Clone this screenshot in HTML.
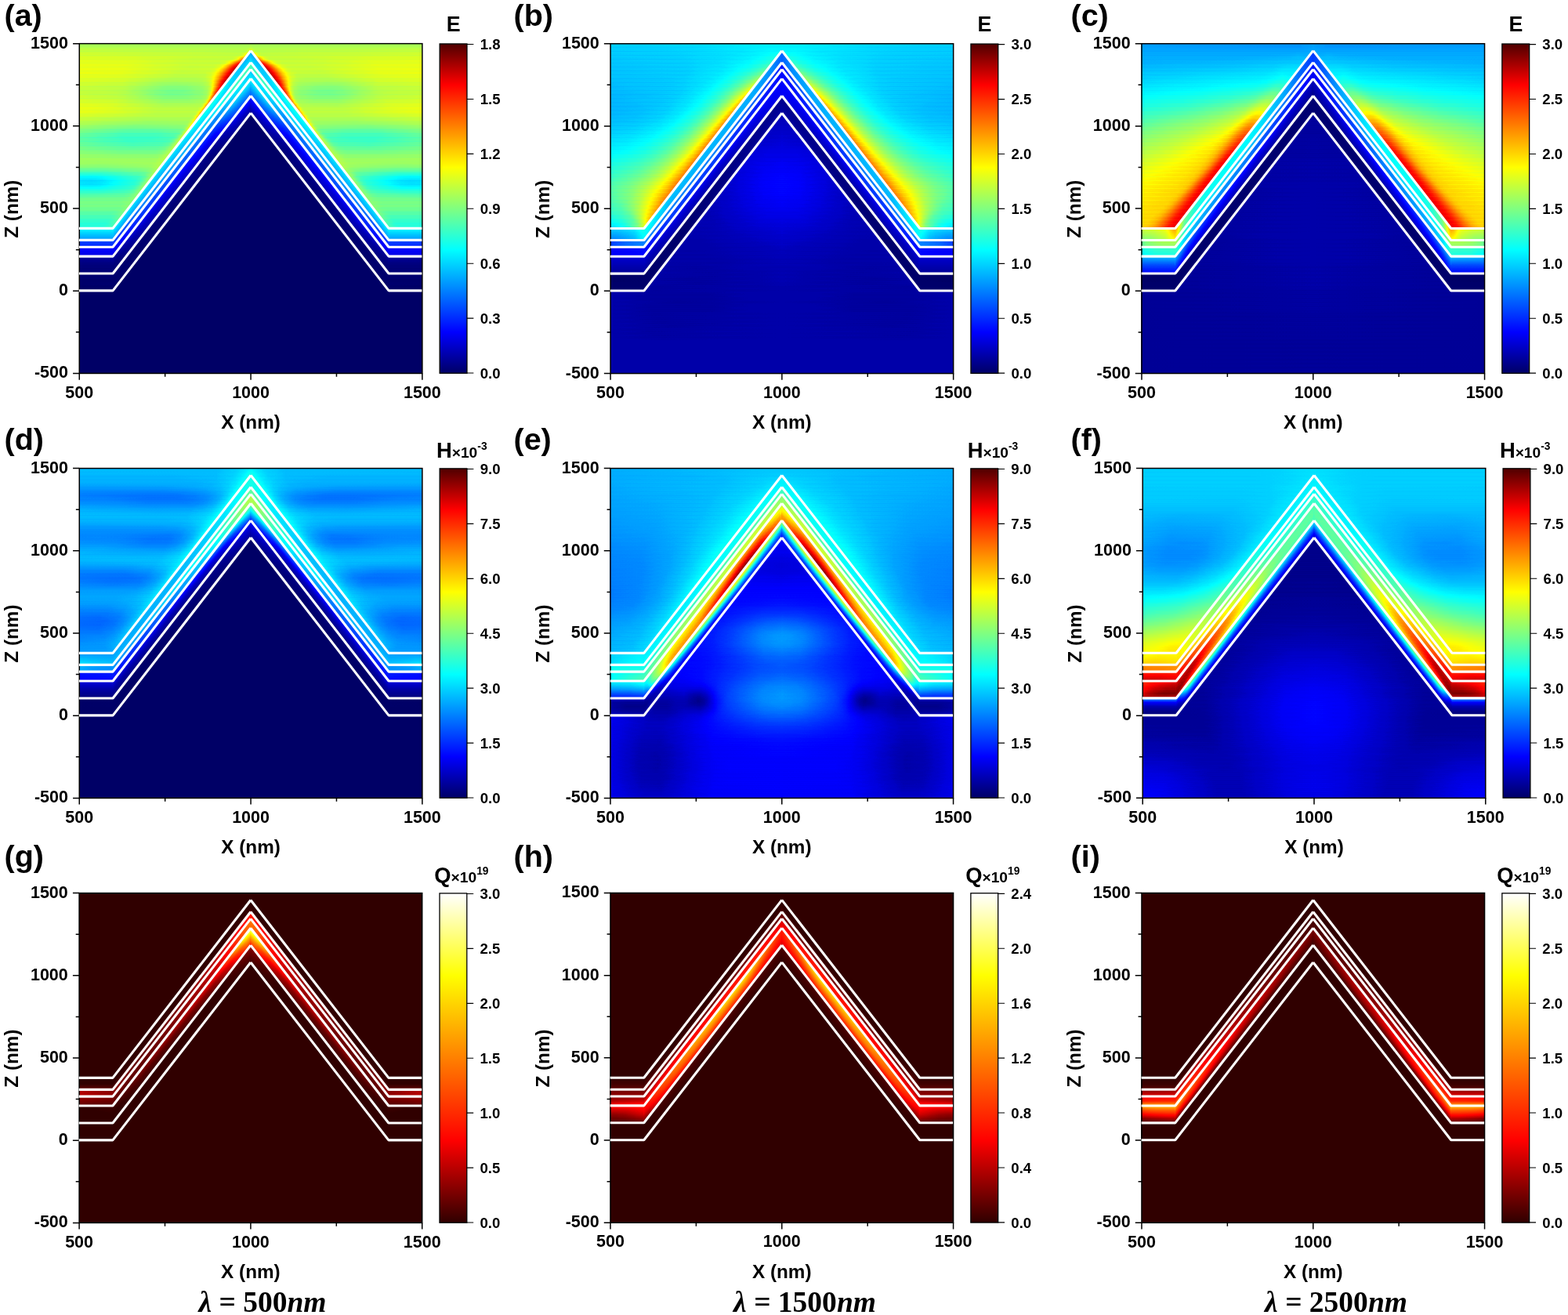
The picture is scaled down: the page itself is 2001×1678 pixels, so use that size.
<!DOCTYPE html>
<html lang="en"><head><meta charset="utf-8"><title>Field distributions</title><style>html,body{margin:0;padding:0;background:#fff}svg{display:block}</style></head><body><svg xmlns="http://www.w3.org/2000/svg" width="2001" height="1678" viewBox="0 0 2001 1678" font-family='"Liberation Sans", Arial, Helvetica, sans-serif' font-weight="bold" fill="#000"><defs><linearGradient id="vr" x1="0" y1="0" x2="0" y2="1"><stop offset="0" stop-color="#fff" stop-opacity="0"/><stop offset=".5" stop-color="#fff"/><stop offset="1" stop-color="#fff"/></linearGradient><mask id="vm" maskContentUnits="objectBoundingBox"><rect width="1" height="1" fill="url(#vr)"/></mask><linearGradient id="vr2" x1="0" y1="0" x2="0" y2="1"><stop offset="0" stop-color="#fff" stop-opacity="0"/><stop offset="1" stop-color="#fff"/></linearGradient><mask id="vm2" maskContentUnits="objectBoundingBox"><rect width="1" height="1" fill="url(#vr2)"/></mask><clipPath id="cla"><rect x="-4" y="-4" width="222.87" height="428.8"/></clipPath><clipPath id="clb"><rect x="-4" y="-4" width="223.67" height="428.8"/></clipPath><clipPath id="clc"><rect x="-4" y="-4" width="223.57" height="428.8"/></clipPath><clipPath id="cld"><rect x="-4" y="-4" width="222.87" height="428.8"/></clipPath><clipPath id="cle"><rect x="-4" y="-4" width="223.58" height="428.8"/></clipPath><clipPath id="clf"><rect x="-4" y="-4" width="222.81" height="428.8"/></clipPath><clipPath id="clg"><rect x="-4" y="-4" width="223.71" height="428.8"/></clipPath><clipPath id="clh"><rect x="-4" y="-4" width="223.58" height="428.8"/></clipPath><clipPath id="cli"><rect x="-4" y="-4" width="223.57" height="428.8"/></clipPath><clipPath id="cs"><rect x="42.8" y="-4" width="180" height="428.8"/></clipPath><filter id="jet" filterUnits="userSpaceOnUse" x="0" y="0" width="437.6" height="420.8" color-interpolation-filters="sRGB"><feComponentTransfer><feFuncR type="table" tableValues="0 0 0 0 .5 1 1 1 .31"/><feFuncG type="table" tableValues="0 0 .5 1 1 1 .5 0 0"/><feFuncB type="table" tableValues=".4 1 1 1 .5 0 0 0 0"/></feComponentTransfer></filter><linearGradient id="cbjet" x1="0" y1="1" x2="0" y2="0"><stop offset="0" stop-color="#000066"/><stop offset=".125" stop-color="#0000ff"/><stop offset=".25" stop-color="#0080ff"/><stop offset=".375" stop-color="#00ffff"/><stop offset=".5" stop-color="#80ff80"/><stop offset=".625" stop-color="#ffff00"/><stop offset=".75" stop-color="#ff8000"/><stop offset=".875" stop-color="#ff0000"/><stop offset="1" stop-color="#4f0000"/></linearGradient><filter id="hot" filterUnits="userSpaceOnUse" x="0" y="0" width="437.6" height="420.8" color-interpolation-filters="sRGB"><feComponentTransfer><feFuncR type="table" tableValues=".19 1 1 1 1"/><feFuncG type="table" tableValues="0 0 .5 1 1"/><feFuncB type="table" tableValues="0 0 0 0 1"/></feComponentTransfer></filter><linearGradient id="cbhot" x1="0" y1="1" x2="0" y2="0"><stop offset="0" stop-color="#300000"/><stop offset=".25" stop-color="#ff0000"/><stop offset=".5" stop-color="#ff8000"/><stop offset=".75" stop-color="#ffff00"/><stop offset="1" stop-color="#ffffff"/></linearGradient><path id="wl" d="M-.4 235.75H42.8L218.8 8.95M218.8 8.95L394.8 235.75H437.1M-.4 250.75H42.8L218.8 23.95M218.8 23.95L394.8 250.75H437.1M-.4 259.55H42.8L218.8 32.75M218.8 32.75L394.8 259.55H437.1M-.4 271.45H42.8L218.8 44.65M218.8 44.65L394.8 271.45H437.1M-.4 293.35H42.8L218.8 66.55M218.8 66.55L394.8 293.35H437.1M-.4 315.25H42.8L218.8 88.45M218.8 88.45L394.8 315.25H437.1" fill="none" stroke="#fff" stroke-width="3.1" stroke-linejoin="bevel"/><g id="ax"><rect x="0" y="0" width="437.6" height="420.8" fill="none" stroke="#000" stroke-width="1.5"/><path d="M0 420.8h-8.2M0 315.6h-8.2M0 210.4h-8.2M0 105.2h-8.2M0 0h-8.2M0 368.2h-4.4M0 263h-4.4M0 157.8h-4.4M0 52.6h-4.4M0 420.8v8.2M218.8 420.8v8.2M437.6 420.8v8.2M109.4 420.8v4.4M328.2 420.8v4.4" stroke="#000" stroke-width="1.5" fill="none"/></g><path id="ct" d="M494.7 420.4h8.4M494.7 350.48h8.4M494.7 280.57h8.4M494.7 210.65h8.4M494.7 140.73h8.4M494.7 70.82h8.4M494.7 .9h8.4" stroke="#000" stroke-width="1.1" fill="none"/><g id="tl" font-size="21.5"><text x="-14.3" y="426.8" text-anchor="end">-500</text><text x="-14.3" y="321.6" text-anchor="end">0</text><text x="-14.3" y="216.4" text-anchor="end">500</text><text x="-14.3" y="111.2" text-anchor="end">1000</text><text x="-14.3" y="6" text-anchor="end">1500</text><text x="0" y="452" text-anchor="middle">500</text><text x="218.8" y="452" text-anchor="middle">1000</text><text x="437.6" y="452" text-anchor="middle">1500</text><text x="218.8" y="491.3" text-anchor="middle" font-size="24.3">X (nm)</text><text transform="translate(-77.9 211) rotate(-90)" text-anchor="middle" font-size="24.3">Z (nm)</text></g><linearGradient id="g1" gradientUnits="userSpaceOnUse" x1="0" x2="219.4" y1="0" y2="0"><stop offset="0" stop-color="#8d8d8d"/><stop offset=".9863" stop-color="#8c8c8c"/><stop offset="1" stop-color="#909090"/></linearGradient><linearGradient id="g2" gradientUnits="userSpaceOnUse" x1="0" x2="219.4" y1="0" y2="0"><stop offset="0" stop-color="#929292"/><stop offset=".9635" stop-color="#8f8f8f"/><stop offset=".9726" stop-color="#919191"/><stop offset=".9909" stop-color="#9a9a9a"/><stop offset="1" stop-color="#9b9b9b"/></linearGradient><linearGradient id="g3" gradientUnits="userSpaceOnUse" x1="0" x2="219.4" y1="0" y2="0"><stop offset="0" stop-color="#959595"/><stop offset=".9361" stop-color="#919191"/><stop offset=".9498" stop-color="#959595"/><stop offset=".9726" stop-color="#a8a8a8"/><stop offset="1" stop-color="#a8a8a8"/></linearGradient><linearGradient id="g4" gradientUnits="userSpaceOnUse" x1="0" x2="219.4" y1="0" y2="0"><stop offset="0" stop-color="#989898"/><stop offset=".3196" stop-color="#979797"/><stop offset=".6575" stop-color="#929292"/><stop offset=".8904" stop-color="#929292"/><stop offset=".9132" stop-color="#999999"/><stop offset=".9224" stop-color="#a1a1a1"/><stop offset=".9452" stop-color="#bfbfbf"/><stop offset=".9543" stop-color="#c6c6c6"/><stop offset="1" stop-color="#c7c7c7"/></linearGradient><linearGradient id="g5" gradientUnits="userSpaceOnUse" x1="0" x2="219.4" y1="0" y2="0"><stop offset="0" stop-color="#9a9a9a"/><stop offset=".2785" stop-color="#999999"/><stop offset=".5799" stop-color="#939393"/><stop offset=".8174" stop-color="#929292"/><stop offset=".8493" stop-color="#979797"/><stop offset=".8676" stop-color="#a0a0a0"/><stop offset=".8858" stop-color="#afafaf"/><stop offset=".9178" stop-color="#d4d4d4"/><stop offset=".9269" stop-color="#dcdcdc"/><stop offset=".9361" stop-color="#e0e0e0"/><stop offset="1" stop-color="#e0e0e0"/></linearGradient><linearGradient id="g6" gradientUnits="userSpaceOnUse" x1="0" x2="219.4" y1="0" y2="0"><stop offset="0" stop-color="#9b9b9b"/><stop offset=".2603" stop-color="#9a9a9a"/><stop offset=".6484" stop-color="#929292"/><stop offset=".7854" stop-color="#939393"/><stop offset=".8174" stop-color="#9a9a9a"/><stop offset=".8402" stop-color="#a7a7a7"/><stop offset=".8539" stop-color="#b3b3b3"/><stop offset=".8904" stop-color="#dbdbdb"/><stop offset=".9041" stop-color="#e7e7e7"/><stop offset=".9178" stop-color="#ededed"/><stop offset="1" stop-color="#ededed"/></linearGradient><linearGradient id="g7" gradientUnits="userSpaceOnUse" x1="0" x2="219.4" y1="0" y2="0"><stop offset="0" stop-color="#9b9b9b"/><stop offset=".2511" stop-color="#9a9a9a"/><stop offset=".5936" stop-color="#929292"/><stop offset=".758" stop-color="#939393"/><stop offset=".7854" stop-color="#989898"/><stop offset=".8082" stop-color="#a2a2a2"/><stop offset=".8311" stop-color="#b3b3b3"/><stop offset=".8721" stop-color="#dddddd"/><stop offset=".8904" stop-color="#eaeaea"/><stop offset=".8995" stop-color="#ededed"/><stop offset="1" stop-color="#ededed"/></linearGradient><linearGradient id="g8" gradientUnits="userSpaceOnUse" x1="0" x2="219.4" y1="0" y2="0"><stop offset="0" stop-color="#9a9a9a"/><stop offset=".2237" stop-color="#999999"/><stop offset=".5936" stop-color="#909090"/><stop offset=".7306" stop-color="#919191"/><stop offset=".7671" stop-color="#979797"/><stop offset=".79" stop-color="#a1a1a1"/><stop offset=".8128" stop-color="#b2b2b2"/><stop offset=".8493" stop-color="#d8d8d8"/><stop offset=".863" stop-color="#e4e4e4"/><stop offset=".8813" stop-color="#ededed"/><stop offset="1" stop-color="#ededed"/></linearGradient><linearGradient id="g9" gradientUnits="userSpaceOnUse" x1="0" x2="219.4" y1="0" y2="0"><stop offset="0" stop-color="#989898"/><stop offset=".2557" stop-color="#969696"/><stop offset=".5251" stop-color="#8d8d8d"/><stop offset=".6758" stop-color="#8d8d8d"/><stop offset=".726" stop-color="#8f8f8f"/><stop offset=".758" stop-color="#959595"/><stop offset=".7717" stop-color="#9b9b9b"/><stop offset=".7854" stop-color="#a4a4a4"/><stop offset=".8082" stop-color="#b9b9b9"/><stop offset=".8265" stop-color="#cfcfcf"/><stop offset=".8447" stop-color="#e2e2e2"/><stop offset=".8584" stop-color="#ebebeb"/><stop offset=".8676" stop-color="#ededed"/><stop offset="1" stop-color="#ededed"/></linearGradient><linearGradient id="g10" gradientUnits="userSpaceOnUse" x1="0" x2="219.4" y1="0" y2="0"><stop offset="0" stop-color="#959595"/><stop offset=".2511" stop-color="#939393"/><stop offset=".4703" stop-color="#898989"/><stop offset=".5571" stop-color="#878787"/><stop offset=".7169" stop-color="#8b8b8b"/><stop offset=".7397" stop-color="#8e8e8e"/><stop offset=".7534" stop-color="#929292"/><stop offset=".7671" stop-color="#999999"/><stop offset=".7808" stop-color="#a4a4a4"/><stop offset=".7945" stop-color="#b3b3b3"/><stop offset=".8219" stop-color="#d8d8d8"/><stop offset=".8311" stop-color="#e2e2e2"/><stop offset=".8447" stop-color="#ececec"/><stop offset=".9909" stop-color="#ededed"/><stop offset=".9954" stop-color="#000000"/><stop offset="1" stop-color="#000000"/></linearGradient><linearGradient id="g11" gradientUnits="userSpaceOnUse" x1="0" x2="219.4" y1="0" y2="0"><stop offset="0" stop-color="#939393"/><stop offset=".2511" stop-color="#909090"/><stop offset=".5023" stop-color="#828282"/><stop offset=".6119" stop-color="#828282"/><stop offset=".7169" stop-color="#878787"/><stop offset=".7489" stop-color="#8d8d8d"/><stop offset=".7626" stop-color="#949494"/><stop offset=".7808" stop-color="#a6a6a6"/><stop offset=".8128" stop-color="#d6d6d6"/><stop offset=".8219" stop-color="#e0e0e0"/><stop offset=".8311" stop-color="#e5e5e5"/><stop offset=".9726" stop-color="#e6e6e6"/><stop offset=".9772" stop-color="#000000"/><stop offset="1" stop-color="#000000"/></linearGradient><linearGradient id="g12" gradientUnits="userSpaceOnUse" x1="0" x2="219.4" y1="0" y2="0"><stop offset="0" stop-color="#919191"/><stop offset=".1324" stop-color="#919191"/><stop offset=".2511" stop-color="#8e8e8e"/><stop offset=".4429" stop-color="#818181"/><stop offset=".5434" stop-color="#7d7d7d"/><stop offset=".6073" stop-color="#7e7e7e"/><stop offset=".7123" stop-color="#848484"/><stop offset=".7443" stop-color="#898989"/><stop offset=".7626" stop-color="#959595"/><stop offset=".7717" stop-color="#a0a0a0"/><stop offset=".7945" stop-color="#cacaca"/><stop offset=".8037" stop-color="#d9d9d9"/><stop offset=".8128" stop-color="#e1e1e1"/><stop offset=".9543" stop-color="#e2e2e2"/><stop offset=".9589" stop-color="#000000"/><stop offset="1" stop-color="#000000"/></linearGradient><linearGradient id="g13" gradientUnits="userSpaceOnUse" x1="0" x2="219.4" y1="0" y2="0"><stop offset="0" stop-color="#929292"/><stop offset=".2237" stop-color="#8f8f8f"/><stop offset=".3379" stop-color="#898989"/><stop offset=".4566" stop-color="#808080"/><stop offset=".5388" stop-color="#7d7d7d"/><stop offset=".6347" stop-color="#7f7f7f"/><stop offset=".7169" stop-color="#848484"/><stop offset=".7397" stop-color="#888888"/><stop offset=".7534" stop-color="#909090"/><stop offset=".7626" stop-color="#9c9c9c"/><stop offset=".7717" stop-color="#aeaeae"/><stop offset=".7808" stop-color="#c4c4c4"/><stop offset=".79" stop-color="#d5d5d5"/><stop offset=".7945" stop-color="#dadada"/><stop offset=".7991" stop-color="#dcdcdc"/><stop offset=".9361" stop-color="#dcdcdc"/><stop offset=".9406" stop-color="#000000"/><stop offset="1" stop-color="#000000"/></linearGradient><linearGradient id="g14" gradientUnits="userSpaceOnUse" x1="0" x2="219.4" y1="0" y2="0"><stop offset="0" stop-color="#949494"/><stop offset=".2283" stop-color="#919191"/><stop offset=".5023" stop-color="#828282"/><stop offset=".6119" stop-color="#828282"/><stop offset=".7032" stop-color="#868686"/><stop offset=".7352" stop-color="#8a8a8a"/><stop offset=".7443" stop-color="#919191"/><stop offset=".7489" stop-color="#969696"/><stop offset=".7534" stop-color="#9e9e9e"/><stop offset=".7717" stop-color="#c9c9c9"/><stop offset=".7763" stop-color="#d1d1d1"/><stop offset=".7808" stop-color="#d4d4d4"/><stop offset=".9224" stop-color="#d4d4d4"/><stop offset=".9269" stop-color="#000000"/><stop offset="1" stop-color="#000000"/></linearGradient><linearGradient id="g15" gradientUnits="userSpaceOnUse" x1="0" x2="219.4" y1="0" y2="0"><stop offset="0" stop-color="#979797"/><stop offset=".1963" stop-color="#959595"/><stop offset=".4932" stop-color="#888888"/><stop offset=".6301" stop-color="#888888"/><stop offset=".7169" stop-color="#8b8b8b"/><stop offset=".726" stop-color="#8e8e8e"/><stop offset=".7352" stop-color="#969696"/><stop offset=".7397" stop-color="#9d9d9d"/><stop offset=".7443" stop-color="#a7a7a7"/><stop offset=".7534" stop-color="#bfbfbf"/><stop offset=".758" stop-color="#c9c9c9"/><stop offset=".7626" stop-color="#cdcdcd"/><stop offset=".9041" stop-color="#cdcdcd"/><stop offset=".9087" stop-color="#000000"/><stop offset="1" stop-color="#000000"/></linearGradient><linearGradient id="g16" gradientUnits="userSpaceOnUse" x1="0" x2="219.4" y1="0" y2="0"><stop offset="0" stop-color="#9a9a9a"/><stop offset=".1781" stop-color="#989898"/><stop offset=".4932" stop-color="#8d8d8d"/><stop offset=".6986" stop-color="#8e8e8e"/><stop offset=".7123" stop-color="#929292"/><stop offset=".7169" stop-color="#969696"/><stop offset=".7215" stop-color="#9c9c9c"/><stop offset=".7352" stop-color="#bababa"/><stop offset=".7397" stop-color="#c2c2c2"/><stop offset=".7443" stop-color="#c7c7c7"/><stop offset=".8858" stop-color="#c7c7c7"/><stop offset=".8904" stop-color="#000000"/><stop offset="1" stop-color="#000000"/></linearGradient><linearGradient id="g17" gradientUnits="userSpaceOnUse" x1="0" x2="219.4" y1="0" y2="0"><stop offset="0" stop-color="#9b9b9b"/><stop offset=".1598" stop-color="#999999"/><stop offset=".4658" stop-color="#909090"/><stop offset=".6804" stop-color="#909090"/><stop offset=".6895" stop-color="#919191"/><stop offset=".6986" stop-color="#969696"/><stop offset=".7032" stop-color="#9b9b9b"/><stop offset=".7215" stop-color="#bdbdbd"/><stop offset=".726" stop-color="#c1c1c1"/><stop offset=".8676" stop-color="#c2c2c2"/><stop offset=".8721" stop-color="#000000"/><stop offset="1" stop-color="#000000"/></linearGradient><linearGradient id="g18" gradientUnits="userSpaceOnUse" x1="0" x2="219.4" y1="0" y2="0"><stop offset="0" stop-color="#989898"/><stop offset=".1735" stop-color="#969696"/><stop offset=".4521" stop-color="#8f8f8f"/><stop offset=".6621" stop-color="#8f8f8f"/><stop offset=".6712" stop-color="#909090"/><stop offset=".6804" stop-color="#949494"/><stop offset=".6895" stop-color="#9f9f9f"/><stop offset=".7032" stop-color="#b8b8b8"/><stop offset=".7078" stop-color="#bcbcbc"/><stop offset=".8493" stop-color="#bdbdbd"/><stop offset=".8539" stop-color="#000000"/><stop offset="1" stop-color="#000000"/></linearGradient><linearGradient id="g19" gradientUnits="userSpaceOnUse" x1="0" x2="219.4" y1="0" y2="0"><stop offset="0" stop-color="#939393"/><stop offset=".379" stop-color="#8c8c8c"/><stop offset=".6438" stop-color="#8c8c8c"/><stop offset=".653" stop-color="#8d8d8d"/><stop offset=".6621" stop-color="#919191"/><stop offset=".6667" stop-color="#959595"/><stop offset=".6712" stop-color="#9b9b9b"/><stop offset=".6849" stop-color="#b3b3b3"/><stop offset=".6941" stop-color="#b9b9b9"/><stop offset=".8311" stop-color="#b9b9b9"/><stop offset=".8356" stop-color="#000000"/><stop offset="1" stop-color="#000000"/></linearGradient><linearGradient id="g20" gradientUnits="userSpaceOnUse" x1="0" x2="219.4" y1="0" y2="0"><stop offset="0" stop-color="#8e8e8e"/><stop offset=".4018" stop-color="#878787"/><stop offset=".6301" stop-color="#898989"/><stop offset=".6393" stop-color="#8b8b8b"/><stop offset=".6484" stop-color="#919191"/><stop offset=".653" stop-color="#969696"/><stop offset=".6667" stop-color="#acacac"/><stop offset=".6712" stop-color="#b1b1b1"/><stop offset=".8128" stop-color="#b2b2b2"/><stop offset=".8174" stop-color="#000000"/><stop offset="1" stop-color="#000000"/></linearGradient><linearGradient id="g21" gradientUnits="userSpaceOnUse" x1="0" x2="219.4" y1="0" y2="0"><stop offset="0" stop-color="#888888"/><stop offset=".3151" stop-color="#818181"/><stop offset=".6073" stop-color="#848484"/><stop offset=".621" stop-color="#868686"/><stop offset=".6301" stop-color="#8b8b8b"/><stop offset=".6393" stop-color="#969696"/><stop offset=".6484" stop-color="#a4a4a4"/><stop offset=".653" stop-color="#a9a9a9"/><stop offset=".6575" stop-color="#ababab"/><stop offset=".7945" stop-color="#ababab"/><stop offset=".7991" stop-color="#000000"/><stop offset="1" stop-color="#000000"/></linearGradient><linearGradient id="g22" gradientUnits="userSpaceOnUse" x1="0" x2="219.4" y1="0" y2="0"><stop offset="0" stop-color="#818181"/><stop offset=".2831" stop-color="#797979"/><stop offset=".4292" stop-color="#797979"/><stop offset=".589" stop-color="#7d7d7d"/><stop offset=".6027" stop-color="#7f7f7f"/><stop offset=".6119" stop-color="#848484"/><stop offset=".621" stop-color="#8f8f8f"/><stop offset=".6301" stop-color="#9d9d9d"/><stop offset=".6347" stop-color="#a2a2a2"/><stop offset=".6393" stop-color="#a4a4a4"/><stop offset=".7808" stop-color="#a4a4a4"/><stop offset=".7854" stop-color="#000000"/><stop offset="1" stop-color="#000000"/></linearGradient><linearGradient id="g23" gradientUnits="userSpaceOnUse" x1="0" x2="219.4" y1="0" y2="0"><stop offset="0" stop-color="#7b7b7b"/><stop offset=".2648" stop-color="#727272"/><stop offset=".4338" stop-color="#727272"/><stop offset=".5616" stop-color="#767676"/><stop offset=".5799" stop-color="#787878"/><stop offset=".5936" stop-color="#808080"/><stop offset=".6119" stop-color="#989898"/><stop offset=".621" stop-color="#9e9e9e"/><stop offset=".7626" stop-color="#9e9e9e"/><stop offset=".7671" stop-color="#000000"/><stop offset="1" stop-color="#000000"/></linearGradient><linearGradient id="g24" gradientUnits="userSpaceOnUse" x1="0" x2="219.4" y1="0" y2="0"><stop offset="0" stop-color="#777777"/><stop offset=".274" stop-color="#6e6e6e"/><stop offset=".4201" stop-color="#6e6e6e"/><stop offset=".5388" stop-color="#727272"/><stop offset=".5525" stop-color="#747474"/><stop offset=".5662" stop-color="#7a7a7a"/><stop offset=".5936" stop-color="#949494"/><stop offset=".6027" stop-color="#999999"/><stop offset=".7443" stop-color="#999999"/><stop offset=".7489" stop-color="#000000"/><stop offset="1" stop-color="#000000"/></linearGradient><linearGradient id="g25" gradientUnits="userSpaceOnUse" x1="0" x2="219.4" y1="0" y2="0"><stop offset="0" stop-color="#787878"/><stop offset=".2831" stop-color="#6f6f6f"/><stop offset=".484" stop-color="#717171"/><stop offset=".5251" stop-color="#747474"/><stop offset=".5342" stop-color="#777777"/><stop offset=".5479" stop-color="#7e7e7e"/><stop offset=".5708" stop-color="#8f8f8f"/><stop offset=".5845" stop-color="#949494"/><stop offset=".726" stop-color="#949494"/><stop offset=".7306" stop-color="#000000"/><stop offset="1" stop-color="#000000"/></linearGradient><linearGradient id="g26" gradientUnits="userSpaceOnUse" x1="0" x2="219.4" y1="0" y2="0"><stop offset="0" stop-color="#7b7b7b"/><stop offset=".3105" stop-color="#737373"/><stop offset=".4795" stop-color="#757575"/><stop offset=".516" stop-color="#7a7a7a"/><stop offset=".5297" stop-color="#808080"/><stop offset=".5479" stop-color="#8b8b8b"/><stop offset=".5662" stop-color="#919191"/><stop offset=".7078" stop-color="#919191"/><stop offset=".7123" stop-color="#000000"/><stop offset="1" stop-color="#000000"/></linearGradient><linearGradient id="g27" gradientUnits="userSpaceOnUse" x1="0" x2="219.4" y1="0" y2="0"><stop offset="0" stop-color="#7f7f7f"/><stop offset=".242" stop-color="#7a7a7a"/><stop offset=".4475" stop-color="#7a7a7a"/><stop offset=".4977" stop-color="#7e7e7e"/><stop offset=".5434" stop-color="#909090"/><stop offset=".6895" stop-color="#909090"/><stop offset=".6941" stop-color="#000000"/><stop offset="1" stop-color="#000000"/></linearGradient><linearGradient id="g28" gradientUnits="userSpaceOnUse" x1="0" x2="219.4" y1="0" y2="0"><stop offset="0" stop-color="#848484"/><stop offset=".2557" stop-color="#808080"/><stop offset=".4338" stop-color="#808080"/><stop offset=".4749" stop-color="#828282"/><stop offset=".5297" stop-color="#909090"/><stop offset=".6712" stop-color="#909090"/><stop offset=".6758" stop-color="#000000"/><stop offset="1" stop-color="#000000"/></linearGradient><linearGradient id="g29" gradientUnits="userSpaceOnUse" x1="0" x2="219.4" y1="0" y2="0"><stop offset="0" stop-color="#878787"/><stop offset=".4018" stop-color="#858585"/><stop offset=".4521" stop-color="#868686"/><stop offset=".5068" stop-color="#8f8f8f"/><stop offset=".6575" stop-color="#8f8f8f"/><stop offset=".6621" stop-color="#000000"/><stop offset="1" stop-color="#000000"/></linearGradient><linearGradient id="g30" gradientUnits="userSpaceOnUse" x1="0" x2="219.4" y1="0" y2="0"><stop offset="0" stop-color="#898989"/><stop offset=".3333" stop-color="#888888"/><stop offset=".4384" stop-color="#898989"/><stop offset=".4932" stop-color="#8f8f8f"/><stop offset=".6393" stop-color="#8f8f8f"/><stop offset=".6438" stop-color="#000000"/><stop offset="1" stop-color="#000000"/></linearGradient><linearGradient id="g31" gradientUnits="userSpaceOnUse" x1="0" x2="219.4" y1="0" y2="0"><stop offset="0" stop-color="#868686"/><stop offset=".1187" stop-color="#858585"/><stop offset=".4155" stop-color="#888888"/><stop offset=".4749" stop-color="#8e8e8e"/><stop offset=".621" stop-color="#8e8e8e"/><stop offset=".6256" stop-color="#000000"/><stop offset="1" stop-color="#000000"/></linearGradient><linearGradient id="g32" gradientUnits="userSpaceOnUse" x1="0" x2="219.4" y1="0" y2="0"><stop offset="0" stop-color="#7c7c7c"/><stop offset=".1553" stop-color="#7c7c7c"/><stop offset=".3562" stop-color="#818181"/><stop offset=".4201" stop-color="#858585"/><stop offset=".4612" stop-color="#8d8d8d"/><stop offset=".6027" stop-color="#8d8d8d"/><stop offset=".6073" stop-color="#000000"/><stop offset="1" stop-color="#000000"/></linearGradient><linearGradient id="g33" gradientUnits="userSpaceOnUse" x1="0" x2="219.4" y1="0" y2="0"><stop offset="0" stop-color="#6e6e6e"/><stop offset=".1279" stop-color="#6e6e6e"/><stop offset=".3653" stop-color="#797979"/><stop offset=".379" stop-color="#7a7a7a"/><stop offset=".4064" stop-color="#808080"/><stop offset=".4384" stop-color="#8b8b8b"/><stop offset=".5845" stop-color="#8b8b8b"/><stop offset=".589" stop-color="#000000"/><stop offset="1" stop-color="#000000"/></linearGradient><linearGradient id="g34" gradientUnits="userSpaceOnUse" x1="0" x2="219.4" y1="0" y2="0"><stop offset="0" stop-color="#606060"/><stop offset=".0731" stop-color="#5f5f5f"/><stop offset=".137" stop-color="#616161"/><stop offset=".347" stop-color="#707070"/><stop offset=".3836" stop-color="#787878"/><stop offset=".4064" stop-color="#848484"/><stop offset=".4247" stop-color="#8a8a8a"/><stop offset=".5662" stop-color="#8a8a8a"/><stop offset=".5708" stop-color="#000000"/><stop offset="1" stop-color="#000000"/></linearGradient><linearGradient id="g35" gradientUnits="userSpaceOnUse" x1="0" x2="219.4" y1="0" y2="0"><stop offset="0" stop-color="#585858"/><stop offset=".0685" stop-color="#575757"/><stop offset=".1279" stop-color="#595959"/><stop offset=".3288" stop-color="#6a6a6a"/><stop offset=".3562" stop-color="#707070"/><stop offset=".3699" stop-color="#767676"/><stop offset=".3927" stop-color="#848484"/><stop offset=".4064" stop-color="#888888"/><stop offset=".5479" stop-color="#888888"/><stop offset=".5525" stop-color="#000000"/><stop offset="1" stop-color="#000000"/></linearGradient><linearGradient id="g36" gradientUnits="userSpaceOnUse" x1="0" x2="219.4" y1="0" y2="0"><stop offset="0" stop-color="#5a5a5a"/><stop offset=".0639" stop-color="#595959"/><stop offset=".1279" stop-color="#5b5b5b"/><stop offset=".3196" stop-color="#6b6b6b"/><stop offset=".3425" stop-color="#717171"/><stop offset=".3699" stop-color="#808080"/><stop offset=".3881" stop-color="#878787"/><stop offset=".5297" stop-color="#878787"/><stop offset=".5342" stop-color="#000000"/><stop offset="1" stop-color="#000000"/></linearGradient><linearGradient id="g37" gradientUnits="userSpaceOnUse" x1="0" x2="219.4" y1="0" y2="0"><stop offset="0" stop-color="#636363"/><stop offset=".1142" stop-color="#636363"/><stop offset=".2877" stop-color="#6d6d6d"/><stop offset=".3196" stop-color="#727272"/><stop offset=".3607" stop-color="#848484"/><stop offset=".3699" stop-color="#868686"/><stop offset=".516" stop-color="#868686"/><stop offset=".5205" stop-color="#000000"/><stop offset="1" stop-color="#000000"/></linearGradient><linearGradient id="g38" gradientUnits="userSpaceOnUse" x1="0" x2="219.4" y1="0" y2="0"><stop offset="0" stop-color="#6e6e6e"/><stop offset=".1142" stop-color="#6e6e6e"/><stop offset=".2603" stop-color="#737373"/><stop offset=".2968" stop-color="#767676"/><stop offset=".3151" stop-color="#7a7a7a"/><stop offset=".3425" stop-color="#848484"/><stop offset=".3562" stop-color="#868686"/><stop offset=".4977" stop-color="#868686"/><stop offset=".5023" stop-color="#000000"/><stop offset="1" stop-color="#000000"/></linearGradient><linearGradient id="g39" gradientUnits="userSpaceOnUse" x1="0" x2="219.4" y1="0" y2="0"><stop offset="0" stop-color="#787878"/><stop offset=".2603" stop-color="#7a7a7a"/><stop offset=".2877" stop-color="#7c7c7c"/><stop offset=".3333" stop-color="#858585"/><stop offset=".4795" stop-color="#858585"/><stop offset=".484" stop-color="#000000"/><stop offset="1" stop-color="#000000"/></linearGradient><linearGradient id="g40" gradientUnits="userSpaceOnUse" x1="0" x2="219.4" y1="0" y2="0"><stop offset="0" stop-color="#7e7e7e"/><stop offset=".2374" stop-color="#7e7e7e"/><stop offset=".2785" stop-color="#808080"/><stop offset=".3105" stop-color="#848484"/><stop offset=".4612" stop-color="#848484"/><stop offset=".4658" stop-color="#000000"/><stop offset="1" stop-color="#000000"/></linearGradient><linearGradient id="g41" gradientUnits="userSpaceOnUse" x1="0" x2="219.4" y1="0" y2="0"><stop offset="0" stop-color="#7f7f7f"/><stop offset=".2374" stop-color="#7f7f7f"/><stop offset=".2877" stop-color="#838383"/><stop offset=".4429" stop-color="#838383"/><stop offset=".4475" stop-color="#000000"/><stop offset="1" stop-color="#000000"/></linearGradient><linearGradient id="g42" gradientUnits="userSpaceOnUse" x1="0" x2="219.4" y1="0" y2="0"><stop offset="0" stop-color="#7d7d7d"/><stop offset=".2329" stop-color="#7d7d7d"/><stop offset=".274" stop-color="#828282"/><stop offset=".4247" stop-color="#828282"/><stop offset=".4292" stop-color="#000000"/><stop offset="1" stop-color="#000000"/></linearGradient><linearGradient id="g43" gradientUnits="userSpaceOnUse" x1="0" x2="219.4" y1="0" y2="0"><stop offset="0" stop-color="#787878"/><stop offset=".1963" stop-color="#787878"/><stop offset=".2237" stop-color="#7a7a7a"/><stop offset=".2603" stop-color="#808080"/><stop offset=".4064" stop-color="#808080"/><stop offset=".411" stop-color="#000000"/><stop offset="1" stop-color="#000000"/></linearGradient><linearGradient id="g44" gradientUnits="userSpaceOnUse" x1="0" x2="219.4" y1="0" y2="0"><stop offset="0" stop-color="#737373"/><stop offset=".1826" stop-color="#737373"/><stop offset=".2055" stop-color="#757575"/><stop offset=".242" stop-color="#7d7d7d"/><stop offset=".3881" stop-color="#7d7d7d"/><stop offset=".3927" stop-color="#000000"/><stop offset="1" stop-color="#000000"/></linearGradient><linearGradient id="g45" gradientUnits="userSpaceOnUse" x1="0" x2="219.4" y1="0" y2="0"><stop offset="0" stop-color="#6e6e6e"/><stop offset=".1689" stop-color="#6e6e6e"/><stop offset=".1918" stop-color="#717171"/><stop offset=".2329" stop-color="#7a7a7a"/><stop offset=".3744" stop-color="#7a7a7a"/><stop offset=".379" stop-color="#000000"/><stop offset="1" stop-color="#000000"/></linearGradient><linearGradient id="g46" gradientUnits="userSpaceOnUse" x1="0" x2="219.4" y1="0" y2="0"><stop offset="0" stop-color="#6a6a6a"/><stop offset=".1507" stop-color="#6a6a6a"/><stop offset=".1689" stop-color="#6c6c6c"/><stop offset=".2055" stop-color="#757575"/><stop offset=".3562" stop-color="#757575"/><stop offset=".3607" stop-color="#000000"/><stop offset="1" stop-color="#000000"/></linearGradient><linearGradient id="g47" gradientUnits="userSpaceOnUse" x1="0" x2="219.4" y1="0" y2="0"><stop offset="0" stop-color="#676767"/><stop offset=".137" stop-color="#686868"/><stop offset=".1918" stop-color="#717171"/><stop offset=".3379" stop-color="#717171"/><stop offset=".3425" stop-color="#000000"/><stop offset="1" stop-color="#000000"/></linearGradient><linearGradient id="g48" gradientUnits="userSpaceOnUse" x1="0" x2="219.4" y1="0" y2="0"><stop offset="0" stop-color="#666666"/><stop offset=".1096" stop-color="#666666"/><stop offset=".1324" stop-color="#686868"/><stop offset=".1735" stop-color="#707070"/><stop offset=".3196" stop-color="#707070"/><stop offset=".3242" stop-color="#000000"/><stop offset="1" stop-color="#000000"/></linearGradient><linearGradient id="g49" gradientUnits="userSpaceOnUse" x1="0" x2="219.4" y1="0" y2="0"><stop offset="0" stop-color="#666666"/><stop offset=".0913" stop-color="#666666"/><stop offset=".1142" stop-color="#686868"/><stop offset=".1553" stop-color="#707070"/><stop offset=".3014" stop-color="#707070"/><stop offset=".3059" stop-color="#000000"/><stop offset="1" stop-color="#000000"/></linearGradient><linearGradient id="g50" gradientUnits="userSpaceOnUse" x1="0" x2="219.4" y1="0" y2="0"><stop offset="0" stop-color="#666666"/><stop offset=".0731" stop-color="#666666"/><stop offset=".1096" stop-color="#6a6a6a"/><stop offset=".137" stop-color="#707070"/><stop offset=".2831" stop-color="#707070"/><stop offset=".2877" stop-color="#000000"/><stop offset="1" stop-color="#000000"/></linearGradient><linearGradient id="g51" gradientUnits="userSpaceOnUse" x1="0" x2="219.4" y1="0" y2="0"><stop offset="0" stop-color="#666666"/><stop offset=".0731" stop-color="#676767"/><stop offset=".1187" stop-color="#707070"/><stop offset=".2648" stop-color="#707070"/><stop offset=".2694" stop-color="#000000"/><stop offset="1" stop-color="#000000"/></linearGradient><linearGradient id="g52" gradientUnits="userSpaceOnUse" x1="0" x2="219.4" y1="0" y2="0"><stop offset="0" stop-color="#666666"/><stop offset=".0548" stop-color="#676767"/><stop offset=".1005" stop-color="#707070"/><stop offset=".2466" stop-color="#707070"/><stop offset=".2511" stop-color="#000000"/><stop offset="1" stop-color="#000000"/></linearGradient><linearGradient id="g53" gradientUnits="userSpaceOnUse" x1="0" x2="219.4" y1="0" y2="0"><stop offset="0" stop-color="#666666"/><stop offset=".0457" stop-color="#686868"/><stop offset=".0822" stop-color="#707070"/><stop offset=".2329" stop-color="#707070"/><stop offset=".2374" stop-color="#000000"/><stop offset="1" stop-color="#000000"/></linearGradient><linearGradient id="g54" gradientUnits="userSpaceOnUse" x1="0" x2="219.4" y1="0" y2="0"><stop offset="0" stop-color="#666666"/><stop offset=".0274" stop-color="#686868"/><stop offset=".0639" stop-color="#707070"/><stop offset=".2146" stop-color="#707070"/><stop offset=".2192" stop-color="#000000"/><stop offset="1" stop-color="#000000"/></linearGradient><linearGradient id="g55" gradientUnits="userSpaceOnUse" x1="0" x2="219.4" y1="0" y2="0"><stop offset="0" stop-color="#676767"/><stop offset=".0502" stop-color="#707070"/><stop offset=".1963" stop-color="#707070"/><stop offset=".2009" stop-color="#000000"/><stop offset="1" stop-color="#000000"/></linearGradient><linearGradient id="g56" gradientUnits="userSpaceOnUse" x1="0" x2="219.4" y1="0" y2="0"><stop offset="0" stop-color="#606060"/><stop offset=".21" stop-color="#606060"/><stop offset=".3196" stop-color="#5c5c5c"/><stop offset=".4749" stop-color="#5c5c5c"/><stop offset=".5982" stop-color="#5e5e5e"/><stop offset=".7352" stop-color="#6a6a6a"/><stop offset=".79" stop-color="#6b6b6b"/><stop offset=".8219" stop-color="#676767"/><stop offset=".9041" stop-color="#555555"/><stop offset="1" stop-color="#454545"/></linearGradient><linearGradient id="g57" gradientUnits="userSpaceOnUse" x1="0" x2="219.4" y1="0" y2="0"><stop offset="0" stop-color="#454545"/><stop offset=".2648" stop-color="#454545"/><stop offset=".516" stop-color="#4a4a4a"/><stop offset=".6164" stop-color="#4d4d4d"/><stop offset=".7397" stop-color="#545454"/><stop offset=".9224" stop-color="#545454"/><stop offset="1" stop-color="#5c5c5c"/></linearGradient><linearGradient id="g58" gradientUnits="userSpaceOnUse" x1="0" x2="219.4" y1="0" y2="0"><stop offset="0" stop-color="#333333"/><stop offset=".2329" stop-color="#343434"/><stop offset=".3836" stop-color="#444444"/><stop offset=".5662" stop-color="#4d4d4d"/><stop offset=".7489" stop-color="#595959"/><stop offset=".7945" stop-color="#5e5e5e"/><stop offset=".8813" stop-color="#707070"/><stop offset=".9543" stop-color="#757575"/><stop offset="1" stop-color="#757575"/></linearGradient><linearGradient id="g59" gradientUnits="userSpaceOnUse" x1="0" x2="219.4" y1="0" y2="0"><stop offset="0" stop-color="#292929"/><stop offset=".2146" stop-color="#292929"/><stop offset=".2466" stop-color="#2c2c2c"/><stop offset=".3196" stop-color="#383838"/><stop offset=".3699" stop-color="#3e3e3e"/><stop offset=".5845" stop-color="#494949"/><stop offset=".7717" stop-color="#565656"/><stop offset=".8858" stop-color="#6a6a6a"/><stop offset="1" stop-color="#6b6b6b"/></linearGradient><linearGradient id="g60" gradientUnits="userSpaceOnUse" x1="0" x2="219.4" y1="0" y2="0"><stop offset="0" stop-color="#222222"/><stop offset=".2009" stop-color="#222222"/><stop offset=".242" stop-color="#242424"/><stop offset=".3288" stop-color="#2e2e2e"/><stop offset=".3836" stop-color="#323232"/><stop offset=".7443" stop-color="#424242"/><stop offset=".7991" stop-color="#484848"/><stop offset=".8539" stop-color="#565656"/><stop offset=".8995" stop-color="#5e5e5e"/><stop offset=".9361" stop-color="#5d5d5d"/><stop offset=".9726" stop-color="#555555"/><stop offset="1" stop-color="#4c4c4c"/></linearGradient><linearGradient id="g61" gradientUnits="userSpaceOnUse" x1="0" x2="219.4" y1="0" y2="0"><stop offset="0" stop-color="#1a1a1a"/><stop offset=".2192" stop-color="#1a1a1a"/><stop offset=".2603" stop-color="#1e1e1e"/><stop offset=".3196" stop-color="#272727"/><stop offset=".3836" stop-color="#2d2d2d"/><stop offset=".7626" stop-color="#3c3c3c"/><stop offset=".8037" stop-color="#404040"/><stop offset=".9224" stop-color="#565656"/><stop offset="1" stop-color="#5e5e5e"/></linearGradient><linearGradient id="g62" gradientUnits="userSpaceOnUse" x1="0" x2="219.4" y1="0" y2="0"><stop offset="0" stop-color="#0b0b0b"/><stop offset=".2192" stop-color="#0c0c0c"/><stop offset=".3242" stop-color="#1b1b1b"/><stop offset=".3653" stop-color="#1f1f1f"/><stop offset=".5708" stop-color="#252525"/><stop offset=".7169" stop-color="#2d2d2d"/><stop offset=".7763" stop-color="#333333"/><stop offset=".8037" stop-color="#393939"/><stop offset=".8721" stop-color="#535353"/><stop offset=".9041" stop-color="#5b5b5b"/><stop offset=".9589" stop-color="#606060"/><stop offset="1" stop-color="#616161"/></linearGradient><linearGradient id="g63" gradientUnits="userSpaceOnUse" x1="0" x2="219.4" y1="0" y2="0"><stop offset="0" stop-color="#050505"/><stop offset=".2146" stop-color="#050505"/><stop offset=".379" stop-color="#131313"/><stop offset=".7489" stop-color="#1f1f1f"/><stop offset=".7854" stop-color="#222222"/><stop offset=".8128" stop-color="#282828"/><stop offset=".8813" stop-color="#3c3c3c"/><stop offset=".9132" stop-color="#434343"/><stop offset=".9863" stop-color="#4c4c4c"/><stop offset="1" stop-color="#4c4c4c"/></linearGradient><linearGradient id="g64" gradientUnits="userSpaceOnUse" x1="0" x2="219.4" y1="0" y2="0"><stop offset="0" stop-color="#030303"/><stop offset=".2374" stop-color="#030303"/><stop offset=".3516" stop-color="#0a0a0a"/><stop offset=".5068" stop-color="#101010"/><stop offset=".7763" stop-color="#141414"/><stop offset=".8219" stop-color="#1a1a1a"/><stop offset=".9041" stop-color="#2d2d2d"/><stop offset="1" stop-color="#383838"/></linearGradient><linearGradient id="g65" gradientUnits="userSpaceOnUse" x1="0" x2="219.4" y1="0" y2="0"><stop offset="0" stop-color="#030303"/><stop offset=".3288" stop-color="#030303"/><stop offset=".7808" stop-color="#0a0a0a"/><stop offset=".8311" stop-color="#101010"/><stop offset=".9041" stop-color="#1e1e1e"/><stop offset="1" stop-color="#292929"/></linearGradient><linearGradient id="g66" gradientUnits="userSpaceOnUse" x1="0" x2="219.4" y1="0" y2="0"><stop offset="0" stop-color="#000000"/><stop offset=".8174" stop-color="#030303"/><stop offset=".9087" stop-color="#080808"/><stop offset="1" stop-color="#0a0a0a"/></linearGradient><linearGradient id="g67" gradientUnits="userSpaceOnUse" x1="0" x2="219.4" y1="0" y2="0"><stop offset="0" stop-color="#545454"/><stop offset=".5068" stop-color="#575757"/><stop offset="1" stop-color="#5d5d5d"/></linearGradient><linearGradient id="g68" gradientUnits="userSpaceOnUse" x1="0" x2="219.4" y1="0" y2="0"><stop offset="0" stop-color="#545454"/><stop offset=".4475" stop-color="#565656"/><stop offset=".895" stop-color="#5d5d5d"/><stop offset="1" stop-color="#5d5d5d"/></linearGradient><linearGradient id="g69" gradientUnits="userSpaceOnUse" x1="0" x2="219.4" y1="0" y2="0"><stop offset="0" stop-color="#535353"/><stop offset=".4932" stop-color="#565656"/><stop offset=".7671" stop-color="#5a5a5a"/><stop offset=".9269" stop-color="#5f5f5f"/><stop offset="1" stop-color="#5e5e5e"/></linearGradient><linearGradient id="g70" gradientUnits="userSpaceOnUse" x1="0" x2="219.4" y1="0" y2="0"><stop offset="0" stop-color="#535353"/><stop offset=".3059" stop-color="#545454"/><stop offset=".653" stop-color="#585858"/><stop offset=".8402" stop-color="#5d5d5d"/><stop offset=".968" stop-color="#646464"/><stop offset=".9772" stop-color="#646464"/><stop offset="1" stop-color="#5f5f5f"/></linearGradient><linearGradient id="g71" gradientUnits="userSpaceOnUse" x1="0" x2="219.4" y1="0" y2="0"><stop offset="0" stop-color="#525252"/><stop offset=".3562" stop-color="#545454"/><stop offset=".6438" stop-color="#585858"/><stop offset=".7991" stop-color="#5d5d5d"/><stop offset=".9087" stop-color="#646464"/><stop offset=".9543" stop-color="#696969"/><stop offset="1" stop-color="#5f5f5f"/></linearGradient><linearGradient id="g72" gradientUnits="userSpaceOnUse" x1="0" x2="219.4" y1="0" y2="0"><stop offset="0" stop-color="#525252"/><stop offset=".3881" stop-color="#545454"/><stop offset=".6256" stop-color="#585858"/><stop offset=".8082" stop-color="#606060"/><stop offset=".895" stop-color="#686868"/><stop offset=".9406" stop-color="#6f6f6f"/><stop offset=".9726" stop-color="#646464"/><stop offset="1" stop-color="#5f5f5f"/></linearGradient><linearGradient id="g73" gradientUnits="userSpaceOnUse" x1="0" x2="219.4" y1="0" y2="0"><stop offset="0" stop-color="#515151"/><stop offset=".411" stop-color="#545454"/><stop offset=".6621" stop-color="#5a5a5a"/><stop offset=".8037" stop-color="#636363"/><stop offset=".8767" stop-color="#6c6c6c"/><stop offset=".9224" stop-color="#757575"/><stop offset=".9589" stop-color="#676767"/><stop offset="1" stop-color="#5f5f5f"/></linearGradient><linearGradient id="g74" gradientUnits="userSpaceOnUse" x1="0" x2="219.4" y1="0" y2="0"><stop offset="0" stop-color="#515151"/><stop offset=".4201" stop-color="#545454"/><stop offset=".6347" stop-color="#5a5a5a"/><stop offset=".7169" stop-color="#5f5f5f"/><stop offset=".7991" stop-color="#676767"/><stop offset=".8493" stop-color="#6f6f6f"/><stop offset=".9041" stop-color="#7c7c7c"/><stop offset=".9498" stop-color="#686868"/><stop offset="1" stop-color="#5e5e5e"/></linearGradient><linearGradient id="g75" gradientUnits="userSpaceOnUse" x1="0" x2="219.4" y1="0" y2="0"><stop offset="0" stop-color="#515151"/><stop offset=".4201" stop-color="#545454"/><stop offset=".6256" stop-color="#5b5b5b"/><stop offset=".6941" stop-color="#606060"/><stop offset=".7854" stop-color="#6b6b6b"/><stop offset=".8493" stop-color="#787878"/><stop offset=".8858" stop-color="#848484"/><stop offset=".9087" stop-color="#777777"/><stop offset=".9361" stop-color="#6b6b6b"/><stop offset=".9589" stop-color="#646464"/><stop offset="1" stop-color="#5d5d5d"/></linearGradient><linearGradient id="g76" gradientUnits="userSpaceOnUse" x1="0" x2="219.4" y1="0" y2="0"><stop offset="0" stop-color="#505050"/><stop offset=".3607" stop-color="#535353"/><stop offset=".5845" stop-color="#5a5a5a"/><stop offset=".653" stop-color="#5f5f5f"/><stop offset=".7489" stop-color="#6b6b6b"/><stop offset=".8174" stop-color="#7a7a7a"/><stop offset=".8676" stop-color="#8b8b8b"/><stop offset=".8721" stop-color="#8a8a8a"/><stop offset=".9087" stop-color="#747474"/><stop offset=".9361" stop-color="#696969"/><stop offset=".9772" stop-color="#5f5f5f"/><stop offset="1" stop-color="#5c5c5c"/></linearGradient><linearGradient id="g77" gradientUnits="userSpaceOnUse" x1="0" x2="219.4" y1="0" y2="0"><stop offset="0" stop-color="#505050"/><stop offset=".3653" stop-color="#535353"/><stop offset=".5023" stop-color="#575757"/><stop offset=".6027" stop-color="#5d5d5d"/><stop offset=".6986" stop-color="#686868"/><stop offset=".7671" stop-color="#767676"/><stop offset=".8128" stop-color="#848484"/><stop offset=".8493" stop-color="#949494"/><stop offset=".8584" stop-color="#909090"/><stop offset=".8813" stop-color="#7f7f7f"/><stop offset=".9132" stop-color="#6f6f6f"/><stop offset=".9361" stop-color="#676767"/><stop offset=".9909" stop-color="#5c5c5c"/><stop offset=".9954" stop-color="#101010"/><stop offset="1" stop-color="#101010"/></linearGradient><linearGradient id="g78" gradientUnits="userSpaceOnUse" x1="0" x2="219.4" y1="0" y2="0"><stop offset="0" stop-color="#4f4f4f"/><stop offset=".3653" stop-color="#535353"/><stop offset=".5068" stop-color="#585858"/><stop offset=".5799" stop-color="#5d5d5d"/><stop offset=".6758" stop-color="#696969"/><stop offset=".7443" stop-color="#787878"/><stop offset=".7854" stop-color="#868686"/><stop offset=".8356" stop-color="#9d9d9d"/><stop offset=".8539" stop-color="#8d8d8d"/><stop offset=".8813" stop-color="#7b7b7b"/><stop offset=".895" stop-color="#747474"/><stop offset=".9361" stop-color="#656565"/><stop offset=".9726" stop-color="#5e5e5e"/><stop offset=".9772" stop-color="#101010"/><stop offset="1" stop-color="#101010"/></linearGradient><linearGradient id="g79" gradientUnits="userSpaceOnUse" x1="0" x2="219.4" y1="0" y2="0"><stop offset="0" stop-color="#4f4f4f"/><stop offset=".3607" stop-color="#535353"/><stop offset=".4475" stop-color="#565656"/><stop offset=".5571" stop-color="#5d5d5d"/><stop offset=".6393" stop-color="#676767"/><stop offset=".7078" stop-color="#767676"/><stop offset=".7534" stop-color="#858585"/><stop offset=".7808" stop-color="#919191"/><stop offset=".8174" stop-color="#a5a5a5"/><stop offset=".8402" stop-color="#919191"/><stop offset=".8721" stop-color="#7c7c7c"/><stop offset=".9132" stop-color="#6a6a6a"/><stop offset=".9543" stop-color="#5f5f5f"/><stop offset=".9589" stop-color="#101010"/><stop offset="1" stop-color="#101010"/></linearGradient><linearGradient id="g80" gradientUnits="userSpaceOnUse" x1="0" x2="219.4" y1="0" y2="0"><stop offset="0" stop-color="#4e4e4e"/><stop offset=".2146" stop-color="#505050"/><stop offset=".3836" stop-color="#545454"/><stop offset=".484" stop-color="#595959"/><stop offset=".5799" stop-color="#626262"/><stop offset=".653" stop-color="#6f6f6f"/><stop offset=".7078" stop-color="#7e7e7e"/><stop offset=".7534" stop-color="#919191"/><stop offset=".7854" stop-color="#a3a3a3"/><stop offset=".7991" stop-color="#adadad"/><stop offset=".8265" stop-color="#949494"/><stop offset=".8584" stop-color="#7f7f7f"/><stop offset=".8995" stop-color="#6c6c6c"/><stop offset=".9361" stop-color="#626262"/><stop offset=".9406" stop-color="#101010"/><stop offset="1" stop-color="#101010"/></linearGradient><linearGradient id="g81" gradientUnits="userSpaceOnUse" x1="0" x2="219.4" y1="0" y2="0"><stop offset="0" stop-color="#4e4e4e"/><stop offset=".3425" stop-color="#535353"/><stop offset=".4475" stop-color="#585858"/><stop offset=".5479" stop-color="#616161"/><stop offset=".6119" stop-color="#6b6b6b"/><stop offset=".6621" stop-color="#777777"/><stop offset=".6895" stop-color="#808080"/><stop offset=".7397" stop-color="#979797"/><stop offset=".7626" stop-color="#a5a5a5"/><stop offset=".7808" stop-color="#b3b3b3"/><stop offset=".8174" stop-color="#939393"/><stop offset=".8402" stop-color="#848484"/><stop offset=".8858" stop-color="#6e6e6e"/><stop offset=".9224" stop-color="#636363"/><stop offset=".9269" stop-color="#101010"/><stop offset="1" stop-color="#101010"/></linearGradient><linearGradient id="g82" gradientUnits="userSpaceOnUse" x1="0" x2="219.4" y1="0" y2="0"><stop offset="0" stop-color="#4e4e4e"/><stop offset=".2968" stop-color="#525252"/><stop offset=".4429" stop-color="#595959"/><stop offset=".5251" stop-color="#616161"/><stop offset=".6027" stop-color="#6e6e6e"/><stop offset=".6347" stop-color="#767676"/><stop offset=".6712" stop-color="#828282"/><stop offset=".7169" stop-color="#979797"/><stop offset=".7397" stop-color="#a5a5a5"/><stop offset=".7626" stop-color="#b7b7b7"/><stop offset=".7945" stop-color="#9c9c9c"/><stop offset=".8265" stop-color="#868686"/><stop offset=".8767" stop-color="#6e6e6e"/><stop offset=".9041" stop-color="#666666"/><stop offset=".9087" stop-color="#101010"/><stop offset="1" stop-color="#101010"/></linearGradient><linearGradient id="g83" gradientUnits="userSpaceOnUse" x1="0" x2="219.4" y1="0" y2="0"><stop offset="0" stop-color="#4e4e4e"/><stop offset=".1507" stop-color="#4f4f4f"/><stop offset=".3333" stop-color="#545454"/><stop offset=".4338" stop-color="#5a5a5a"/><stop offset=".5023" stop-color="#616161"/><stop offset=".5434" stop-color="#676767"/><stop offset=".589" stop-color="#717171"/><stop offset=".6393" stop-color="#7f7f7f"/><stop offset=".6849" stop-color="#929292"/><stop offset=".7032" stop-color="#9c9c9c"/><stop offset=".7443" stop-color="#b9b9b9"/><stop offset=".7489" stop-color="#b8b8b8"/><stop offset=".7763" stop-color="#a0a0a0"/><stop offset=".8082" stop-color="#8a8a8a"/><stop offset=".8402" stop-color="#797979"/><stop offset=".8858" stop-color="#686868"/><stop offset=".8904" stop-color="#111111"/><stop offset="1" stop-color="#111111"/></linearGradient><linearGradient id="g84" gradientUnits="userSpaceOnUse" x1="0" x2="219.4" y1="0" y2="0"><stop offset="0" stop-color="#4e4e4e"/><stop offset=".1826" stop-color="#505050"/><stop offset=".3333" stop-color="#555555"/><stop offset=".4338" stop-color="#5c5c5c"/><stop offset=".5205" stop-color="#676767"/><stop offset=".5845" stop-color="#757575"/><stop offset=".6256" stop-color="#828282"/><stop offset=".6758" stop-color="#999999"/><stop offset=".7032" stop-color="#aaaaaa"/><stop offset=".726" stop-color="#bcbcbc"/><stop offset=".7306" stop-color="#bcbcbc"/><stop offset=".7626" stop-color="#a0a0a0"/><stop offset=".7991" stop-color="#888888"/><stop offset=".8493" stop-color="#717171"/><stop offset=".8676" stop-color="#6b6b6b"/><stop offset=".8721" stop-color="#111111"/><stop offset="1" stop-color="#111111"/></linearGradient><linearGradient id="g85" gradientUnits="userSpaceOnUse" x1="0" x2="219.4" y1="0" y2="0"><stop offset="0" stop-color="#4e4e4e"/><stop offset=".1507" stop-color="#505050"/><stop offset=".3059" stop-color="#555555"/><stop offset=".3973" stop-color="#5b5b5b"/><stop offset=".5023" stop-color="#686868"/><stop offset=".5662" stop-color="#767676"/><stop offset=".6164" stop-color="#878787"/><stop offset=".6393" stop-color="#919191"/><stop offset=".6667" stop-color="#a0a0a0"/><stop offset=".6895" stop-color="#afafaf"/><stop offset=".7078" stop-color="#bebebe"/><stop offset=".7123" stop-color="#bfbfbf"/><stop offset=".7443" stop-color="#a3a3a3"/><stop offset=".7808" stop-color="#8b8b8b"/><stop offset=".8174" stop-color="#797979"/><stop offset=".8493" stop-color="#6e6e6e"/><stop offset=".8539" stop-color="#111111"/><stop offset="1" stop-color="#121212"/></linearGradient><linearGradient id="g86" gradientUnits="userSpaceOnUse" x1="0" x2="219.4" y1="0" y2="0"><stop offset="0" stop-color="#4f4f4f"/><stop offset=".1461" stop-color="#515151"/><stop offset=".2922" stop-color="#565656"/><stop offset=".379" stop-color="#5c5c5c"/><stop offset=".4703" stop-color="#676767"/><stop offset=".5388" stop-color="#757575"/><stop offset=".5845" stop-color="#838383"/><stop offset=".6073" stop-color="#8c8c8c"/><stop offset=".653" stop-color="#a4a4a4"/><stop offset=".6941" stop-color="#c1c1c1"/><stop offset=".726" stop-color="#a6a6a6"/><stop offset=".758" stop-color="#919191"/><stop offset=".79" stop-color="#808080"/><stop offset=".8311" stop-color="#707070"/><stop offset=".8356" stop-color="#121212"/><stop offset="1" stop-color="#121212"/></linearGradient><linearGradient id="g87" gradientUnits="userSpaceOnUse" x1="0" x2="219.4" y1="0" y2="0"><stop offset="0" stop-color="#505050"/><stop offset=".1324" stop-color="#525252"/><stop offset=".2694" stop-color="#575757"/><stop offset=".3699" stop-color="#5e5e5e"/><stop offset=".4566" stop-color="#696969"/><stop offset=".5068" stop-color="#737373"/><stop offset=".5753" stop-color="#888888"/><stop offset=".6073" stop-color="#969696"/><stop offset=".6347" stop-color="#a5a5a5"/><stop offset=".6758" stop-color="#c3c3c3"/><stop offset=".6941" stop-color="#b3b3b3"/><stop offset=".7306" stop-color="#999999"/><stop offset=".7671" stop-color="#858585"/><stop offset=".8128" stop-color="#737373"/><stop offset=".8174" stop-color="#121212"/><stop offset="1" stop-color="#131313"/></linearGradient><linearGradient id="g88" gradientUnits="userSpaceOnUse" x1="0" x2="219.4" y1="0" y2="0"><stop offset="0" stop-color="#525252"/><stop offset=".1416" stop-color="#545454"/><stop offset=".2831" stop-color="#5a5a5a"/><stop offset=".3562" stop-color="#606060"/><stop offset=".4475" stop-color="#6c6c6c"/><stop offset=".5023" stop-color="#787878"/><stop offset=".5616" stop-color="#8b8b8b"/><stop offset=".6164" stop-color="#a6a6a6"/><stop offset=".6347" stop-color="#b2b2b2"/><stop offset=".6575" stop-color="#c4c4c4"/><stop offset=".6804" stop-color="#b1b1b1"/><stop offset=".7215" stop-color="#969696"/><stop offset=".7717" stop-color="#7e7e7e"/><stop offset=".7945" stop-color="#767676"/><stop offset=".7991" stop-color="#121212"/><stop offset="1" stop-color="#141414"/></linearGradient><linearGradient id="g89" gradientUnits="userSpaceOnUse" x1="0" x2="219.4" y1="0" y2="0"><stop offset="0" stop-color="#535353"/><stop offset=".1461" stop-color="#565656"/><stop offset=".274" stop-color="#5c5c5c"/><stop offset=".3333" stop-color="#616161"/><stop offset=".4201" stop-color="#6c6c6c"/><stop offset=".4703" stop-color="#767676"/><stop offset=".5342" stop-color="#898989"/><stop offset=".5799" stop-color="#9d9d9d"/><stop offset=".5982" stop-color="#a7a7a7"/><stop offset=".6256" stop-color="#b9b9b9"/><stop offset=".6393" stop-color="#c4c4c4"/><stop offset=".6712" stop-color="#acacac"/><stop offset=".7169" stop-color="#919191"/><stop offset=".7397" stop-color="#868686"/><stop offset=".7808" stop-color="#777777"/><stop offset=".7854" stop-color="#131313"/><stop offset="1" stop-color="#151515"/></linearGradient><linearGradient id="g90" gradientUnits="userSpaceOnUse" x1="0" x2="219.4" y1="0" y2="0"><stop offset="0" stop-color="#555555"/><stop offset=".1416" stop-color="#585858"/><stop offset=".2466" stop-color="#5d5d5d"/><stop offset=".3653" stop-color="#686868"/><stop offset=".4155" stop-color="#707070"/><stop offset=".4658" stop-color="#7b7b7b"/><stop offset=".5205" stop-color="#8c8c8c"/><stop offset=".5616" stop-color="#9e9e9e"/><stop offset=".5799" stop-color="#a8a8a8"/><stop offset=".621" stop-color="#c4c4c4"/><stop offset=".6712" stop-color="#a2a2a2"/><stop offset=".6986" stop-color="#939393"/><stop offset=".7397" stop-color="#818181"/><stop offset=".7626" stop-color="#797979"/><stop offset=".7671" stop-color="#131313"/><stop offset="1" stop-color="#161616"/></linearGradient><linearGradient id="g91" gradientUnits="userSpaceOnUse" x1="0" x2="219.4" y1="0" y2="0"><stop offset="0" stop-color="#575757"/><stop offset=".105" stop-color="#595959"/><stop offset=".2329" stop-color="#5f5f5f"/><stop offset=".2968" stop-color="#646464"/><stop offset=".3881" stop-color="#707070"/><stop offset=".4612" stop-color="#808080"/><stop offset=".5068" stop-color="#8f8f8f"/><stop offset=".5571" stop-color="#a6a6a6"/><stop offset=".6027" stop-color="#c4c4c4"/><stop offset=".6073" stop-color="#c3c3c3"/><stop offset=".653" stop-color="#a4a4a4"/><stop offset=".6804" stop-color="#959595"/><stop offset=".7169" stop-color="#858585"/><stop offset=".7443" stop-color="#7c7c7c"/><stop offset=".7489" stop-color="#131313"/><stop offset="1" stop-color="#171717"/></linearGradient><linearGradient id="g92" gradientUnits="userSpaceOnUse" x1="0" x2="219.4" y1="0" y2="0"><stop offset="0" stop-color="#595959"/><stop offset=".0959" stop-color="#5b5b5b"/><stop offset=".2192" stop-color="#616161"/><stop offset=".3333" stop-color="#6c6c6c"/><stop offset=".3836" stop-color="#747474"/><stop offset=".4475" stop-color="#838383"/><stop offset=".4932" stop-color="#929292"/><stop offset=".5388" stop-color="#a7a7a7"/><stop offset=".5662" stop-color="#b7b7b7"/><stop offset=".5845" stop-color="#c4c4c4"/><stop offset=".589" stop-color="#c4c4c4"/><stop offset=".6256" stop-color="#ababab"/><stop offset=".6484" stop-color="#9e9e9e"/><stop offset=".6941" stop-color="#898989"/><stop offset=".726" stop-color="#7e7e7e"/><stop offset=".7306" stop-color="#141414"/><stop offset="1" stop-color="#181818"/></linearGradient><linearGradient id="g93" gradientUnits="userSpaceOnUse" x1="0" x2="219.4" y1="0" y2="0"><stop offset="0" stop-color="#5b5b5b"/><stop offset=".0913" stop-color="#5d5d5d"/><stop offset=".1918" stop-color="#626262"/><stop offset=".2648" stop-color="#686868"/><stop offset=".3562" stop-color="#747474"/><stop offset=".4247" stop-color="#838383"/><stop offset=".4795" stop-color="#959595"/><stop offset=".5251" stop-color="#aaaaaa"/><stop offset=".5662" stop-color="#c4c4c4"/><stop offset=".5708" stop-color="#c5c5c5"/><stop offset=".6027" stop-color="#afafaf"/><stop offset=".6393" stop-color="#9b9b9b"/><stop offset=".6712" stop-color="#8d8d8d"/><stop offset=".7078" stop-color="#808080"/><stop offset=".7123" stop-color="#141414"/><stop offset="1" stop-color="#191919"/></linearGradient><linearGradient id="g94" gradientUnits="userSpaceOnUse" x1="0" x2="219.4" y1="0" y2="0"><stop offset="0" stop-color="#5d5d5d"/><stop offset=".0822" stop-color="#5f5f5f"/><stop offset=".2055" stop-color="#666666"/><stop offset=".3014" stop-color="#707070"/><stop offset=".3562" stop-color="#797979"/><stop offset=".4155" stop-color="#878787"/><stop offset=".4612" stop-color="#969696"/><stop offset=".5114" stop-color="#adadad"/><stop offset=".5525" stop-color="#c6c6c6"/><stop offset=".5799" stop-color="#b3b3b3"/><stop offset=".6164" stop-color="#9f9f9f"/><stop offset=".653" stop-color="#8f8f8f"/><stop offset=".6895" stop-color="#838383"/><stop offset=".6941" stop-color="#141414"/><stop offset=".9224" stop-color="#1a1a1a"/><stop offset="1" stop-color="#1a1a1a"/></linearGradient><linearGradient id="g95" gradientUnits="userSpaceOnUse" x1="0" x2="219.4" y1="0" y2="0"><stop offset="0" stop-color="#5f5f5f"/><stop offset=".1096" stop-color="#636363"/><stop offset=".2009" stop-color="#696969"/><stop offset=".2603" stop-color="#6f6f6f"/><stop offset=".3288" stop-color="#797979"/><stop offset=".3881" stop-color="#868686"/><stop offset=".4475" stop-color="#999999"/><stop offset=".484" stop-color="#a9a9a9"/><stop offset=".5342" stop-color="#c6c6c6"/><stop offset=".589" stop-color="#a5a5a5"/><stop offset=".6347" stop-color="#919191"/><stop offset=".6712" stop-color="#858585"/><stop offset=".6758" stop-color="#141414"/><stop offset=".9132" stop-color="#1b1b1b"/><stop offset="1" stop-color="#1b1b1b"/></linearGradient><linearGradient id="g96" gradientUnits="userSpaceOnUse" x1="0" x2="219.4" y1="0" y2="0"><stop offset="0" stop-color="#626262"/><stop offset=".1689" stop-color="#6a6a6a"/><stop offset=".242" stop-color="#717171"/><stop offset=".3105" stop-color="#7b7b7b"/><stop offset=".379" stop-color="#8a8a8a"/><stop offset=".4338" stop-color="#9c9c9c"/><stop offset=".484" stop-color="#b3b3b3"/><stop offset=".516" stop-color="#c7c7c7"/><stop offset=".5388" stop-color="#b8b8b8"/><stop offset=".589" stop-color="#9e9e9e"/><stop offset=".6301" stop-color="#8e8e8e"/><stop offset=".6575" stop-color="#868686"/><stop offset=".6621" stop-color="#141414"/><stop offset=".9087" stop-color="#1c1c1c"/><stop offset="1" stop-color="#1c1c1c"/></linearGradient><linearGradient id="g97" gradientUnits="userSpaceOnUse" x1="0" x2="219.4" y1="0" y2="0"><stop offset="0" stop-color="#656565"/><stop offset=".0685" stop-color="#676767"/><stop offset=".1735" stop-color="#6e6e6e"/><stop offset=".2466" stop-color="#767676"/><stop offset=".3196" stop-color="#828282"/><stop offset=".3653" stop-color="#8d8d8d"/><stop offset=".4155" stop-color="#9d9d9d"/><stop offset=".4612" stop-color="#b1b1b1"/><stop offset=".4977" stop-color="#c6c6c6"/><stop offset=".5388" stop-color="#afafaf"/><stop offset=".5662" stop-color="#a2a2a2"/><stop offset=".5982" stop-color="#959595"/><stop offset=".6393" stop-color="#888888"/><stop offset=".6438" stop-color="#141414"/><stop offset=".8721" stop-color="#1c1c1c"/><stop offset="1" stop-color="#1e1e1e"/></linearGradient><linearGradient id="g98" gradientUnits="userSpaceOnUse" x1="0" x2="219.4" y1="0" y2="0"><stop offset="0" stop-color="#676767"/><stop offset=".1644" stop-color="#717171"/><stop offset=".2283" stop-color="#787878"/><stop offset=".2922" stop-color="#828282"/><stop offset=".3379" stop-color="#8c8c8c"/><stop offset=".3881" stop-color="#9b9b9b"/><stop offset=".4292" stop-color="#ababab"/><stop offset=".4795" stop-color="#c6c6c6"/><stop offset=".484" stop-color="#c5c5c5"/><stop offset=".5205" stop-color="#b0b0b0"/><stop offset=".5662" stop-color="#9c9c9c"/><stop offset=".621" stop-color="#8a8a8a"/><stop offset=".6256" stop-color="#131313"/><stop offset=".8767" stop-color="#1d1d1d"/><stop offset="1" stop-color="#1f1f1f"/></linearGradient><linearGradient id="g99" gradientUnits="userSpaceOnUse" x1="0" x2="219.4" y1="0" y2="0"><stop offset="0" stop-color="#6a6a6a"/><stop offset=".0822" stop-color="#6e6e6e"/><stop offset=".1689" stop-color="#757575"/><stop offset=".2694" stop-color="#838383"/><stop offset=".3333" stop-color="#919191"/><stop offset=".379" stop-color="#9f9f9f"/><stop offset=".4292" stop-color="#b4b4b4"/><stop offset=".4612" stop-color="#c6c6c6"/><stop offset=".4658" stop-color="#c5c5c5"/><stop offset=".5023" stop-color="#b1b1b1"/><stop offset=".5388" stop-color="#a1a1a1"/><stop offset=".6027" stop-color="#8c8c8c"/><stop offset=".6073" stop-color="#131313"/><stop offset=".8858" stop-color="#1e1e1e"/><stop offset="1" stop-color="#1f1f1f"/></linearGradient><linearGradient id="g100" gradientUnits="userSpaceOnUse" x1="0" x2="219.4" y1="0" y2="0"><stop offset="0" stop-color="#6c6c6c"/><stop offset=".1324" stop-color="#757575"/><stop offset=".1963" stop-color="#7c7c7c"/><stop offset=".2648" stop-color="#878787"/><stop offset=".3105" stop-color="#919191"/><stop offset=".3607" stop-color="#a0a0a0"/><stop offset=".4064" stop-color="#b2b2b2"/><stop offset=".4429" stop-color="#c5c5c5"/><stop offset=".4475" stop-color="#c5c5c5"/><stop offset=".484" stop-color="#b2b2b2"/><stop offset=".5114" stop-color="#a6a6a6"/><stop offset=".5845" stop-color="#8e8e8e"/><stop offset=".589" stop-color="#131313"/><stop offset=".6484" stop-color="#141414"/><stop offset=".895" stop-color="#1f1f1f"/><stop offset="1" stop-color="#202020"/></linearGradient><linearGradient id="g101" gradientUnits="userSpaceOnUse" x1="0" x2="219.4" y1="0" y2="0"><stop offset="0" stop-color="#6e6e6e"/><stop offset=".1553" stop-color="#7b7b7b"/><stop offset=".2146" stop-color="#838383"/><stop offset=".2694" stop-color="#8d8d8d"/><stop offset=".3105" stop-color="#979797"/><stop offset=".3516" stop-color="#a4a4a4"/><stop offset=".4292" stop-color="#c6c6c6"/><stop offset=".484" stop-color="#ababab"/><stop offset=".516" stop-color="#9f9f9f"/><stop offset=".5662" stop-color="#909090"/><stop offset=".5708" stop-color="#121212"/><stop offset=".8813" stop-color="#1f1f1f"/><stop offset="1" stop-color="#212121"/></linearGradient><linearGradient id="g102" gradientUnits="userSpaceOnUse" x1="0" x2="219.4" y1="0" y2="0"><stop offset="0" stop-color="#717171"/><stop offset=".0822" stop-color="#777777"/><stop offset=".1553" stop-color="#7f7f7f"/><stop offset=".2329" stop-color="#8b8b8b"/><stop offset=".2877" stop-color="#979797"/><stop offset=".3425" stop-color="#a8a8a8"/><stop offset=".411" stop-color="#c6c6c6"/><stop offset=".4292" stop-color="#bcbcbc"/><stop offset=".4795" stop-color="#a7a7a7"/><stop offset=".516" stop-color="#9b9b9b"/><stop offset=".5479" stop-color="#939393"/><stop offset=".5525" stop-color="#121212"/><stop offset=".6667" stop-color="#151515"/><stop offset=".8721" stop-color="#1f1f1f"/><stop offset="1" stop-color="#212121"/></linearGradient><linearGradient id="g103" gradientUnits="userSpaceOnUse" x1="0" x2="219.4" y1="0" y2="0"><stop offset="0" stop-color="#737373"/><stop offset=".1279" stop-color="#7f7f7f"/><stop offset=".2237" stop-color="#8e8e8e"/><stop offset=".2877" stop-color="#9d9d9d"/><stop offset=".3288" stop-color="#aaaaaa"/><stop offset=".3927" stop-color="#c6c6c6"/><stop offset=".4429" stop-color="#afafaf"/><stop offset=".4795" stop-color="#a2a2a2"/><stop offset=".5297" stop-color="#949494"/><stop offset=".5342" stop-color="#121212"/><stop offset=".6667" stop-color="#151515"/><stop offset=".8995" stop-color="#202020"/><stop offset="1" stop-color="#212121"/></linearGradient><linearGradient id="g104" gradientUnits="userSpaceOnUse" x1="0" x2="219.4" y1="0" y2="0"><stop offset="0" stop-color="#757575"/><stop offset=".1096" stop-color="#7f7f7f"/><stop offset=".1918" stop-color="#8c8c8c"/><stop offset=".2603" stop-color="#9b9b9b"/><stop offset=".3014" stop-color="#a7a7a7"/><stop offset=".3288" stop-color="#b1b1b1"/><stop offset=".3744" stop-color="#c6c6c6"/><stop offset=".4155" stop-color="#b3b3b3"/><stop offset=".4429" stop-color="#a9a9a9"/><stop offset=".516" stop-color="#959595"/><stop offset=".5205" stop-color="#111111"/><stop offset=".6667" stop-color="#151515"/><stop offset=".8721" stop-color="#1f1f1f"/><stop offset="1" stop-color="#212121"/></linearGradient><linearGradient id="g105" gradientUnits="userSpaceOnUse" x1="0" x2="219.4" y1="0" y2="0"><stop offset="0" stop-color="#757575"/><stop offset=".1005" stop-color="#7f7f7f"/><stop offset=".1461" stop-color="#868686"/><stop offset=".2146" stop-color="#949494"/><stop offset=".2922" stop-color="#aaaaaa"/><stop offset=".3242" stop-color="#b6b6b6"/><stop offset=".3562" stop-color="#c5c5c5"/><stop offset=".4201" stop-color="#ababab"/><stop offset=".4658" stop-color="#9d9d9d"/><stop offset=".4977" stop-color="#969696"/><stop offset=".5023" stop-color="#111111"/><stop offset=".6438" stop-color="#141414"/><stop offset=".8813" stop-color="#1f1f1f"/><stop offset="1" stop-color="#212121"/></linearGradient><linearGradient id="g106" gradientUnits="userSpaceOnUse" x1="0" x2="219.4" y1="0" y2="0"><stop offset="0" stop-color="#747474"/><stop offset=".1187" stop-color="#828282"/><stop offset=".1918" stop-color="#919191"/><stop offset=".2648" stop-color="#a6a6a6"/><stop offset=".3379" stop-color="#c4c4c4"/><stop offset=".4201" stop-color="#a5a5a5"/><stop offset=".4795" stop-color="#969696"/><stop offset=".484" stop-color="#111111"/><stop offset=".6484" stop-color="#141414"/><stop offset=".895" stop-color="#1f1f1f"/><stop offset="1" stop-color="#202020"/></linearGradient><linearGradient id="g107" gradientUnits="userSpaceOnUse" x1="0" x2="219.4" y1="0" y2="0"><stop offset="0" stop-color="#737373"/><stop offset=".0959" stop-color="#7e7e7e"/><stop offset=".1781" stop-color="#8f8f8f"/><stop offset=".2466" stop-color="#a4a4a4"/><stop offset=".3196" stop-color="#c3c3c3"/><stop offset=".3242" stop-color="#c3c3c3"/><stop offset=".3881" stop-color="#a9a9a9"/><stop offset=".4612" stop-color="#959595"/><stop offset=".4658" stop-color="#101010"/><stop offset=".653" stop-color="#141414"/><stop offset=".8858" stop-color="#1e1e1e"/><stop offset="1" stop-color="#1f1f1f"/></linearGradient><linearGradient id="g108" gradientUnits="userSpaceOnUse" x1="0" x2="219.4" y1="0" y2="0"><stop offset="0" stop-color="#717171"/><stop offset=".0548" stop-color="#767676"/><stop offset=".0913" stop-color="#7c7c7c"/><stop offset=".1598" stop-color="#8b8b8b"/><stop offset=".2283" stop-color="#a1a1a1"/><stop offset=".274" stop-color="#b4b4b4"/><stop offset=".3014" stop-color="#c2c2c2"/><stop offset=".3059" stop-color="#c2c2c2"/><stop offset=".3744" stop-color="#a7a7a7"/><stop offset=".4429" stop-color="#959595"/><stop offset=".4475" stop-color="#101010"/><stop offset=".5936" stop-color="#121212"/><stop offset=".8767" stop-color="#1d1d1d"/><stop offset="1" stop-color="#1f1f1f"/></linearGradient><linearGradient id="g109" gradientUnits="userSpaceOnUse" x1="0" x2="219.4" y1="0" y2="0"><stop offset="0" stop-color="#707070"/><stop offset=".0594" stop-color="#747474"/><stop offset=".137" stop-color="#858585"/><stop offset=".2055" stop-color="#9b9b9b"/><stop offset=".2603" stop-color="#b3b3b3"/><stop offset=".2877" stop-color="#c1c1c1"/><stop offset=".3425" stop-color="#ababab"/><stop offset=".3836" stop-color="#9e9e9e"/><stop offset=".4247" stop-color="#949494"/><stop offset=".4292" stop-color="#101010"/><stop offset=".6027" stop-color="#121212"/><stop offset=".8721" stop-color="#1c1c1c"/><stop offset="1" stop-color="#1e1e1e"/></linearGradient><linearGradient id="g110" gradientUnits="userSpaceOnUse" x1="0" x2="219.4" y1="0" y2="0"><stop offset="0" stop-color="#6e6e6e"/><stop offset=".0685" stop-color="#727272"/><stop offset=".1142" stop-color="#7c7c7c"/><stop offset=".1781" stop-color="#929292"/><stop offset=".2329" stop-color="#aaaaaa"/><stop offset=".2694" stop-color="#bebebe"/><stop offset=".2968" stop-color="#b2b2b2"/><stop offset=".3379" stop-color="#a4a4a4"/><stop offset=".4064" stop-color="#929292"/><stop offset=".411" stop-color="#101010"/><stop offset=".5662" stop-color="#111111"/><stop offset=".9087" stop-color="#1c1c1c"/><stop offset="1" stop-color="#1c1c1c"/></linearGradient><linearGradient id="g111" gradientUnits="userSpaceOnUse" x1="0" x2="219.4" y1="0" y2="0"><stop offset="0" stop-color="#696969"/><stop offset=".0502" stop-color="#6d6d6d"/><stop offset=".1096" stop-color="#757575"/><stop offset=".1324" stop-color="#7d7d7d"/><stop offset=".1735" stop-color="#8f8f8f"/><stop offset=".2283" stop-color="#acacac"/><stop offset=".2511" stop-color="#bababa"/><stop offset=".2785" stop-color="#aeaeae"/><stop offset=".3196" stop-color="#a0a0a0"/><stop offset=".3881" stop-color="#8f8f8f"/><stop offset=".3927" stop-color="#101010"/><stop offset=".5799" stop-color="#111111"/><stop offset=".9132" stop-color="#1b1b1b"/><stop offset="1" stop-color="#1b1b1b"/></linearGradient><linearGradient id="g112" gradientUnits="userSpaceOnUse" x1="0" x2="219.4" y1="0" y2="0"><stop offset="0" stop-color="#646464"/><stop offset=".0639" stop-color="#6a6a6a"/><stop offset=".1324" stop-color="#777777"/><stop offset=".1735" stop-color="#8c8c8c"/><stop offset=".2329" stop-color="#b5b5b5"/><stop offset=".2603" stop-color="#a9a9a9"/><stop offset=".3014" stop-color="#9b9b9b"/><stop offset=".3744" stop-color="#898989"/><stop offset=".379" stop-color="#0f0f0f"/><stop offset=".5936" stop-color="#111111"/><stop offset=".8721" stop-color="#191919"/><stop offset="1" stop-color="#1a1a1a"/></linearGradient><linearGradient id="g113" gradientUnits="userSpaceOnUse" x1="0" x2="219.4" y1="0" y2="0"><stop offset="0" stop-color="#5e5e5e"/><stop offset=".0365" stop-color="#616161"/><stop offset=".0822" stop-color="#686868"/><stop offset=".1461" stop-color="#7b7b7b"/><stop offset=".1598" stop-color="#808080"/><stop offset=".1918" stop-color="#969696"/><stop offset=".2146" stop-color="#aaaaaa"/><stop offset=".2192" stop-color="#aaaaaa"/><stop offset=".2877" stop-color="#949494"/><stop offset=".3562" stop-color="#848484"/><stop offset=".3607" stop-color="#0f0f0f"/><stop offset=".6119" stop-color="#111111"/><stop offset=".8721" stop-color="#181818"/><stop offset="1" stop-color="#191919"/></linearGradient><linearGradient id="g114" gradientUnits="userSpaceOnUse" x1="0" x2="219.4" y1="0" y2="0"><stop offset="0" stop-color="#555555"/><stop offset=".0639" stop-color="#5d5d5d"/><stop offset=".105" stop-color="#686868"/><stop offset=".1598" stop-color="#808080"/><stop offset=".1963" stop-color="#989898"/><stop offset=".2055" stop-color="#999999"/><stop offset=".2648" stop-color="#8f8f8f"/><stop offset=".3379" stop-color="#7f7f7f"/><stop offset=".3425" stop-color="#0f0f0f"/><stop offset=".5616" stop-color="#101010"/><stop offset=".8721" stop-color="#171717"/><stop offset="1" stop-color="#181818"/></linearGradient><linearGradient id="g115" gradientUnits="userSpaceOnUse" x1="0" x2="219.4" y1="0" y2="0"><stop offset="0" stop-color="#515151"/><stop offset=".0365" stop-color="#555555"/><stop offset=".0822" stop-color="#5d5d5d"/><stop offset=".1187" stop-color="#6a6a6a"/><stop offset=".1826" stop-color="#888888"/><stop offset=".2009" stop-color="#8b8b8b"/><stop offset=".2283" stop-color="#858585"/><stop offset=".2694" stop-color="#818181"/><stop offset=".3196" stop-color="#797979"/><stop offset=".3242" stop-color="#0f0f0f"/><stop offset=".5845" stop-color="#101010"/><stop offset="1" stop-color="#171717"/></linearGradient><linearGradient id="g116" gradientUnits="userSpaceOnUse" x1="0" x2="219.4" y1="0" y2="0"><stop offset="0" stop-color="#515151"/><stop offset=".0411" stop-color="#555555"/><stop offset=".0822" stop-color="#5c5c5c"/><stop offset=".1689" stop-color="#7a7a7a"/><stop offset=".2055" stop-color="#808080"/><stop offset=".2192" stop-color="#7f7f7f"/><stop offset=".2557" stop-color="#767676"/><stop offset=".3014" stop-color="#737373"/><stop offset=".3059" stop-color="#0f0f0f"/><stop offset=".6073" stop-color="#101010"/><stop offset="1" stop-color="#161616"/></linearGradient><linearGradient id="g117" gradientUnits="userSpaceOnUse" x1="0" x2="219.4" y1="0" y2="0"><stop offset="0" stop-color="#505050"/><stop offset=".0776" stop-color="#595959"/><stop offset=".1781" stop-color="#747474"/><stop offset=".2192" stop-color="#777777"/><stop offset=".2831" stop-color="#6c6c6c"/><stop offset=".2877" stop-color="#0f0f0f"/><stop offset=".5297" stop-color="#0f0f0f"/><stop offset="1" stop-color="#151515"/></linearGradient><linearGradient id="g118" gradientUnits="userSpaceOnUse" x1="0" x2="219.4" y1="0" y2="0"><stop offset="0" stop-color="#505050"/><stop offset=".0776" stop-color="#575757"/><stop offset=".1598" stop-color="#6a6a6a"/><stop offset=".2055" stop-color="#707070"/><stop offset=".2237" stop-color="#707070"/><stop offset=".2648" stop-color="#6b6b6b"/><stop offset=".2694" stop-color="#0f0f0f"/><stop offset=".5616" stop-color="#0f0f0f"/><stop offset="1" stop-color="#141414"/></linearGradient><linearGradient id="g119" gradientUnits="userSpaceOnUse" x1="0" x2="219.4" y1="0" y2="0"><stop offset="0" stop-color="#4f4f4f"/><stop offset=".0776" stop-color="#555555"/><stop offset=".1324" stop-color="#606060"/><stop offset=".1918" stop-color="#696969"/><stop offset=".2466" stop-color="#696969"/><stop offset=".2511" stop-color="#0f0f0f"/><stop offset=".5982" stop-color="#0f0f0f"/><stop offset="1" stop-color="#131313"/></linearGradient><linearGradient id="g120" gradientUnits="userSpaceOnUse" x1="0" x2="219.4" y1="0" y2="0"><stop offset="0" stop-color="#4e4e4e"/><stop offset=".0868" stop-color="#545454"/><stop offset=".1553" stop-color="#606060"/><stop offset=".2009" stop-color="#656565"/><stop offset=".2329" stop-color="#656565"/><stop offset=".2374" stop-color="#0f0f0f"/><stop offset=".4612" stop-color="#0e0e0e"/><stop offset="1" stop-color="#121212"/></linearGradient><linearGradient id="g121" gradientUnits="userSpaceOnUse" x1="0" x2="219.4" y1="0" y2="0"><stop offset="0" stop-color="#4d4d4d"/><stop offset=".0776" stop-color="#515151"/><stop offset=".1507" stop-color="#5c5c5c"/><stop offset=".2146" stop-color="#626262"/><stop offset=".2192" stop-color="#0e0e0e"/><stop offset=".5251" stop-color="#0e0e0e"/><stop offset="1" stop-color="#121212"/></linearGradient><linearGradient id="g122" gradientUnits="userSpaceOnUse" x1="0" x2="219.4" y1="0" y2="0"><stop offset="0" stop-color="#4c4c4c"/><stop offset=".0868" stop-color="#505050"/><stop offset=".1963" stop-color="#5e5e5e"/><stop offset=".2009" stop-color="#0e0e0e"/><stop offset=".5708" stop-color="#0e0e0e"/><stop offset="1" stop-color="#111111"/></linearGradient><linearGradient id="g123" gradientUnits="userSpaceOnUse" x1="0" x2="219.4" y1="0" y2="0"><stop offset="0" stop-color="#0f0f0f"/><stop offset=".6119" stop-color="#0e0e0e"/><stop offset="1" stop-color="#111111"/></linearGradient><linearGradient id="g124" gradientUnits="userSpaceOnUse" x1="0" x2="219.4" y1="0" y2="0"><stop offset="0" stop-color="#0f0f0f"/><stop offset=".4932" stop-color="#0d0d0d"/><stop offset=".7808" stop-color="#101010"/><stop offset="1" stop-color="#101010"/></linearGradient><linearGradient id="g125" gradientUnits="userSpaceOnUse" x1="0" x2="219.4" y1="0" y2="0"><stop offset="0" stop-color="#0f0f0f"/><stop offset=".5479" stop-color="#0d0d0d"/><stop offset="1" stop-color="#101010"/></linearGradient><linearGradient id="g126" gradientUnits="userSpaceOnUse" x1="0" x2="219.4" y1="0" y2="0"><stop offset="0" stop-color="#0f0f0f"/><stop offset=".5845" stop-color="#0d0d0d"/><stop offset="1" stop-color="#101010"/></linearGradient><linearGradient id="g127" gradientUnits="userSpaceOnUse" x1="0" x2="219.4" y1="0" y2="0"><stop offset="0" stop-color="#0f0f0f"/><stop offset=".4521" stop-color="#0c0c0c"/><stop offset="1" stop-color="#101010"/></linearGradient><linearGradient id="g128" gradientUnits="userSpaceOnUse" x1="0" x2="219.4" y1="0" y2="0"><stop offset="0" stop-color="#0f0f0f"/><stop offset=".5114" stop-color="#0c0c0c"/><stop offset="1" stop-color="#101010"/></linearGradient><linearGradient id="g129" gradientUnits="userSpaceOnUse" x1="0" x2="219.4" y1="0" y2="0"><stop offset="0" stop-color="#0f0f0f"/><stop offset=".274" stop-color="#0c0c0c"/><stop offset="1" stop-color="#0f0f0f"/></linearGradient><linearGradient id="g130" gradientUnits="userSpaceOnUse" x1="0" x2="219.4" y1="0" y2="0"><stop offset="0" stop-color="#0f0f0f"/><stop offset=".2557" stop-color="#0c0c0c"/><stop offset="1" stop-color="#0f0f0f"/></linearGradient><linearGradient id="g131" gradientUnits="userSpaceOnUse" x1="0" x2="219.4" y1="0" y2="0"><stop offset="0" stop-color="#0f0f0f"/><stop offset=".242" stop-color="#0c0c0c"/><stop offset=".5753" stop-color="#0c0c0c"/><stop offset=".7945" stop-color="#0f0f0f"/><stop offset="1" stop-color="#0f0f0f"/></linearGradient><linearGradient id="g132" gradientUnits="userSpaceOnUse" x1="0" x2="219.4" y1="0" y2="0"><stop offset="0" stop-color="#0f0f0f"/><stop offset=".2329" stop-color="#0c0c0c"/><stop offset=".5845" stop-color="#0c0c0c"/><stop offset=".8037" stop-color="#0f0f0f"/><stop offset="1" stop-color="#0f0f0f"/></linearGradient><linearGradient id="g133" gradientUnits="userSpaceOnUse" x1="0" x2="219.4" y1="0" y2="0"><stop offset="0" stop-color="#0f0f0f"/><stop offset=".3881" stop-color="#0b0b0b"/><stop offset="1" stop-color="#0f0f0f"/></linearGradient><linearGradient id="g134" gradientUnits="userSpaceOnUse" x1="0" x2="219.4" y1="0" y2="0"><stop offset="0" stop-color="#0f0f0f"/><stop offset=".2329" stop-color="#0c0c0c"/><stop offset=".5845" stop-color="#0c0c0c"/><stop offset=".8082" stop-color="#0f0f0f"/><stop offset="1" stop-color="#0f0f0f"/></linearGradient><linearGradient id="g135" gradientUnits="userSpaceOnUse" x1="0" x2="219.4" y1="0" y2="0"><stop offset="0" stop-color="#0f0f0f"/><stop offset=".242" stop-color="#0c0c0c"/><stop offset=".5799" stop-color="#0c0c0c"/><stop offset=".8082" stop-color="#0f0f0f"/><stop offset="1" stop-color="#0f0f0f"/></linearGradient><linearGradient id="g136" gradientUnits="userSpaceOnUse" x1="0" x2="219.4" y1="0" y2="0"><stop offset="0" stop-color="#0f0f0f"/><stop offset=".2557" stop-color="#0c0c0c"/><stop offset="1" stop-color="#0f0f0f"/></linearGradient><linearGradient id="g137" gradientUnits="userSpaceOnUse" x1="0" x2="219.4" y1="0" y2="0"><stop offset="0" stop-color="#0f0f0f"/><stop offset=".274" stop-color="#0c0c0c"/><stop offset="1" stop-color="#0f0f0f"/></linearGradient><linearGradient id="g138" gradientUnits="userSpaceOnUse" x1="0" x2="219.4" y1="0" y2="0"><stop offset="0" stop-color="#0f0f0f"/><stop offset=".3014" stop-color="#0c0c0c"/><stop offset="1" stop-color="#0f0f0f"/></linearGradient><linearGradient id="g139" gradientUnits="userSpaceOnUse" x1="0" x2="219.4" y1="0" y2="0"><stop offset="0" stop-color="#0f0f0f"/><stop offset=".3562" stop-color="#0c0c0c"/><stop offset="1" stop-color="#0f0f0f"/></linearGradient><linearGradient id="g140" gradientUnits="userSpaceOnUse" x1="0" x2="219.4" y1="0" y2="0"><stop offset="0" stop-color="#0f0f0f"/><stop offset=".2146" stop-color="#0d0d0d"/><stop offset="1" stop-color="#0f0f0f"/></linearGradient><linearGradient id="g141" gradientUnits="userSpaceOnUse" x1="0" x2="219.4" y1="0" y2="0"><stop offset="0" stop-color="#0f0f0f"/><stop offset=".2511" stop-color="#0d0d0d"/><stop offset="1" stop-color="#0f0f0f"/></linearGradient><linearGradient id="g142" gradientUnits="userSpaceOnUse" x1="0" x2="219.4" y1="0" y2="0"><stop offset="0" stop-color="#0f0f0f"/><stop offset=".3014" stop-color="#0d0d0d"/><stop offset="1" stop-color="#0f0f0f"/></linearGradient><linearGradient id="g143" gradientUnits="userSpaceOnUse" x1="0" x2="219.4" y1="0" y2="0"><stop offset="0" stop-color="#545454"/><stop offset=".0502" stop-color="#555555"/><stop offset=".1096" stop-color="#595959"/><stop offset=".1416" stop-color="#5c5c5c"/><stop offset=".1872" stop-color="#666666"/><stop offset=".21" stop-color="#666666"/><stop offset=".3516" stop-color="#525252"/><stop offset=".8493" stop-color="#4c4c4c"/><stop offset=".9361" stop-color="#454545"/><stop offset="1" stop-color="#383838"/></linearGradient><linearGradient id="g144" gradientUnits="userSpaceOnUse" x1="0" x2="219.4" y1="0" y2="0"><stop offset="0" stop-color="#404040"/><stop offset=".0274" stop-color="#404040"/><stop offset=".1005" stop-color="#474747"/><stop offset=".1416" stop-color="#4d4d4d"/><stop offset=".1735" stop-color="#585858"/><stop offset=".1918" stop-color="#5c5c5c"/><stop offset=".2055" stop-color="#5c5c5c"/><stop offset=".3288" stop-color="#4e4e4e"/><stop offset=".3653" stop-color="#4c4c4c"/><stop offset=".7306" stop-color="#4c4c4c"/><stop offset=".8356" stop-color="#4a4a4a"/><stop offset=".9406" stop-color="#424242"/><stop offset="1" stop-color="#383838"/></linearGradient><linearGradient id="g145" gradientUnits="userSpaceOnUse" x1="0" x2="219.4" y1="0" y2="0"><stop offset="0" stop-color="#303030"/><stop offset=".0822" stop-color="#3a3a3a"/><stop offset=".1781" stop-color="#404040"/><stop offset=".6347" stop-color="#404040"/><stop offset=".8813" stop-color="#383838"/><stop offset=".9452" stop-color="#323232"/><stop offset="1" stop-color="#262626"/></linearGradient><linearGradient id="g146" gradientUnits="userSpaceOnUse" x1="0" x2="219.4" y1="0" y2="0"><stop offset="0" stop-color="#303030"/><stop offset=".0822" stop-color="#3a3a3a"/><stop offset=".1781" stop-color="#404040"/><stop offset=".6256" stop-color="#404040"/><stop offset=".7717" stop-color="#3b3b3b"/><stop offset=".8721" stop-color="#353535"/><stop offset=".9498" stop-color="#2c2c2c"/><stop offset="1" stop-color="#212121"/></linearGradient><linearGradient id="g147" gradientUnits="userSpaceOnUse" x1="0" x2="219.4" y1="0" y2="0"><stop offset="0" stop-color="#1f1f1f"/><stop offset=".0685" stop-color="#1f1f1f"/><stop offset=".21" stop-color="#242424"/><stop offset=".3379" stop-color="#303030"/><stop offset=".6712" stop-color="#303030"/><stop offset=".8447" stop-color="#2b2b2b"/><stop offset="1" stop-color="#242424"/></linearGradient><linearGradient id="g148" gradientUnits="userSpaceOnUse" x1="0" x2="219.4" y1="0" y2="0"><stop offset="0" stop-color="#1f1f1f"/><stop offset=".2055" stop-color="#212121"/><stop offset=".347" stop-color="#2e2e2e"/><stop offset=".6301" stop-color="#2e2e2e"/><stop offset=".8128" stop-color="#262626"/><stop offset="1" stop-color="#212121"/></linearGradient><linearGradient id="g149" gradientUnits="userSpaceOnUse" x1="0" x2="219.4" y1="0" y2="0"><stop offset="0" stop-color="#171717"/><stop offset=".2329" stop-color="#171717"/><stop offset=".3425" stop-color="#1c1c1c"/><stop offset=".7306" stop-color="#212121"/><stop offset="1" stop-color="#212121"/></linearGradient><linearGradient id="g150" gradientUnits="userSpaceOnUse" x1="0" x2="219.4" y1="0" y2="0"><stop offset="0" stop-color="#111111"/><stop offset=".2511" stop-color="#111111"/><stop offset=".379" stop-color="#151515"/><stop offset=".6621" stop-color="#161616"/><stop offset=".8539" stop-color="#1a1a1a"/><stop offset="1" stop-color="#202020"/></linearGradient><linearGradient id="g151" gradientUnits="userSpaceOnUse" x1="0" x2="219.4" y1="0" y2="0"><stop offset="0" stop-color="#0a0a0a"/><stop offset=".2283" stop-color="#0a0a0a"/><stop offset=".3333" stop-color="#0d0d0d"/><stop offset=".6667" stop-color="#0d0d0d"/><stop offset=".8356" stop-color="#121212"/><stop offset=".9406" stop-color="#191919"/><stop offset="1" stop-color="#1f1f1f"/></linearGradient><linearGradient id="g152" gradientUnits="userSpaceOnUse" x1="0" x2="219.4" y1="0" y2="0"><stop offset="0" stop-color="#010101"/><stop offset=".4475" stop-color="#020202"/><stop offset=".7945" stop-color="#080808"/><stop offset="1" stop-color="#080808"/></linearGradient><linearGradient id="g153" gradientUnits="userSpaceOnUse" x1="0" x2="219.4" y1="0" y2="0"><stop offset="0" stop-color="#010101"/><stop offset=".3927" stop-color="#020202"/><stop offset="1" stop-color="#0d0d0d"/></linearGradient><linearGradient id="g154" gradientUnits="userSpaceOnUse" x1="0" x2="219.4" y1="0" y2="0"><stop offset="0" stop-color="#474747"/><stop offset=".9178" stop-color="#454545"/><stop offset="1" stop-color="#484848"/></linearGradient><linearGradient id="g155" gradientUnits="userSpaceOnUse" x1="0" x2="219.4" y1="0" y2="0"><stop offset="0" stop-color="#494949"/><stop offset=".7626" stop-color="#464646"/><stop offset=".9132" stop-color="#464646"/><stop offset="1" stop-color="#494949"/></linearGradient><linearGradient id="g156" gradientUnits="userSpaceOnUse" x1="0" x2="219.4" y1="0" y2="0"><stop offset="0" stop-color="#4b4b4b"/><stop offset=".6712" stop-color="#4b4b4b"/><stop offset=".8584" stop-color="#4c4c4c"/><stop offset=".9087" stop-color="#4e4e4e"/><stop offset=".9635" stop-color="#4c4c4c"/><stop offset="1" stop-color="#4d4d4d"/></linearGradient><linearGradient id="g157" gradientUnits="userSpaceOnUse" x1="0" x2="219.4" y1="0" y2="0"><stop offset="0" stop-color="#4c4c4c"/><stop offset=".5571" stop-color="#4d4d4d"/><stop offset="1" stop-color="#515151"/></linearGradient><linearGradient id="g158" gradientUnits="userSpaceOnUse" x1="0" x2="219.4" y1="0" y2="0"><stop offset="0" stop-color="#4d4d4d"/><stop offset=".6164" stop-color="#505050"/><stop offset="1" stop-color="#555555"/></linearGradient><linearGradient id="g159" gradientUnits="userSpaceOnUse" x1="0" x2="219.4" y1="0" y2="0"><stop offset="0" stop-color="#4f4f4f"/><stop offset=".4155" stop-color="#515151"/><stop offset=".7717" stop-color="#555555"/><stop offset=".8402" stop-color="#585858"/><stop offset="1" stop-color="#585858"/></linearGradient><linearGradient id="g160" gradientUnits="userSpaceOnUse" x1="0" x2="219.4" y1="0" y2="0"><stop offset="0" stop-color="#515151"/><stop offset=".6301" stop-color="#565656"/><stop offset=".7626" stop-color="#585858"/><stop offset=".8174" stop-color="#5b5b5b"/><stop offset="1" stop-color="#5b5b5b"/></linearGradient><linearGradient id="g161" gradientUnits="userSpaceOnUse" x1="0" x2="219.4" y1="0" y2="0"><stop offset="0" stop-color="#535353"/><stop offset=".7123" stop-color="#5a5a5a"/><stop offset=".8174" stop-color="#5f5f5f"/><stop offset=".8767" stop-color="#5d5d5d"/><stop offset="1" stop-color="#5f5f5f"/></linearGradient><linearGradient id="g162" gradientUnits="userSpaceOnUse" x1="0" x2="219.4" y1="0" y2="0"><stop offset="0" stop-color="#555555"/><stop offset=".6484" stop-color="#5c5c5c"/><stop offset=".7352" stop-color="#5e5e5e"/><stop offset=".8219" stop-color="#646464"/><stop offset=".863" stop-color="#616161"/><stop offset=".9041" stop-color="#616161"/><stop offset="1" stop-color="#656565"/></linearGradient><linearGradient id="g163" gradientUnits="userSpaceOnUse" x1="0" x2="219.4" y1="0" y2="0"><stop offset="0" stop-color="#575757"/><stop offset=".6712" stop-color="#606060"/><stop offset=".7215" stop-color="#626262"/><stop offset=".7945" stop-color="#696969"/><stop offset=".8219" stop-color="#696969"/><stop offset=".8539" stop-color="#656565"/><stop offset=".9909" stop-color="#6d6d6d"/><stop offset=".9954" stop-color="#0b0b0b"/><stop offset="1" stop-color="#0b0b0b"/></linearGradient><linearGradient id="g164" gradientUnits="userSpaceOnUse" x1="0" x2="219.4" y1="0" y2="0"><stop offset="0" stop-color="#5a5a5a"/><stop offset=".3607" stop-color="#5e5e5e"/><stop offset=".6575" stop-color="#646464"/><stop offset=".7215" stop-color="#686868"/><stop offset=".7763" stop-color="#6f6f6f"/><stop offset=".8082" stop-color="#6f6f6f"/><stop offset=".8402" stop-color="#6b6b6b"/><stop offset=".9041" stop-color="#6f6f6f"/><stop offset=".9726" stop-color="#767676"/><stop offset=".9772" stop-color="#0b0b0b"/><stop offset="1" stop-color="#0b0b0b"/></linearGradient><linearGradient id="g165" gradientUnits="userSpaceOnUse" x1="0" x2="219.4" y1="0" y2="0"><stop offset="0" stop-color="#5c5c5c"/><stop offset=".3516" stop-color="#616161"/><stop offset=".6301" stop-color="#686868"/><stop offset=".6941" stop-color="#6c6c6c"/><stop offset=".7626" stop-color="#767676"/><stop offset=".79" stop-color="#767676"/><stop offset=".8265" stop-color="#727272"/><stop offset=".9087" stop-color="#7a7a7a"/><stop offset=".9543" stop-color="#828282"/><stop offset=".9589" stop-color="#0b0b0b"/><stop offset="1" stop-color="#0b0b0b"/></linearGradient><linearGradient id="g166" gradientUnits="userSpaceOnUse" x1="0" x2="219.4" y1="0" y2="0"><stop offset="0" stop-color="#5f5f5f"/><stop offset=".3288" stop-color="#646464"/><stop offset=".5753" stop-color="#6b6b6b"/><stop offset=".6621" stop-color="#707070"/><stop offset=".7489" stop-color="#7d7d7d"/><stop offset=".7763" stop-color="#7d7d7d"/><stop offset=".7945" stop-color="#7a7a7a"/><stop offset=".8082" stop-color="#7a7a7a"/><stop offset=".8539" stop-color="#7f7f7f"/><stop offset=".895" stop-color="#878787"/><stop offset=".9178" stop-color="#919191"/><stop offset=".9224" stop-color="#dfdfdf"/><stop offset=".9361" stop-color="#dfdfdf"/><stop offset=".9406" stop-color="#0b0b0b"/><stop offset="1" stop-color="#0b0b0b"/></linearGradient><linearGradient id="g167" gradientUnits="userSpaceOnUse" x1="0" x2="219.4" y1="0" y2="0"><stop offset="0" stop-color="#626262"/><stop offset=".2603" stop-color="#666666"/><stop offset=".5205" stop-color="#6e6e6e"/><stop offset=".6256" stop-color="#747474"/><stop offset=".6621" stop-color="#787878"/><stop offset=".726" stop-color="#848484"/><stop offset=".7626" stop-color="#848484"/><stop offset=".7808" stop-color="#818181"/><stop offset=".7991" stop-color="#838383"/><stop offset=".8447" stop-color="#8c8c8c"/><stop offset=".8584" stop-color="#919191"/><stop offset=".863" stop-color="#dfdfdf"/><stop offset=".9224" stop-color="#dfdfdf"/><stop offset=".9269" stop-color="#0b0b0b"/><stop offset="1" stop-color="#0b0b0b"/></linearGradient><linearGradient id="g168" gradientUnits="userSpaceOnUse" x1="0" x2="219.4" y1="0" y2="0"><stop offset="0" stop-color="#656565"/><stop offset=".2374" stop-color="#696969"/><stop offset=".4475" stop-color="#707070"/><stop offset=".5982" stop-color="#797979"/><stop offset=".6484" stop-color="#7f7f7f"/><stop offset=".6941" stop-color="#898989"/><stop offset=".7169" stop-color="#8c8c8c"/><stop offset=".7397" stop-color="#8c8c8c"/><stop offset=".7626" stop-color="#898989"/><stop offset=".8037" stop-color="#919191"/><stop offset=".8082" stop-color="#dfdfdf"/><stop offset=".9041" stop-color="#dfdfdf"/><stop offset=".9087" stop-color="#0b0b0b"/><stop offset="1" stop-color="#0b0b0b"/></linearGradient><linearGradient id="g169" gradientUnits="userSpaceOnUse" x1="0" x2="219.4" y1="0" y2="0"><stop offset="0" stop-color="#676767"/><stop offset=".274" stop-color="#6e6e6e"/><stop offset=".4886" stop-color="#787878"/><stop offset=".6119" stop-color="#828282"/><stop offset=".6804" stop-color="#919191"/><stop offset=".7032" stop-color="#949494"/><stop offset=".7215" stop-color="#949494"/><stop offset=".7443" stop-color="#919191"/><stop offset=".7763" stop-color="#989898"/><stop offset=".7808" stop-color="#dfdfdf"/><stop offset=".8858" stop-color="#dfdfdf"/><stop offset=".8904" stop-color="#0b0b0b"/><stop offset="1" stop-color="#0b0b0b"/></linearGradient><linearGradient id="g170" gradientUnits="userSpaceOnUse" x1="0" x2="219.4" y1="0" y2="0"><stop offset="0" stop-color="#6a6a6a"/><stop offset=".2648" stop-color="#727272"/><stop offset=".4886" stop-color="#7e7e7e"/><stop offset=".5982" stop-color="#888888"/><stop offset=".6575" stop-color="#979797"/><stop offset=".6849" stop-color="#9c9c9c"/><stop offset=".7306" stop-color="#999999"/><stop offset=".7534" stop-color="#a0a0a0"/><stop offset=".758" stop-color="#dfdfdf"/><stop offset=".8676" stop-color="#dfdfdf"/><stop offset=".8721" stop-color="#0c0c0c"/><stop offset="1" stop-color="#0c0c0c"/></linearGradient><linearGradient id="g171" gradientUnits="userSpaceOnUse" x1="0" x2="219.4" y1="0" y2="0"><stop offset="0" stop-color="#6e6e6e"/><stop offset=".1781" stop-color="#737373"/><stop offset=".347" stop-color="#7b7b7b"/><stop offset=".4658" stop-color="#828282"/><stop offset=".5662" stop-color="#8b8b8b"/><stop offset=".5982" stop-color="#919191"/><stop offset=".6393" stop-color="#9e9e9e"/><stop offset=".6667" stop-color="#a4a4a4"/><stop offset=".6895" stop-color="#a4a4a4"/><stop offset=".7123" stop-color="#a0a0a0"/><stop offset=".7215" stop-color="#a3a3a3"/><stop offset=".726" stop-color="#b0b0b0"/><stop offset=".7352" stop-color="#bebebe"/><stop offset=".7397" stop-color="#dfdfdf"/><stop offset=".8493" stop-color="#dfdfdf"/><stop offset=".8539" stop-color="#0c0c0c"/><stop offset="1" stop-color="#0c0c0c"/></linearGradient><linearGradient id="g172" gradientUnits="userSpaceOnUse" x1="0" x2="219.4" y1="0" y2="0"><stop offset="0" stop-color="#717171"/><stop offset=".2922" stop-color="#7d7d7d"/><stop offset=".4338" stop-color="#858585"/><stop offset=".5388" stop-color="#8e8e8e"/><stop offset=".5799" stop-color="#969696"/><stop offset=".6347" stop-color="#a9a9a9"/><stop offset=".653" stop-color="#adadad"/><stop offset=".6758" stop-color="#adadad"/><stop offset=".6941" stop-color="#aaaaaa"/><stop offset=".6986" stop-color="#acacac"/><stop offset=".7123" stop-color="#bdbdbd"/><stop offset=".7169" stop-color="#dfdfdf"/><stop offset=".8311" stop-color="#dfdfdf"/><stop offset=".8356" stop-color="#0c0c0c"/><stop offset="1" stop-color="#0c0c0c"/></linearGradient><linearGradient id="g173" gradientUnits="userSpaceOnUse" x1="0" x2="219.4" y1="0" y2="0"><stop offset="0" stop-color="#757575"/><stop offset=".3744" stop-color="#868686"/><stop offset=".5205" stop-color="#929292"/><stop offset=".5662" stop-color="#9c9c9c"/><stop offset=".6119" stop-color="#aeaeae"/><stop offset=".6393" stop-color="#b6b6b6"/><stop offset=".6621" stop-color="#b6b6b6"/><stop offset=".6804" stop-color="#b3b3b3"/><stop offset=".6895" stop-color="#bcbcbc"/><stop offset=".6941" stop-color="#c4c4c4"/><stop offset=".6986" stop-color="#dfdfdf"/><stop offset=".8128" stop-color="#dfdfdf"/><stop offset=".8174" stop-color="#0c0c0c"/><stop offset="1" stop-color="#0c0c0c"/></linearGradient><linearGradient id="g174" gradientUnits="userSpaceOnUse" x1="0" x2="219.4" y1="0" y2="0"><stop offset="0" stop-color="#797979"/><stop offset=".3516" stop-color="#898989"/><stop offset=".4886" stop-color="#949494"/><stop offset=".516" stop-color="#989898"/><stop offset=".5479" stop-color="#a0a0a0"/><stop offset=".621" stop-color="#bdbdbd"/><stop offset=".6438" stop-color="#bfbfbf"/><stop offset=".6667" stop-color="#bcbcbc"/><stop offset=".6712" stop-color="#c2c2c2"/><stop offset=".6758" stop-color="#dfdfdf"/><stop offset=".7945" stop-color="#dfdfdf"/><stop offset=".7991" stop-color="#0c0c0c"/><stop offset="1" stop-color="#0c0c0c"/></linearGradient><linearGradient id="g175" gradientUnits="userSpaceOnUse" x1="0" x2="219.4" y1="0" y2="0"><stop offset="0" stop-color="#7d7d7d"/><stop offset=".2831" stop-color="#898989"/><stop offset=".4658" stop-color="#979797"/><stop offset=".5251" stop-color="#a2a2a2"/><stop offset=".5434" stop-color="#a8a8a8"/><stop offset=".5982" stop-color="#c1c1c1"/><stop offset=".621" stop-color="#c6c6c6"/><stop offset=".6484" stop-color="#c3c3c3"/><stop offset=".653" stop-color="#c8c8c8"/><stop offset=".6575" stop-color="#dfdfdf"/><stop offset=".7808" stop-color="#dfdfdf"/><stop offset=".7854" stop-color="#0c0c0c"/><stop offset="1" stop-color="#0c0c0c"/></linearGradient><linearGradient id="g176" gradientUnits="userSpaceOnUse" x1="0" x2="219.4" y1="0" y2="0"><stop offset="0" stop-color="#808080"/><stop offset=".3014" stop-color="#8e8e8e"/><stop offset=".4064" stop-color="#969696"/><stop offset=".4703" stop-color="#9d9d9d"/><stop offset=".4977" stop-color="#a2a2a2"/><stop offset=".5205" stop-color="#a9a9a9"/><stop offset=".5662" stop-color="#bfbfbf"/><stop offset=".5982" stop-color="#cbcbcb"/><stop offset=".6164" stop-color="#cccccc"/><stop offset=".6301" stop-color="#cacaca"/><stop offset=".6347" stop-color="#cfcfcf"/><stop offset=".6393" stop-color="#dfdfdf"/><stop offset=".7626" stop-color="#dfdfdf"/><stop offset=".7671" stop-color="#0c0c0c"/><stop offset="1" stop-color="#0c0c0c"/></linearGradient><linearGradient id="g177" gradientUnits="userSpaceOnUse" x1="0" x2="219.4" y1="0" y2="0"><stop offset="0" stop-color="#838383"/><stop offset=".2557" stop-color="#8f8f8f"/><stop offset=".4475" stop-color="#9f9f9f"/><stop offset=".5023" stop-color="#ababab"/><stop offset=".5571" stop-color="#c6c6c6"/><stop offset=".5799" stop-color="#cfcfcf"/><stop offset=".589" stop-color="#d1d1d1"/><stop offset=".6119" stop-color="#d0d0d0"/><stop offset=".6164" stop-color="#d4d4d4"/><stop offset=".621" stop-color="#dfdfdf"/><stop offset=".7443" stop-color="#dfdfdf"/><stop offset=".7489" stop-color="#0c0c0c"/><stop offset="1" stop-color="#0d0d0d"/></linearGradient><linearGradient id="g178" gradientUnits="userSpaceOnUse" x1="0" x2="219.4" y1="0" y2="0"><stop offset="0" stop-color="#868686"/><stop offset=".2466" stop-color="#929292"/><stop offset=".4384" stop-color="#a2a2a2"/><stop offset=".4658" stop-color="#a7a7a7"/><stop offset=".4932" stop-color="#b0b0b0"/><stop offset=".5616" stop-color="#d3d3d3"/><stop offset=".5708" stop-color="#d5d5d5"/><stop offset=".5936" stop-color="#d4d4d4"/><stop offset=".5982" stop-color="#dedede"/><stop offset=".6027" stop-color="#dfdfdf"/><stop offset=".726" stop-color="#dfdfdf"/><stop offset=".7306" stop-color="#0c0c0c"/><stop offset="1" stop-color="#0d0d0d"/></linearGradient><linearGradient id="g179" gradientUnits="userSpaceOnUse" x1="0" x2="219.4" y1="0" y2="0"><stop offset="0" stop-color="#898989"/><stop offset=".1918" stop-color="#929292"/><stop offset=".4155" stop-color="#a3a3a3"/><stop offset=".4658" stop-color="#aeaeae"/><stop offset=".4932" stop-color="#bababa"/><stop offset=".5434" stop-color="#d6d6d6"/><stop offset=".5616" stop-color="#d9d9d9"/><stop offset=".5753" stop-color="#d8d8d8"/><stop offset=".5799" stop-color="#dedede"/><stop offset=".5845" stop-color="#dfdfdf"/><stop offset=".7078" stop-color="#dfdfdf"/><stop offset=".7123" stop-color="#0c0c0c"/><stop offset="1" stop-color="#0d0d0d"/></linearGradient><linearGradient id="g180" gradientUnits="userSpaceOnUse" x1="0" x2="219.4" y1="0" y2="0"><stop offset="0" stop-color="#8c8c8c"/><stop offset=".1689" stop-color="#949494"/><stop offset=".411" stop-color="#a6a6a6"/><stop offset=".4475" stop-color="#afafaf"/><stop offset=".4749" stop-color="#bbbbbb"/><stop offset=".5205" stop-color="#d7d7d7"/><stop offset=".5342" stop-color="#dbdbdb"/><stop offset=".5571" stop-color="#dbdbdb"/><stop offset=".5662" stop-color="#dfdfdf"/><stop offset=".6895" stop-color="#dfdfdf"/><stop offset=".6941" stop-color="#0c0c0c"/><stop offset="1" stop-color="#0d0d0d"/></linearGradient><linearGradient id="g181" gradientUnits="userSpaceOnUse" x1="0" x2="219.4" y1="0" y2="0"><stop offset="0" stop-color="#8f8f8f"/><stop offset=".1142" stop-color="#949494"/><stop offset=".3927" stop-color="#a7a7a7"/><stop offset=".4338" stop-color="#b1b1b1"/><stop offset=".4658" stop-color="#c1c1c1"/><stop offset=".4977" stop-color="#d7d7d7"/><stop offset=".5205" stop-color="#dedede"/><stop offset=".6712" stop-color="#dfdfdf"/><stop offset=".6758" stop-color="#0c0c0c"/><stop offset="1" stop-color="#0d0d0d"/></linearGradient><linearGradient id="g182" gradientUnits="userSpaceOnUse" x1="0" x2="219.4" y1="0" y2="0"><stop offset="0" stop-color="#919191"/><stop offset=".3151" stop-color="#a3a3a3"/><stop offset=".3744" stop-color="#a8a8a8"/><stop offset=".4155" stop-color="#b1b1b1"/><stop offset=".4384" stop-color="#bcbcbc"/><stop offset=".484" stop-color="#dbdbdb"/><stop offset=".5068" stop-color="#e1e1e1"/><stop offset=".5388" stop-color="#dfdfdf"/><stop offset=".6575" stop-color="#dfdfdf"/><stop offset=".6621" stop-color="#0d0d0d"/><stop offset="1" stop-color="#0d0d0d"/></linearGradient><linearGradient id="g183" gradientUnits="userSpaceOnUse" x1="0" x2="219.4" y1="0" y2="0"><stop offset="0" stop-color="#949494"/><stop offset=".3151" stop-color="#a5a5a5"/><stop offset=".3607" stop-color="#a9a9a9"/><stop offset=".3836" stop-color="#adadad"/><stop offset=".411" stop-color="#b7b7b7"/><stop offset=".4338" stop-color="#c5c5c5"/><stop offset=".4612" stop-color="#d9d9d9"/><stop offset=".484" stop-color="#e1e1e1"/><stop offset=".5068" stop-color="#e2e2e2"/><stop offset=".5616" stop-color="#dfdfdf"/><stop offset=".6393" stop-color="#dfdfdf"/><stop offset=".6438" stop-color="#0d0d0d"/><stop offset="1" stop-color="#0e0e0e"/></linearGradient><linearGradient id="g184" gradientUnits="userSpaceOnUse" x1="0" x2="219.4" y1="0" y2="0"><stop offset="0" stop-color="#979797"/><stop offset=".2831" stop-color="#a5a5a5"/><stop offset=".347" stop-color="#aaaaaa"/><stop offset=".3744" stop-color="#b0b0b0"/><stop offset=".3927" stop-color="#b7b7b7"/><stop offset=".4018" stop-color="#bcbcbc"/><stop offset=".4384" stop-color="#d7d7d7"/><stop offset=".4566" stop-color="#dfdfdf"/><stop offset=".4658" stop-color="#e1e1e1"/><stop offset=".5023" stop-color="#e2e2e2"/><stop offset=".621" stop-color="#dfdfdf"/><stop offset=".6256" stop-color="#0d0d0d"/><stop offset="1" stop-color="#0e0e0e"/></linearGradient><linearGradient id="g185" gradientUnits="userSpaceOnUse" x1="0" x2="219.4" y1="0" y2="0"><stop offset="0" stop-color="#9a9a9a"/><stop offset=".2694" stop-color="#a6a6a6"/><stop offset=".3333" stop-color="#ababab"/><stop offset=".3699" stop-color="#b5b5b5"/><stop offset=".3881" stop-color="#c0c0c0"/><stop offset=".4247" stop-color="#dadada"/><stop offset=".4338" stop-color="#dedede"/><stop offset=".4521" stop-color="#e2e2e2"/><stop offset=".6027" stop-color="#dfdfdf"/><stop offset=".6073" stop-color="#0d0d0d"/><stop offset="1" stop-color="#0e0e0e"/></linearGradient><linearGradient id="g186" gradientUnits="userSpaceOnUse" x1="0" x2="219.4" y1="0" y2="0"><stop offset="0" stop-color="#9c9c9c"/><stop offset=".2831" stop-color="#a8a8a8"/><stop offset=".3151" stop-color="#ababab"/><stop offset=".3333" stop-color="#afafaf"/><stop offset=".3562" stop-color="#b8b8b8"/><stop offset=".4018" stop-color="#d8d8d8"/><stop offset=".4155" stop-color="#dedede"/><stop offset=".4338" stop-color="#e2e2e2"/><stop offset=".5845" stop-color="#dfdfdf"/><stop offset=".589" stop-color="#0d0d0d"/><stop offset="1" stop-color="#0e0e0e"/></linearGradient><linearGradient id="g187" gradientUnits="userSpaceOnUse" x1="0" x2="219.4" y1="0" y2="0"><stop offset="0" stop-color="#9e9e9e"/><stop offset=".2557" stop-color="#a8a8a8"/><stop offset=".3014" stop-color="#acacac"/><stop offset=".3288" stop-color="#b4b4b4"/><stop offset=".3836" stop-color="#d8d8d8"/><stop offset=".3973" stop-color="#dedede"/><stop offset=".4155" stop-color="#e2e2e2"/><stop offset=".5662" stop-color="#dfdfdf"/><stop offset=".5708" stop-color="#0d0d0d"/><stop offset="1" stop-color="#0e0e0e"/></linearGradient><linearGradient id="g188" gradientUnits="userSpaceOnUse" x1="0" x2="219.4" y1="0" y2="0"><stop offset="0" stop-color="#a0a0a0"/><stop offset=".2329" stop-color="#a8a8a8"/><stop offset=".274" stop-color="#ababab"/><stop offset=".3014" stop-color="#b1b1b1"/><stop offset=".3105" stop-color="#b5b5b5"/><stop offset=".3607" stop-color="#d6d6d6"/><stop offset=".3744" stop-color="#dddddd"/><stop offset=".3881" stop-color="#e1e1e1"/><stop offset=".4475" stop-color="#e2e2e2"/><stop offset=".5479" stop-color="#dfdfdf"/><stop offset=".5525" stop-color="#0d0d0d"/><stop offset="1" stop-color="#0e0e0e"/></linearGradient><linearGradient id="g189" gradientUnits="userSpaceOnUse" x1="0" x2="219.4" y1="0" y2="0"><stop offset="0" stop-color="#a1a1a1"/><stop offset=".2055" stop-color="#a8a8a8"/><stop offset=".2603" stop-color="#acacac"/><stop offset=".2785" stop-color="#b0b0b0"/><stop offset=".2922" stop-color="#b6b6b6"/><stop offset=".3379" stop-color="#d4d4d4"/><stop offset=".3562" stop-color="#dddddd"/><stop offset=".3699" stop-color="#e1e1e1"/><stop offset=".4338" stop-color="#e2e2e2"/><stop offset=".5297" stop-color="#dfdfdf"/><stop offset=".5342" stop-color="#0d0d0d"/><stop offset="1" stop-color="#0f0f0f"/></linearGradient><linearGradient id="g190" gradientUnits="userSpaceOnUse" x1="0" x2="219.4" y1="0" y2="0"><stop offset="0" stop-color="#a3a3a3"/><stop offset=".2055" stop-color="#a9a9a9"/><stop offset=".242" stop-color="#acacac"/><stop offset=".2557" stop-color="#afafaf"/><stop offset=".274" stop-color="#b7b7b7"/><stop offset=".3242" stop-color="#d7d7d7"/><stop offset=".3379" stop-color="#dddddd"/><stop offset=".3562" stop-color="#e2e2e2"/><stop offset=".3836" stop-color="#e3e3e3"/><stop offset=".516" stop-color="#dfdfdf"/><stop offset=".5205" stop-color="#0c0c0c"/><stop offset="1" stop-color="#0f0f0f"/></linearGradient><linearGradient id="g191" gradientUnits="userSpaceOnUse" x1="0" x2="219.4" y1="0" y2="0"><stop offset="0" stop-color="#a4a4a4"/><stop offset=".2146" stop-color="#ababab"/><stop offset=".2374" stop-color="#b0b0b0"/><stop offset=".2511" stop-color="#b6b6b6"/><stop offset=".3014" stop-color="#d5d5d5"/><stop offset=".3242" stop-color="#dfdfdf"/><stop offset=".3379" stop-color="#e2e2e2"/><stop offset=".3699" stop-color="#e3e3e3"/><stop offset=".4977" stop-color="#dfdfdf"/><stop offset=".5023" stop-color="#0c0c0c"/><stop offset="1" stop-color="#0f0f0f"/></linearGradient><linearGradient id="g192" gradientUnits="userSpaceOnUse" x1="0" x2="219.4" y1="0" y2="0"><stop offset="0" stop-color="#a5a5a5"/><stop offset=".1598" stop-color="#a9a9a9"/><stop offset=".2009" stop-color="#acacac"/><stop offset=".2283" stop-color="#b5b5b5"/><stop offset=".2785" stop-color="#d3d3d3"/><stop offset=".3059" stop-color="#dfdfdf"/><stop offset=".3196" stop-color="#e2e2e2"/><stop offset=".3562" stop-color="#e3e3e3"/><stop offset=".4795" stop-color="#dfdfdf"/><stop offset=".484" stop-color="#0c0c0c"/><stop offset="1" stop-color="#0f0f0f"/></linearGradient><linearGradient id="g193" gradientUnits="userSpaceOnUse" x1="0" x2="219.4" y1="0" y2="0"><stop offset="0" stop-color="#a6a6a6"/><stop offset=".137" stop-color="#a9a9a9"/><stop offset=".1781" stop-color="#acacac"/><stop offset=".2009" stop-color="#b2b2b2"/><stop offset=".2237" stop-color="#bdbdbd"/><stop offset=".2694" stop-color="#d8d8d8"/><stop offset=".2877" stop-color="#dfdfdf"/><stop offset=".3014" stop-color="#e2e2e2"/><stop offset=".3379" stop-color="#e3e3e3"/><stop offset=".4612" stop-color="#dfdfdf"/><stop offset=".4658" stop-color="#0c0c0c"/><stop offset="1" stop-color="#0f0f0f"/></linearGradient><linearGradient id="g194" gradientUnits="userSpaceOnUse" x1="0" x2="219.4" y1="0" y2="0"><stop offset="0" stop-color="#a7a7a7"/><stop offset=".1507" stop-color="#ababab"/><stop offset=".1735" stop-color="#b0b0b0"/><stop offset=".2009" stop-color="#bcbcbc"/><stop offset=".2466" stop-color="#d6d6d6"/><stop offset=".2603" stop-color="#dcdcdc"/><stop offset=".2831" stop-color="#e2e2e2"/><stop offset=".3242" stop-color="#e3e3e3"/><stop offset=".4429" stop-color="#dfdfdf"/><stop offset=".4475" stop-color="#0c0c0c"/><stop offset="1" stop-color="#0f0f0f"/></linearGradient><linearGradient id="g195" gradientUnits="userSpaceOnUse" x1="0" x2="219.4" y1="0" y2="0"><stop offset="0" stop-color="#a8a8a8"/><stop offset=".1279" stop-color="#ababab"/><stop offset=".1598" stop-color="#b3b3b3"/><stop offset=".1826" stop-color="#bdbdbd"/><stop offset=".2237" stop-color="#d4d4d4"/><stop offset=".242" stop-color="#dcdcdc"/><stop offset=".2648" stop-color="#e2e2e2"/><stop offset=".3059" stop-color="#e3e3e3"/><stop offset=".4247" stop-color="#dfdfdf"/><stop offset=".4292" stop-color="#0c0c0c"/><stop offset="1" stop-color="#0f0f0f"/></linearGradient><linearGradient id="g196" gradientUnits="userSpaceOnUse" x1="0" x2="219.4" y1="0" y2="0"><stop offset="0" stop-color="#a8a8a8"/><stop offset=".0913" stop-color="#aaaaaa"/><stop offset=".105" stop-color="#ababab"/><stop offset=".1324" stop-color="#b1b1b1"/><stop offset=".1598" stop-color="#bcbcbc"/><stop offset=".2009" stop-color="#d2d2d2"/><stop offset=".2283" stop-color="#dedede"/><stop offset=".2466" stop-color="#e2e2e2"/><stop offset=".2922" stop-color="#e3e3e3"/><stop offset=".4064" stop-color="#dfdfdf"/><stop offset=".411" stop-color="#0c0c0c"/><stop offset="1" stop-color="#0f0f0f"/></linearGradient><linearGradient id="g197" gradientUnits="userSpaceOnUse" x1="0" x2="219.4" y1="0" y2="0"><stop offset="0" stop-color="#a9a9a9"/><stop offset=".0685" stop-color="#aaaaaa"/><stop offset=".1096" stop-color="#b1b1b1"/><stop offset=".1416" stop-color="#bdbdbd"/><stop offset=".1963" stop-color="#d9d9d9"/><stop offset=".2283" stop-color="#e2e2e2"/><stop offset=".274" stop-color="#e3e3e3"/><stop offset=".3881" stop-color="#dfdfdf"/><stop offset=".3927" stop-color="#0c0c0c"/><stop offset="1" stop-color="#0f0f0f"/></linearGradient><linearGradient id="g198" gradientUnits="userSpaceOnUse" x1="0" x2="219.4" y1="0" y2="0"><stop offset="0" stop-color="#a9a9a9"/><stop offset=".0457" stop-color="#aaaaaa"/><stop offset=".0913" stop-color="#b2b2b2"/><stop offset=".1142" stop-color="#bababa"/><stop offset=".1826" stop-color="#dbdbdb"/><stop offset=".21" stop-color="#e2e2e2"/><stop offset=".2557" stop-color="#e3e3e3"/><stop offset=".3744" stop-color="#dfdfdf"/><stop offset=".379" stop-color="#0c0c0c"/><stop offset="1" stop-color="#0f0f0f"/></linearGradient><linearGradient id="g199" gradientUnits="userSpaceOnUse" x1="0" x2="219.4" y1="0" y2="0"><stop offset="0" stop-color="#aaaaaa"/><stop offset=".0411" stop-color="#acacac"/><stop offset=".0776" stop-color="#b4b4b4"/><stop offset=".1279" stop-color="#c9c9c9"/><stop offset=".1644" stop-color="#dbdbdb"/><stop offset=".1918" stop-color="#e2e2e2"/><stop offset=".2374" stop-color="#e3e3e3"/><stop offset=".3562" stop-color="#dfdfdf"/><stop offset=".3607" stop-color="#0c0c0c"/><stop offset="1" stop-color="#0f0f0f"/></linearGradient><linearGradient id="g200" gradientUnits="userSpaceOnUse" x1="0" x2="219.4" y1="0" y2="0"><stop offset="0" stop-color="#ababab"/><stop offset=".0183" stop-color="#acacac"/><stop offset=".0639" stop-color="#b6b6b6"/><stop offset=".1005" stop-color="#c3c3c3"/><stop offset=".1598" stop-color="#dedede"/><stop offset=".1826" stop-color="#e3e3e3"/><stop offset=".3379" stop-color="#dfdfdf"/><stop offset=".3425" stop-color="#0c0c0c"/><stop offset="1" stop-color="#0f0f0f"/></linearGradient><linearGradient id="g201" gradientUnits="userSpaceOnUse" x1="0" x2="219.4" y1="0" y2="0"><stop offset="0" stop-color="#adadad"/><stop offset=".0457" stop-color="#b7b7b7"/><stop offset=".0913" stop-color="#c5c5c5"/><stop offset=".1461" stop-color="#dbdbdb"/><stop offset=".1735" stop-color="#e2e2e2"/><stop offset=".2009" stop-color="#e3e3e3"/><stop offset=".3196" stop-color="#dfdfdf"/><stop offset=".3242" stop-color="#0c0c0c"/><stop offset="1" stop-color="#0f0f0f"/></linearGradient><linearGradient id="g202" gradientUnits="userSpaceOnUse" x1="0" x2="219.4" y1="0" y2="0"><stop offset="0" stop-color="#b2b2b2"/><stop offset=".0731" stop-color="#c5c5c5"/><stop offset=".1461" stop-color="#dddddd"/><stop offset=".1644" stop-color="#e1e1e1"/><stop offset=".3014" stop-color="#dfdfdf"/><stop offset=".3059" stop-color="#0b0b0b"/><stop offset=".7717" stop-color="#0f0f0f"/><stop offset="1" stop-color="#0f0f0f"/></linearGradient><linearGradient id="g203" gradientUnits="userSpaceOnUse" x1="0" x2="219.4" y1="0" y2="0"><stop offset="0" stop-color="#b7b7b7"/><stop offset=".1461" stop-color="#e0e0e0"/><stop offset=".2831" stop-color="#dfdfdf"/><stop offset=".2877" stop-color="#0b0b0b"/><stop offset="1" stop-color="#0f0f0f"/></linearGradient><linearGradient id="g204" gradientUnits="userSpaceOnUse" x1="0" x2="219.4" y1="0" y2="0"><stop offset="0" stop-color="#bebebe"/><stop offset=".0776" stop-color="#d1d1d1"/><stop offset=".1233" stop-color="#dfdfdf"/><stop offset=".2648" stop-color="#dfdfdf"/><stop offset=".2694" stop-color="#0b0b0b"/><stop offset="1" stop-color="#0f0f0f"/></linearGradient><linearGradient id="g205" gradientUnits="userSpaceOnUse" x1="0" x2="219.4" y1="0" y2="0"><stop offset="0" stop-color="#c3c3c3"/><stop offset=".0502" stop-color="#cfcfcf"/><stop offset=".105" stop-color="#dfdfdf"/><stop offset=".2466" stop-color="#dfdfdf"/><stop offset=".2511" stop-color="#0b0b0b"/><stop offset="1" stop-color="#0f0f0f"/></linearGradient><linearGradient id="g206" gradientUnits="userSpaceOnUse" x1="0" x2="219.4" y1="0" y2="0"><stop offset="0" stop-color="#c8c8c8"/><stop offset=".0868" stop-color="#dfdfdf"/><stop offset=".2329" stop-color="#dfdfdf"/><stop offset=".2374" stop-color="#0b0b0b"/><stop offset="1" stop-color="#0f0f0f"/></linearGradient><linearGradient id="g207" gradientUnits="userSpaceOnUse" x1="0" x2="219.4" y1="0" y2="0"><stop offset="0" stop-color="#cdcdcd"/><stop offset=".0685" stop-color="#dfdfdf"/><stop offset=".2146" stop-color="#dfdfdf"/><stop offset=".2192" stop-color="#0b0b0b"/><stop offset="1" stop-color="#0f0f0f"/></linearGradient><linearGradient id="g208" gradientUnits="userSpaceOnUse" x1="0" x2="219.4" y1="0" y2="0"><stop offset="0" stop-color="#d2d2d2"/><stop offset=".0502" stop-color="#dfdfdf"/><stop offset=".1963" stop-color="#dfdfdf"/><stop offset=".2009" stop-color="#0b0b0b"/><stop offset="1" stop-color="#0f0f0f"/></linearGradient><linearGradient id="g209" gradientUnits="userSpaceOnUse" x1="0" x2="219.4" y1="0" y2="0"><stop offset="0" stop-color="#0a0a0a"/><stop offset="1" stop-color="#0f0f0f"/></linearGradient><linearGradient id="g210" gradientUnits="userSpaceOnUse" x1="0" x2="219.4" y1="0" y2="0"><stop offset="0" stop-color="#0a0a0a"/><stop offset="1" stop-color="#0e0e0e"/></linearGradient><linearGradient id="g211" gradientUnits="userSpaceOnUse" x1="0" x2="219.4" y1="0" y2="0"><stop offset="0" stop-color="#0a0a0a"/><stop offset="1" stop-color="#0e0e0e"/></linearGradient><linearGradient id="g212" gradientUnits="userSpaceOnUse" x1="0" x2="219.4" y1="0" y2="0"><stop offset="0" stop-color="#0a0a0a"/><stop offset="1" stop-color="#0e0e0e"/></linearGradient><linearGradient id="g213" gradientUnits="userSpaceOnUse" x1="0" x2="219.4" y1="0" y2="0"><stop offset="0" stop-color="#0a0a0a"/><stop offset="1" stop-color="#0e0e0e"/></linearGradient><linearGradient id="g214" gradientUnits="userSpaceOnUse" x1="0" x2="219.4" y1="0" y2="0"><stop offset="0" stop-color="#0a0a0a"/><stop offset="1" stop-color="#0e0e0e"/></linearGradient><linearGradient id="g215" gradientUnits="userSpaceOnUse" x1="0" x2="219.4" y1="0" y2="0"><stop offset="0" stop-color="#0a0a0a"/><stop offset="1" stop-color="#0e0e0e"/></linearGradient><linearGradient id="g216" gradientUnits="userSpaceOnUse" x1="0" x2="219.4" y1="0" y2="0"><stop offset="0" stop-color="#0a0a0a"/><stop offset="1" stop-color="#0d0d0d"/></linearGradient><linearGradient id="g217" gradientUnits="userSpaceOnUse" x1="0" x2="219.4" y1="0" y2="0"><stop offset="0" stop-color="#0a0a0a"/><stop offset="1" stop-color="#0d0d0d"/></linearGradient><linearGradient id="g218" gradientUnits="userSpaceOnUse" x1="0" x2="219.4" y1="0" y2="0"><stop offset="0" stop-color="#0a0a0a"/><stop offset="1" stop-color="#0d0d0d"/></linearGradient><linearGradient id="g219" gradientUnits="userSpaceOnUse" x1="0" x2="219.4" y1="0" y2="0"><stop offset="0" stop-color="#0a0a0a"/><stop offset="1" stop-color="#0d0d0d"/></linearGradient><linearGradient id="g220" gradientUnits="userSpaceOnUse" x1="0" x2="219.4" y1="0" y2="0"><stop offset="0" stop-color="#0a0a0a"/><stop offset="1" stop-color="#0d0d0d"/></linearGradient><linearGradient id="g221" gradientUnits="userSpaceOnUse" x1="0" x2="219.4" y1="0" y2="0"><stop offset="0" stop-color="#0a0a0a"/><stop offset="1" stop-color="#0d0d0d"/></linearGradient><linearGradient id="g222" gradientUnits="userSpaceOnUse" x1="0" x2="219.4" y1="0" y2="0"><stop offset="0" stop-color="#0a0a0a"/><stop offset="1" stop-color="#0c0c0c"/></linearGradient><linearGradient id="g223" gradientUnits="userSpaceOnUse" x1="0" x2="219.4" y1="0" y2="0"><stop offset="0" stop-color="#0a0a0a"/><stop offset="1" stop-color="#0c0c0c"/></linearGradient><linearGradient id="g224" gradientUnits="userSpaceOnUse" x1="0" x2="219.4" y1="0" y2="0"><stop offset="0" stop-color="#0a0a0a"/><stop offset="1" stop-color="#0c0c0c"/></linearGradient><linearGradient id="g225" gradientUnits="userSpaceOnUse" x1="0" x2="219.4" y1="0" y2="0"><stop offset="0" stop-color="#0a0a0a"/><stop offset="1" stop-color="#0c0c0c"/></linearGradient><linearGradient id="g226" gradientUnits="userSpaceOnUse" x1="0" x2="219.4" y1="0" y2="0"><stop offset="0" stop-color="#0a0a0a"/><stop offset="1" stop-color="#0c0c0c"/></linearGradient><linearGradient id="g227" gradientUnits="userSpaceOnUse" x1="0" x2="219.4" y1="0" y2="0"><stop offset="0" stop-color="#0a0a0a"/><stop offset="1" stop-color="#0c0c0c"/></linearGradient><linearGradient id="g228" gradientUnits="userSpaceOnUse" x1="0" x2="219.4" y1="0" y2="0"><stop offset="0" stop-color="#0a0a0a"/><stop offset="1" stop-color="#0c0c0c"/></linearGradient><linearGradient id="g229" gradientUnits="userSpaceOnUse" x1="0" x2="219.4" y1="0" y2="0"><stop offset="0" stop-color="#0a0a0a"/><stop offset="1" stop-color="#0b0b0b"/></linearGradient><linearGradient id="g230" gradientUnits="userSpaceOnUse" x1="0" x2="219.4" y1="0" y2="0"><stop offset="0" stop-color="#0a0a0a"/><stop offset="1" stop-color="#0b0b0b"/></linearGradient><linearGradient id="g231" gradientUnits="userSpaceOnUse" x1="0" x2="219.4" y1="0" y2="0"><stop offset="0" stop-color="#0a0a0a"/><stop offset="1" stop-color="#0b0b0b"/></linearGradient><linearGradient id="g232" gradientUnits="userSpaceOnUse" x1="0" x2="219.4" y1="0" y2="0"><stop offset="0" stop-color="#0a0a0a"/><stop offset="1" stop-color="#0b0b0b"/></linearGradient><linearGradient id="g233" gradientUnits="userSpaceOnUse" x1="0" x2="219.4" y1="0" y2="0"><stop offset="0" stop-color="#0a0a0a"/><stop offset="1" stop-color="#0b0b0b"/></linearGradient><linearGradient id="g234" gradientUnits="userSpaceOnUse" x1="0" x2="219.4" y1="0" y2="0"><stop offset="0" stop-color="#0a0a0a"/><stop offset="1" stop-color="#0b0b0b"/></linearGradient><linearGradient id="g235" gradientUnits="userSpaceOnUse" x1="0" x2="219.4" y1="0" y2="0"><stop offset="0" stop-color="#0a0a0a"/><stop offset="1" stop-color="#0b0b0b"/></linearGradient><linearGradient id="g236" gradientUnits="userSpaceOnUse" x1="0" x2="219.4" y1="0" y2="0"><stop offset="0" stop-color="#0a0a0a"/><stop offset="1" stop-color="#0b0b0b"/></linearGradient><linearGradient id="g237" gradientUnits="userSpaceOnUse" x1="0" x2="219.4" y1="0" y2="0"><stop offset="0" stop-color="#0a0a0a"/><stop offset="1" stop-color="#0b0b0b"/></linearGradient><linearGradient id="g238" gradientUnits="userSpaceOnUse" x1="0" x2="219.4" y1="0" y2="0"><stop offset="0" stop-color="#0a0a0a"/><stop offset="1" stop-color="#0b0b0b"/></linearGradient><linearGradient id="g239" gradientUnits="userSpaceOnUse" x1="0" x2="219.4" y1="0" y2="0"><stop offset="0" stop-color="#949494"/><stop offset=".0776" stop-color="#979797"/><stop offset=".137" stop-color="#9e9e9e"/><stop offset=".1553" stop-color="#a5a5a5"/><stop offset=".1826" stop-color="#b5b5b5"/><stop offset=".1963" stop-color="#b8b8b8"/><stop offset=".21" stop-color="#afafaf"/><stop offset=".2329" stop-color="#909090"/><stop offset=".242" stop-color="#868686"/><stop offset=".2511" stop-color="#7f7f7f"/><stop offset=".2968" stop-color="#707070"/><stop offset=".3242" stop-color="#6a6a6a"/><stop offset=".379" stop-color="#656565"/><stop offset=".6027" stop-color="#616161"/><stop offset=".7032" stop-color="#5a5a5a"/><stop offset=".8402" stop-color="#4a4a4a"/><stop offset=".9269" stop-color="#393939"/><stop offset="1" stop-color="#2e2e2e"/></linearGradient><linearGradient id="g240" gradientUnits="userSpaceOnUse" x1="0" x2="219.4" y1="0" y2="0"><stop offset="0" stop-color="#808080"/><stop offset=".0594" stop-color="#828282"/><stop offset=".137" stop-color="#8c8c8c"/><stop offset=".1781" stop-color="#9b9b9b"/><stop offset=".1963" stop-color="#9e9e9e"/><stop offset=".2055" stop-color="#9b9b9b"/><stop offset=".2374" stop-color="#7b7b7b"/><stop offset=".2466" stop-color="#747474"/><stop offset=".3196" stop-color="#646464"/><stop offset=".3881" stop-color="#606060"/><stop offset=".5845" stop-color="#5f5f5f"/><stop offset=".6667" stop-color="#5b5b5b"/><stop offset=".8311" stop-color="#494949"/><stop offset="1" stop-color="#2e2e2e"/></linearGradient><linearGradient id="g241" gradientUnits="userSpaceOnUse" x1="0" x2="219.4" y1="0" y2="0"><stop offset="0" stop-color="#7a7a7a"/><stop offset=".0365" stop-color="#838383"/><stop offset=".0913" stop-color="#8a8a8a"/><stop offset=".1279" stop-color="#8c8c8c"/><stop offset=".1963" stop-color="#8c8c8c"/><stop offset=".2055" stop-color="#8a8a8a"/><stop offset=".2466" stop-color="#6c6c6c"/><stop offset=".2785" stop-color="#656565"/><stop offset=".3196" stop-color="#5f5f5f"/><stop offset=".4155" stop-color="#595959"/><stop offset=".5845" stop-color="#555555"/><stop offset=".6758" stop-color="#4f4f4f"/><stop offset=".8539" stop-color="#3c3c3c"/><stop offset="1" stop-color="#242424"/></linearGradient><linearGradient id="g242" gradientUnits="userSpaceOnUse" x1="0" x2="219.4" y1="0" y2="0"><stop offset="0" stop-color="#787878"/><stop offset=".0274" stop-color="#7d7d7d"/><stop offset=".0913" stop-color="#838383"/><stop offset=".1963" stop-color="#858585"/><stop offset=".21" stop-color="#808080"/><stop offset=".2283" stop-color="#727272"/><stop offset=".2466" stop-color="#676767"/><stop offset=".2922" stop-color="#5f5f5f"/><stop offset=".3607" stop-color="#595959"/><stop offset=".5708" stop-color="#535353"/><stop offset=".6804" stop-color="#4c4c4c"/><stop offset=".8265" stop-color="#3d3d3d"/><stop offset="1" stop-color="#242424"/></linearGradient><linearGradient id="g243" gradientUnits="userSpaceOnUse" x1="0" x2="219.4" y1="0" y2="0"><stop offset="0" stop-color="#696969"/><stop offset=".0776" stop-color="#6f6f6f"/><stop offset=".2009" stop-color="#707070"/><stop offset=".2146" stop-color="#6b6b6b"/><stop offset=".2329" stop-color="#606060"/><stop offset=".2466" stop-color="#5a5a5a"/><stop offset=".3151" stop-color="#505050"/><stop offset=".4201" stop-color="#494949"/><stop offset=".589" stop-color="#434343"/><stop offset="1" stop-color="#1f1f1f"/></linearGradient><linearGradient id="g244" gradientUnits="userSpaceOnUse" x1="0" x2="219.4" y1="0" y2="0"><stop offset="0" stop-color="#5c5c5c"/><stop offset=".0731" stop-color="#646464"/><stop offset=".2009" stop-color="#666666"/><stop offset=".2146" stop-color="#626262"/><stop offset=".242" stop-color="#565656"/><stop offset=".3151" stop-color="#4b4b4b"/><stop offset=".3973" stop-color="#454545"/><stop offset=".6347" stop-color="#3b3b3b"/><stop offset="1" stop-color="#1c1c1c"/></linearGradient><linearGradient id="g245" gradientUnits="userSpaceOnUse" x1="0" x2="219.4" y1="0" y2="0"><stop offset="0" stop-color="#4f4f4f"/><stop offset=".1963" stop-color="#525252"/><stop offset=".2329" stop-color="#4b4b4b"/><stop offset=".2511" stop-color="#454545"/><stop offset=".2877" stop-color="#3d3d3d"/><stop offset=".3607" stop-color="#333333"/><stop offset=".4703" stop-color="#2d2d2d"/><stop offset=".7808" stop-color="#212121"/><stop offset="1" stop-color="#141414"/></linearGradient><linearGradient id="g246" gradientUnits="userSpaceOnUse" x1="0" x2="219.4" y1="0" y2="0"><stop offset="0" stop-color="#333333"/><stop offset=".2009" stop-color="#333333"/><stop offset=".2192" stop-color="#313131"/><stop offset=".2648" stop-color="#272727"/><stop offset=".3151" stop-color="#232323"/><stop offset=".5571" stop-color="#1a1a1a"/><stop offset=".8539" stop-color="#141414"/><stop offset="1" stop-color="#0f0f0f"/></linearGradient><linearGradient id="g247" gradientUnits="userSpaceOnUse" x1="0" x2="219.4" y1="0" y2="0"><stop offset="0" stop-color="#1f1f1f"/><stop offset=".1963" stop-color="#1f1f1f"/><stop offset=".274" stop-color="#141414"/><stop offset=".5023" stop-color="#0e0e0e"/><stop offset="1" stop-color="#080808"/></linearGradient><linearGradient id="g248" gradientUnits="userSpaceOnUse" x1="0" x2="219.4" y1="0" y2="0"><stop offset="0" stop-color="#010101"/><stop offset="1" stop-color="#030303"/></linearGradient><linearGradient id="g249" gradientUnits="userSpaceOnUse" x1="0" x2="219.4" y1="0" y2="0"><stop offset="0" stop-color="#010101"/><stop offset="1" stop-color="#030303"/></linearGradient><linearGradient id="g250" gradientUnits="userSpaceOnUse" x1="0" x2="219.4" y1="0" y2="0"><stop offset="0" stop-color="#4f4f4f"/><stop offset=".8174" stop-color="#505050"/><stop offset=".9132" stop-color="#545454"/><stop offset="1" stop-color="#5c5c5c"/></linearGradient><linearGradient id="g251" gradientUnits="userSpaceOnUse" x1="0" x2="219.4" y1="0" y2="0"><stop offset="0" stop-color="#4f4f4f"/><stop offset=".7991" stop-color="#505050"/><stop offset=".9087" stop-color="#555555"/><stop offset=".9635" stop-color="#5c5c5c"/><stop offset=".9909" stop-color="#626262"/><stop offset="1" stop-color="#626262"/></linearGradient><linearGradient id="g252" gradientUnits="userSpaceOnUse" x1="0" x2="219.4" y1="0" y2="0"><stop offset="0" stop-color="#4e4e4e"/><stop offset=".5434" stop-color="#4e4e4e"/><stop offset=".7945" stop-color="#505050"/><stop offset=".895" stop-color="#555555"/><stop offset=".9406" stop-color="#5b5b5b"/><stop offset=".9772" stop-color="#636363"/><stop offset=".9909" stop-color="#686868"/><stop offset="1" stop-color="#666666"/></linearGradient><linearGradient id="g253" gradientUnits="userSpaceOnUse" x1="0" x2="219.4" y1="0" y2="0"><stop offset="0" stop-color="#4d4d4d"/><stop offset=".5936" stop-color="#4d4d4d"/><stop offset=".7717" stop-color="#4f4f4f"/><stop offset=".8447" stop-color="#525252"/><stop offset=".9087" stop-color="#585858"/><stop offset=".9543" stop-color="#616161"/><stop offset=".9772" stop-color="#686868"/><stop offset="1" stop-color="#616161"/></linearGradient><linearGradient id="g254" gradientUnits="userSpaceOnUse" x1="0" x2="219.4" y1="0" y2="0"><stop offset="0" stop-color="#4b4b4b"/><stop offset=".6712" stop-color="#4c4c4c"/><stop offset=".7671" stop-color="#4e4e4e"/><stop offset=".8539" stop-color="#535353"/><stop offset=".9132" stop-color="#5b5b5b"/><stop offset=".9589" stop-color="#676767"/><stop offset="1" stop-color="#5d5d5d"/></linearGradient><linearGradient id="g255" gradientUnits="userSpaceOnUse" x1="0" x2="219.4" y1="0" y2="0"><stop offset="0" stop-color="#474747"/><stop offset=".5023" stop-color="#474747"/><stop offset=".7306" stop-color="#4b4b4b"/><stop offset=".8219" stop-color="#505050"/><stop offset=".8676" stop-color="#555555"/><stop offset=".9087" stop-color="#5d5d5d"/><stop offset=".9406" stop-color="#676767"/><stop offset=".9589" stop-color="#616161"/><stop offset="1" stop-color="#585858"/></linearGradient><linearGradient id="g256" gradientUnits="userSpaceOnUse" x1="0" x2="219.4" y1="0" y2="0"><stop offset="0" stop-color="#424242"/><stop offset=".4521" stop-color="#414141"/><stop offset=".5753" stop-color="#424242"/><stop offset=".7169" stop-color="#464646"/><stop offset=".7945" stop-color="#4b4b4b"/><stop offset=".8493" stop-color="#525252"/><stop offset=".8904" stop-color="#5b5b5b"/><stop offset=".9224" stop-color="#676767"/><stop offset=".9543" stop-color="#5c5c5c"/><stop offset="1" stop-color="#535353"/></linearGradient><linearGradient id="g257" gradientUnits="userSpaceOnUse" x1="0" x2="219.4" y1="0" y2="0"><stop offset="0" stop-color="#404040"/><stop offset=".3927" stop-color="#3d3d3d"/><stop offset=".5479" stop-color="#3d3d3d"/><stop offset=".6712" stop-color="#404040"/><stop offset=".758" stop-color="#454545"/><stop offset=".8174" stop-color="#4c4c4c"/><stop offset=".863" stop-color="#565656"/><stop offset=".9041" stop-color="#666666"/><stop offset=".9543" stop-color="#555555"/><stop offset="1" stop-color="#4d4d4d"/></linearGradient><linearGradient id="g258" gradientUnits="userSpaceOnUse" x1="0" x2="219.4" y1="0" y2="0"><stop offset="0" stop-color="#414141"/><stop offset=".1461" stop-color="#414141"/><stop offset=".4064" stop-color="#3d3d3d"/><stop offset=".5936" stop-color="#3d3d3d"/><stop offset=".6667" stop-color="#3f3f3f"/><stop offset=".7397" stop-color="#434343"/><stop offset=".8037" stop-color="#4b4b4b"/><stop offset=".8493" stop-color="#565656"/><stop offset=".8858" stop-color="#656565"/><stop offset=".8904" stop-color="#656565"/><stop offset=".9041" stop-color="#5e5e5e"/><stop offset=".9269" stop-color="#565656"/><stop offset=".9726" stop-color="#4c4c4c"/><stop offset="1" stop-color="#494949"/></linearGradient><linearGradient id="g259" gradientUnits="userSpaceOnUse" x1="0" x2="219.4" y1="0" y2="0"><stop offset="0" stop-color="#454545"/><stop offset=".2283" stop-color="#444444"/><stop offset=".3927" stop-color="#414141"/><stop offset=".6256" stop-color="#414141"/><stop offset=".6895" stop-color="#434343"/><stop offset=".7352" stop-color="#464646"/><stop offset=".7854" stop-color="#4c4c4c"/><stop offset=".8402" stop-color="#595959"/><stop offset=".8676" stop-color="#656565"/><stop offset=".8721" stop-color="#656565"/><stop offset=".8813" stop-color="#606060"/><stop offset=".9178" stop-color="#545454"/><stop offset=".9635" stop-color="#4b4b4b"/><stop offset="1" stop-color="#474747"/></linearGradient><linearGradient id="g260" gradientUnits="userSpaceOnUse" x1="0" x2="219.4" y1="0" y2="0"><stop offset="0" stop-color="#4a4a4a"/><stop offset=".4384" stop-color="#464646"/><stop offset=".6575" stop-color="#474747"/><stop offset=".7306" stop-color="#4b4b4b"/><stop offset=".7808" stop-color="#515151"/><stop offset=".8219" stop-color="#5a5a5a"/><stop offset=".8539" stop-color="#656565"/><stop offset=".8767" stop-color="#5c5c5c"/><stop offset=".9224" stop-color="#515151"/><stop offset=".9909" stop-color="#494949"/><stop offset=".9954" stop-color="#000000"/><stop offset="1" stop-color="#000000"/></linearGradient><linearGradient id="g261" gradientUnits="userSpaceOnUse" x1="0" x2="219.4" y1="0" y2="0"><stop offset="0" stop-color="#4e4e4e"/><stop offset=".4612" stop-color="#4b4b4b"/><stop offset=".6438" stop-color="#4c4c4c"/><stop offset=".7489" stop-color="#525252"/><stop offset=".7717" stop-color="#555555"/><stop offset=".8174" stop-color="#5f5f5f"/><stop offset=".8356" stop-color="#656565"/><stop offset=".863" stop-color="#5c5c5c"/><stop offset=".8858" stop-color="#575757"/><stop offset=".9726" stop-color="#4d4d4d"/><stop offset=".9772" stop-color="#000000"/><stop offset="1" stop-color="#000000"/></linearGradient><linearGradient id="g262" gradientUnits="userSpaceOnUse" x1="0" x2="219.4" y1="0" y2="0"><stop offset="0" stop-color="#4f4f4f"/><stop offset=".6164" stop-color="#4f4f4f"/><stop offset=".726" stop-color="#545454"/><stop offset=".7671" stop-color="#595959"/><stop offset=".8174" stop-color="#646464"/><stop offset=".8813" stop-color="#575757"/><stop offset=".9543" stop-color="#515151"/><stop offset=".9589" stop-color="#000000"/><stop offset="1" stop-color="#000000"/></linearGradient><linearGradient id="g263" gradientUnits="userSpaceOnUse" x1="0" x2="219.4" y1="0" y2="0"><stop offset="0" stop-color="#4e4e4e"/><stop offset=".5023" stop-color="#4e4e4e"/><stop offset=".6256" stop-color="#505050"/><stop offset=".6895" stop-color="#535353"/><stop offset=".7397" stop-color="#585858"/><stop offset=".7991" stop-color="#646464"/><stop offset=".8539" stop-color="#595959"/><stop offset=".8904" stop-color="#555555"/><stop offset=".9361" stop-color="#535353"/><stop offset=".9406" stop-color="#000000"/><stop offset="1" stop-color="#000000"/></linearGradient><linearGradient id="g264" gradientUnits="userSpaceOnUse" x1="0" x2="219.4" y1="0" y2="0"><stop offset="0" stop-color="#4b4b4b"/><stop offset=".589" stop-color="#4d4d4d"/><stop offset=".6393" stop-color="#4f4f4f"/><stop offset=".7169" stop-color="#565656"/><stop offset=".7808" stop-color="#646464"/><stop offset=".8128" stop-color="#5c5c5c"/><stop offset=".8447" stop-color="#575757"/><stop offset=".9224" stop-color="#515151"/><stop offset=".9269" stop-color="#000000"/><stop offset="1" stop-color="#000000"/></linearGradient><linearGradient id="g265" gradientUnits="userSpaceOnUse" x1="0" x2="219.4" y1="0" y2="0"><stop offset="0" stop-color="#474747"/><stop offset=".4749" stop-color="#474747"/><stop offset=".5753" stop-color="#494949"/><stop offset=".6438" stop-color="#4d4d4d"/><stop offset=".6895" stop-color="#525252"/><stop offset=".7671" stop-color="#636363"/><stop offset=".8082" stop-color="#585858"/><stop offset=".8539" stop-color="#525252"/><stop offset=".9041" stop-color="#4f4f4f"/><stop offset=".9087" stop-color="#000000"/><stop offset="1" stop-color="#000000"/></linearGradient><linearGradient id="g266" gradientUnits="userSpaceOnUse" x1="0" x2="219.4" y1="0" y2="0"><stop offset="0" stop-color="#444444"/><stop offset=".5571" stop-color="#444444"/><stop offset=".6073" stop-color="#474747"/><stop offset=".6667" stop-color="#4e4e4e"/><stop offset=".7169" stop-color="#595959"/><stop offset=".7443" stop-color="#636363"/><stop offset=".7671" stop-color="#5c5c5c"/><stop offset=".8128" stop-color="#525252"/><stop offset=".8858" stop-color="#4c4c4c"/><stop offset=".8904" stop-color="#000000"/><stop offset="1" stop-color="#000000"/></linearGradient><linearGradient id="g267" gradientUnits="userSpaceOnUse" x1="0" x2="219.4" y1="0" y2="0"><stop offset="0" stop-color="#424242"/><stop offset=".1005" stop-color="#434343"/><stop offset=".5205" stop-color="#3f3f3f"/><stop offset=".5799" stop-color="#424242"/><stop offset=".6393" stop-color="#494949"/><stop offset=".6849" stop-color="#535353"/><stop offset=".726" stop-color="#626262"/><stop offset=".7306" stop-color="#626262"/><stop offset=".758" stop-color="#585858"/><stop offset=".7991" stop-color="#4f4f4f"/><stop offset=".8676" stop-color="#494949"/><stop offset=".8721" stop-color="#000000"/><stop offset="1" stop-color="#000000"/></linearGradient><linearGradient id="g268" gradientUnits="userSpaceOnUse" x1="0" x2="219.4" y1="0" y2="0"><stop offset="0" stop-color="#434343"/><stop offset=".2192" stop-color="#424242"/><stop offset=".4247" stop-color="#3d3d3d"/><stop offset=".5342" stop-color="#3e3e3e"/><stop offset=".621" stop-color="#474747"/><stop offset=".6621" stop-color="#505050"/><stop offset=".7123" stop-color="#626262"/><stop offset=".7397" stop-color="#575757"/><stop offset=".7717" stop-color="#4f4f4f"/><stop offset=".8265" stop-color="#484848"/><stop offset=".8493" stop-color="#474747"/><stop offset=".8539" stop-color="#000000"/><stop offset="1" stop-color="#000000"/></linearGradient><linearGradient id="g269" gradientUnits="userSpaceOnUse" x1="0" x2="219.4" y1="0" y2="0"><stop offset="0" stop-color="#454545"/><stop offset=".2055" stop-color="#444444"/><stop offset=".3973" stop-color="#3f3f3f"/><stop offset=".5114" stop-color="#3f3f3f"/><stop offset=".5616" stop-color="#424242"/><stop offset=".6027" stop-color="#474747"/><stop offset=".6575" stop-color="#545454"/><stop offset=".6941" stop-color="#626262"/><stop offset=".7215" stop-color="#575757"/><stop offset=".758" stop-color="#4e4e4e"/><stop offset=".7945" stop-color="#494949"/><stop offset=".8311" stop-color="#474747"/><stop offset=".8356" stop-color="#000000"/><stop offset="1" stop-color="#000000"/></linearGradient><linearGradient id="g270" gradientUnits="userSpaceOnUse" x1="0" x2="219.4" y1="0" y2="0"><stop offset="0" stop-color="#484848"/><stop offset=".1324" stop-color="#484848"/><stop offset=".3881" stop-color="#434343"/><stop offset=".5023" stop-color="#434343"/><stop offset=".5525" stop-color="#464646"/><stop offset=".6164" stop-color="#4f4f4f"/><stop offset=".653" stop-color="#595959"/><stop offset=".6758" stop-color="#626262"/><stop offset=".726" stop-color="#525252"/><stop offset=".7489" stop-color="#4e4e4e"/><stop offset=".8128" stop-color="#484848"/><stop offset=".8174" stop-color="#000000"/><stop offset="1" stop-color="#000000"/></linearGradient><linearGradient id="g271" gradientUnits="userSpaceOnUse" x1="0" x2="219.4" y1="0" y2="0"><stop offset="0" stop-color="#4c4c4c"/><stop offset=".4886" stop-color="#484848"/><stop offset=".5571" stop-color="#4c4c4c"/><stop offset=".589" stop-color="#505050"/><stop offset=".6347" stop-color="#5a5a5a"/><stop offset=".6575" stop-color="#626262"/><stop offset=".6849" stop-color="#595959"/><stop offset=".7078" stop-color="#545454"/><stop offset=".7945" stop-color="#4b4b4b"/><stop offset=".7991" stop-color="#000000"/><stop offset="1" stop-color="#000000"/></linearGradient><linearGradient id="g272" gradientUnits="userSpaceOnUse" x1="0" x2="219.4" y1="0" y2="0"><stop offset="0" stop-color="#4e4e4e"/><stop offset=".3516" stop-color="#4c4c4c"/><stop offset=".4886" stop-color="#4d4d4d"/><stop offset=".5799" stop-color="#545454"/><stop offset=".6393" stop-color="#616161"/><stop offset=".7123" stop-color="#535353"/><stop offset=".7808" stop-color="#4e4e4e"/><stop offset=".7854" stop-color="#000000"/><stop offset="1" stop-color="#000000"/></linearGradient><linearGradient id="g273" gradientUnits="userSpaceOnUse" x1="0" x2="219.4" y1="0" y2="0"><stop offset="0" stop-color="#4f4f4f"/><stop offset=".4795" stop-color="#505050"/><stop offset=".5708" stop-color="#575757"/><stop offset=".621" stop-color="#616161"/><stop offset=".6758" stop-color="#575757"/><stop offset=".7626" stop-color="#515151"/><stop offset=".7671" stop-color="#000000"/><stop offset="1" stop-color="#000000"/></linearGradient><linearGradient id="g274" gradientUnits="userSpaceOnUse" x1="0" x2="219.4" y1="0" y2="0"><stop offset="0" stop-color="#4d4d4d"/><stop offset=".4338" stop-color="#4f4f4f"/><stop offset=".5251" stop-color="#545454"/><stop offset=".5616" stop-color="#585858"/><stop offset=".6073" stop-color="#606060"/><stop offset=".6804" stop-color="#555555"/><stop offset=".7443" stop-color="#525252"/><stop offset=".7489" stop-color="#000000"/><stop offset="1" stop-color="#000000"/></linearGradient><linearGradient id="g275" gradientUnits="userSpaceOnUse" x1="0" x2="219.4" y1="0" y2="0"><stop offset="0" stop-color="#484848"/><stop offset=".3014" stop-color="#494949"/><stop offset=".4247" stop-color="#4c4c4c"/><stop offset=".5114" stop-color="#525252"/><stop offset=".5525" stop-color="#585858"/><stop offset=".589" stop-color="#606060"/><stop offset=".6393" stop-color="#565656"/><stop offset=".726" stop-color="#505050"/><stop offset=".7306" stop-color="#000000"/><stop offset="1" stop-color="#000000"/></linearGradient><linearGradient id="g276" gradientUnits="userSpaceOnUse" x1="0" x2="219.4" y1="0" y2="0"><stop offset="0" stop-color="#434343"/><stop offset=".2557" stop-color="#434343"/><stop offset=".411" stop-color="#474747"/><stop offset=".5023" stop-color="#505050"/><stop offset=".5434" stop-color="#585858"/><stop offset=".5708" stop-color="#606060"/><stop offset=".589" stop-color="#5a5a5a"/><stop offset=".6301" stop-color="#525252"/><stop offset=".7078" stop-color="#4c4c4c"/><stop offset=".7123" stop-color="#000000"/><stop offset="1" stop-color="#000000"/></linearGradient><linearGradient id="g277" gradientUnits="userSpaceOnUse" x1="0" x2="219.4" y1="0" y2="0"><stop offset="0" stop-color="#3f3f3f"/><stop offset=".274" stop-color="#3e3e3e"/><stop offset=".3927" stop-color="#424242"/><stop offset=".4703" stop-color="#4a4a4a"/><stop offset=".5023" stop-color="#505050"/><stop offset=".5525" stop-color="#5f5f5f"/><stop offset=".5799" stop-color="#565656"/><stop offset=".6073" stop-color="#505050"/><stop offset=".653" stop-color="#4a4a4a"/><stop offset=".6895" stop-color="#484848"/><stop offset=".6941" stop-color="#000000"/><stop offset="1" stop-color="#000000"/></linearGradient><linearGradient id="g278" gradientUnits="userSpaceOnUse" x1="0" x2="219.4" y1="0" y2="0"><stop offset="0" stop-color="#3e3e3e"/><stop offset=".1826" stop-color="#3c3c3c"/><stop offset=".3105" stop-color="#3c3c3c"/><stop offset=".3607" stop-color="#3e3e3e"/><stop offset=".4018" stop-color="#414141"/><stop offset=".4612" stop-color="#494949"/><stop offset=".5023" stop-color="#535353"/><stop offset=".5342" stop-color="#5f5f5f"/><stop offset=".5616" stop-color="#555555"/><stop offset=".589" stop-color="#4e4e4e"/><stop offset=".6301" stop-color="#484848"/><stop offset=".6712" stop-color="#454545"/><stop offset=".6758" stop-color="#000000"/><stop offset="1" stop-color="#000000"/></linearGradient><linearGradient id="g279" gradientUnits="userSpaceOnUse" x1="0" x2="219.4" y1="0" y2="0"><stop offset="0" stop-color="#404040"/><stop offset=".2146" stop-color="#3d3d3d"/><stop offset=".3516" stop-color="#3f3f3f"/><stop offset=".4384" stop-color="#484848"/><stop offset=".4886" stop-color="#545454"/><stop offset=".516" stop-color="#5f5f5f"/><stop offset=".5388" stop-color="#565656"/><stop offset=".5799" stop-color="#4c4c4c"/><stop offset=".6347" stop-color="#454545"/><stop offset=".6575" stop-color="#444444"/><stop offset=".6621" stop-color="#000000"/><stop offset="1" stop-color="#000000"/></linearGradient><linearGradient id="g280" gradientUnits="userSpaceOnUse" x1="0" x2="219.4" y1="0" y2="0"><stop offset="0" stop-color="#434343"/><stop offset=".1826" stop-color="#414141"/><stop offset=".3288" stop-color="#424242"/><stop offset=".379" stop-color="#454545"/><stop offset=".4338" stop-color="#4c4c4c"/><stop offset=".4658" stop-color="#535353"/><stop offset=".4977" stop-color="#5e5e5e"/><stop offset=".5251" stop-color="#555555"/><stop offset=".5571" stop-color="#4e4e4e"/><stop offset=".6393" stop-color="#454545"/><stop offset=".6438" stop-color="#000000"/><stop offset="1" stop-color="#000000"/></linearGradient><linearGradient id="g281" gradientUnits="userSpaceOnUse" x1="0" x2="219.4" y1="0" y2="0"><stop offset="0" stop-color="#474747"/><stop offset=".3333" stop-color="#474747"/><stop offset=".4155" stop-color="#4e4e4e"/><stop offset=".484" stop-color="#5d5d5d"/><stop offset=".5023" stop-color="#575757"/><stop offset=".5388" stop-color="#505050"/><stop offset=".621" stop-color="#484848"/><stop offset=".6256" stop-color="#000000"/><stop offset="1" stop-color="#000000"/></linearGradient><linearGradient id="g282" gradientUnits="userSpaceOnUse" x1="0" x2="219.4" y1="0" y2="0"><stop offset="0" stop-color="#494949"/><stop offset=".2648" stop-color="#494949"/><stop offset=".3333" stop-color="#4b4b4b"/><stop offset=".4064" stop-color="#515151"/><stop offset=".4612" stop-color="#5d5d5d"/><stop offset=".5251" stop-color="#515151"/><stop offset=".6027" stop-color="#4b4b4b"/><stop offset=".6073" stop-color="#000000"/><stop offset="1" stop-color="#000000"/></linearGradient><linearGradient id="g283" gradientUnits="userSpaceOnUse" x1="0" x2="219.4" y1="0" y2="0"><stop offset="0" stop-color="#4a4a4a"/><stop offset=".2146" stop-color="#4a4a4a"/><stop offset=".3059" stop-color="#4c4c4c"/><stop offset=".3973" stop-color="#535353"/><stop offset=".4475" stop-color="#5c5c5c"/><stop offset=".4977" stop-color="#535353"/><stop offset=".5845" stop-color="#4d4d4d"/><stop offset=".589" stop-color="#000000"/><stop offset="1" stop-color="#000000"/></linearGradient><linearGradient id="g284" gradientUnits="userSpaceOnUse" x1="0" x2="219.4" y1="0" y2="0"><stop offset="0" stop-color="#484848"/><stop offset=".2009" stop-color="#494949"/><stop offset=".3059" stop-color="#4c4c4c"/><stop offset=".3699" stop-color="#515151"/><stop offset=".4292" stop-color="#5c5c5c"/><stop offset=".484" stop-color="#525252"/><stop offset=".5662" stop-color="#4d4d4d"/><stop offset=".5708" stop-color="#000000"/><stop offset="1" stop-color="#000000"/></linearGradient><linearGradient id="g285" gradientUnits="userSpaceOnUse" x1="0" x2="219.4" y1="0" y2="0"><stop offset="0" stop-color="#464646"/><stop offset=".1553" stop-color="#464646"/><stop offset=".2694" stop-color="#494949"/><stop offset=".3562" stop-color="#505050"/><stop offset=".411" stop-color="#5b5b5b"/><stop offset=".4566" stop-color="#525252"/><stop offset=".5479" stop-color="#4b4b4b"/><stop offset=".5525" stop-color="#000000"/><stop offset="1" stop-color="#000000"/></linearGradient><linearGradient id="g286" gradientUnits="userSpaceOnUse" x1="0" x2="219.4" y1="0" y2="0"><stop offset="0" stop-color="#424242"/><stop offset=".1735" stop-color="#434343"/><stop offset=".2557" stop-color="#464646"/><stop offset=".3242" stop-color="#4c4c4c"/><stop offset=".3607" stop-color="#525252"/><stop offset=".3927" stop-color="#5a5a5a"/><stop offset=".4475" stop-color="#4f4f4f"/><stop offset=".484" stop-color="#4b4b4b"/><stop offset=".5297" stop-color="#494949"/><stop offset=".5342" stop-color="#000000"/><stop offset="1" stop-color="#000000"/></linearGradient><linearGradient id="g287" gradientUnits="userSpaceOnUse" x1="0" x2="219.4" y1="0" y2="0"><stop offset="0" stop-color="#3f3f3f"/><stop offset=".1598" stop-color="#3f3f3f"/><stop offset=".2329" stop-color="#424242"/><stop offset=".3151" stop-color="#4b4b4b"/><stop offset=".3607" stop-color="#555555"/><stop offset=".3744" stop-color="#5a5a5a"/><stop offset=".4292" stop-color="#4d4d4d"/><stop offset=".484" stop-color="#474747"/><stop offset=".516" stop-color="#464646"/><stop offset=".5205" stop-color="#000000"/><stop offset="1" stop-color="#000000"/></linearGradient><linearGradient id="g288" gradientUnits="userSpaceOnUse" x1="0" x2="219.4" y1="0" y2="0"><stop offset="0" stop-color="#3c3c3c"/><stop offset=".1142" stop-color="#3b3b3b"/><stop offset=".2329" stop-color="#404040"/><stop offset=".2877" stop-color="#474747"/><stop offset=".3333" stop-color="#515151"/><stop offset=".3562" stop-color="#595959"/><stop offset=".379" stop-color="#525252"/><stop offset=".4247" stop-color="#494949"/><stop offset=".4977" stop-color="#434343"/><stop offset=".5023" stop-color="#000000"/><stop offset="1" stop-color="#000000"/></linearGradient><linearGradient id="g289" gradientUnits="userSpaceOnUse" x1="0" x2="219.4" y1="0" y2="0"><stop offset="0" stop-color="#3b3b3b"/><stop offset=".1461" stop-color="#3a3a3a"/><stop offset=".2146" stop-color="#3e3e3e"/><stop offset=".2694" stop-color="#454545"/><stop offset=".3059" stop-color="#4d4d4d"/><stop offset=".3379" stop-color="#585858"/><stop offset=".3973" stop-color="#494949"/><stop offset=".4795" stop-color="#414141"/><stop offset=".484" stop-color="#000000"/><stop offset="1" stop-color="#000000"/></linearGradient><linearGradient id="g290" gradientUnits="userSpaceOnUse" x1="0" x2="219.4" y1="0" y2="0"><stop offset="0" stop-color="#3b3b3b"/><stop offset=".1142" stop-color="#3a3a3a"/><stop offset=".2009" stop-color="#3e3e3e"/><stop offset=".2557" stop-color="#454545"/><stop offset=".2877" stop-color="#4c4c4c"/><stop offset=".3196" stop-color="#575757"/><stop offset=".3242" stop-color="#575757"/><stop offset=".3516" stop-color="#4e4e4e"/><stop offset=".3881" stop-color="#474747"/><stop offset=".4612" stop-color="#404040"/><stop offset=".4658" stop-color="#000000"/><stop offset="1" stop-color="#000000"/></linearGradient><linearGradient id="g291" gradientUnits="userSpaceOnUse" x1="0" x2="219.4" y1="0" y2="0"><stop offset="0" stop-color="#3d3d3d"/><stop offset=".105" stop-color="#3c3c3c"/><stop offset=".1918" stop-color="#404040"/><stop offset=".242" stop-color="#464646"/><stop offset=".3059" stop-color="#565656"/><stop offset=".3288" stop-color="#4f4f4f"/><stop offset=".3653" stop-color="#484848"/><stop offset=".4429" stop-color="#414141"/><stop offset=".4475" stop-color="#000000"/><stop offset="1" stop-color="#000000"/></linearGradient><linearGradient id="g292" gradientUnits="userSpaceOnUse" x1="0" x2="219.4" y1="0" y2="0"><stop offset="0" stop-color="#3f3f3f"/><stop offset=".1142" stop-color="#3f3f3f"/><stop offset=".1918" stop-color="#434343"/><stop offset=".2374" stop-color="#494949"/><stop offset=".2877" stop-color="#555555"/><stop offset=".3196" stop-color="#4d4d4d"/><stop offset=".3516" stop-color="#484848"/><stop offset=".4247" stop-color="#424242"/><stop offset=".4292" stop-color="#000000"/><stop offset="1" stop-color="#000000"/></linearGradient><linearGradient id="g293" gradientUnits="userSpaceOnUse" x1="0" x2="219.4" y1="0" y2="0"><stop offset="0" stop-color="#414141"/><stop offset=".1507" stop-color="#434343"/><stop offset=".21" stop-color="#484848"/><stop offset=".2694" stop-color="#545454"/><stop offset=".3242" stop-color="#4a4a4a"/><stop offset=".4064" stop-color="#444444"/><stop offset=".411" stop-color="#000000"/><stop offset="1" stop-color="#000000"/></linearGradient><linearGradient id="g294" gradientUnits="userSpaceOnUse" x1="0" x2="219.4" y1="0" y2="0"><stop offset="0" stop-color="#434343"/><stop offset=".1461" stop-color="#454545"/><stop offset=".2055" stop-color="#4a4a4a"/><stop offset=".2511" stop-color="#535353"/><stop offset=".3014" stop-color="#4b4b4b"/><stop offset=".3836" stop-color="#464646"/><stop offset=".3881" stop-color="#454545"/><stop offset=".3927" stop-color="#000000"/><stop offset="1" stop-color="#000000"/></linearGradient><linearGradient id="g295" gradientUnits="userSpaceOnUse" x1="0" x2="219.4" y1="0" y2="0"><stop offset="0" stop-color="#454545"/><stop offset=".1416" stop-color="#464646"/><stop offset=".2055" stop-color="#4c4c4c"/><stop offset=".2329" stop-color="#515151"/><stop offset=".3151" stop-color="#494949"/><stop offset=".3744" stop-color="#474747"/><stop offset=".379" stop-color="#000000"/><stop offset="1" stop-color="#000000"/></linearGradient><linearGradient id="g296" gradientUnits="userSpaceOnUse" x1="0" x2="219.4" y1="0" y2="0"><stop offset="0" stop-color="#464646"/><stop offset=".1553" stop-color="#474747"/><stop offset=".1872" stop-color="#4a4a4a"/><stop offset=".2146" stop-color="#4f4f4f"/><stop offset=".3014" stop-color="#494949"/><stop offset=".3562" stop-color="#484848"/><stop offset=".3607" stop-color="#000000"/><stop offset="1" stop-color="#000000"/></linearGradient><linearGradient id="g297" gradientUnits="userSpaceOnUse" x1="0" x2="219.4" y1="0" y2="0"><stop offset="0" stop-color="#474747"/><stop offset=".1187" stop-color="#474747"/><stop offset=".1872" stop-color="#494949"/><stop offset=".2009" stop-color="#4b4b4b"/><stop offset=".3379" stop-color="#484848"/><stop offset=".3425" stop-color="#000000"/><stop offset="1" stop-color="#000000"/></linearGradient><linearGradient id="g298" gradientUnits="userSpaceOnUse" x1="0" x2="219.4" y1="0" y2="0"><stop offset="0" stop-color="#474747"/><stop offset=".2511" stop-color="#4a4a4a"/><stop offset=".3196" stop-color="#494949"/><stop offset=".3242" stop-color="#000000"/><stop offset="1" stop-color="#000000"/></linearGradient><linearGradient id="g299" gradientUnits="userSpaceOnUse" x1="0" x2="219.4" y1="0" y2="0"><stop offset="0" stop-color="#474747"/><stop offset=".3014" stop-color="#494949"/><stop offset=".3059" stop-color="#000000"/><stop offset="1" stop-color="#000000"/></linearGradient><linearGradient id="g300" gradientUnits="userSpaceOnUse" x1="0" x2="219.4" y1="0" y2="0"><stop offset="0" stop-color="#474747"/><stop offset=".2831" stop-color="#484848"/><stop offset=".2877" stop-color="#000000"/><stop offset="1" stop-color="#000000"/></linearGradient><linearGradient id="g301" gradientUnits="userSpaceOnUse" x1="0" x2="219.4" y1="0" y2="0"><stop offset="0" stop-color="#474747"/><stop offset=".2648" stop-color="#484848"/><stop offset=".2694" stop-color="#000000"/><stop offset="1" stop-color="#000000"/></linearGradient><linearGradient id="g302" gradientUnits="userSpaceOnUse" x1="0" x2="219.4" y1="0" y2="0"><stop offset="0" stop-color="#474747"/><stop offset=".2466" stop-color="#484848"/><stop offset=".2511" stop-color="#000000"/><stop offset="1" stop-color="#000000"/></linearGradient><linearGradient id="g303" gradientUnits="userSpaceOnUse" x1="0" x2="219.4" y1="0" y2="0"><stop offset="0" stop-color="#474747"/><stop offset=".2329" stop-color="#484848"/><stop offset=".2374" stop-color="#000000"/><stop offset="1" stop-color="#000000"/></linearGradient><linearGradient id="g304" gradientUnits="userSpaceOnUse" x1="0" x2="219.4" y1="0" y2="0"><stop offset="0" stop-color="#474747"/><stop offset=".2146" stop-color="#484848"/><stop offset=".2192" stop-color="#000000"/><stop offset="1" stop-color="#000000"/></linearGradient><linearGradient id="g305" gradientUnits="userSpaceOnUse" x1="0" x2="219.4" y1="0" y2="0"><stop offset="0" stop-color="#474747"/><stop offset=".1963" stop-color="#484848"/><stop offset=".2009" stop-color="#000000"/><stop offset="1" stop-color="#000000"/></linearGradient><linearGradient id="g306" gradientUnits="userSpaceOnUse" x1="0" x2="219.4" y1="0" y2="0"><stop offset="0" stop-color="#454545"/><stop offset=".1963" stop-color="#474747"/><stop offset=".3653" stop-color="#4d4d4d"/><stop offset=".6438" stop-color="#505050"/><stop offset=".8402" stop-color="#5a5a5a"/><stop offset="1" stop-color="#666666"/></linearGradient><linearGradient id="g307" gradientUnits="userSpaceOnUse" x1="0" x2="219.4" y1="0" y2="0"><stop offset="0" stop-color="#5c5c5c"/><stop offset=".1096" stop-color="#555555"/><stop offset=".3059" stop-color="#4d4d4d"/><stop offset=".4932" stop-color="#4d4d4d"/><stop offset=".7123" stop-color="#535353"/><stop offset=".8721" stop-color="#5c5c5c"/><stop offset="1" stop-color="#666666"/></linearGradient><linearGradient id="g308" gradientUnits="userSpaceOnUse" x1="0" x2="219.4" y1="0" y2="0"><stop offset="0" stop-color="#4f4f4f"/><stop offset=".0731" stop-color="#4a4a4a"/><stop offset=".1735" stop-color="#474747"/><stop offset=".3151" stop-color="#4a4a4a"/><stop offset=".4521" stop-color="#515151"/><stop offset=".589" stop-color="#5c5c5c"/><stop offset=".7854" stop-color="#686868"/><stop offset=".9224" stop-color="#757575"/><stop offset="1" stop-color="#787878"/></linearGradient><linearGradient id="g309" gradientUnits="userSpaceOnUse" x1="0" x2="219.4" y1="0" y2="0"><stop offset="0" stop-color="#4a4a4a"/><stop offset=".1096" stop-color="#434343"/><stop offset=".2374" stop-color="#434343"/><stop offset=".3653" stop-color="#4d4d4d"/><stop offset=".7854" stop-color="#686868"/><stop offset=".9224" stop-color="#757575"/><stop offset="1" stop-color="#787878"/></linearGradient><linearGradient id="g310" gradientUnits="userSpaceOnUse" x1="0" x2="219.4" y1="0" y2="0"><stop offset="0" stop-color="#262626"/><stop offset=".2374" stop-color="#2a2a2a"/><stop offset=".3836" stop-color="#343434"/><stop offset=".4886" stop-color="#3e3e3e"/><stop offset=".7352" stop-color="#595959"/><stop offset=".7991" stop-color="#626262"/><stop offset=".8447" stop-color="#6b6b6b"/><stop offset=".9132" stop-color="#808080"/><stop offset=".968" stop-color="#8b8b8b"/><stop offset="1" stop-color="#8f8f8f"/></linearGradient><linearGradient id="g311" gradientUnits="userSpaceOnUse" x1="0" x2="219.4" y1="0" y2="0"><stop offset="0" stop-color="#1f1f1f"/><stop offset=".1096" stop-color="#1f1f1f"/><stop offset=".2283" stop-color="#222222"/><stop offset=".5342" stop-color="#3e3e3e"/><stop offset=".7352" stop-color="#545454"/><stop offset=".8174" stop-color="#606060"/><stop offset=".8493" stop-color="#676767"/><stop offset=".9224" stop-color="#7d7d7d"/><stop offset=".9726" stop-color="#888888"/><stop offset="1" stop-color="#8c8c8c"/></linearGradient><linearGradient id="g312" gradientUnits="userSpaceOnUse" x1="0" x2="219.4" y1="0" y2="0"><stop offset="0" stop-color="#1a1a1a"/><stop offset=".2511" stop-color="#1a1a1a"/><stop offset=".5571" stop-color="#242424"/><stop offset=".621" stop-color="#282828"/><stop offset=".726" stop-color="#373737"/><stop offset=".8037" stop-color="#484848"/><stop offset=".8356" stop-color="#515151"/><stop offset=".9269" stop-color="#797979"/><stop offset=".9543" stop-color="#7f7f7f"/><stop offset="1" stop-color="#858585"/></linearGradient><linearGradient id="g313" gradientUnits="userSpaceOnUse" x1="0" x2="219.4" y1="0" y2="0"><stop offset="0" stop-color="#0d0d0d"/><stop offset=".2648" stop-color="#0d0d0d"/><stop offset=".3836" stop-color="#101010"/><stop offset=".5708" stop-color="#111111"/><stop offset=".653" stop-color="#131313"/><stop offset=".7626" stop-color="#191919"/><stop offset=".8265" stop-color="#1f1f1f"/><stop offset=".863" stop-color="#272727"/><stop offset=".9498" stop-color="#454545"/><stop offset="1" stop-color="#595959"/></linearGradient><linearGradient id="g314" gradientUnits="userSpaceOnUse" x1="0" x2="219.4" y1="0" y2="0"><stop offset="0" stop-color="#050505"/><stop offset=".653" stop-color="#050505"/><stop offset=".7443" stop-color="#070707"/><stop offset=".8584" stop-color="#0d0d0d"/><stop offset=".9452" stop-color="#1b1b1b"/><stop offset="1" stop-color="#262626"/></linearGradient><linearGradient id="g315" gradientUnits="userSpaceOnUse" x1="0" x2="219.4" y1="0" y2="0"><stop offset="0" stop-color="#010101"/><stop offset=".3927" stop-color="#020202"/><stop offset=".7717" stop-color="#080808"/><stop offset=".8356" stop-color="#0b0b0b"/><stop offset=".9269" stop-color="#191919"/><stop offset="1" stop-color="#212121"/></linearGradient><linearGradient id="g316" gradientUnits="userSpaceOnUse" x1="0" x2="219.4" y1="0" y2="0"><stop offset="0" stop-color="#000000"/><stop offset=".6758" stop-color="#000000"/><stop offset=".9132" stop-color="#040404"/><stop offset="1" stop-color="#0a0a0a"/></linearGradient><linearGradient id="g317" gradientUnits="userSpaceOnUse" x1="0" x2="219.4" y1="0" y2="0"><stop offset="0" stop-color="#4c4c4c"/><stop offset="1" stop-color="#525252"/></linearGradient><linearGradient id="g318" gradientUnits="userSpaceOnUse" x1="0" x2="219.4" y1="0" y2="0"><stop offset="0" stop-color="#4b4b4b"/><stop offset="1" stop-color="#535353"/></linearGradient><linearGradient id="g319" gradientUnits="userSpaceOnUse" x1="0" x2="219.4" y1="0" y2="0"><stop offset="0" stop-color="#4b4b4b"/><stop offset=".484" stop-color="#4e4e4e"/><stop offset="1" stop-color="#545454"/></linearGradient><linearGradient id="g320" gradientUnits="userSpaceOnUse" x1="0" x2="219.4" y1="0" y2="0"><stop offset="0" stop-color="#4b4b4b"/><stop offset=".6804" stop-color="#505050"/><stop offset=".9452" stop-color="#565656"/><stop offset=".9817" stop-color="#565656"/><stop offset="1" stop-color="#545454"/></linearGradient><linearGradient id="g321" gradientUnits="userSpaceOnUse" x1="0" x2="219.4" y1="0" y2="0"><stop offset="0" stop-color="#4b4b4b"/><stop offset=".6575" stop-color="#505050"/><stop offset=".8539" stop-color="#545454"/><stop offset=".9406" stop-color="#585858"/><stop offset=".9635" stop-color="#585858"/><stop offset="1" stop-color="#545454"/></linearGradient><linearGradient id="g322" gradientUnits="userSpaceOnUse" x1="0" x2="219.4" y1="0" y2="0"><stop offset="0" stop-color="#4a4a4a"/><stop offset=".6986" stop-color="#515151"/><stop offset=".8721" stop-color="#565656"/><stop offset=".9315" stop-color="#5a5a5a"/><stop offset="1" stop-color="#545454"/></linearGradient><linearGradient id="g323" gradientUnits="userSpaceOnUse" x1="0" x2="219.4" y1="0" y2="0"><stop offset="0" stop-color="#4a4a4a"/><stop offset=".6256" stop-color="#505050"/><stop offset=".8082" stop-color="#555555"/><stop offset=".9224" stop-color="#5c5c5c"/><stop offset="1" stop-color="#535353"/></linearGradient><linearGradient id="g324" gradientUnits="userSpaceOnUse" x1="0" x2="219.4" y1="0" y2="0"><stop offset="0" stop-color="#4a4a4a"/><stop offset=".3379" stop-color="#4c4c4c"/><stop offset=".6119" stop-color="#505050"/><stop offset=".8219" stop-color="#575757"/><stop offset=".8995" stop-color="#5d5d5d"/><stop offset="1" stop-color="#535353"/></linearGradient><linearGradient id="g325" gradientUnits="userSpaceOnUse" x1="0" x2="219.4" y1="0" y2="0"><stop offset="0" stop-color="#494949"/><stop offset=".5525" stop-color="#4f4f4f"/><stop offset=".7717" stop-color="#565656"/><stop offset=".8813" stop-color="#5e5e5e"/><stop offset="1" stop-color="#525252"/></linearGradient><linearGradient id="g326" gradientUnits="userSpaceOnUse" x1="0" x2="219.4" y1="0" y2="0"><stop offset="0" stop-color="#494949"/><stop offset=".2831" stop-color="#4b4b4b"/><stop offset=".5799" stop-color="#505050"/><stop offset=".7443" stop-color="#565656"/><stop offset=".863" stop-color="#5f5f5f"/><stop offset=".9543" stop-color="#555555"/><stop offset="1" stop-color="#525252"/></linearGradient><linearGradient id="g327" gradientUnits="userSpaceOnUse" x1="0" x2="219.4" y1="0" y2="0"><stop offset="0" stop-color="#494949"/><stop offset=".2146" stop-color="#4a4a4a"/><stop offset=".5297" stop-color="#4f4f4f"/><stop offset=".6804" stop-color="#545454"/><stop offset=".8584" stop-color="#606060"/><stop offset=".9452" stop-color="#555555"/><stop offset=".9909" stop-color="#525252"/><stop offset=".9954" stop-color="#202020"/><stop offset="1" stop-color="#202020"/></linearGradient><linearGradient id="g328" gradientUnits="userSpaceOnUse" x1="0" x2="219.4" y1="0" y2="0"><stop offset="0" stop-color="#484848"/><stop offset=".3151" stop-color="#4b4b4b"/><stop offset=".5525" stop-color="#505050"/><stop offset=".6986" stop-color="#565656"/><stop offset=".8402" stop-color="#616161"/><stop offset=".895" stop-color="#595959"/><stop offset=".9726" stop-color="#525252"/><stop offset=".9772" stop-color="#202020"/><stop offset="1" stop-color="#202020"/></linearGradient><linearGradient id="g329" gradientUnits="userSpaceOnUse" x1="0" x2="219.4" y1="0" y2="0"><stop offset="0" stop-color="#484848"/><stop offset=".2648" stop-color="#4a4a4a"/><stop offset=".5708" stop-color="#515151"/><stop offset=".6941" stop-color="#575757"/><stop offset=".8219" stop-color="#626262"/><stop offset=".8676" stop-color="#5b5b5b"/><stop offset=".9543" stop-color="#535353"/><stop offset=".9589" stop-color="#202020"/><stop offset="1" stop-color="#202020"/></linearGradient><linearGradient id="g330" gradientUnits="userSpaceOnUse" x1="0" x2="219.4" y1="0" y2="0"><stop offset="0" stop-color="#474747"/><stop offset=".2831" stop-color="#4a4a4a"/><stop offset=".5297" stop-color="#505050"/><stop offset=".6758" stop-color="#575757"/><stop offset=".7991" stop-color="#636363"/><stop offset=".8721" stop-color="#595959"/><stop offset=".9361" stop-color="#535353"/><stop offset=".9406" stop-color="#202020"/><stop offset="1" stop-color="#202020"/></linearGradient><linearGradient id="g331" gradientUnits="userSpaceOnUse" x1="0" x2="219.4" y1="0" y2="0"><stop offset="0" stop-color="#474747"/><stop offset=".2466" stop-color="#494949"/><stop offset=".4612" stop-color="#4e4e4e"/><stop offset=".6575" stop-color="#575757"/><stop offset=".7854" stop-color="#636363"/><stop offset=".9224" stop-color="#535353"/><stop offset=".9269" stop-color="#202020"/><stop offset="1" stop-color="#202020"/></linearGradient><linearGradient id="g332" gradientUnits="userSpaceOnUse" x1="0" x2="219.4" y1="0" y2="0"><stop offset="0" stop-color="#464646"/><stop offset=".2694" stop-color="#494949"/><stop offset=".484" stop-color="#4f4f4f"/><stop offset=".653" stop-color="#585858"/><stop offset=".7626" stop-color="#646464"/><stop offset=".8356" stop-color="#5a5a5a"/><stop offset=".9041" stop-color="#545454"/><stop offset=".9087" stop-color="#202020"/><stop offset="1" stop-color="#202020"/></linearGradient><linearGradient id="g333" gradientUnits="userSpaceOnUse" x1="0" x2="219.4" y1="0" y2="0"><stop offset="0" stop-color="#464646"/><stop offset=".242" stop-color="#484848"/><stop offset=".4521" stop-color="#4e4e4e"/><stop offset=".6347" stop-color="#585858"/><stop offset=".7489" stop-color="#646464"/><stop offset=".7945" stop-color="#5d5d5d"/><stop offset=".8858" stop-color="#545454"/><stop offset=".8904" stop-color="#202020"/><stop offset="1" stop-color="#202020"/></linearGradient><linearGradient id="g334" gradientUnits="userSpaceOnUse" x1="0" x2="219.4" y1="0" y2="0"><stop offset="0" stop-color="#454545"/><stop offset=".2146" stop-color="#474747"/><stop offset=".4018" stop-color="#4c4c4c"/><stop offset=".5479" stop-color="#535353"/><stop offset=".653" stop-color="#5b5b5b"/><stop offset=".7306" stop-color="#646464"/><stop offset=".7945" stop-color="#5b5b5b"/><stop offset=".8676" stop-color="#545454"/><stop offset=".8721" stop-color="#202020"/><stop offset="1" stop-color="#202020"/></linearGradient><linearGradient id="g335" gradientUnits="userSpaceOnUse" x1="0" x2="219.4" y1="0" y2="0"><stop offset="0" stop-color="#454545"/><stop offset=".1918" stop-color="#464646"/><stop offset=".379" stop-color="#4b4b4b"/><stop offset=".6027" stop-color="#585858"/><stop offset=".7123" stop-color="#646464"/><stop offset=".8493" stop-color="#545454"/><stop offset=".8539" stop-color="#202020"/><stop offset="1" stop-color="#202020"/></linearGradient><linearGradient id="g336" gradientUnits="userSpaceOnUse" x1="0" x2="219.4" y1="0" y2="0"><stop offset="0" stop-color="#444444"/><stop offset=".2237" stop-color="#464646"/><stop offset=".4247" stop-color="#4d4d4d"/><stop offset=".5753" stop-color="#575757"/><stop offset=".6986" stop-color="#646464"/><stop offset=".7534" stop-color="#5c5c5c"/><stop offset=".8311" stop-color="#545454"/><stop offset=".8356" stop-color="#1f1f1f"/><stop offset="1" stop-color="#1f1f1f"/></linearGradient><linearGradient id="g337" gradientUnits="userSpaceOnUse" x1="0" x2="219.4" y1="0" y2="0"><stop offset="0" stop-color="#434343"/><stop offset=".2009" stop-color="#454545"/><stop offset=".3836" stop-color="#4b4b4b"/><stop offset=".5616" stop-color="#575757"/><stop offset=".6758" stop-color="#656565"/><stop offset=".7443" stop-color="#5b5b5b"/><stop offset=".8128" stop-color="#545454"/><stop offset=".8174" stop-color="#1f1f1f"/><stop offset="1" stop-color="#1e1e1e"/></linearGradient><linearGradient id="g338" gradientUnits="userSpaceOnUse" x1="0" x2="219.4" y1="0" y2="0"><stop offset="0" stop-color="#434343"/><stop offset=".1735" stop-color="#444444"/><stop offset=".3836" stop-color="#4b4b4b"/><stop offset=".5479" stop-color="#575757"/><stop offset=".6575" stop-color="#656565"/><stop offset=".7032" stop-color="#5e5e5e"/><stop offset=".7945" stop-color="#555555"/><stop offset=".7991" stop-color="#1e1e1e"/><stop offset="1" stop-color="#1d1d1d"/></linearGradient><linearGradient id="g339" gradientUnits="userSpaceOnUse" x1="0" x2="219.4" y1="0" y2="0"><stop offset="0" stop-color="#424242"/><stop offset=".1963" stop-color="#444444"/><stop offset=".3425" stop-color="#494949"/><stop offset=".4566" stop-color="#505050"/><stop offset=".5342" stop-color="#575757"/><stop offset=".6393" stop-color="#656565"/><stop offset=".6849" stop-color="#5e5e5e"/><stop offset=".7808" stop-color="#545454"/><stop offset=".7854" stop-color="#1e1e1e"/><stop offset="1" stop-color="#1c1c1c"/></linearGradient><linearGradient id="g340" gradientUnits="userSpaceOnUse" x1="0" x2="219.4" y1="0" y2="0"><stop offset="0" stop-color="#424242"/><stop offset=".1644" stop-color="#434343"/><stop offset=".3425" stop-color="#494949"/><stop offset=".4932" stop-color="#545454"/><stop offset=".6256" stop-color="#646464"/><stop offset=".7626" stop-color="#545454"/><stop offset=".7671" stop-color="#1d1d1d"/><stop offset="1" stop-color="#1a1a1a"/></linearGradient><linearGradient id="g341" gradientUnits="userSpaceOnUse" x1="0" x2="219.4" y1="0" y2="0"><stop offset="0" stop-color="#414141"/><stop offset=".1826" stop-color="#434343"/><stop offset=".3562" stop-color="#4a4a4a"/><stop offset=".4612" stop-color="#525252"/><stop offset=".6073" stop-color="#646464"/><stop offset=".7443" stop-color="#545454"/><stop offset=".7489" stop-color="#1d1d1d"/><stop offset=".9132" stop-color="#191919"/><stop offset="1" stop-color="#191919"/></linearGradient><linearGradient id="g342" gradientUnits="userSpaceOnUse" x1="0" x2="219.4" y1="0" y2="0"><stop offset="0" stop-color="#414141"/><stop offset=".1918" stop-color="#434343"/><stop offset=".3516" stop-color="#4a4a4a"/><stop offset=".4612" stop-color="#535353"/><stop offset=".589" stop-color="#646464"/><stop offset=".6438" stop-color="#5c5c5c"/><stop offset=".726" stop-color="#545454"/><stop offset=".7306" stop-color="#1d1d1d"/><stop offset="1" stop-color="#181818"/></linearGradient><linearGradient id="g343" gradientUnits="userSpaceOnUse" x1="0" x2="219.4" y1="0" y2="0"><stop offset="0" stop-color="#404040"/><stop offset=".1918" stop-color="#434343"/><stop offset=".347" stop-color="#4a4a4a"/><stop offset=".484" stop-color="#575757"/><stop offset=".5708" stop-color="#646464"/><stop offset=".6073" stop-color="#5e5e5e"/><stop offset=".7078" stop-color="#545454"/><stop offset=".7123" stop-color="#1e1e1e"/><stop offset=".9132" stop-color="#191919"/><stop offset="1" stop-color="#191919"/></linearGradient><linearGradient id="g344" gradientUnits="userSpaceOnUse" x1="0" x2="219.4" y1="0" y2="0"><stop offset="0" stop-color="#404040"/><stop offset=".1963" stop-color="#434343"/><stop offset=".3242" stop-color="#494949"/><stop offset=".4475" stop-color="#545454"/><stop offset=".5571" stop-color="#636363"/><stop offset=".5936" stop-color="#5d5d5d"/><stop offset=".6895" stop-color="#545454"/><stop offset=".6941" stop-color="#1e1e1e"/><stop offset="1" stop-color="#1a1a1a"/></linearGradient><linearGradient id="g345" gradientUnits="userSpaceOnUse" x1="0" x2="219.4" y1="0" y2="0"><stop offset="0" stop-color="#404040"/><stop offset=".1598" stop-color="#424242"/><stop offset=".3014" stop-color="#484848"/><stop offset=".4521" stop-color="#565656"/><stop offset=".5342" stop-color="#636363"/><stop offset=".5799" stop-color="#5c5c5c"/><stop offset=".6712" stop-color="#535353"/><stop offset=".6758" stop-color="#1f1f1f"/><stop offset="1" stop-color="#1c1c1c"/></linearGradient><linearGradient id="g346" gradientUnits="userSpaceOnUse" x1="0" x2="219.4" y1="0" y2="0"><stop offset="0" stop-color="#404040"/><stop offset=".1644" stop-color="#424242"/><stop offset=".2968" stop-color="#484848"/><stop offset=".4155" stop-color="#535353"/><stop offset=".516" stop-color="#636363"/><stop offset=".5662" stop-color="#5b5b5b"/><stop offset=".6575" stop-color="#525252"/><stop offset=".6621" stop-color="#1f1f1f"/><stop offset="1" stop-color="#1d1d1d"/></linearGradient><linearGradient id="g347" gradientUnits="userSpaceOnUse" x1="0" x2="219.4" y1="0" y2="0"><stop offset="0" stop-color="#404040"/><stop offset=".1233" stop-color="#414141"/><stop offset=".274" stop-color="#474747"/><stop offset=".3881" stop-color="#515151"/><stop offset=".5023" stop-color="#626262"/><stop offset=".5434" stop-color="#5b5b5b"/><stop offset=".6393" stop-color="#525252"/><stop offset=".6438" stop-color="#202020"/><stop offset="1" stop-color="#1f1f1f"/></linearGradient><linearGradient id="g348" gradientUnits="userSpaceOnUse" x1="0" x2="219.4" y1="0" y2="0"><stop offset="0" stop-color="#3f3f3f"/><stop offset=".1598" stop-color="#424242"/><stop offset=".2648" stop-color="#474747"/><stop offset=".3927" stop-color="#535353"/><stop offset=".4749" stop-color="#616161"/><stop offset=".484" stop-color="#616161"/><stop offset=".5297" stop-color="#5a5a5a"/><stop offset=".621" stop-color="#515151"/><stop offset=".6256" stop-color="#202020"/><stop offset="1" stop-color="#202020"/></linearGradient><linearGradient id="g349" gradientUnits="userSpaceOnUse" x1="0" x2="219.4" y1="0" y2="0"><stop offset="0" stop-color="#3f3f3f"/><stop offset=".1553" stop-color="#424242"/><stop offset=".2694" stop-color="#484848"/><stop offset=".3653" stop-color="#515151"/><stop offset=".4658" stop-color="#616161"/><stop offset=".5068" stop-color="#5a5a5a"/><stop offset=".6027" stop-color="#515151"/><stop offset=".6073" stop-color="#202020"/><stop offset="1" stop-color="#212121"/></linearGradient><linearGradient id="g350" gradientUnits="userSpaceOnUse" x1="0" x2="219.4" y1="0" y2="0"><stop offset="0" stop-color="#3f3f3f"/><stop offset=".1507" stop-color="#424242"/><stop offset=".2877" stop-color="#4a4a4a"/><stop offset=".3607" stop-color="#525252"/><stop offset=".4475" stop-color="#606060"/><stop offset=".516" stop-color="#565656"/><stop offset=".5845" stop-color="#505050"/><stop offset=".589" stop-color="#202020"/><stop offset="1" stop-color="#222222"/></linearGradient><linearGradient id="g351" gradientUnits="userSpaceOnUse" x1="0" x2="219.4" y1="0" y2="0"><stop offset="0" stop-color="#404040"/><stop offset=".1598" stop-color="#434343"/><stop offset=".274" stop-color="#4a4a4a"/><stop offset=".347" stop-color="#525252"/><stop offset=".4292" stop-color="#606060"/><stop offset=".4932" stop-color="#565656"/><stop offset=".5662" stop-color="#505050"/><stop offset=".5708" stop-color="#212121"/><stop offset="1" stop-color="#242424"/></linearGradient><linearGradient id="g352" gradientUnits="userSpaceOnUse" x1="0" x2="219.4" y1="0" y2="0"><stop offset="0" stop-color="#414141"/><stop offset=".1324" stop-color="#434343"/><stop offset=".242" stop-color="#494949"/><stop offset=".3242" stop-color="#515151"/><stop offset=".411" stop-color="#5f5f5f"/><stop offset=".4658" stop-color="#575757"/><stop offset=".5479" stop-color="#505050"/><stop offset=".5525" stop-color="#212121"/><stop offset="1" stop-color="#262626"/></linearGradient><linearGradient id="g353" gradientUnits="userSpaceOnUse" x1="0" x2="219.4" y1="0" y2="0"><stop offset="0" stop-color="#424242"/><stop offset=".1461" stop-color="#454545"/><stop offset=".2603" stop-color="#4c4c4c"/><stop offset=".3379" stop-color="#555555"/><stop offset=".3927" stop-color="#5f5f5f"/><stop offset=".4612" stop-color="#555555"/><stop offset=".5297" stop-color="#505050"/><stop offset=".5342" stop-color="#212121"/><stop offset=".9132" stop-color="#292929"/><stop offset="1" stop-color="#292929"/></linearGradient><linearGradient id="g354" gradientUnits="userSpaceOnUse" x1="0" x2="219.4" y1="0" y2="0"><stop offset="0" stop-color="#444444"/><stop offset=".1005" stop-color="#454545"/><stop offset=".21" stop-color="#4a4a4a"/><stop offset=".3151" stop-color="#545454"/><stop offset=".3744" stop-color="#5e5e5e"/><stop offset=".4429" stop-color="#555555"/><stop offset=".516" stop-color="#505050"/><stop offset=".5205" stop-color="#212121"/><stop offset=".6667" stop-color="#242424"/><stop offset=".8813" stop-color="#2c2c2c"/><stop offset="1" stop-color="#2d2d2d"/></linearGradient><linearGradient id="g355" gradientUnits="userSpaceOnUse" x1="0" x2="219.4" y1="0" y2="0"><stop offset="0" stop-color="#454545"/><stop offset=".1096" stop-color="#474747"/><stop offset=".2146" stop-color="#4c4c4c"/><stop offset=".3059" stop-color="#555555"/><stop offset=".3607" stop-color="#5d5d5d"/><stop offset=".4247" stop-color="#555555"/><stop offset=".4977" stop-color="#505050"/><stop offset=".5023" stop-color="#222222"/><stop offset=".6484" stop-color="#252525"/><stop offset=".8767" stop-color="#303030"/><stop offset="1" stop-color="#323232"/></linearGradient><linearGradient id="g356" gradientUnits="userSpaceOnUse" x1="0" x2="219.4" y1="0" y2="0"><stop offset="0" stop-color="#474747"/><stop offset=".0913" stop-color="#484848"/><stop offset=".1872" stop-color="#4c4c4c"/><stop offset=".242" stop-color="#505050"/><stop offset=".3425" stop-color="#5c5c5c"/><stop offset=".3927" stop-color="#565656"/><stop offset=".4795" stop-color="#505050"/><stop offset=".484" stop-color="#222222"/><stop offset=".6575" stop-color="#272727"/><stop offset=".9132" stop-color="#363636"/><stop offset="1" stop-color="#373737"/></linearGradient><linearGradient id="g357" gradientUnits="userSpaceOnUse" x1="0" x2="219.4" y1="0" y2="0"><stop offset="0" stop-color="#484848"/><stop offset=".1142" stop-color="#4a4a4a"/><stop offset=".1963" stop-color="#4e4e4e"/><stop offset=".2831" stop-color="#565656"/><stop offset=".3196" stop-color="#5c5c5c"/><stop offset=".3836" stop-color="#555555"/><stop offset=".4612" stop-color="#515151"/><stop offset=".4658" stop-color="#222222"/><stop offset=".5342" stop-color="#232323"/><stop offset=".6621" stop-color="#292929"/><stop offset=".895" stop-color="#3a3a3a"/><stop offset="1" stop-color="#3c3c3c"/></linearGradient><linearGradient id="g358" gradientUnits="userSpaceOnUse" x1="0" x2="219.4" y1="0" y2="0"><stop offset="0" stop-color="#494949"/><stop offset=".1598" stop-color="#4d4d4d"/><stop offset=".2511" stop-color="#545454"/><stop offset=".3014" stop-color="#5b5b5b"/><stop offset=".3927" stop-color="#535353"/><stop offset=".4429" stop-color="#515151"/><stop offset=".4475" stop-color="#222222"/><stop offset=".6073" stop-color="#272727"/><stop offset=".8767" stop-color="#3d3d3d"/><stop offset="1" stop-color="#414141"/></linearGradient><linearGradient id="g359" gradientUnits="userSpaceOnUse" x1="0" x2="219.4" y1="0" y2="0"><stop offset="0" stop-color="#4a4a4a"/><stop offset=".1735" stop-color="#4f4f4f"/><stop offset=".2466" stop-color="#555555"/><stop offset=".2831" stop-color="#5a5a5a"/><stop offset=".3562" stop-color="#545454"/><stop offset=".4247" stop-color="#515151"/><stop offset=".4292" stop-color="#212121"/><stop offset=".5936" stop-color="#272727"/><stop offset=".7215" stop-color="#313131"/><stop offset=".863" stop-color="#3f3f3f"/><stop offset=".9224" stop-color="#434343"/><stop offset="1" stop-color="#454545"/></linearGradient><linearGradient id="g360" gradientUnits="userSpaceOnUse" x1="0" x2="219.4" y1="0" y2="0"><stop offset="0" stop-color="#4b4b4b"/><stop offset=".1689" stop-color="#505050"/><stop offset=".2329" stop-color="#555555"/><stop offset=".2694" stop-color="#5a5a5a"/><stop offset=".3333" stop-color="#545454"/><stop offset=".4064" stop-color="#515151"/><stop offset=".411" stop-color="#212121"/><stop offset=".5023" stop-color="#232323"/><stop offset=".6027" stop-color="#282828"/><stop offset=".7123" stop-color="#313131"/><stop offset=".8676" stop-color="#414141"/><stop offset=".9498" stop-color="#464646"/><stop offset="1" stop-color="#464646"/></linearGradient><linearGradient id="g361" gradientUnits="userSpaceOnUse" x1="0" x2="219.4" y1="0" y2="0"><stop offset="0" stop-color="#4c4c4c"/><stop offset=".1324" stop-color="#4f4f4f"/><stop offset=".1963" stop-color="#535353"/><stop offset=".2511" stop-color="#595959"/><stop offset=".2968" stop-color="#555555"/><stop offset=".379" stop-color="#525252"/><stop offset=".3881" stop-color="#515151"/><stop offset=".3927" stop-color="#212121"/><stop offset=".4658" stop-color="#222222"/><stop offset=".5845" stop-color="#272727"/><stop offset=".6895" stop-color="#2f2f2f"/><stop offset=".8904" stop-color="#434343"/><stop offset="1" stop-color="#474747"/></linearGradient><linearGradient id="g362" gradientUnits="userSpaceOnUse" x1="0" x2="219.4" y1="0" y2="0"><stop offset="0" stop-color="#4d4d4d"/><stop offset=".1324" stop-color="#505050"/><stop offset=".2283" stop-color="#585858"/><stop offset=".3744" stop-color="#515151"/><stop offset=".379" stop-color="#212121"/><stop offset=".4703" stop-color="#222222"/><stop offset=".6073" stop-color="#282828"/><stop offset=".8813" stop-color="#414141"/><stop offset=".9589" stop-color="#454545"/><stop offset="1" stop-color="#454545"/></linearGradient><linearGradient id="g363" gradientUnits="userSpaceOnUse" x1="0" x2="219.4" y1="0" y2="0"><stop offset="0" stop-color="#4e4e4e"/><stop offset=".1324" stop-color="#515151"/><stop offset=".2055" stop-color="#575757"/><stop offset=".3516" stop-color="#525252"/><stop offset=".3562" stop-color="#515151"/><stop offset=".3607" stop-color="#202020"/><stop offset=".5616" stop-color="#252525"/><stop offset=".6849" stop-color="#2d2d2d"/><stop offset=".8904" stop-color="#3f3f3f"/><stop offset="1" stop-color="#424242"/></linearGradient><linearGradient id="g364" gradientUnits="userSpaceOnUse" x1="0" x2="219.4" y1="0" y2="0"><stop offset="0" stop-color="#4f4f4f"/><stop offset=".1142" stop-color="#515151"/><stop offset=".1963" stop-color="#575757"/><stop offset=".2694" stop-color="#535353"/><stop offset=".3379" stop-color="#525252"/><stop offset=".3425" stop-color="#202020"/><stop offset=".4475" stop-color="#212121"/><stop offset=".5936" stop-color="#262626"/><stop offset=".8904" stop-color="#3c3c3c"/><stop offset="1" stop-color="#3f3f3f"/></linearGradient><linearGradient id="g365" gradientUnits="userSpaceOnUse" x1="0" x2="219.4" y1="0" y2="0"><stop offset="0" stop-color="#505050"/><stop offset=".1005" stop-color="#515151"/><stop offset=".1781" stop-color="#555555"/><stop offset=".3196" stop-color="#525252"/><stop offset=".3242" stop-color="#202020"/><stop offset=".5616" stop-color="#242424"/><stop offset=".6941" stop-color="#2b2b2b"/><stop offset=".895" stop-color="#393939"/><stop offset="1" stop-color="#3b3b3b"/></linearGradient><linearGradient id="g366" gradientUnits="userSpaceOnUse" x1="0" x2="219.4" y1="0" y2="0"><stop offset="0" stop-color="#505050"/><stop offset=".0639" stop-color="#505050"/><stop offset=".1826" stop-color="#545454"/><stop offset=".2968" stop-color="#525252"/><stop offset=".3014" stop-color="#515151"/><stop offset=".3059" stop-color="#202020"/><stop offset=".4018" stop-color="#202020"/><stop offset=".5708" stop-color="#242424"/><stop offset=".863" stop-color="#353535"/><stop offset=".9361" stop-color="#383838"/><stop offset="1" stop-color="#383838"/></linearGradient><linearGradient id="g367" gradientUnits="userSpaceOnUse" x1="0" x2="219.4" y1="0" y2="0"><stop offset="0" stop-color="#505050"/><stop offset=".1918" stop-color="#535353"/><stop offset=".2831" stop-color="#515151"/><stop offset=".2877" stop-color="#1f1f1f"/><stop offset=".5753" stop-color="#242424"/><stop offset=".8493" stop-color="#333333"/><stop offset="1" stop-color="#373737"/></linearGradient><linearGradient id="g368" gradientUnits="userSpaceOnUse" x1="0" x2="219.4" y1="0" y2="0"><stop offset="0" stop-color="#505050"/><stop offset=".1644" stop-color="#525252"/><stop offset=".2648" stop-color="#515151"/><stop offset=".2694" stop-color="#1f1f1f"/><stop offset=".4155" stop-color="#202020"/><stop offset=".5708" stop-color="#242424"/><stop offset=".8721" stop-color="#343434"/><stop offset="1" stop-color="#363636"/></linearGradient><linearGradient id="g369" gradientUnits="userSpaceOnUse" x1="0" x2="219.4" y1="0" y2="0"><stop offset="0" stop-color="#505050"/><stop offset=".2466" stop-color="#515151"/><stop offset=".2511" stop-color="#1f1f1f"/><stop offset=".3607" stop-color="#1f1f1f"/><stop offset=".5342" stop-color="#232323"/><stop offset=".8721" stop-color="#353535"/><stop offset="1" stop-color="#373737"/></linearGradient><linearGradient id="g370" gradientUnits="userSpaceOnUse" x1="0" x2="219.4" y1="0" y2="0"><stop offset="0" stop-color="#4f4f4f"/><stop offset=".2329" stop-color="#505050"/><stop offset=".2374" stop-color="#1e1e1e"/><stop offset=".3288" stop-color="#1e1e1e"/><stop offset=".5342" stop-color="#232323"/><stop offset=".8721" stop-color="#373737"/><stop offset="1" stop-color="#3a3a3a"/></linearGradient><linearGradient id="g371" gradientUnits="userSpaceOnUse" x1="0" x2="219.4" y1="0" y2="0"><stop offset="0" stop-color="#4f4f4f"/><stop offset=".2146" stop-color="#505050"/><stop offset=".2192" stop-color="#1d1d1d"/><stop offset=".3333" stop-color="#1d1d1d"/><stop offset=".5251" stop-color="#222222"/><stop offset=".8584" stop-color="#393939"/><stop offset="1" stop-color="#3d3d3d"/></linearGradient><linearGradient id="g372" gradientUnits="userSpaceOnUse" x1="0" x2="219.4" y1="0" y2="0"><stop offset="0" stop-color="#4f4f4f"/><stop offset=".1963" stop-color="#505050"/><stop offset=".2009" stop-color="#1c1c1c"/><stop offset=".2329" stop-color="#1b1b1b"/><stop offset=".3242" stop-color="#1b1b1b"/><stop offset=".5297" stop-color="#202020"/><stop offset=".6758" stop-color="#2e2e2e"/><stop offset=".8311" stop-color="#3a3a3a"/><stop offset=".9224" stop-color="#3f3f3f"/><stop offset="1" stop-color="#404040"/></linearGradient><linearGradient id="g373" gradientUnits="userSpaceOnUse" x1="0" x2="219.4" y1="0" y2="0"><stop offset="0" stop-color="#1f1f1f"/><stop offset=".2694" stop-color="#181818"/><stop offset=".3881" stop-color="#1b1b1b"/><stop offset=".5205" stop-color="#1b1b1b"/><stop offset=".5616" stop-color="#1f1f1f"/><stop offset=".6301" stop-color="#2a2a2a"/><stop offset=".7534" stop-color="#363636"/><stop offset=".9041" stop-color="#414141"/><stop offset="1" stop-color="#434343"/></linearGradient><linearGradient id="g374" gradientUnits="userSpaceOnUse" x1="0" x2="219.4" y1="0" y2="0"><stop offset="0" stop-color="#1f1f1f"/><stop offset=".1187" stop-color="#1c1c1c"/><stop offset=".2557" stop-color="#151515"/><stop offset=".3379" stop-color="#151515"/><stop offset=".4292" stop-color="#181818"/><stop offset=".4886" stop-color="#141414"/><stop offset=".5205" stop-color="#141414"/><stop offset=".5525" stop-color="#181818"/><stop offset=".6347" stop-color="#2a2a2a"/><stop offset=".7169" stop-color="#343434"/><stop offset=".8858" stop-color="#424242"/><stop offset="1" stop-color="#454545"/></linearGradient><linearGradient id="g375" gradientUnits="userSpaceOnUse" x1="0" x2="219.4" y1="0" y2="0"><stop offset="0" stop-color="#1e1e1e"/><stop offset=".0959" stop-color="#1c1c1c"/><stop offset=".2694" stop-color="#111111"/><stop offset=".4292" stop-color="#141414"/><stop offset=".484" stop-color="#0e0e0e"/><stop offset=".5205" stop-color="#0d0d0d"/><stop offset=".5616" stop-color="#141414"/><stop offset=".6256" stop-color="#272727"/><stop offset=".6849" stop-color="#313131"/><stop offset=".8858" stop-color="#434343"/><stop offset="1" stop-color="#464646"/></linearGradient><linearGradient id="g376" gradientUnits="userSpaceOnUse" x1="0" x2="219.4" y1="0" y2="0"><stop offset="0" stop-color="#1e1e1e"/><stop offset=".1142" stop-color="#1a1a1a"/><stop offset=".2694" stop-color="#0e0e0e"/><stop offset=".3379" stop-color="#0e0e0e"/><stop offset=".3836" stop-color="#111111"/><stop offset=".4292" stop-color="#111111"/><stop offset=".5114" stop-color="#080808"/><stop offset=".5342" stop-color="#0a0a0a"/><stop offset=".5571" stop-color="#0f0f0f"/><stop offset=".6119" stop-color="#222222"/><stop offset=".6712" stop-color="#2f2f2f"/><stop offset=".7763" stop-color="#3a3a3a"/><stop offset=".8904" stop-color="#434343"/><stop offset="1" stop-color="#464646"/></linearGradient><linearGradient id="g377" gradientUnits="userSpaceOnUse" x1="0" x2="219.4" y1="0" y2="0"><stop offset="0" stop-color="#1e1e1e"/><stop offset=".1187" stop-color="#191919"/><stop offset=".2785" stop-color="#0c0c0c"/><stop offset=".3288" stop-color="#0c0c0c"/><stop offset=".3927" stop-color="#101010"/><stop offset=".4338" stop-color="#101010"/><stop offset=".484" stop-color="#0a0a0a"/><stop offset=".5205" stop-color="#090909"/><stop offset=".5479" stop-color="#0d0d0d"/><stop offset=".6164" stop-color="#232323"/><stop offset=".6758" stop-color="#2f2f2f"/><stop offset=".8813" stop-color="#414141"/><stop offset=".9452" stop-color="#444444"/><stop offset="1" stop-color="#444444"/></linearGradient><linearGradient id="g378" gradientUnits="userSpaceOnUse" x1="0" x2="219.4" y1="0" y2="0"><stop offset="0" stop-color="#1e1e1e"/><stop offset=".0959" stop-color="#1a1a1a"/><stop offset=".274" stop-color="#0c0c0c"/><stop offset=".3242" stop-color="#0c0c0c"/><stop offset=".4018" stop-color="#111111"/><stop offset=".5251" stop-color="#0e0e0e"/><stop offset=".5708" stop-color="#171717"/><stop offset=".6301" stop-color="#272727"/><stop offset=".6849" stop-color="#2f2f2f"/><stop offset=".8721" stop-color="#3e3e3e"/><stop offset="1" stop-color="#424242"/></linearGradient><linearGradient id="g379" gradientUnits="userSpaceOnUse" x1="0" x2="219.4" y1="0" y2="0"><stop offset="0" stop-color="#1d1d1d"/><stop offset=".1096" stop-color="#191919"/><stop offset=".2557" stop-color="#0e0e0e"/><stop offset=".3379" stop-color="#0e0e0e"/><stop offset=".4292" stop-color="#141414"/><stop offset=".516" stop-color="#141414"/><stop offset=".5571" stop-color="#191919"/><stop offset=".6438" stop-color="#292929"/><stop offset=".7032" stop-color="#2f2f2f"/><stop offset=".895" stop-color="#3c3c3c"/><stop offset="1" stop-color="#3e3e3e"/></linearGradient><linearGradient id="g380" gradientUnits="userSpaceOnUse" x1="0" x2="219.4" y1="0" y2="0"><stop offset="0" stop-color="#1d1d1d"/><stop offset=".0685" stop-color="#1b1b1b"/><stop offset=".2466" stop-color="#101010"/><stop offset=".3333" stop-color="#101010"/><stop offset=".4384" stop-color="#171717"/><stop offset=".5251" stop-color="#1a1a1a"/><stop offset=".6393" stop-color="#282828"/><stop offset=".7489" stop-color="#303030"/><stop offset=".895" stop-color="#383838"/><stop offset="1" stop-color="#3a3a3a"/></linearGradient><linearGradient id="g381" gradientUnits="userSpaceOnUse" x1="0" x2="219.4" y1="0" y2="0"><stop offset="0" stop-color="#1d1d1d"/><stop offset=".2283" stop-color="#121212"/><stop offset=".2922" stop-color="#111111"/><stop offset=".5068" stop-color="#1c1c1c"/><stop offset=".6393" stop-color="#272727"/><stop offset=".7808" stop-color="#2f2f2f"/><stop offset=".9315" stop-color="#353535"/><stop offset="1" stop-color="#353535"/></linearGradient><linearGradient id="g382" gradientUnits="userSpaceOnUse" x1="0" x2="219.4" y1="0" y2="0"><stop offset="0" stop-color="#1d1d1d"/><stop offset=".2146" stop-color="#131313"/><stop offset=".3242" stop-color="#131313"/><stop offset=".6667" stop-color="#272727"/><stop offset=".8584" stop-color="#2f2f2f"/><stop offset="1" stop-color="#313131"/></linearGradient><linearGradient id="g383" gradientUnits="userSpaceOnUse" x1="0" x2="219.4" y1="0" y2="0"><stop offset="0" stop-color="#1c1c1c"/><stop offset=".21" stop-color="#131313"/><stop offset=".3059" stop-color="#131313"/><stop offset=".6301" stop-color="#242424"/><stop offset=".8356" stop-color="#2b2b2b"/><stop offset="1" stop-color="#2d2d2d"/></linearGradient><linearGradient id="g384" gradientUnits="userSpaceOnUse" x1="0" x2="219.4" y1="0" y2="0"><stop offset="0" stop-color="#1c1c1c"/><stop offset=".1644" stop-color="#141414"/><stop offset=".2648" stop-color="#121212"/><stop offset=".3607" stop-color="#151515"/><stop offset=".5068" stop-color="#1e1e1e"/><stop offset=".6347" stop-color="#232323"/><stop offset=".8767" stop-color="#292929"/><stop offset="1" stop-color="#2a2a2a"/></linearGradient><linearGradient id="g385" gradientUnits="userSpaceOnUse" x1="0" x2="219.4" y1="0" y2="0"><stop offset="0" stop-color="#1c1c1c"/><stop offset=".2009" stop-color="#121212"/><stop offset=".3014" stop-color="#121212"/><stop offset=".5982" stop-color="#212121"/><stop offset=".8402" stop-color="#262626"/><stop offset="1" stop-color="#272727"/></linearGradient><linearGradient id="g386" gradientUnits="userSpaceOnUse" x1="0" x2="219.4" y1="0" y2="0"><stop offset="0" stop-color="#1c1c1c"/><stop offset=".1781" stop-color="#121212"/><stop offset=".2922" stop-color="#111111"/><stop offset=".589" stop-color="#202020"/><stop offset="1" stop-color="#252525"/></linearGradient><linearGradient id="g387" gradientUnits="userSpaceOnUse" x1="0" x2="219.4" y1="0" y2="0"><stop offset="0" stop-color="#1b1b1b"/><stop offset=".1826" stop-color="#111111"/><stop offset=".2831" stop-color="#101010"/><stop offset=".4977" stop-color="#1c1c1c"/><stop offset=".6073" stop-color="#202020"/><stop offset="1" stop-color="#232323"/></linearGradient><linearGradient id="g388" gradientUnits="userSpaceOnUse" x1="0" x2="219.4" y1="0" y2="0"><stop offset="0" stop-color="#1b1b1b"/><stop offset=".1689" stop-color="#111111"/><stop offset=".2648" stop-color="#0f0f0f"/><stop offset=".3516" stop-color="#121212"/><stop offset=".4338" stop-color="#181818"/><stop offset=".5845" stop-color="#1f1f1f"/><stop offset="1" stop-color="#222222"/></linearGradient><linearGradient id="g389" gradientUnits="userSpaceOnUse" x1="0" x2="219.4" y1="0" y2="0"><stop offset="0" stop-color="#1b1b1b"/><stop offset=".1781" stop-color="#101010"/><stop offset=".2922" stop-color="#0f0f0f"/><stop offset=".5114" stop-color="#1c1c1c"/><stop offset=".5936" stop-color="#1f1f1f"/><stop offset="1" stop-color="#212121"/></linearGradient><linearGradient id="g390" gradientUnits="userSpaceOnUse" x1="0" x2="219.4" y1="0" y2="0"><stop offset="0" stop-color="#1b1b1b"/><stop offset=".1735" stop-color="#101010"/><stop offset=".2648" stop-color="#0e0e0e"/><stop offset=".3653" stop-color="#121212"/><stop offset=".516" stop-color="#1c1c1c"/><stop offset=".6027" stop-color="#1f1f1f"/><stop offset="1" stop-color="#212121"/></linearGradient><linearGradient id="g391" gradientUnits="userSpaceOnUse" x1="0" x2="219.4" y1="0" y2="0"><stop offset="0" stop-color="#1b1b1b"/><stop offset=".1872" stop-color="#0f0f0f"/><stop offset=".2831" stop-color="#0e0e0e"/><stop offset=".4977" stop-color="#1b1b1b"/><stop offset=".6073" stop-color="#1f1f1f"/><stop offset="1" stop-color="#202020"/></linearGradient><linearGradient id="g392" gradientUnits="userSpaceOnUse" x1="0" x2="219.4" y1="0" y2="0"><stop offset="0" stop-color="#1b1b1b"/><stop offset=".1644" stop-color="#101010"/><stop offset=".2831" stop-color="#0e0e0e"/><stop offset=".5708" stop-color="#1e1e1e"/><stop offset=".6804" stop-color="#202020"/><stop offset="1" stop-color="#202020"/></linearGradient><linearGradient id="g393" gradientUnits="userSpaceOnUse" x1="0" x2="219.4" y1="0" y2="0"><stop offset="0" stop-color="#1b1b1b"/><stop offset=".1872" stop-color="#0f0f0f"/><stop offset=".2831" stop-color="#0e0e0e"/><stop offset=".5708" stop-color="#1e1e1e"/><stop offset=".6895" stop-color="#202020"/><stop offset="1" stop-color="#202020"/></linearGradient><linearGradient id="g394" gradientUnits="userSpaceOnUse" x1="0" x2="219.4" y1="0" y2="0"><stop offset="0" stop-color="#1b1b1b"/><stop offset=".1507" stop-color="#111111"/><stop offset=".2694" stop-color="#0e0e0e"/><stop offset=".5708" stop-color="#1e1e1e"/><stop offset=".6895" stop-color="#202020"/><stop offset="1" stop-color="#202020"/></linearGradient><linearGradient id="g395" gradientUnits="userSpaceOnUse" x1="0" x2="219.4" y1="0" y2="0"><stop offset="0" stop-color="#1b1b1b"/><stop offset=".1781" stop-color="#101010"/><stop offset=".2922" stop-color="#0f0f0f"/><stop offset=".4932" stop-color="#1b1b1b"/><stop offset=".6119" stop-color="#1f1f1f"/><stop offset="1" stop-color="#202020"/></linearGradient><linearGradient id="g396" gradientUnits="userSpaceOnUse" x1="0" x2="219.4" y1="0" y2="0"><stop offset="0" stop-color="#1b1b1b"/><stop offset=".1689" stop-color="#111111"/><stop offset=".2648" stop-color="#0f0f0f"/><stop offset=".3333" stop-color="#111111"/><stop offset=".5114" stop-color="#1c1c1c"/><stop offset=".6073" stop-color="#1f1f1f"/><stop offset="1" stop-color="#202020"/></linearGradient><linearGradient id="g397" gradientUnits="userSpaceOnUse" x1="0" x2="219.4" y1="0" y2="0"><stop offset="0" stop-color="#1b1b1b"/><stop offset=".1826" stop-color="#111111"/><stop offset=".2831" stop-color="#101010"/><stop offset=".5616" stop-color="#1e1e1e"/><stop offset=".6895" stop-color="#202020"/><stop offset="1" stop-color="#202020"/></linearGradient><linearGradient id="g398" gradientUnits="userSpaceOnUse" x1="0" x2="219.4" y1="0" y2="0"><stop offset="0" stop-color="#1c1c1c"/><stop offset=".1781" stop-color="#121212"/><stop offset=".2922" stop-color="#111111"/><stop offset=".4795" stop-color="#1b1b1b"/><stop offset=".6027" stop-color="#1f1f1f"/><stop offset="1" stop-color="#202020"/></linearGradient><linearGradient id="g399" gradientUnits="userSpaceOnUse" x1="0" x2="219.4" y1="0" y2="0"><stop offset="0" stop-color="#1c1c1c"/><stop offset=".1735" stop-color="#131313"/><stop offset=".2968" stop-color="#121212"/><stop offset=".5205" stop-color="#1d1d1d"/><stop offset=".5982" stop-color="#1f1f1f"/><stop offset="1" stop-color="#202020"/></linearGradient><linearGradient id="g400" gradientUnits="userSpaceOnUse" x1="0" x2="219.4" y1="0" y2="0"><stop offset="0" stop-color="#1c1c1c"/><stop offset=".2055" stop-color="#131313"/><stop offset=".2968" stop-color="#131313"/><stop offset=".589" stop-color="#1f1f1f"/><stop offset="1" stop-color="#202020"/></linearGradient><linearGradient id="g401" gradientUnits="userSpaceOnUse" x1="0" x2="219.4" y1="0" y2="0"><stop offset="0" stop-color="#1c1c1c"/><stop offset=".2055" stop-color="#141414"/><stop offset=".2968" stop-color="#141414"/><stop offset=".5845" stop-color="#1f1f1f"/><stop offset="1" stop-color="#202020"/></linearGradient><linearGradient id="g402" gradientUnits="userSpaceOnUse" x1="0" x2="219.4" y1="0" y2="0"><stop offset="0" stop-color="#1d1d1d"/><stop offset=".2055" stop-color="#151515"/><stop offset=".2968" stop-color="#151515"/><stop offset=".5753" stop-color="#1f1f1f"/><stop offset="1" stop-color="#202020"/></linearGradient><linearGradient id="g403" gradientUnits="userSpaceOnUse" x1="0" x2="219.4" y1="0" y2="0"><stop offset="0" stop-color="#545454"/><stop offset=".1644" stop-color="#5c5c5c"/><stop offset=".4566" stop-color="#5c5c5c"/><stop offset=".7534" stop-color="#616161"/><stop offset=".863" stop-color="#616161"/><stop offset="1" stop-color="#5c5c5c"/></linearGradient><linearGradient id="g404" gradientUnits="userSpaceOnUse" x1="0" x2="219.4" y1="0" y2="0"><stop offset="0" stop-color="#575757"/><stop offset=".0913" stop-color="#5e5e5e"/><stop offset=".1644" stop-color="#616161"/><stop offset=".4018" stop-color="#5e5e5e"/><stop offset=".7078" stop-color="#636363"/><stop offset=".8858" stop-color="#636363"/><stop offset="1" stop-color="#5e5e5e"/></linearGradient><linearGradient id="g405" gradientUnits="userSpaceOnUse" x1="0" x2="219.4" y1="0" y2="0"><stop offset="0" stop-color="#616161"/><stop offset=".1963" stop-color="#636363"/><stop offset=".379" stop-color="#6c6c6c"/><stop offset=".6804" stop-color="#727272"/><stop offset=".8539" stop-color="#737373"/><stop offset="1" stop-color="#6e6e6e"/></linearGradient><linearGradient id="g406" gradientUnits="userSpaceOnUse" x1="0" x2="219.4" y1="0" y2="0"><stop offset="0" stop-color="#666666"/><stop offset=".1918" stop-color="#686868"/><stop offset=".4384" stop-color="#707070"/><stop offset=".7123" stop-color="#757575"/><stop offset=".8813" stop-color="#757575"/><stop offset="1" stop-color="#707070"/></linearGradient><linearGradient id="g407" gradientUnits="userSpaceOnUse" x1="0" x2="219.4" y1="0" y2="0"><stop offset="0" stop-color="#5e5e5e"/><stop offset=".1872" stop-color="#6a6a6a"/><stop offset=".3516" stop-color="#7f7f7f"/><stop offset=".4612" stop-color="#848484"/><stop offset=".7534" stop-color="#8c8c8c"/><stop offset=".8539" stop-color="#8c8c8c"/><stop offset="1" stop-color="#808080"/></linearGradient><linearGradient id="g408" gradientUnits="userSpaceOnUse" x1="0" x2="219.4" y1="0" y2="0"><stop offset="0" stop-color="#616161"/><stop offset=".3425" stop-color="#868686"/><stop offset=".7123" stop-color="#979797"/><stop offset=".7763" stop-color="#999999"/><stop offset=".863" stop-color="#989898"/><stop offset=".9269" stop-color="#929292"/><stop offset="1" stop-color="#878787"/></linearGradient><linearGradient id="g409" gradientUnits="userSpaceOnUse" x1="0" x2="219.4" y1="0" y2="0"><stop offset="0" stop-color="#5e5e5e"/><stop offset=".105" stop-color="#606060"/><stop offset=".1963" stop-color="#666666"/><stop offset=".21" stop-color="#6a6a6a"/><stop offset=".2374" stop-color="#7a7a7a"/><stop offset=".2511" stop-color="#808080"/><stop offset=".3151" stop-color="#929292"/><stop offset=".3607" stop-color="#999999"/><stop offset=".6119" stop-color="#a1a1a1"/><stop offset=".7032" stop-color="#a7a7a7"/><stop offset=".7534" stop-color="#adadad"/><stop offset=".8082" stop-color="#adadad"/><stop offset=".8721" stop-color="#a8a8a8"/><stop offset="1" stop-color="#8c8c8c"/></linearGradient><linearGradient id="g410" gradientUnits="userSpaceOnUse" x1="0" x2="219.4" y1="0" y2="0"><stop offset="0" stop-color="#545454"/><stop offset=".1142" stop-color="#565656"/><stop offset=".2009" stop-color="#5d5d5d"/><stop offset=".2192" stop-color="#686868"/><stop offset=".242" stop-color="#7b7b7b"/><stop offset=".2511" stop-color="#808080"/><stop offset=".3105" stop-color="#989898"/><stop offset=".3516" stop-color="#a2a2a2"/><stop offset=".3881" stop-color="#a5a5a5"/><stop offset=".4795" stop-color="#a7a7a7"/><stop offset=".5434" stop-color="#ababab"/><stop offset=".7626" stop-color="#c2c2c2"/><stop offset=".8174" stop-color="#c1c1c1"/><stop offset=".8676" stop-color="#bdbdbd"/><stop offset=".8858" stop-color="#b9b9b9"/><stop offset=".9452" stop-color="#a5a5a5"/><stop offset="1" stop-color="#999999"/></linearGradient><linearGradient id="g411" gradientUnits="userSpaceOnUse" x1="0" x2="219.4" y1="0" y2="0"><stop offset="0" stop-color="#454545"/><stop offset=".1187" stop-color="#474747"/><stop offset=".1826" stop-color="#4b4b4b"/><stop offset=".2009" stop-color="#4e4e4e"/><stop offset=".2146" stop-color="#595959"/><stop offset=".242" stop-color="#797979"/><stop offset=".2511" stop-color="#808080"/><stop offset=".2922" stop-color="#979797"/><stop offset=".3196" stop-color="#a3a3a3"/><stop offset=".3562" stop-color="#adadad"/><stop offset=".4795" stop-color="#b1b1b1"/><stop offset=".5297" stop-color="#b5b5b5"/><stop offset=".5936" stop-color="#bfbfbf"/><stop offset=".6804" stop-color="#d1d1d1"/><stop offset=".7443" stop-color="#dadada"/><stop offset=".7991" stop-color="#dbdbdb"/><stop offset=".8721" stop-color="#d3d3d3"/><stop offset=".9452" stop-color="#b6b6b6"/><stop offset="1" stop-color="#a6a6a6"/></linearGradient><linearGradient id="g412" gradientUnits="userSpaceOnUse" x1="0" x2="219.4" y1="0" y2="0"><stop offset="0" stop-color="#333333"/><stop offset=".1142" stop-color="#343434"/><stop offset=".1963" stop-color="#383838"/><stop offset=".21" stop-color="#414141"/><stop offset=".2192" stop-color="#4b4b4b"/><stop offset=".242" stop-color="#6a6a6a"/><stop offset=".2557" stop-color="#777777"/><stop offset=".2968" stop-color="#989898"/><stop offset=".3242" stop-color="#aaaaaa"/><stop offset=".3425" stop-color="#b3b3b3"/><stop offset=".3653" stop-color="#b8b8b8"/><stop offset=".4749" stop-color="#bbbbbb"/><stop offset=".516" stop-color="#bebebe"/><stop offset=".6438" stop-color="#dedede"/><stop offset=".7169" stop-color="#ebebeb"/><stop offset=".7397" stop-color="#eeeeee"/><stop offset=".7854" stop-color="#f0f0f0"/><stop offset=".8539" stop-color="#e8e8e8"/><stop offset=".8813" stop-color="#e2e2e2"/><stop offset=".9361" stop-color="#cbcbcb"/><stop offset=".9954" stop-color="#b8b8b8"/><stop offset="1" stop-color="#b8b8b8"/></linearGradient><linearGradient id="g413" gradientUnits="userSpaceOnUse" x1="0" x2="219.4" y1="0" y2="0"><stop offset="0" stop-color="#262626"/><stop offset=".2009" stop-color="#272727"/><stop offset=".2192" stop-color="#313131"/><stop offset=".2648" stop-color="#595959"/><stop offset=".2831" stop-color="#6c6c6c"/><stop offset=".3105" stop-color="#8c8c8c"/><stop offset=".3379" stop-color="#a6a6a6"/><stop offset=".3607" stop-color="#b2b2b2"/><stop offset=".3927" stop-color="#b6b6b6"/><stop offset=".5068" stop-color="#bdbdbd"/><stop offset=".5251" stop-color="#c1c1c1"/><stop offset=".5799" stop-color="#d3d3d3"/><stop offset=".6484" stop-color="#e6e6e6"/><stop offset=".6986" stop-color="#f0f0f0"/><stop offset=".7534" stop-color="#f7f7f7"/><stop offset=".7945" stop-color="#f7f7f7"/><stop offset=".863" stop-color="#eeeeee"/><stop offset=".8813" stop-color="#e9e9e9"/><stop offset=".9361" stop-color="#d0d0d0"/><stop offset=".9909" stop-color="#bababa"/><stop offset="1" stop-color="#b8b8b8"/></linearGradient><linearGradient id="g414" gradientUnits="userSpaceOnUse" x1="0" x2="219.4" y1="0" y2="0"><stop offset="0" stop-color="#141414"/><stop offset=".1963" stop-color="#141414"/><stop offset=".2055" stop-color="#161616"/><stop offset=".2237" stop-color="#212121"/><stop offset=".2694" stop-color="#4a4a4a"/><stop offset=".3196" stop-color="#6a6a6a"/><stop offset=".3653" stop-color="#808080"/><stop offset=".4566" stop-color="#9b9b9b"/><stop offset=".5114" stop-color="#a7a7a7"/><stop offset=".5753" stop-color="#b1b1b1"/><stop offset=".7169" stop-color="#bebebe"/><stop offset=".8174" stop-color="#bebebe"/><stop offset=".9224" stop-color="#b1b1b1"/><stop offset=".9498" stop-color="#aaaaaa"/><stop offset="1" stop-color="#999999"/></linearGradient><linearGradient id="g415" gradientUnits="userSpaceOnUse" x1="0" x2="219.4" y1="0" y2="0"><stop offset="0" stop-color="#0d0d0d"/><stop offset=".1005" stop-color="#0a0a0a"/><stop offset=".2009" stop-color="#0a0a0a"/><stop offset=".2329" stop-color="#131313"/><stop offset=".274" stop-color="#262626"/><stop offset=".2877" stop-color="#2d2d2d"/><stop offset=".3333" stop-color="#4b4b4b"/><stop offset=".3699" stop-color="#5b5b5b"/><stop offset=".4384" stop-color="#6b6b6b"/><stop offset=".4795" stop-color="#727272"/><stop offset=".6027" stop-color="#818181"/><stop offset=".7032" stop-color="#8a8a8a"/><stop offset=".7991" stop-color="#8c8c8c"/><stop offset=".863" stop-color="#868686"/><stop offset="1" stop-color="#737373"/></linearGradient><linearGradient id="g416" gradientUnits="userSpaceOnUse" x1="0" x2="219.4" y1="0" y2="0"><stop offset="0" stop-color="#0d0d0d"/><stop offset=".0913" stop-color="#080808"/><stop offset=".21" stop-color="#080808"/><stop offset=".2648" stop-color="#121212"/><stop offset=".2968" stop-color="#1b1b1b"/><stop offset=".347" stop-color="#2f2f2f"/><stop offset=".3927" stop-color="#383838"/><stop offset=".4795" stop-color="#434343"/><stop offset=".7215" stop-color="#585858"/><stop offset=".8447" stop-color="#585858"/><stop offset=".9361" stop-color="#535353"/><stop offset="1" stop-color="#4c4c4c"/></linearGradient><linearGradient id="g417" gradientUnits="userSpaceOnUse" x1="0" x2="219.4" y1="0" y2="0"><stop offset="0" stop-color="#0f0f0f"/><stop offset=".0731" stop-color="#0b0b0b"/><stop offset=".21" stop-color="#0a0a0a"/><stop offset=".2831" stop-color="#101010"/><stop offset=".347" stop-color="#1d1d1d"/><stop offset=".4018" stop-color="#212121"/><stop offset=".5936" stop-color="#262626"/><stop offset=".7534" stop-color="#333333"/><stop offset="1" stop-color="#333333"/></linearGradient><linearGradient id="g418" gradientUnits="userSpaceOnUse" x1="0" x2="219.4" y1="0" y2="0"><stop offset="0" stop-color="#141414"/><stop offset=".1644" stop-color="#0f0f0f"/><stop offset=".2785" stop-color="#0f0f0f"/><stop offset=".347" stop-color="#191919"/><stop offset=".3653" stop-color="#1a1a1a"/><stop offset=".6484" stop-color="#1a1a1a"/><stop offset=".8584" stop-color="#212121"/><stop offset="1" stop-color="#212121"/></linearGradient><linearGradient id="g419" gradientUnits="userSpaceOnUse" x1="0" x2="219.4" y1="0" y2="0"><stop offset="0" stop-color="#545454"/><stop offset=".5662" stop-color="#545454"/><stop offset="1" stop-color="#585858"/></linearGradient><linearGradient id="g420" gradientUnits="userSpaceOnUse" x1="0" x2="219.4" y1="0" y2="0"><stop offset="0" stop-color="#545454"/><stop offset=".79" stop-color="#555555"/><stop offset="1" stop-color="#595959"/></linearGradient><linearGradient id="g421" gradientUnits="userSpaceOnUse" x1="0" x2="219.4" y1="0" y2="0"><stop offset="0" stop-color="#545454"/><stop offset=".6073" stop-color="#545454"/><stop offset=".8676" stop-color="#565656"/><stop offset="1" stop-color="#595959"/></linearGradient><linearGradient id="g422" gradientUnits="userSpaceOnUse" x1="0" x2="219.4" y1="0" y2="0"><stop offset="0" stop-color="#545454"/><stop offset=".6438" stop-color="#545454"/><stop offset=".8584" stop-color="#565656"/><stop offset=".9543" stop-color="#595959"/><stop offset="1" stop-color="#585858"/></linearGradient><linearGradient id="g423" gradientUnits="userSpaceOnUse" x1="0" x2="219.4" y1="0" y2="0"><stop offset="0" stop-color="#545454"/><stop offset=".6712" stop-color="#545454"/><stop offset=".8447" stop-color="#565656"/><stop offset=".9361" stop-color="#595959"/><stop offset="1" stop-color="#585858"/></linearGradient><linearGradient id="g424" gradientUnits="userSpaceOnUse" x1="0" x2="219.4" y1="0" y2="0"><stop offset="0" stop-color="#535353"/><stop offset=".6895" stop-color="#545454"/><stop offset=".9178" stop-color="#595959"/><stop offset="1" stop-color="#575757"/></linearGradient><linearGradient id="g425" gradientUnits="userSpaceOnUse" x1="0" x2="219.4" y1="0" y2="0"><stop offset="0" stop-color="#535353"/><stop offset=".5845" stop-color="#535353"/><stop offset=".8219" stop-color="#565656"/><stop offset=".9224" stop-color="#5a5a5a"/><stop offset="1" stop-color="#575757"/></linearGradient><linearGradient id="g426" gradientUnits="userSpaceOnUse" x1="0" x2="219.4" y1="0" y2="0"><stop offset="0" stop-color="#535353"/><stop offset=".621" stop-color="#535353"/><stop offset=".8082" stop-color="#565656"/><stop offset=".9041" stop-color="#5a5a5a"/><stop offset="1" stop-color="#565656"/></linearGradient><linearGradient id="g427" gradientUnits="userSpaceOnUse" x1="0" x2="219.4" y1="0" y2="0"><stop offset="0" stop-color="#535353"/><stop offset=".5251" stop-color="#525252"/><stop offset=".758" stop-color="#555555"/><stop offset=".8813" stop-color="#5a5a5a"/><stop offset="1" stop-color="#555555"/></linearGradient><linearGradient id="g428" gradientUnits="userSpaceOnUse" x1="0" x2="219.4" y1="0" y2="0"><stop offset="0" stop-color="#525252"/><stop offset=".5799" stop-color="#525252"/><stop offset=".7534" stop-color="#555555"/><stop offset=".863" stop-color="#5a5a5a"/><stop offset="1" stop-color="#555555"/></linearGradient><linearGradient id="g429" gradientUnits="userSpaceOnUse" x1="0" x2="219.4" y1="0" y2="0"><stop offset="0" stop-color="#515151"/><stop offset=".5434" stop-color="#515151"/><stop offset=".7123" stop-color="#545454"/><stop offset=".8447" stop-color="#5a5a5a"/><stop offset=".9909" stop-color="#545454"/><stop offset=".9954" stop-color="#080808"/><stop offset="1" stop-color="#080808"/></linearGradient><linearGradient id="g430" gradientUnits="userSpaceOnUse" x1="0" x2="219.4" y1="0" y2="0"><stop offset="0" stop-color="#505050"/><stop offset=".5205" stop-color="#505050"/><stop offset=".7123" stop-color="#545454"/><stop offset=".8219" stop-color="#5a5a5a"/><stop offset=".968" stop-color="#545454"/><stop offset=".9726" stop-color="#535353"/><stop offset=".9772" stop-color="#080808"/><stop offset="1" stop-color="#080808"/></linearGradient><linearGradient id="g431" gradientUnits="userSpaceOnUse" x1="0" x2="219.4" y1="0" y2="0"><stop offset="0" stop-color="#4f4f4f"/><stop offset=".2374" stop-color="#4d4d4d"/><stop offset=".4384" stop-color="#4e4e4e"/><stop offset=".653" stop-color="#525252"/><stop offset=".7534" stop-color="#565656"/><stop offset=".8037" stop-color="#5a5a5a"/><stop offset=".9543" stop-color="#535353"/><stop offset=".9589" stop-color="#080808"/><stop offset="1" stop-color="#080808"/></linearGradient><linearGradient id="g432" gradientUnits="userSpaceOnUse" x1="0" x2="219.4" y1="0" y2="0"><stop offset="0" stop-color="#4e4e4e"/><stop offset=".1735" stop-color="#4c4c4c"/><stop offset=".4429" stop-color="#4d4d4d"/><stop offset=".6804" stop-color="#535353"/><stop offset=".7991" stop-color="#5b5b5b"/><stop offset=".8676" stop-color="#555555"/><stop offset=".9269" stop-color="#535353"/><stop offset=".9361" stop-color="#525252"/><stop offset=".9406" stop-color="#080808"/><stop offset="1" stop-color="#080808"/></linearGradient><linearGradient id="g433" gradientUnits="userSpaceOnUse" x1="0" x2="219.4" y1="0" y2="0"><stop offset="0" stop-color="#4d4d4d"/><stop offset=".1416" stop-color="#4b4b4b"/><stop offset=".4475" stop-color="#4c4c4c"/><stop offset=".653" stop-color="#525252"/><stop offset=".7854" stop-color="#5b5b5b"/><stop offset=".8311" stop-color="#565656"/><stop offset=".9224" stop-color="#515151"/><stop offset=".9269" stop-color="#080808"/><stop offset="1" stop-color="#080808"/></linearGradient><linearGradient id="g434" gradientUnits="userSpaceOnUse" x1="0" x2="219.4" y1="0" y2="0"><stop offset="0" stop-color="#4c4c4c"/><stop offset=".1918" stop-color="#494949"/><stop offset=".3973" stop-color="#4a4a4a"/><stop offset=".6256" stop-color="#515151"/><stop offset=".7671" stop-color="#5b5b5b"/><stop offset=".8265" stop-color="#555555"/><stop offset=".9041" stop-color="#515151"/><stop offset=".9087" stop-color="#080808"/><stop offset="1" stop-color="#080808"/></linearGradient><linearGradient id="g435" gradientUnits="userSpaceOnUse" x1="0" x2="219.4" y1="0" y2="0"><stop offset="0" stop-color="#4b4b4b"/><stop offset=".1689" stop-color="#484848"/><stop offset=".3973" stop-color="#494949"/><stop offset=".621" stop-color="#515151"/><stop offset=".7534" stop-color="#5b5b5b"/><stop offset=".8037" stop-color="#555555"/><stop offset=".8858" stop-color="#505050"/><stop offset=".8904" stop-color="#080808"/><stop offset="1" stop-color="#080808"/></linearGradient><linearGradient id="g436" gradientUnits="userSpaceOnUse" x1="0" x2="219.4" y1="0" y2="0"><stop offset="0" stop-color="#4b4b4b"/><stop offset=".1644" stop-color="#474747"/><stop offset=".3881" stop-color="#484848"/><stop offset=".5936" stop-color="#505050"/><stop offset=".7306" stop-color="#5c5c5c"/><stop offset=".7854" stop-color="#555555"/><stop offset=".8676" stop-color="#505050"/><stop offset=".8721" stop-color="#080808"/><stop offset="1" stop-color="#080808"/></linearGradient><linearGradient id="g437" gradientUnits="userSpaceOnUse" x1="0" x2="219.4" y1="0" y2="0"><stop offset="0" stop-color="#4a4a4a"/><stop offset=".1553" stop-color="#464646"/><stop offset=".379" stop-color="#474747"/><stop offset=".5845" stop-color="#505050"/><stop offset=".7123" stop-color="#5c5c5c"/><stop offset=".7763" stop-color="#545454"/><stop offset=".8493" stop-color="#4f4f4f"/><stop offset=".8539" stop-color="#080808"/><stop offset="1" stop-color="#080808"/></linearGradient><linearGradient id="g438" gradientUnits="userSpaceOnUse" x1="0" x2="219.4" y1="0" y2="0"><stop offset="0" stop-color="#494949"/><stop offset=".2283" stop-color="#444444"/><stop offset=".3333" stop-color="#454545"/><stop offset=".5434" stop-color="#4e4e4e"/><stop offset=".6986" stop-color="#5c5c5c"/><stop offset=".7671" stop-color="#535353"/><stop offset=".8311" stop-color="#4e4e4e"/><stop offset=".8356" stop-color="#080808"/><stop offset="1" stop-color="#080808"/></linearGradient><linearGradient id="g439" gradientUnits="userSpaceOnUse" x1="0" x2="219.4" y1="0" y2="0"><stop offset="0" stop-color="#484848"/><stop offset=".1461" stop-color="#444444"/><stop offset=".3562" stop-color="#454545"/><stop offset=".5616" stop-color="#505050"/><stop offset=".6758" stop-color="#5d5d5d"/><stop offset=".7306" stop-color="#555555"/><stop offset=".8128" stop-color="#4e4e4e"/><stop offset=".8174" stop-color="#080808"/><stop offset="1" stop-color="#080808"/></linearGradient><linearGradient id="g440" gradientUnits="userSpaceOnUse" x1="0" x2="219.4" y1="0" y2="0"><stop offset="0" stop-color="#474747"/><stop offset=".1553" stop-color="#434343"/><stop offset=".3333" stop-color="#444444"/><stop offset=".5342" stop-color="#4f4f4f"/><stop offset=".621" stop-color="#585858"/><stop offset=".6575" stop-color="#5e5e5e"/><stop offset=".7123" stop-color="#555555"/><stop offset=".7945" stop-color="#4e4e4e"/><stop offset=".7991" stop-color="#080808"/><stop offset="1" stop-color="#080808"/></linearGradient><linearGradient id="g441" gradientUnits="userSpaceOnUse" x1="0" x2="219.4" y1="0" y2="0"><stop offset="0" stop-color="#474747"/><stop offset=".137" stop-color="#434343"/><stop offset=".2877" stop-color="#434343"/><stop offset=".3562" stop-color="#454545"/><stop offset=".5297" stop-color="#505050"/><stop offset=".6393" stop-color="#5e5e5e"/><stop offset=".7032" stop-color="#545454"/><stop offset=".7808" stop-color="#4d4d4d"/><stop offset=".7854" stop-color="#080808"/><stop offset="1" stop-color="#080808"/></linearGradient><linearGradient id="g442" gradientUnits="userSpaceOnUse" x1="0" x2="219.4" y1="0" y2="0"><stop offset="0" stop-color="#474747"/><stop offset=".1461" stop-color="#434343"/><stop offset=".2603" stop-color="#434343"/><stop offset=".3562" stop-color="#464646"/><stop offset=".4977" stop-color="#4f4f4f"/><stop offset=".6256" stop-color="#5e5e5e"/><stop offset=".6804" stop-color="#555555"/><stop offset=".7626" stop-color="#4d4d4d"/><stop offset=".7671" stop-color="#080808"/><stop offset="1" stop-color="#080808"/></linearGradient><linearGradient id="g443" gradientUnits="userSpaceOnUse" x1="0" x2="219.4" y1="0" y2="0"><stop offset="0" stop-color="#474747"/><stop offset=".1416" stop-color="#444444"/><stop offset=".3196" stop-color="#464646"/><stop offset=".4703" stop-color="#4f4f4f"/><stop offset=".6073" stop-color="#5f5f5f"/><stop offset=".6667" stop-color="#555555"/><stop offset=".7443" stop-color="#4e4e4e"/><stop offset=".7489" stop-color="#080808"/><stop offset="1" stop-color="#080808"/></linearGradient><linearGradient id="g444" gradientUnits="userSpaceOnUse" x1="0" x2="219.4" y1="0" y2="0"><stop offset="0" stop-color="#484848"/><stop offset=".105" stop-color="#464646"/><stop offset=".2557" stop-color="#464646"/><stop offset=".3151" stop-color="#484848"/><stop offset=".4475" stop-color="#505050"/><stop offset=".5479" stop-color="#5a5a5a"/><stop offset=".589" stop-color="#606060"/><stop offset=".6621" stop-color="#545454"/><stop offset=".726" stop-color="#4f4f4f"/><stop offset=".7306" stop-color="#080808"/><stop offset="1" stop-color="#080808"/></linearGradient><linearGradient id="g445" gradientUnits="userSpaceOnUse" x1="0" x2="219.4" y1="0" y2="0"><stop offset="0" stop-color="#4a4a4a"/><stop offset=".0959" stop-color="#484848"/><stop offset=".2374" stop-color="#484848"/><stop offset=".3014" stop-color="#4a4a4a"/><stop offset=".4658" stop-color="#555555"/><stop offset=".5708" stop-color="#616161"/><stop offset=".621" stop-color="#585858"/><stop offset=".7078" stop-color="#505050"/><stop offset=".7123" stop-color="#080808"/><stop offset="1" stop-color="#080808"/></linearGradient><linearGradient id="g446" gradientUnits="userSpaceOnUse" x1="0" x2="219.4" y1="0" y2="0"><stop offset="0" stop-color="#4c4c4c"/><stop offset=".1963" stop-color="#4a4a4a"/><stop offset=".3014" stop-color="#4d4d4d"/><stop offset=".4338" stop-color="#565656"/><stop offset=".5525" stop-color="#636363"/><stop offset=".6119" stop-color="#585858"/><stop offset=".6895" stop-color="#515151"/><stop offset=".6941" stop-color="#080808"/><stop offset="1" stop-color="#080808"/></linearGradient><linearGradient id="g447" gradientUnits="userSpaceOnUse" x1="0" x2="219.4" y1="0" y2="0"><stop offset="0" stop-color="#4e4e4e"/><stop offset=".2009" stop-color="#4d4d4d"/><stop offset=".2694" stop-color="#4f4f4f"/><stop offset=".411" stop-color="#585858"/><stop offset=".5342" stop-color="#656565"/><stop offset=".5845" stop-color="#5b5b5b"/><stop offset=".6712" stop-color="#525252"/><stop offset=".6758" stop-color="#080808"/><stop offset="1" stop-color="#080808"/></linearGradient><linearGradient id="g448" gradientUnits="userSpaceOnUse" x1="0" x2="219.4" y1="0" y2="0"><stop offset="0" stop-color="#505050"/><stop offset=".1963" stop-color="#505050"/><stop offset=".2831" stop-color="#535353"/><stop offset=".4201" stop-color="#5d5d5d"/><stop offset=".516" stop-color="#686868"/><stop offset=".5753" stop-color="#5c5c5c"/><stop offset=".6575" stop-color="#545454"/><stop offset=".6621" stop-color="#080808"/><stop offset="1" stop-color="#090909"/></linearGradient><linearGradient id="g449" gradientUnits="userSpaceOnUse" x1="0" x2="219.4" y1="0" y2="0"><stop offset="0" stop-color="#535353"/><stop offset=".1461" stop-color="#535353"/><stop offset=".2557" stop-color="#565656"/><stop offset=".379" stop-color="#5e5e5e"/><stop offset=".4977" stop-color="#6b6b6b"/><stop offset=".5571" stop-color="#5f5f5f"/><stop offset=".6393" stop-color="#565656"/><stop offset=".6438" stop-color="#080808"/><stop offset="1" stop-color="#090909"/></linearGradient><linearGradient id="g450" gradientUnits="userSpaceOnUse" x1="0" x2="219.4" y1="0" y2="0"><stop offset="0" stop-color="#575757"/><stop offset=".1142" stop-color="#575757"/><stop offset=".2603" stop-color="#5b5b5b"/><stop offset=".3653" stop-color="#626262"/><stop offset=".4795" stop-color="#6e6e6e"/><stop offset=".516" stop-color="#666666"/><stop offset=".5616" stop-color="#5f5f5f"/><stop offset=".621" stop-color="#5a5a5a"/><stop offset=".6256" stop-color="#080808"/><stop offset="1" stop-color="#090909"/></linearGradient><linearGradient id="g451" gradientUnits="userSpaceOnUse" x1="0" x2="219.4" y1="0" y2="0"><stop offset="0" stop-color="#5b5b5b"/><stop offset=".1461" stop-color="#5c5c5c"/><stop offset=".2603" stop-color="#606060"/><stop offset=".3516" stop-color="#666666"/><stop offset=".4612" stop-color="#717171"/><stop offset=".5388" stop-color="#636363"/><stop offset=".6027" stop-color="#5d5d5d"/><stop offset=".6073" stop-color="#090909"/><stop offset="1" stop-color="#090909"/></linearGradient><linearGradient id="g452" gradientUnits="userSpaceOnUse" x1="0" x2="219.4" y1="0" y2="0"><stop offset="0" stop-color="#5f5f5f"/><stop offset=".2192" stop-color="#636363"/><stop offset=".3607" stop-color="#6c6c6c"/><stop offset=".4475" stop-color="#747474"/><stop offset=".5023" stop-color="#696969"/><stop offset=".5845" stop-color="#606060"/><stop offset=".589" stop-color="#090909"/><stop offset="1" stop-color="#0a0a0a"/></linearGradient><linearGradient id="g453" gradientUnits="userSpaceOnUse" x1="0" x2="219.4" y1="0" y2="0"><stop offset="0" stop-color="#636363"/><stop offset=".1324" stop-color="#656565"/><stop offset=".2374" stop-color="#696969"/><stop offset=".4292" stop-color="#777777"/><stop offset=".4932" stop-color="#6b6b6b"/><stop offset=".5662" stop-color="#646464"/><stop offset=".5708" stop-color="#090909"/><stop offset="1" stop-color="#0a0a0a"/></linearGradient><linearGradient id="g454" gradientUnits="userSpaceOnUse" x1="0" x2="219.4" y1="0" y2="0"><stop offset="0" stop-color="#676767"/><stop offset=".2146" stop-color="#6d6d6d"/><stop offset=".411" stop-color="#7b7b7b"/><stop offset=".4658" stop-color="#707070"/><stop offset=".5479" stop-color="#686868"/><stop offset=".5525" stop-color="#090909"/><stop offset="1" stop-color="#0a0a0a"/></linearGradient><linearGradient id="g455" gradientUnits="userSpaceOnUse" x1="0" x2="219.4" y1="0" y2="0"><stop offset="0" stop-color="#6b6b6b"/><stop offset=".1963" stop-color="#717171"/><stop offset=".3927" stop-color="#7f7f7f"/><stop offset=".4521" stop-color="#737373"/><stop offset=".5297" stop-color="#6b6b6b"/><stop offset=".5342" stop-color="#090909"/><stop offset="1" stop-color="#0b0b0b"/></linearGradient><linearGradient id="g456" gradientUnits="userSpaceOnUse" x1="0" x2="219.4" y1="0" y2="0"><stop offset="0" stop-color="#6f6f6f"/><stop offset=".1963" stop-color="#767676"/><stop offset=".3744" stop-color="#838383"/><stop offset=".3973" stop-color="#7d7d7d"/><stop offset=".4475" stop-color="#757575"/><stop offset=".516" stop-color="#6f6f6f"/><stop offset=".5205" stop-color="#090909"/><stop offset="1" stop-color="#0b0b0b"/></linearGradient><linearGradient id="g457" gradientUnits="userSpaceOnUse" x1="0" x2="219.4" y1="0" y2="0"><stop offset="0" stop-color="#747474"/><stop offset=".1689" stop-color="#7a7a7a"/><stop offset=".3607" stop-color="#868686"/><stop offset=".4292" stop-color="#797979"/><stop offset=".4977" stop-color="#737373"/><stop offset=".5023" stop-color="#090909"/><stop offset="1" stop-color="#0c0c0c"/></linearGradient><linearGradient id="g458" gradientUnits="userSpaceOnUse" x1="0" x2="219.4" y1="0" y2="0"><stop offset="0" stop-color="#797979"/><stop offset=".1187" stop-color="#7d7d7d"/><stop offset=".3379" stop-color="#8b8b8b"/><stop offset=".4064" stop-color="#7e7e7e"/><stop offset=".4795" stop-color="#777777"/><stop offset=".484" stop-color="#090909"/><stop offset="1" stop-color="#0d0d0d"/></linearGradient><linearGradient id="g459" gradientUnits="userSpaceOnUse" x1="0" x2="219.4" y1="0" y2="0"><stop offset="0" stop-color="#7e7e7e"/><stop offset=".1279" stop-color="#838383"/><stop offset=".3196" stop-color="#8f8f8f"/><stop offset=".3699" stop-color="#858585"/><stop offset=".4612" stop-color="#7c7c7c"/><stop offset=".4658" stop-color="#090909"/><stop offset=".7991" stop-color="#0d0d0d"/><stop offset="1" stop-color="#0d0d0d"/></linearGradient><linearGradient id="g460" gradientUnits="userSpaceOnUse" x1="0" x2="219.4" y1="0" y2="0"><stop offset="0" stop-color="#848484"/><stop offset=".1324" stop-color="#898989"/><stop offset=".3059" stop-color="#939393"/><stop offset=".3562" stop-color="#898989"/><stop offset=".4429" stop-color="#818181"/><stop offset=".4475" stop-color="#090909"/><stop offset=".8356" stop-color="#0e0e0e"/><stop offset="1" stop-color="#0e0e0e"/></linearGradient><linearGradient id="g461" gradientUnits="userSpaceOnUse" x1="0" x2="219.4" y1="0" y2="0"><stop offset="0" stop-color="#898989"/><stop offset=".2877" stop-color="#979797"/><stop offset=".3607" stop-color="#8b8b8b"/><stop offset=".4247" stop-color="#868686"/><stop offset=".4292" stop-color="#0a0a0a"/><stop offset="1" stop-color="#0f0f0f"/></linearGradient><linearGradient id="g462" gradientUnits="userSpaceOnUse" x1="0" x2="219.4" y1="0" y2="0"><stop offset="0" stop-color="#8f8f8f"/><stop offset=".274" stop-color="#9b9b9b"/><stop offset=".3196" stop-color="#939393"/><stop offset=".4064" stop-color="#8b8b8b"/><stop offset=".411" stop-color="#0a0a0a"/><stop offset="1" stop-color="#101010"/></linearGradient><linearGradient id="g463" gradientUnits="userSpaceOnUse" x1="0" x2="219.4" y1="0" y2="0"><stop offset="0" stop-color="#949494"/><stop offset=".2511" stop-color="#9f9f9f"/><stop offset=".3242" stop-color="#959595"/><stop offset=".3881" stop-color="#919191"/><stop offset=".3927" stop-color="#0a0a0a"/><stop offset=".7991" stop-color="#101010"/><stop offset="1" stop-color="#111111"/></linearGradient><linearGradient id="g464" gradientUnits="userSpaceOnUse" x1="0" x2="219.4" y1="0" y2="0"><stop offset="0" stop-color="#989898"/><stop offset=".1735" stop-color="#a1a1a1"/><stop offset=".2374" stop-color="#a2a2a2"/><stop offset=".3105" stop-color="#999999"/><stop offset=".3744" stop-color="#969696"/><stop offset=".379" stop-color="#0a0a0a"/><stop offset=".8037" stop-color="#111111"/><stop offset="1" stop-color="#121212"/></linearGradient><linearGradient id="g465" gradientUnits="userSpaceOnUse" x1="0" x2="219.4" y1="0" y2="0"><stop offset="0" stop-color="#9c9c9c"/><stop offset=".0868" stop-color="#9f9f9f"/><stop offset=".1553" stop-color="#a4a4a4"/><stop offset=".2192" stop-color="#a5a5a5"/><stop offset=".2694" stop-color="#9f9f9f"/><stop offset=".3562" stop-color="#9a9a9a"/><stop offset=".3607" stop-color="#0a0a0a"/><stop offset=".5479" stop-color="#0c0c0c"/><stop offset=".8082" stop-color="#121212"/><stop offset="1" stop-color="#131313"/></linearGradient><linearGradient id="g466" gradientUnits="userSpaceOnUse" x1="0" x2="219.4" y1="0" y2="0"><stop offset="0" stop-color="#a0a0a0"/><stop offset=".1005" stop-color="#a2a2a2"/><stop offset=".2009" stop-color="#a8a8a8"/><stop offset=".242" stop-color="#a3a3a3"/><stop offset=".3379" stop-color="#9e9e9e"/><stop offset=".3425" stop-color="#0a0a0a"/><stop offset=".4703" stop-color="#0b0b0b"/><stop offset=".8767" stop-color="#141414"/><stop offset="1" stop-color="#141414"/></linearGradient><linearGradient id="g467" gradientUnits="userSpaceOnUse" x1="0" x2="219.4" y1="0" y2="0"><stop offset="0" stop-color="#a2a2a2"/><stop offset=".2192" stop-color="#a7a7a7"/><stop offset=".3196" stop-color="#a1a1a1"/><stop offset=".3242" stop-color="#0a0a0a"/><stop offset=".5023" stop-color="#0c0c0c"/><stop offset=".8721" stop-color="#151515"/><stop offset="1" stop-color="#151515"/></linearGradient><linearGradient id="g468" gradientUnits="userSpaceOnUse" x1="0" x2="219.4" y1="0" y2="0"><stop offset="0" stop-color="#a2a2a2"/><stop offset=".1553" stop-color="#a6a6a6"/><stop offset=".2329" stop-color="#a6a6a6"/><stop offset=".3014" stop-color="#a3a3a3"/><stop offset=".3059" stop-color="#0a0a0a"/><stop offset=".484" stop-color="#0c0c0c"/><stop offset=".863" stop-color="#161616"/><stop offset="1" stop-color="#171717"/></linearGradient><linearGradient id="g469" gradientUnits="userSpaceOnUse" x1="0" x2="219.4" y1="0" y2="0"><stop offset="0" stop-color="#a2a2a2"/><stop offset=".137" stop-color="#a5a5a5"/><stop offset=".2831" stop-color="#a4a4a4"/><stop offset=".2877" stop-color="#0a0a0a"/><stop offset=".4658" stop-color="#0c0c0c"/><stop offset=".8584" stop-color="#171717"/><stop offset="1" stop-color="#181818"/></linearGradient><linearGradient id="g470" gradientUnits="userSpaceOnUse" x1="0" x2="219.4" y1="0" y2="0"><stop offset="0" stop-color="#a2a2a2"/><stop offset=".1963" stop-color="#a5a5a5"/><stop offset=".2648" stop-color="#a4a4a4"/><stop offset=".2694" stop-color="#090909"/><stop offset=".4932" stop-color="#0d0d0d"/><stop offset=".8082" stop-color="#171717"/><stop offset="1" stop-color="#191919"/></linearGradient><linearGradient id="g471" gradientUnits="userSpaceOnUse" x1="0" x2="219.4" y1="0" y2="0"><stop offset="0" stop-color="#a2a2a2"/><stop offset=".2466" stop-color="#a4a4a4"/><stop offset=".2511" stop-color="#090909"/><stop offset=".4384" stop-color="#0c0c0c"/><stop offset=".8082" stop-color="#181818"/><stop offset="1" stop-color="#1a1a1a"/></linearGradient><linearGradient id="g472" gradientUnits="userSpaceOnUse" x1="0" x2="219.4" y1="0" y2="0"><stop offset="0" stop-color="#a2a2a2"/><stop offset=".2329" stop-color="#a3a3a3"/><stop offset=".2374" stop-color="#090909"/><stop offset=".4658" stop-color="#0d0d0d"/><stop offset=".8493" stop-color="#1a1a1a"/><stop offset="1" stop-color="#1b1b1b"/></linearGradient><linearGradient id="g473" gradientUnits="userSpaceOnUse" x1="0" x2="219.4" y1="0" y2="0"><stop offset="0" stop-color="#a2a2a2"/><stop offset=".2146" stop-color="#a3a3a3"/><stop offset=".2192" stop-color="#090909"/><stop offset=".4886" stop-color="#0e0e0e"/><stop offset=".8128" stop-color="#1a1a1a"/><stop offset="1" stop-color="#1c1c1c"/></linearGradient><linearGradient id="g474" gradientUnits="userSpaceOnUse" x1="0" x2="219.4" y1="0" y2="0"><stop offset="0" stop-color="#a2a2a2"/><stop offset=".1963" stop-color="#a3a3a3"/><stop offset=".2009" stop-color="#090909"/><stop offset=".4429" stop-color="#0d0d0d"/><stop offset=".8174" stop-color="#1b1b1b"/><stop offset="1" stop-color="#1d1d1d"/></linearGradient><linearGradient id="g475" gradientUnits="userSpaceOnUse" x1="0" x2="219.4" y1="0" y2="0"><stop offset="0" stop-color="#080808"/><stop offset=".3562" stop-color="#0b0b0b"/><stop offset=".8265" stop-color="#1c1c1c"/><stop offset="1" stop-color="#1e1e1e"/></linearGradient><linearGradient id="g476" gradientUnits="userSpaceOnUse" x1="0" x2="219.4" y1="0" y2="0"><stop offset="0" stop-color="#080808"/><stop offset=".3516" stop-color="#0b0b0b"/><stop offset=".5479" stop-color="#111111"/><stop offset=".8356" stop-color="#1d1d1d"/><stop offset="1" stop-color="#1f1f1f"/></linearGradient><linearGradient id="g477" gradientUnits="userSpaceOnUse" x1="0" x2="219.4" y1="0" y2="0"><stop offset="0" stop-color="#080808"/><stop offset=".3516" stop-color="#0b0b0b"/><stop offset=".516" stop-color="#101010"/><stop offset=".8174" stop-color="#1d1d1d"/><stop offset="1" stop-color="#202020"/></linearGradient><linearGradient id="g478" gradientUnits="userSpaceOnUse" x1="0" x2="219.4" y1="0" y2="0"><stop offset="0" stop-color="#080808"/><stop offset=".3562" stop-color="#0b0b0b"/><stop offset=".8311" stop-color="#1e1e1e"/><stop offset="1" stop-color="#202020"/></linearGradient><linearGradient id="g479" gradientUnits="userSpaceOnUse" x1="0" x2="219.4" y1="0" y2="0"><stop offset="0" stop-color="#090909"/><stop offset=".3607" stop-color="#0b0b0b"/><stop offset=".8219" stop-color="#1e1e1e"/><stop offset="1" stop-color="#212121"/></linearGradient><linearGradient id="g480" gradientUnits="userSpaceOnUse" x1="0" x2="219.4" y1="0" y2="0"><stop offset="0" stop-color="#090909"/><stop offset=".3699" stop-color="#0b0b0b"/><stop offset=".8128" stop-color="#1e1e1e"/><stop offset="1" stop-color="#212121"/></linearGradient><linearGradient id="g481" gradientUnits="userSpaceOnUse" x1="0" x2="219.4" y1="0" y2="0"><stop offset="0" stop-color="#090909"/><stop offset=".3379" stop-color="#0a0a0a"/><stop offset=".8082" stop-color="#1e1e1e"/><stop offset="1" stop-color="#212121"/></linearGradient><linearGradient id="g482" gradientUnits="userSpaceOnUse" x1="0" x2="219.4" y1="0" y2="0"><stop offset="0" stop-color="#090909"/><stop offset=".347" stop-color="#0a0a0a"/><stop offset=".8082" stop-color="#1e1e1e"/><stop offset="1" stop-color="#212121"/></linearGradient><linearGradient id="g483" gradientUnits="userSpaceOnUse" x1="0" x2="219.4" y1="0" y2="0"><stop offset="0" stop-color="#0a0a0a"/><stop offset=".3562" stop-color="#0a0a0a"/><stop offset=".8128" stop-color="#1e1e1e"/><stop offset="1" stop-color="#212121"/></linearGradient><linearGradient id="g484" gradientUnits="userSpaceOnUse" x1="0" x2="219.4" y1="0" y2="0"><stop offset="0" stop-color="#0a0a0a"/><stop offset=".3562" stop-color="#0a0a0a"/><stop offset=".79" stop-color="#1d1d1d"/><stop offset="1" stop-color="#212121"/></linearGradient><linearGradient id="g485" gradientUnits="userSpaceOnUse" x1="0" x2="219.4" y1="0" y2="0"><stop offset="0" stop-color="#0b0b0b"/><stop offset=".347" stop-color="#0a0a0a"/><stop offset=".7991" stop-color="#1d1d1d"/><stop offset=".9132" stop-color="#202020"/><stop offset="1" stop-color="#202020"/></linearGradient><linearGradient id="g486" gradientUnits="userSpaceOnUse" x1="0" x2="219.4" y1="0" y2="0"><stop offset="0" stop-color="#0c0c0c"/><stop offset=".2557" stop-color="#0a0a0a"/><stop offset=".379" stop-color="#0b0b0b"/><stop offset=".8128" stop-color="#1d1d1d"/><stop offset="1" stop-color="#202020"/></linearGradient><linearGradient id="g487" gradientUnits="userSpaceOnUse" x1="0" x2="219.4" y1="0" y2="0"><stop offset="0" stop-color="#0c0c0c"/><stop offset=".3607" stop-color="#0b0b0b"/><stop offset=".7991" stop-color="#1c1c1c"/><stop offset=".9132" stop-color="#1f1f1f"/><stop offset="1" stop-color="#1f1f1f"/></linearGradient><linearGradient id="g488" gradientUnits="userSpaceOnUse" x1="0" x2="219.4" y1="0" y2="0"><stop offset="0" stop-color="#0d0d0d"/><stop offset=".3836" stop-color="#0c0c0c"/><stop offset=".8493" stop-color="#1d1d1d"/><stop offset="1" stop-color="#1f1f1f"/></linearGradient><linearGradient id="g489" gradientUnits="userSpaceOnUse" x1="0" x2="219.4" y1="0" y2="0"><stop offset="0" stop-color="#0f0f0f"/><stop offset=".4064" stop-color="#0d0d0d"/><stop offset=".8356" stop-color="#1c1c1c"/><stop offset="1" stop-color="#1e1e1e"/></linearGradient><linearGradient id="g490" gradientUnits="userSpaceOnUse" x1="0" x2="219.4" y1="0" y2="0"><stop offset="0" stop-color="#101010"/><stop offset=".3014" stop-color="#0d0d0d"/><stop offset=".4338" stop-color="#0e0e0e"/><stop offset=".8584" stop-color="#1c1c1c"/><stop offset="1" stop-color="#1d1d1d"/></linearGradient><linearGradient id="g491" gradientUnits="userSpaceOnUse" x1="0" x2="219.4" y1="0" y2="0"><stop offset="0" stop-color="#111111"/><stop offset=".4018" stop-color="#0e0e0e"/><stop offset=".589" stop-color="#121212"/><stop offset=".8402" stop-color="#1b1b1b"/><stop offset="1" stop-color="#1d1d1d"/></linearGradient><linearGradient id="g492" gradientUnits="userSpaceOnUse" x1="0" x2="219.4" y1="0" y2="0"><stop offset="0" stop-color="#121212"/><stop offset=".4566" stop-color="#0f0f0f"/><stop offset=".8584" stop-color="#1b1b1b"/><stop offset="1" stop-color="#1c1c1c"/></linearGradient><linearGradient id="g493" gradientUnits="userSpaceOnUse" x1="0" x2="219.4" y1="0" y2="0"><stop offset="0" stop-color="#141414"/><stop offset=".4018" stop-color="#0f0f0f"/><stop offset=".5616" stop-color="#111111"/><stop offset=".8767" stop-color="#1b1b1b"/><stop offset="1" stop-color="#1c1c1c"/></linearGradient><linearGradient id="g494" gradientUnits="userSpaceOnUse" x1="0" x2="219.4" y1="0" y2="0"><stop offset="0" stop-color="#151515"/><stop offset=".1233" stop-color="#151515"/><stop offset=".3379" stop-color="#101010"/><stop offset=".5068" stop-color="#101010"/><stop offset=".8447" stop-color="#1a1a1a"/><stop offset="1" stop-color="#1c1c1c"/></linearGradient><linearGradient id="g495" gradientUnits="userSpaceOnUse" x1="0" x2="219.4" y1="0" y2="0"><stop offset="0" stop-color="#171717"/><stop offset=".1416" stop-color="#161616"/><stop offset=".3196" stop-color="#111111"/><stop offset=".4977" stop-color="#101010"/><stop offset=".8493" stop-color="#1a1a1a"/><stop offset="1" stop-color="#1b1b1b"/></linearGradient><linearGradient id="g496" gradientUnits="userSpaceOnUse" x1="0" x2="219.4" y1="0" y2="0"><stop offset="0" stop-color="#191919"/><stop offset=".4658" stop-color="#101010"/><stop offset=".6119" stop-color="#121212"/><stop offset=".8995" stop-color="#1b1b1b"/><stop offset="1" stop-color="#1b1b1b"/></linearGradient><linearGradient id="g497" gradientUnits="userSpaceOnUse" x1="0" x2="219.4" y1="0" y2="0"><stop offset="0" stop-color="#1a1a1a"/><stop offset=".1233" stop-color="#191919"/><stop offset=".3836" stop-color="#111111"/><stop offset=".5616" stop-color="#111111"/><stop offset=".8493" stop-color="#1a1a1a"/><stop offset="1" stop-color="#1c1c1c"/></linearGradient><linearGradient id="g498" gradientUnits="userSpaceOnUse" x1="0" x2="219.4" y1="0" y2="0"><stop offset="0" stop-color="#1b1b1b"/><stop offset=".1279" stop-color="#1a1a1a"/><stop offset=".4064" stop-color="#111111"/><stop offset=".5616" stop-color="#111111"/><stop offset=".8447" stop-color="#1a1a1a"/><stop offset="1" stop-color="#1c1c1c"/></linearGradient><linearGradient id="g499" gradientUnits="userSpaceOnUse" x1="0" x2="219.4" y1="0" y2="0"><stop offset="0" stop-color="#1c1c1c"/><stop offset=".1279" stop-color="#1b1b1b"/><stop offset=".4201" stop-color="#111111"/><stop offset=".5616" stop-color="#111111"/><stop offset=".8447" stop-color="#1a1a1a"/><stop offset="1" stop-color="#1c1c1c"/></linearGradient><linearGradient id="g500" gradientUnits="userSpaceOnUse" x1="0" x2="219.4" y1="0" y2="0"><stop offset="0" stop-color="#1d1d1d"/><stop offset=".1233" stop-color="#1c1c1c"/><stop offset=".4292" stop-color="#111111"/><stop offset=".5662" stop-color="#111111"/><stop offset=".8813" stop-color="#1b1b1b"/><stop offset="1" stop-color="#1c1c1c"/></linearGradient><linearGradient id="g501" gradientUnits="userSpaceOnUse" x1="0" x2="219.4" y1="0" y2="0"><stop offset="0" stop-color="#1e1e1e"/><stop offset=".1096" stop-color="#1d1d1d"/><stop offset=".4338" stop-color="#111111"/><stop offset=".5708" stop-color="#111111"/><stop offset=".8493" stop-color="#1a1a1a"/><stop offset="1" stop-color="#1c1c1c"/></linearGradient><linearGradient id="g502" gradientUnits="userSpaceOnUse" x1="0" x2="219.4" y1="0" y2="0"><stop offset="0" stop-color="#1f1f1f"/><stop offset=".1233" stop-color="#1d1d1d"/><stop offset=".4338" stop-color="#111111"/><stop offset=".5845" stop-color="#111111"/><stop offset=".9041" stop-color="#1b1b1b"/><stop offset="1" stop-color="#1b1b1b"/></linearGradient><linearGradient id="g503" gradientUnits="userSpaceOnUse" x1="0" x2="219.4" y1="0" y2="0"><stop offset="0" stop-color="#1f1f1f"/><stop offset=".1279" stop-color="#1d1d1d"/><stop offset=".4292" stop-color="#111111"/><stop offset=".6027" stop-color="#111111"/><stop offset=".8447" stop-color="#191919"/><stop offset="1" stop-color="#1b1b1b"/></linearGradient><linearGradient id="g504" gradientUnits="userSpaceOnUse" x1="0" x2="219.4" y1="0" y2="0"><stop offset="0" stop-color="#1f1f1f"/><stop offset=".1233" stop-color="#1d1d1d"/><stop offset=".2968" stop-color="#151515"/><stop offset=".4749" stop-color="#101010"/><stop offset=".6256" stop-color="#111111"/><stop offset=".8767" stop-color="#191919"/><stop offset="1" stop-color="#1a1a1a"/></linearGradient><linearGradient id="g505" gradientUnits="userSpaceOnUse" x1="0" x2="219.4" y1="0" y2="0"><stop offset="0" stop-color="#999999"/><stop offset=".0365" stop-color="#9d9d9d"/><stop offset=".0959" stop-color="#a0a0a0"/><stop offset=".2192" stop-color="#a0a0a0"/><stop offset=".3562" stop-color="#8e8e8e"/><stop offset=".4932" stop-color="#767676"/><stop offset=".6895" stop-color="#626262"/><stop offset=".7854" stop-color="#5c5c5c"/><stop offset="1" stop-color="#5c5c5c"/></linearGradient><linearGradient id="g506" gradientUnits="userSpaceOnUse" x1="0" x2="219.4" y1="0" y2="0"><stop offset="0" stop-color="#adadad"/><stop offset=".0776" stop-color="#adadad"/><stop offset=".2009" stop-color="#a8a8a8"/><stop offset=".2648" stop-color="#9a9a9a"/><stop offset=".3653" stop-color="#8f8f8f"/><stop offset=".4977" stop-color="#787878"/><stop offset=".5845" stop-color="#6e6e6e"/><stop offset=".7078" stop-color="#636363"/><stop offset=".8037" stop-color="#5e5e5e"/><stop offset="1" stop-color="#5e5e5e"/></linearGradient><linearGradient id="g507" gradientUnits="userSpaceOnUse" x1="0" x2="219.4" y1="0" y2="0"><stop offset="0" stop-color="#bdbdbd"/><stop offset=".2055" stop-color="#bababa"/><stop offset=".379" stop-color="#9c9c9c"/><stop offset=".5525" stop-color="#7b7b7b"/><stop offset=".7078" stop-color="#676767"/><stop offset=".79" stop-color="#616161"/><stop offset="1" stop-color="#616161"/></linearGradient><linearGradient id="g508" gradientUnits="userSpaceOnUse" x1="0" x2="219.4" y1="0" y2="0"><stop offset="0" stop-color="#c2c2c2"/><stop offset=".1279" stop-color="#c0c0c0"/><stop offset=".2146" stop-color="#bbbbbb"/><stop offset=".2648" stop-color="#b1b1b1"/><stop offset=".3653" stop-color="#a1a1a1"/><stop offset=".5616" stop-color="#7c7c7c"/><stop offset=".7352" stop-color="#676767"/><stop offset=".8128" stop-color="#636363"/><stop offset="1" stop-color="#636363"/></linearGradient><linearGradient id="g509" gradientUnits="userSpaceOnUse" x1="0" x2="219.4" y1="0" y2="0"><stop offset="0" stop-color="#d4d4d4"/><stop offset=".0685" stop-color="#d6d6d6"/><stop offset=".21" stop-color="#d6d6d6"/><stop offset=".2922" stop-color="#c9c9c9"/><stop offset=".3607" stop-color="#b8b8b8"/><stop offset=".5936" stop-color="#848484"/><stop offset=".6986" stop-color="#747474"/><stop offset=".7991" stop-color="#6b6b6b"/><stop offset="1" stop-color="#6b6b6b"/></linearGradient><linearGradient id="g510" gradientUnits="userSpaceOnUse" x1="0" x2="219.4" y1="0" y2="0"><stop offset="0" stop-color="#ededed"/><stop offset=".1096" stop-color="#ebebeb"/><stop offset=".1918" stop-color="#e6e6e6"/><stop offset=".2283" stop-color="#e1e1e1"/><stop offset=".5525" stop-color="#929292"/><stop offset=".6119" stop-color="#868686"/><stop offset=".726" stop-color="#747474"/><stop offset=".79" stop-color="#6e6e6e"/><stop offset=".9406" stop-color="#6e6e6e"/><stop offset="1" stop-color="#707070"/></linearGradient><linearGradient id="g511" gradientUnits="userSpaceOnUse" x1="0" x2="219.4" y1="0" y2="0"><stop offset="0" stop-color="#d1d1d1"/><stop offset=".2466" stop-color="#e5e5e5"/><stop offset=".2877" stop-color="#e5e5e5"/><stop offset=".3196" stop-color="#dedede"/><stop offset=".3516" stop-color="#d4d4d4"/><stop offset=".4932" stop-color="#b5b5b5"/><stop offset=".5708" stop-color="#9e9e9e"/><stop offset=".7215" stop-color="#7f7f7f"/><stop offset=".7854" stop-color="#777777"/><stop offset=".8174" stop-color="#757575"/><stop offset="1" stop-color="#737373"/></linearGradient><linearGradient id="g512" gradientUnits="userSpaceOnUse" x1="0" x2="219.4" y1="0" y2="0"><stop offset="0" stop-color="#d9d9d9"/><stop offset=".105" stop-color="#e5e5e5"/><stop offset=".1735" stop-color="#eaeaea"/><stop offset=".2831" stop-color="#ededed"/><stop offset=".3151" stop-color="#e7e7e7"/><stop offset=".3744" stop-color="#d6d6d6"/><stop offset=".4977" stop-color="#b9b9b9"/><stop offset=".5708" stop-color="#a3a3a3"/><stop offset=".7352" stop-color="#808080"/><stop offset=".8082" stop-color="#787878"/><stop offset="1" stop-color="#757575"/></linearGradient><linearGradient id="g513" gradientUnits="userSpaceOnUse" x1="0" x2="219.4" y1="0" y2="0"><stop offset="0" stop-color="#dedede"/><stop offset=".0639" stop-color="#eaeaea"/><stop offset=".137" stop-color="#f1f1f1"/><stop offset=".2192" stop-color="#f2f2f2"/><stop offset=".2694" stop-color="#eeeeee"/><stop offset=".3105" stop-color="#e7e7e7"/><stop offset=".3744" stop-color="#d6d6d6"/><stop offset=".4977" stop-color="#b9b9b9"/><stop offset=".5753" stop-color="#a4a4a4"/><stop offset=".7397" stop-color="#828282"/><stop offset=".8174" stop-color="#7a7a7a"/><stop offset="1" stop-color="#787878"/></linearGradient><linearGradient id="g514" gradientUnits="userSpaceOnUse" x1="0" x2="219.4" y1="0" y2="0"><stop offset="0" stop-color="#e6e6e6"/><stop offset=".0411" stop-color="#efefef"/><stop offset=".0913" stop-color="#f5f5f5"/><stop offset=".1279" stop-color="#f7f7f7"/><stop offset=".2055" stop-color="#f7f7f7"/><stop offset=".2283" stop-color="#f1f1f1"/><stop offset=".274" stop-color="#e0e0e0"/><stop offset=".5799" stop-color="#9b9b9b"/><stop offset=".7169" stop-color="#828282"/><stop offset=".7671" stop-color="#7b7b7b"/><stop offset=".8082" stop-color="#787878"/><stop offset="1" stop-color="#757575"/></linearGradient><linearGradient id="g515" gradientUnits="userSpaceOnUse" x1="0" x2="219.4" y1="0" y2="0"><stop offset="0" stop-color="#ededed"/><stop offset=".1142" stop-color="#ebebeb"/><stop offset=".2009" stop-color="#e5e5e5"/><stop offset=".2237" stop-color="#dfdfdf"/><stop offset=".2603" stop-color="#d0d0d0"/><stop offset=".2831" stop-color="#c9c9c9"/><stop offset=".3653" stop-color="#b7b7b7"/><stop offset=".5571" stop-color="#949494"/><stop offset=".7215" stop-color="#7a7a7a"/><stop offset=".7945" stop-color="#737373"/><stop offset="1" stop-color="#737373"/></linearGradient><linearGradient id="g516" gradientUnits="userSpaceOnUse" x1="0" x2="219.4" y1="0" y2="0"><stop offset="0" stop-color="#4c4c4c"/><stop offset=".1918" stop-color="#4c4c4c"/><stop offset=".2009" stop-color="#4e4e4e"/><stop offset=".2055" stop-color="#505050"/><stop offset=".2146" stop-color="#595959"/><stop offset=".2511" stop-color="#8e8e8e"/><stop offset=".2603" stop-color="#989898"/><stop offset=".274" stop-color="#9e9e9e"/><stop offset=".4018" stop-color="#9d9d9d"/><stop offset=".4521" stop-color="#979797"/><stop offset=".5708" stop-color="#828282"/><stop offset=".7717" stop-color="#696969"/><stop offset=".9087" stop-color="#626262"/><stop offset="1" stop-color="#616161"/></linearGradient><linearGradient id="g517" gradientUnits="userSpaceOnUse" x1="0" x2="219.4" y1="0" y2="0"><stop offset="0" stop-color="#1f1f1f"/><stop offset=".2009" stop-color="#202020"/><stop offset=".2055" stop-color="#222222"/><stop offset=".2146" stop-color="#2a2a2a"/><stop offset=".2511" stop-color="#5c5c5c"/><stop offset=".2648" stop-color="#696969"/><stop offset=".2694" stop-color="#6b6b6b"/><stop offset=".4201" stop-color="#6a6a6a"/><stop offset=".7808" stop-color="#4d4d4d"/><stop offset="1" stop-color="#4c4c4c"/></linearGradient><linearGradient id="g518" gradientUnits="userSpaceOnUse" x1="0" x2="219.4" y1="0" y2="0"><stop offset="0" stop-color="#0f0f0f"/><stop offset=".1963" stop-color="#0f0f0f"/><stop offset=".21" stop-color="#141414"/><stop offset=".2192" stop-color="#1a1a1a"/><stop offset=".2466" stop-color="#333333"/><stop offset=".2603" stop-color="#3c3c3c"/><stop offset=".274" stop-color="#404040"/><stop offset=".3927" stop-color="#404040"/><stop offset=".5799" stop-color="#383838"/><stop offset=".7671" stop-color="#333333"/><stop offset="1" stop-color="#333333"/></linearGradient><linearGradient id="g519" gradientUnits="userSpaceOnUse" x1="0" x2="219.4" y1="0" y2="0"><stop offset="0" stop-color="#080808"/><stop offset=".2009" stop-color="#080808"/><stop offset=".2237" stop-color="#0e0e0e"/><stop offset=".2557" stop-color="#1b1b1b"/><stop offset=".274" stop-color="#1f1f1f"/><stop offset=".3242" stop-color="#212121"/><stop offset=".4384" stop-color="#212121"/><stop offset=".5023" stop-color="#1f1f1f"/><stop offset=".9132" stop-color="#1f1f1f"/><stop offset="1" stop-color="#212121"/></linearGradient><linearGradient id="g520" gradientUnits="userSpaceOnUse" x1="0" x2="219.4" y1="0" y2="0"><stop offset="0" stop-color="#050505"/><stop offset=".2009" stop-color="#050505"/><stop offset=".2648" stop-color="#0f0f0f"/><stop offset=".3379" stop-color="#121212"/><stop offset=".895" stop-color="#121212"/><stop offset="1" stop-color="#141414"/></linearGradient><linearGradient id="g521" gradientUnits="userSpaceOnUse" x1="0" x2="219.4" y1="0" y2="0"><stop offset="0" stop-color="#0f0f0f"/><stop offset=".2009" stop-color="#0d0d0d"/><stop offset=".3333" stop-color="#030303"/><stop offset=".8174" stop-color="#030303"/><stop offset="1" stop-color="#050505"/></linearGradient><linearGradient id="g522" gradientUnits="userSpaceOnUse" x1="0" x2="219.4" y1="0" y2="0"><stop offset="0" stop-color="#292929"/><stop offset=".3014" stop-color="#111111"/><stop offset=".347" stop-color="#0f0f0f"/><stop offset=".4247" stop-color="#101010"/><stop offset=".6073" stop-color="#1a1a1a"/><stop offset=".7626" stop-color="#272727"/><stop offset=".8584" stop-color="#343434"/><stop offset="1" stop-color="#4c4c4c"/></linearGradient><linearGradient id="g523" gradientUnits="userSpaceOnUse" x1="0" x2="219.4" y1="0" y2="0"><stop offset="0" stop-color="#2b2b2b"/><stop offset=".1963" stop-color="#1f1f1f"/><stop offset=".3379" stop-color="#121212"/><stop offset=".484" stop-color="#141414"/><stop offset=".6256" stop-color="#1b1b1b"/><stop offset=".7626" stop-color="#272727"/><stop offset=".8584" stop-color="#343434"/><stop offset="1" stop-color="#4c4c4c"/></linearGradient><linearGradient id="g524" gradientUnits="userSpaceOnUse" x1="0" x2="219.4" y1="0" y2="0"><stop offset="0" stop-color="#212121"/><stop offset=".3014" stop-color="#151515"/><stop offset=".379" stop-color="#141414"/><stop offset=".4749" stop-color="#181818"/><stop offset=".6849" stop-color="#282828"/><stop offset=".7763" stop-color="#333333"/><stop offset=".8174" stop-color="#3c3c3c"/><stop offset=".8995" stop-color="#585858"/><stop offset=".9543" stop-color="#727272"/><stop offset=".9909" stop-color="#7e7e7e"/><stop offset="1" stop-color="#7f7f7f"/></linearGradient><linearGradient id="g525" gradientUnits="userSpaceOnUse" x1="0" x2="219.4" y1="0" y2="0"><stop offset="0" stop-color="#0f0f0f"/><stop offset=".1507" stop-color="#0a0a0a"/><stop offset=".3516" stop-color="#0c0c0c"/><stop offset=".4932" stop-color="#111111"/><stop offset=".7123" stop-color="#1f1f1f"/><stop offset=".79" stop-color="#282828"/><stop offset=".8402" stop-color="#333333"/><stop offset=".8676" stop-color="#3b3b3b"/><stop offset=".9087" stop-color="#4b4b4b"/><stop offset=".9361" stop-color="#5c5c5c"/><stop offset=".9589" stop-color="#676767"/><stop offset="1" stop-color="#737373"/></linearGradient><linearGradient id="g526" gradientUnits="userSpaceOnUse" x1="0" x2="219.4" y1="0" y2="0"><stop offset="0" stop-color="#000000"/><stop offset=".0959" stop-color="#010101"/><stop offset=".2146" stop-color="#060606"/><stop offset=".3653" stop-color="#1a1a1a"/><stop offset=".6895" stop-color="#373737"/><stop offset=".7808" stop-color="#464646"/><stop offset=".7991" stop-color="#4c4c4c"/><stop offset=".8265" stop-color="#595959"/><stop offset=".8676" stop-color="#747474"/><stop offset=".8858" stop-color="#858585"/><stop offset=".9178" stop-color="#adadad"/><stop offset=".9543" stop-color="#d4d4d4"/><stop offset=".9726" stop-color="#e4e4e4"/><stop offset=".9909" stop-color="#efefef"/><stop offset="1" stop-color="#f2f2f2"/></linearGradient><linearGradient id="g527" gradientUnits="userSpaceOnUse" x1="0" x2="219.4" y1="0" y2="0"><stop offset="0" stop-color="#000000"/><stop offset=".2192" stop-color="#000000"/><stop offset=".3516" stop-color="#0a0a0a"/><stop offset=".5297" stop-color="#0f0f0f"/><stop offset=".6804" stop-color="#161616"/><stop offset=".7808" stop-color="#1f1f1f"/><stop offset=".8402" stop-color="#2e2e2e"/><stop offset=".8858" stop-color="#424242"/><stop offset=".9361" stop-color="#676767"/><stop offset=".9726" stop-color="#8a8a8a"/><stop offset=".9909" stop-color="#969696"/><stop offset="1" stop-color="#999999"/></linearGradient><linearGradient id="g528" gradientUnits="userSpaceOnUse" x1="0" x2="219.4" y1="0" y2="0"><stop offset="0" stop-color="#000000"/><stop offset=".2511" stop-color="#000000"/><stop offset=".3653" stop-color="#030303"/><stop offset=".5479" stop-color="#040404"/><stop offset=".7078" stop-color="#070707"/><stop offset=".79" stop-color="#0b0b0b"/><stop offset=".8128" stop-color="#0e0e0e"/><stop offset=".8767" stop-color="#1c1c1c"/><stop offset=".9132" stop-color="#292929"/><stop offset=".9361" stop-color="#343434"/><stop offset=".968" stop-color="#4b4b4b"/><stop offset="1" stop-color="#4c4c4c"/></linearGradient><linearGradient id="g529" gradientUnits="userSpaceOnUse" x1="0" x2="219.4" y1="0" y2="0"><stop offset="0" stop-color="#000000"/><stop offset=".8311" stop-color="#000000"/><stop offset=".8584" stop-color="#030303"/><stop offset=".9269" stop-color="#0f0f0f"/><stop offset="1" stop-color="#1f1f1f"/></linearGradient><linearGradient id="g530" gradientUnits="userSpaceOnUse" x1="0" x2="219.4" y1="0" y2="0"><stop offset="0" stop-color="#000000"/><stop offset=".9315" stop-color="#000000"/><stop offset="1" stop-color="#050505"/></linearGradient><linearGradient id="g531" gradientUnits="userSpaceOnUse" x1="0" x2="219.4" y1="0" y2="0"><stop offset="0" stop-color="#050505"/><stop offset=".2283" stop-color="#050505"/><stop offset=".3333" stop-color="#000000"/><stop offset="1" stop-color="#000000"/></linearGradient><linearGradient id="g532" gradientUnits="userSpaceOnUse" x1="0" x2="219.4" y1="0" y2="0"><stop offset="0" stop-color="#0f0f0f"/><stop offset=".2283" stop-color="#0f0f0f"/><stop offset=".3333" stop-color="#080808"/><stop offset="1" stop-color="#080808"/></linearGradient><linearGradient id="g533" gradientUnits="userSpaceOnUse" x1="0" x2="219.4" y1="0" y2="0"><stop offset="0" stop-color="#141414"/><stop offset=".2603" stop-color="#141414"/><stop offset=".3105" stop-color="#121212"/><stop offset=".7717" stop-color="#141414"/><stop offset="1" stop-color="#0f0f0f"/></linearGradient><linearGradient id="g534" gradientUnits="userSpaceOnUse" x1="0" x2="219.4" y1="0" y2="0"><stop offset="0" stop-color="#1f1f1f"/><stop offset=".2055" stop-color="#1f1f1f"/><stop offset=".3196" stop-color="#1a1a1a"/><stop offset=".7534" stop-color="#191919"/><stop offset="1" stop-color="#141414"/></linearGradient><linearGradient id="g535" gradientUnits="userSpaceOnUse" x1="0" x2="219.4" y1="0" y2="0"><stop offset="0" stop-color="#1a1a1a"/><stop offset=".0776" stop-color="#1a1a1a"/><stop offset=".21" stop-color="#1f1f1f"/><stop offset=".3242" stop-color="#2f2f2f"/><stop offset=".4429" stop-color="#393939"/><stop offset=".5342" stop-color="#3e3e3e"/><stop offset=".7215" stop-color="#444444"/><stop offset=".8584" stop-color="#444444"/><stop offset=".9315" stop-color="#3d3d3d"/><stop offset="1" stop-color="#333333"/></linearGradient><linearGradient id="g536" gradientUnits="userSpaceOnUse" x1="0" x2="219.4" y1="0" y2="0"><stop offset="0" stop-color="#262626"/><stop offset=".1735" stop-color="#313131"/><stop offset=".3607" stop-color="#404040"/><stop offset=".7397" stop-color="#4c4c4c"/><stop offset=".8676" stop-color="#4b4b4b"/><stop offset=".9132" stop-color="#464646"/><stop offset="1" stop-color="#383838"/></linearGradient><linearGradient id="g537" gradientUnits="userSpaceOnUse" x1="0" x2="219.4" y1="0" y2="0"><stop offset="0" stop-color="#454545"/><stop offset=".1279" stop-color="#4c4c4c"/><stop offset=".242" stop-color="#4c4c4c"/><stop offset=".3516" stop-color="#474747"/><stop offset=".5297" stop-color="#4c4c4c"/><stop offset=".8584" stop-color="#4c4c4c"/><stop offset="1" stop-color="#404040"/></linearGradient><linearGradient id="g538" gradientUnits="userSpaceOnUse" x1="0" x2="219.4" y1="0" y2="0"><stop offset="0" stop-color="#454545"/><stop offset=".1142" stop-color="#474747"/><stop offset=".2009" stop-color="#4d4d4d"/><stop offset=".2146" stop-color="#505050"/><stop offset=".2694" stop-color="#656565"/><stop offset=".3196" stop-color="#747474"/><stop offset=".4155" stop-color="#8c8c8c"/><stop offset=".4932" stop-color="#9d9d9d"/><stop offset=".5936" stop-color="#aeaeae"/><stop offset=".7078" stop-color="#bcbcbc"/><stop offset=".7489" stop-color="#bfbfbf"/><stop offset=".7854" stop-color="#bfbfbf"/><stop offset=".8082" stop-color="#b9b9b9"/><stop offset=".8356" stop-color="#adadad"/><stop offset=".8858" stop-color="#8e8e8e"/><stop offset=".9406" stop-color="#707070"/><stop offset="1" stop-color="#4c4c4c"/></linearGradient><linearGradient id="g539" gradientUnits="userSpaceOnUse" x1="0" x2="219.4" y1="0" y2="0"><stop offset="0" stop-color="#1f1f1f"/><stop offset=".032" stop-color="#1f1f1f"/><stop offset=".0868" stop-color="#232323"/><stop offset=".1918" stop-color="#323232"/><stop offset=".21" stop-color="#363636"/><stop offset=".3151" stop-color="#5a5a5a"/><stop offset=".3744" stop-color="#686868"/><stop offset=".4703" stop-color="#777777"/><stop offset=".5571" stop-color="#7f7f7f"/><stop offset=".79" stop-color="#7f7f7f"/><stop offset=".8219" stop-color="#787878"/><stop offset=".8995" stop-color="#5c5c5c"/><stop offset="1" stop-color="#474747"/></linearGradient><linearGradient id="g540" gradientUnits="userSpaceOnUse" x1="0" x2="219.4" y1="0" y2="0"><stop offset="0" stop-color="#080808"/><stop offset=".0822" stop-color="#080808"/><stop offset=".2009" stop-color="#0d0d0d"/><stop offset=".2192" stop-color="#121212"/><stop offset=".2603" stop-color="#232323"/><stop offset=".2968" stop-color="#2b2b2b"/><stop offset=".3836" stop-color="#353535"/><stop offset=".5342" stop-color="#3f3f3f"/><stop offset=".7854" stop-color="#404040"/><stop offset=".8995" stop-color="#333333"/><stop offset="1" stop-color="#333333"/></linearGradient><linearGradient id="g541" gradientUnits="userSpaceOnUse" x1="0" x2="219.4" y1="0" y2="0"><stop offset="0" stop-color="#000000"/><stop offset=".2146" stop-color="#000000"/><stop offset=".3379" stop-color="#0a0a0a"/><stop offset="1" stop-color="#0a0a0a"/></linearGradient><linearGradient id="g542" gradientUnits="userSpaceOnUse" x1="0" x2="219.4" y1="0" y2="0"><stop offset="0" stop-color="#030303"/><stop offset=".2055" stop-color="#030303"/><stop offset=".3196" stop-color="#000000"/><stop offset="1" stop-color="#000000"/></linearGradient><linearGradient id="g543" gradientUnits="userSpaceOnUse" x1="0" x2="219.4" y1="0" y2="0"><stop offset="0" stop-color="#0d0d0d"/><stop offset=".2192" stop-color="#0d0d0d"/><stop offset=".3379" stop-color="#080808"/><stop offset=".5982" stop-color="#020202"/><stop offset="1" stop-color="#000000"/></linearGradient><linearGradient id="g544" gradientUnits="userSpaceOnUse" x1="0" x2="219.4" y1="0" y2="0"><stop offset="0" stop-color="#1a1a1a"/><stop offset=".0776" stop-color="#1a1a1a"/><stop offset=".1689" stop-color="#1d1d1d"/><stop offset=".2055" stop-color="#1f1f1f"/><stop offset=".2603" stop-color="#262626"/><stop offset=".2922" stop-color="#262626"/><stop offset=".3927" stop-color="#1c1c1c"/><stop offset=".589" stop-color="#0f0f0f"/><stop offset=".7854" stop-color="#080808"/><stop offset="1" stop-color="#050505"/></linearGradient><linearGradient id="g545" gradientUnits="userSpaceOnUse" x1="0" x2="219.4" y1="0" y2="0"><stop offset="0" stop-color="#383838"/><stop offset=".2146" stop-color="#383838"/><stop offset=".2785" stop-color="#333333"/><stop offset=".347" stop-color="#282828"/><stop offset=".3927" stop-color="#232323"/><stop offset=".5434" stop-color="#171717"/><stop offset=".7854" stop-color="#0b0b0b"/><stop offset="1" stop-color="#050505"/></linearGradient><linearGradient id="g546" gradientUnits="userSpaceOnUse" x1="0" x2="219.4" y1="0" y2="0"><stop offset="0" stop-color="#404040"/><stop offset=".137" stop-color="#424242"/><stop offset=".2009" stop-color="#454545"/><stop offset=".2557" stop-color="#4c4c4c"/><stop offset=".2922" stop-color="#4c4c4c"/><stop offset=".4932" stop-color="#2b2b2b"/><stop offset=".5845" stop-color="#1f1f1f"/><stop offset=".7443" stop-color="#131313"/><stop offset=".9224" stop-color="#0a0a0a"/><stop offset="1" stop-color="#080808"/></linearGradient><linearGradient id="g547" gradientUnits="userSpaceOnUse" x1="0" x2="219.4" y1="0" y2="0"><stop offset="0" stop-color="#4c4c4c"/><stop offset=".1142" stop-color="#515151"/><stop offset=".2785" stop-color="#525252"/><stop offset=".3151" stop-color="#4d4d4d"/><stop offset=".3699" stop-color="#414141"/><stop offset=".4384" stop-color="#363636"/><stop offset=".5799" stop-color="#222222"/><stop offset=".7123" stop-color="#161616"/><stop offset=".8174" stop-color="#0f0f0f"/><stop offset="1" stop-color="#080808"/></linearGradient><linearGradient id="g548" gradientUnits="userSpaceOnUse" x1="0" x2="219.4" y1="0" y2="0"><stop offset="0" stop-color="#999999"/><stop offset=".1963" stop-color="#999999"/><stop offset=".2055" stop-color="#979797"/><stop offset=".2192" stop-color="#909090"/><stop offset=".2557" stop-color="#717171"/><stop offset=".2694" stop-color="#686868"/><stop offset=".3242" stop-color="#525252"/><stop offset=".3973" stop-color="#404040"/><stop offset=".5114" stop-color="#2d2d2d"/><stop offset=".6712" stop-color="#1c1c1c"/><stop offset=".8904" stop-color="#0d0d0d"/><stop offset="1" stop-color="#080808"/></linearGradient><linearGradient id="g549" gradientUnits="userSpaceOnUse" x1="0" x2="219.4" y1="0" y2="0"><stop offset="0" stop-color="#9e9e9e"/><stop offset=".0913" stop-color="#a5a5a5"/><stop offset=".1963" stop-color="#a6a6a6"/><stop offset=".21" stop-color="#a3a3a3"/><stop offset=".2237" stop-color="#9d9d9d"/><stop offset=".2648" stop-color="#838383"/><stop offset=".3014" stop-color="#767676"/><stop offset=".4338" stop-color="#555555"/><stop offset=".5297" stop-color="#414141"/><stop offset=".5982" stop-color="#373737"/><stop offset=".6621" stop-color="#313131"/><stop offset="1" stop-color="#1a1a1a"/></linearGradient><linearGradient id="g550" gradientUnits="userSpaceOnUse" x1="0" x2="219.4" y1="0" y2="0"><stop offset="0" stop-color="#666666"/><stop offset=".0502" stop-color="#6e6e6e"/><stop offset=".0868" stop-color="#717171"/><stop offset=".2009" stop-color="#737373"/><stop offset=".242" stop-color="#6d6d6d"/><stop offset=".3744" stop-color="#525252"/><stop offset=".5525" stop-color="#373737"/><stop offset=".653" stop-color="#2d2d2d"/><stop offset="1" stop-color="#141414"/></linearGradient><linearGradient id="g551" gradientUnits="userSpaceOnUse" x1="0" x2="219.4" y1="0" y2="0"><stop offset="0" stop-color="#404040"/><stop offset=".0685" stop-color="#474747"/><stop offset=".1461" stop-color="#4c4c4c"/><stop offset=".2877" stop-color="#4c4c4c"/><stop offset=".4064" stop-color="#3a3a3a"/><stop offset=".5662" stop-color="#282828"/><stop offset="1" stop-color="#0f0f0f"/></linearGradient><linearGradient id="g552" gradientUnits="userSpaceOnUse" x1="0" x2="219.4" y1="0" y2="0"><stop offset="0" stop-color="#1a1a1a"/><stop offset=".0594" stop-color="#202020"/><stop offset=".1553" stop-color="#262626"/><stop offset=".2922" stop-color="#262626"/><stop offset=".3836" stop-color="#1d1d1d"/><stop offset=".5388" stop-color="#161616"/><stop offset=".79" stop-color="#0d0d0d"/><stop offset="1" stop-color="#0a0a0a"/></linearGradient><linearGradient id="g553" gradientUnits="userSpaceOnUse" x1="0" x2="219.4" y1="0" y2="0"><stop offset="0" stop-color="#080808"/><stop offset=".1598" stop-color="#0d0d0d"/><stop offset=".2922" stop-color="#0d0d0d"/><stop offset=".3562" stop-color="#0a0a0a"/><stop offset=".7534" stop-color="#050505"/><stop offset="1" stop-color="#050505"/></linearGradient></defs><g transform="translate(101.26 55.65)"><g filter="url(#jet)"><rect width="437.6" height="420.8" fill="#000"/><g id="fa" clip-path="url(#cla)"><rect x="-3" y="-3" width="225.4" height="8" fill="#888888"/><rect x="-3" y="0" width="225.4" height="10" fill="url(#g1)" mask="url(#vm)"/><rect x="-3" y="5" width="225.4" height="10" fill="url(#g2)" mask="url(#vm)"/><rect x="-3" y="10" width="225.4" height="10" fill="url(#g3)" mask="url(#vm)"/><rect x="-3" y="15" width="225.4" height="10" fill="url(#g4)" mask="url(#vm)"/><rect x="-3" y="20" width="225.4" height="10" fill="url(#g5)" mask="url(#vm)"/><rect x="-3" y="25" width="225.4" height="10" fill="url(#g6)" mask="url(#vm)"/><rect x="-3" y="30" width="225.4" height="10" fill="url(#g7)" mask="url(#vm)"/><rect x="-3" y="35" width="225.4" height="10" fill="url(#g8)" mask="url(#vm)"/><rect x="-3" y="40" width="225.4" height="10" fill="url(#g9)" mask="url(#vm)"/><rect x="-3" y="45" width="225.4" height="10" fill="url(#g10)" mask="url(#vm)"/><rect x="-3" y="50" width="225.4" height="10" fill="url(#g11)" mask="url(#vm)"/><rect x="-3" y="55" width="225.4" height="10" fill="url(#g12)" mask="url(#vm)"/><rect x="-3" y="60" width="225.4" height="10" fill="url(#g13)" mask="url(#vm)"/><rect x="-3" y="65" width="225.4" height="10" fill="url(#g14)" mask="url(#vm)"/><rect x="-3" y="70" width="225.4" height="10" fill="url(#g15)" mask="url(#vm)"/><rect x="-3" y="75" width="225.4" height="10" fill="url(#g16)" mask="url(#vm)"/><rect x="-3" y="80" width="225.4" height="10" fill="url(#g17)" mask="url(#vm)"/><rect x="-3" y="85" width="225.4" height="10" fill="url(#g18)" mask="url(#vm)"/><rect x="-3" y="90" width="225.4" height="10" fill="url(#g19)" mask="url(#vm)"/><rect x="-3" y="95" width="225.4" height="10" fill="url(#g20)" mask="url(#vm)"/><rect x="-3" y="100" width="225.4" height="10" fill="url(#g21)" mask="url(#vm)"/><rect x="-3" y="105" width="225.4" height="10" fill="url(#g22)" mask="url(#vm)"/><rect x="-3" y="110" width="225.4" height="10" fill="url(#g23)" mask="url(#vm)"/><rect x="-3" y="115" width="225.4" height="10" fill="url(#g24)" mask="url(#vm)"/><rect x="-3" y="120" width="225.4" height="10" fill="url(#g25)" mask="url(#vm)"/><rect x="-3" y="125" width="225.4" height="10" fill="url(#g26)" mask="url(#vm)"/><rect x="-3" y="130" width="225.4" height="10" fill="url(#g27)" mask="url(#vm)"/><rect x="-3" y="135" width="225.4" height="10" fill="url(#g28)" mask="url(#vm)"/><rect x="-3" y="140" width="225.4" height="10" fill="url(#g29)" mask="url(#vm)"/><rect x="-3" y="145" width="225.4" height="10" fill="url(#g30)" mask="url(#vm)"/><rect x="-3" y="150" width="225.4" height="10" fill="url(#g31)" mask="url(#vm)"/><rect x="-3" y="155" width="225.4" height="10" fill="url(#g32)" mask="url(#vm)"/><rect x="-3" y="160" width="225.4" height="10" fill="url(#g33)" mask="url(#vm)"/><rect x="-3" y="165" width="225.4" height="10" fill="url(#g34)" mask="url(#vm)"/><rect x="-3" y="170" width="225.4" height="10" fill="url(#g35)" mask="url(#vm)"/><rect x="-3" y="175" width="225.4" height="10" fill="url(#g36)" mask="url(#vm)"/><rect x="-3" y="180" width="225.4" height="10" fill="url(#g37)" mask="url(#vm)"/><rect x="-3" y="185" width="225.4" height="10" fill="url(#g38)" mask="url(#vm)"/><rect x="-3" y="190" width="225.4" height="10" fill="url(#g39)" mask="url(#vm)"/><rect x="-3" y="195" width="225.4" height="10" fill="url(#g40)" mask="url(#vm)"/><rect x="-3" y="200" width="225.4" height="10" fill="url(#g41)" mask="url(#vm)"/><rect x="-3" y="205" width="225.4" height="10" fill="url(#g42)" mask="url(#vm)"/><rect x="-3" y="210" width="225.4" height="10" fill="url(#g43)" mask="url(#vm)"/><rect x="-3" y="215" width="225.4" height="10" fill="url(#g44)" mask="url(#vm)"/><rect x="-3" y="220" width="225.4" height="10" fill="url(#g45)" mask="url(#vm)"/><rect x="-3" y="225" width="225.4" height="10" fill="url(#g46)" mask="url(#vm)"/><rect x="-3" y="230" width="225.4" height="10" fill="url(#g47)" mask="url(#vm)"/><rect x="-3" y="235" width="225.4" height="10" fill="url(#g48)" mask="url(#vm)"/><rect x="-3" y="240" width="225.4" height="10" fill="url(#g49)" mask="url(#vm)"/><rect x="-3" y="245" width="225.4" height="10" fill="url(#g50)" mask="url(#vm)"/><rect x="-3" y="250" width="225.4" height="10" fill="url(#g51)" mask="url(#vm)"/><rect x="-3" y="255" width="225.4" height="10" fill="url(#g52)" mask="url(#vm)"/><rect x="-3" y="260" width="225.4" height="10" fill="url(#g53)" mask="url(#vm)"/><rect x="-3" y="265" width="225.4" height="10" fill="url(#g54)" mask="url(#vm)"/><rect x="-3" y="270" width="225.4" height="10" fill="url(#g55)" mask="url(#vm)"/><rect x="-3" y="275" width="225.4" height="10" fill="#000000" mask="url(#vm)"/><rect x="-3" y="280" width="225.4" height="10" fill="#000000" mask="url(#vm)"/><rect x="-3" y="285" width="225.4" height="10" fill="#000000" mask="url(#vm)"/><rect x="-3" y="290" width="225.4" height="10" fill="#000000" mask="url(#vm)"/><rect x="-3" y="295" width="225.4" height="10" fill="#000000" mask="url(#vm)"/><rect x="-3" y="300" width="225.4" height="10" fill="#000000" mask="url(#vm)"/><rect x="-3" y="305" width="225.4" height="10" fill="#000000" mask="url(#vm)"/><rect x="-3" y="310" width="225.4" height="10" fill="#000000" mask="url(#vm)"/><rect x="-3" y="315" width="225.4" height="10" fill="#000000" mask="url(#vm)"/><rect x="-3" y="320" width="225.4" height="10" fill="#000000" mask="url(#vm)"/><rect x="-3" y="325" width="225.4" height="10" fill="#000000" mask="url(#vm)"/><rect x="-3" y="330" width="225.4" height="10" fill="#000000" mask="url(#vm)"/><rect x="-3" y="335" width="225.4" height="10" fill="#000000" mask="url(#vm)"/><rect x="-3" y="340" width="225.4" height="10" fill="#000000" mask="url(#vm)"/><rect x="-3" y="345" width="225.4" height="10" fill="#000000" mask="url(#vm)"/><rect x="-3" y="350" width="225.4" height="10" fill="#000000" mask="url(#vm)"/><rect x="-3" y="355" width="225.4" height="10" fill="#000000" mask="url(#vm)"/><rect x="-3" y="360" width="225.4" height="10" fill="#000000" mask="url(#vm)"/><rect x="-3" y="365" width="225.4" height="10" fill="#000000" mask="url(#vm)"/><rect x="-3" y="370" width="225.4" height="10" fill="#000000" mask="url(#vm)"/><rect x="-3" y="375" width="225.4" height="10" fill="#000000" mask="url(#vm)"/><rect x="-3" y="380" width="225.4" height="10" fill="#000000" mask="url(#vm)"/><rect x="-3" y="385" width="225.4" height="10" fill="#000000" mask="url(#vm)"/><rect x="-3" y="390" width="225.4" height="10" fill="#000000" mask="url(#vm)"/><rect x="-3" y="395" width="225.4" height="10" fill="#000000" mask="url(#vm)"/><rect x="-3" y="400" width="225.4" height="10" fill="#000000" mask="url(#vm)"/><rect x="-3" y="405" width="225.4" height="10" fill="#000000" mask="url(#vm)"/><rect x="-3" y="410" width="225.4" height="10" fill="#000000" mask="url(#vm)"/><rect x="-3" y="415" width="225.4" height="10" fill="#000000" mask="url(#vm)"/><rect x="-3" y="420" width="225.4" height="10" fill="#000000" mask="url(#vm)"/><rect x="-3" width="48.8" y="235.75" height="15" fill="url(#g56)"/><rect x="-3" width="48.8" y="235.75" height="15" fill="url(#g57)" mask="url(#vm2)"/><rect x="-3" width="48.8" y="250.75" height="8.8" fill="url(#g58)"/><rect x="-3" width="48.8" y="250.75" height="8.8" fill="url(#g59)" mask="url(#vm2)"/><rect x="-3" width="48.8" y="259.55" height="11.9" fill="url(#g60)"/><rect x="-3" width="48.8" y="259.55" height="11.9" fill="url(#g61)" mask="url(#vm2)"/><rect x="-3" width="48.8" y="271.45" height="10.95" fill="url(#g62)"/><rect x="-3" width="48.8" y="271.45" height="21.9" fill="url(#g63)" mask="url(#vm)"/><rect x="-3" width="48.8" y="282.4" height="10.95" fill="url(#g64)" mask="url(#vm2)"/><rect x="-3" width="48.8" y="293.35" height="21.9" fill="url(#g65)"/><rect x="-3" width="48.8" y="293.35" height="21.9" fill="url(#g66)" mask="url(#vm2)"/><g clip-path="url(#cs)"><g transform="matrix(1 -1.2886 0 1 0 55.154)"><rect x="39.8" width="182" y="235.75" height="15" fill="url(#g56)"/><rect x="39.8" width="182" y="235.75" height="15" fill="url(#g57)" mask="url(#vm2)"/><rect x="39.8" width="182" y="250.75" height="8.8" fill="url(#g58)"/><rect x="39.8" width="182" y="250.75" height="8.8" fill="url(#g59)" mask="url(#vm2)"/><rect x="39.8" width="182" y="259.55" height="11.9" fill="url(#g60)"/><rect x="39.8" width="182" y="259.55" height="11.9" fill="url(#g61)" mask="url(#vm2)"/><rect x="39.8" width="182" y="271.45" height="10.95" fill="url(#g62)"/><rect x="39.8" width="182" y="271.45" height="21.9" fill="url(#g63)" mask="url(#vm)"/><rect x="39.8" width="182" y="282.4" height="10.95" fill="url(#g64)" mask="url(#vm2)"/><rect x="39.8" width="182" y="293.35" height="21.9" fill="url(#g65)"/><rect x="39.8" width="182" y="293.35" height="21.9" fill="url(#g66)" mask="url(#vm2)"/></g></g></g><use href="#fa" transform="translate(437.6 0) scale(-1 1)"/></g><use href="#ax"/><use href="#wl"/><rect x="459.9" y=".3" width="34.8" height="420.3" fill="url(#cbjet)" stroke="#000" stroke-width="1.3"/><use href="#ct"/><text x="511.4" y="427.1" font-size="18.6">0.0</text><text x="511.4" y="357.18" font-size="18.6">0.3</text><text x="511.4" y="287.27" font-size="18.6">0.6</text><text x="511.4" y="217.35" font-size="18.6">0.9</text><text x="511.4" y="147.43" font-size="18.6">1.2</text><text x="511.4" y="77.52" font-size="18.6">1.5</text><text x="511.4" y="7.6" font-size="18.6">1.8</text><text x="477.4" y="-15.5" font-size="26.8" text-anchor="middle">E</text><use href="#tl"/></g><text x="5.5" y="32.8" font-size="39.5">(a)</text><g transform="translate(779.06 55.77)"><g filter="url(#jet)"><rect width="437.6" height="420.8" fill="#000"/><g id="fb" clip-path="url(#clb)"><rect x="-3" y="-3" width="225.4" height="8" fill="url(#g67)"/><rect x="-3" y="0" width="225.4" height="10" fill="url(#g68)" mask="url(#vm)"/><rect x="-3" y="5" width="225.4" height="10" fill="url(#g69)" mask="url(#vm)"/><rect x="-3" y="10" width="225.4" height="10" fill="url(#g70)" mask="url(#vm)"/><rect x="-3" y="15" width="225.4" height="10" fill="url(#g71)" mask="url(#vm)"/><rect x="-3" y="20" width="225.4" height="10" fill="url(#g72)" mask="url(#vm)"/><rect x="-3" y="25" width="225.4" height="10" fill="url(#g73)" mask="url(#vm)"/><rect x="-3" y="30" width="225.4" height="10" fill="url(#g74)" mask="url(#vm)"/><rect x="-3" y="35" width="225.4" height="10" fill="url(#g75)" mask="url(#vm)"/><rect x="-3" y="40" width="225.4" height="10" fill="url(#g76)" mask="url(#vm)"/><rect x="-3" y="45" width="225.4" height="10" fill="url(#g77)" mask="url(#vm)"/><rect x="-3" y="50" width="225.4" height="10" fill="url(#g78)" mask="url(#vm)"/><rect x="-3" y="55" width="225.4" height="10" fill="url(#g79)" mask="url(#vm)"/><rect x="-3" y="60" width="225.4" height="10" fill="url(#g80)" mask="url(#vm)"/><rect x="-3" y="65" width="225.4" height="10" fill="url(#g81)" mask="url(#vm)"/><rect x="-3" y="70" width="225.4" height="10" fill="url(#g82)" mask="url(#vm)"/><rect x="-3" y="75" width="225.4" height="10" fill="url(#g83)" mask="url(#vm)"/><rect x="-3" y="80" width="225.4" height="10" fill="url(#g84)" mask="url(#vm)"/><rect x="-3" y="85" width="225.4" height="10" fill="url(#g85)" mask="url(#vm)"/><rect x="-3" y="90" width="225.4" height="10" fill="url(#g86)" mask="url(#vm)"/><rect x="-3" y="95" width="225.4" height="10" fill="url(#g87)" mask="url(#vm)"/><rect x="-3" y="100" width="225.4" height="10" fill="url(#g88)" mask="url(#vm)"/><rect x="-3" y="105" width="225.4" height="10" fill="url(#g89)" mask="url(#vm)"/><rect x="-3" y="110" width="225.4" height="10" fill="url(#g90)" mask="url(#vm)"/><rect x="-3" y="115" width="225.4" height="10" fill="url(#g91)" mask="url(#vm)"/><rect x="-3" y="120" width="225.4" height="10" fill="url(#g92)" mask="url(#vm)"/><rect x="-3" y="125" width="225.4" height="10" fill="url(#g93)" mask="url(#vm)"/><rect x="-3" y="130" width="225.4" height="10" fill="url(#g94)" mask="url(#vm)"/><rect x="-3" y="135" width="225.4" height="10" fill="url(#g95)" mask="url(#vm)"/><rect x="-3" y="140" width="225.4" height="10" fill="url(#g96)" mask="url(#vm)"/><rect x="-3" y="145" width="225.4" height="10" fill="url(#g97)" mask="url(#vm)"/><rect x="-3" y="150" width="225.4" height="10" fill="url(#g98)" mask="url(#vm)"/><rect x="-3" y="155" width="225.4" height="10" fill="url(#g99)" mask="url(#vm)"/><rect x="-3" y="160" width="225.4" height="10" fill="url(#g100)" mask="url(#vm)"/><rect x="-3" y="165" width="225.4" height="10" fill="url(#g101)" mask="url(#vm)"/><rect x="-3" y="170" width="225.4" height="10" fill="url(#g102)" mask="url(#vm)"/><rect x="-3" y="175" width="225.4" height="10" fill="url(#g103)" mask="url(#vm)"/><rect x="-3" y="180" width="225.4" height="10" fill="url(#g104)" mask="url(#vm)"/><rect x="-3" y="185" width="225.4" height="10" fill="url(#g105)" mask="url(#vm)"/><rect x="-3" y="190" width="225.4" height="10" fill="url(#g106)" mask="url(#vm)"/><rect x="-3" y="195" width="225.4" height="10" fill="url(#g107)" mask="url(#vm)"/><rect x="-3" y="200" width="225.4" height="10" fill="url(#g108)" mask="url(#vm)"/><rect x="-3" y="205" width="225.4" height="10" fill="url(#g109)" mask="url(#vm)"/><rect x="-3" y="210" width="225.4" height="10" fill="url(#g110)" mask="url(#vm)"/><rect x="-3" y="215" width="225.4" height="10" fill="url(#g111)" mask="url(#vm)"/><rect x="-3" y="220" width="225.4" height="10" fill="url(#g112)" mask="url(#vm)"/><rect x="-3" y="225" width="225.4" height="10" fill="url(#g113)" mask="url(#vm)"/><rect x="-3" y="230" width="225.4" height="10" fill="url(#g114)" mask="url(#vm)"/><rect x="-3" y="235" width="225.4" height="10" fill="url(#g115)" mask="url(#vm)"/><rect x="-3" y="240" width="225.4" height="10" fill="url(#g116)" mask="url(#vm)"/><rect x="-3" y="245" width="225.4" height="10" fill="url(#g117)" mask="url(#vm)"/><rect x="-3" y="250" width="225.4" height="10" fill="url(#g118)" mask="url(#vm)"/><rect x="-3" y="255" width="225.4" height="10" fill="url(#g119)" mask="url(#vm)"/><rect x="-3" y="260" width="225.4" height="10" fill="url(#g120)" mask="url(#vm)"/><rect x="-3" y="265" width="225.4" height="10" fill="url(#g121)" mask="url(#vm)"/><rect x="-3" y="270" width="225.4" height="10" fill="url(#g122)" mask="url(#vm)"/><rect x="-3" y="275" width="225.4" height="10" fill="url(#g123)" mask="url(#vm)"/><rect x="-3" y="280" width="225.4" height="10" fill="url(#g124)" mask="url(#vm)"/><rect x="-3" y="285" width="225.4" height="10" fill="url(#g125)" mask="url(#vm)"/><rect x="-3" y="290" width="225.4" height="10" fill="url(#g126)" mask="url(#vm)"/><rect x="-3" y="295" width="225.4" height="10" fill="url(#g127)" mask="url(#vm)"/><rect x="-3" y="300" width="225.4" height="10" fill="url(#g128)" mask="url(#vm)"/><rect x="-3" y="305" width="225.4" height="10" fill="url(#g129)" mask="url(#vm)"/><rect x="-3" y="310" width="225.4" height="10" fill="url(#g130)" mask="url(#vm)"/><rect x="-3" y="315" width="225.4" height="10" fill="url(#g131)" mask="url(#vm)"/><rect x="-3" y="320" width="225.4" height="10" fill="url(#g132)" mask="url(#vm)"/><rect x="-3" y="325" width="225.4" height="10" fill="url(#g133)" mask="url(#vm)"/><rect x="-3" y="330" width="225.4" height="10" fill="url(#g134)" mask="url(#vm)"/><rect x="-3" y="335" width="225.4" height="10" fill="url(#g135)" mask="url(#vm)"/><rect x="-3" y="340" width="225.4" height="10" fill="url(#g136)" mask="url(#vm)"/><rect x="-3" y="345" width="225.4" height="10" fill="url(#g137)" mask="url(#vm)"/><rect x="-3" y="350" width="225.4" height="10" fill="url(#g138)" mask="url(#vm)"/><rect x="-3" y="355" width="225.4" height="10" fill="url(#g139)" mask="url(#vm)"/><rect x="-3" y="360" width="225.4" height="10" fill="url(#g140)" mask="url(#vm)"/><rect x="-3" y="365" width="225.4" height="10" fill="url(#g141)" mask="url(#vm)"/><rect x="-3" y="370" width="225.4" height="10" fill="url(#g142)" mask="url(#vm)"/><rect x="-3" y="375" width="225.4" height="10" fill="#0f0f0f" mask="url(#vm)"/><rect x="-3" y="380" width="225.4" height="10" fill="#0f0f0f" mask="url(#vm)"/><rect x="-3" y="385" width="225.4" height="10" fill="#0f0f0f" mask="url(#vm)"/><rect x="-3" y="390" width="225.4" height="10" fill="#0f0f0f" mask="url(#vm)"/><rect x="-3" y="395" width="225.4" height="10" fill="#0f0f0f" mask="url(#vm)"/><rect x="-3" y="400" width="225.4" height="10" fill="#0f0f0f" mask="url(#vm)"/><rect x="-3" y="405" width="225.4" height="10" fill="#0f0f0f" mask="url(#vm)"/><rect x="-3" y="410" width="225.4" height="10" fill="#0f0f0f" mask="url(#vm)"/><rect x="-3" y="415" width="225.4" height="10" fill="#0f0f0f" mask="url(#vm)"/><rect x="-3" y="420" width="225.4" height="10" fill="#0f0f0f" mask="url(#vm)"/><rect x="-3" width="48.8" y="235.75" height="15" fill="url(#g143)"/><rect x="-3" width="48.8" y="235.75" height="15" fill="url(#g144)" mask="url(#vm2)"/><rect x="-3" width="48.8" y="250.75" height="8.8" fill="url(#g145)"/><rect x="-3" width="48.8" y="250.75" height="8.8" fill="url(#g146)" mask="url(#vm2)"/><rect x="-3" width="48.8" y="259.55" height="11.9" fill="url(#g147)"/><rect x="-3" width="48.8" y="259.55" height="11.9" fill="url(#g148)" mask="url(#vm2)"/><rect x="-3" width="48.8" y="271.45" height="10.95" fill="url(#g149)"/><rect x="-3" width="48.8" y="271.45" height="21.9" fill="url(#g150)" mask="url(#vm)"/><rect x="-3" width="48.8" y="282.4" height="10.95" fill="url(#g151)" mask="url(#vm2)"/><rect x="-3" width="48.8" y="293.35" height="21.9" fill="url(#g152)"/><rect x="-3" width="48.8" y="293.35" height="21.9" fill="url(#g153)" mask="url(#vm2)"/><g clip-path="url(#cs)"><g transform="matrix(1 -1.2886 0 1 0 55.154)"><rect x="39.8" width="182" y="235.75" height="15" fill="url(#g143)"/><rect x="39.8" width="182" y="235.75" height="15" fill="url(#g144)" mask="url(#vm2)"/><rect x="39.8" width="182" y="250.75" height="8.8" fill="url(#g145)"/><rect x="39.8" width="182" y="250.75" height="8.8" fill="url(#g146)" mask="url(#vm2)"/><rect x="39.8" width="182" y="259.55" height="11.9" fill="url(#g147)"/><rect x="39.8" width="182" y="259.55" height="11.9" fill="url(#g148)" mask="url(#vm2)"/><rect x="39.8" width="182" y="271.45" height="10.95" fill="url(#g149)"/><rect x="39.8" width="182" y="271.45" height="21.9" fill="url(#g150)" mask="url(#vm)"/><rect x="39.8" width="182" y="282.4" height="10.95" fill="url(#g151)" mask="url(#vm2)"/><rect x="39.8" width="182" y="293.35" height="21.9" fill="url(#g152)"/><rect x="39.8" width="182" y="293.35" height="21.9" fill="url(#g153)" mask="url(#vm2)"/></g></g></g><use href="#fb" transform="translate(437.6 0) scale(-1 1)"/></g><use href="#ax"/><use href="#wl"/><rect x="459.9" y=".3" width="34.8" height="420.3" fill="url(#cbjet)" stroke="#000" stroke-width="1.3"/><use href="#ct"/><text x="511.4" y="427.1" font-size="18.6">0.0</text><text x="511.4" y="357.18" font-size="18.6">0.5</text><text x="511.4" y="287.27" font-size="18.6">1.0</text><text x="511.4" y="217.35" font-size="18.6">1.5</text><text x="511.4" y="147.43" font-size="18.6">2.0</text><text x="511.4" y="77.52" font-size="18.6">2.5</text><text x="511.4" y="7.6" font-size="18.6">3.0</text><text x="477.4" y="-15.5" font-size="26.8" text-anchor="middle">E</text><use href="#tl"/></g><text x="655.5" y="32.8" font-size="39.5">(b)</text><g transform="translate(1456.96 55.71)"><g filter="url(#jet)"><rect width="437.6" height="420.8" fill="#000"/><g id="fc" clip-path="url(#clc)"><rect x="-3" y="-3" width="225.4" height="8" fill="url(#g154)"/><rect x="-3" y="0" width="225.4" height="10" fill="url(#g155)" mask="url(#vm)"/><rect x="-3" y="5" width="225.4" height="10" fill="#4a4a4a" mask="url(#vm)"/><rect x="-3" y="10" width="225.4" height="10" fill="url(#g156)" mask="url(#vm)"/><rect x="-3" y="15" width="225.4" height="10" fill="url(#g157)" mask="url(#vm)"/><rect x="-3" y="20" width="225.4" height="10" fill="url(#g158)" mask="url(#vm)"/><rect x="-3" y="25" width="225.4" height="10" fill="url(#g159)" mask="url(#vm)"/><rect x="-3" y="30" width="225.4" height="10" fill="url(#g160)" mask="url(#vm)"/><rect x="-3" y="35" width="225.4" height="10" fill="url(#g161)" mask="url(#vm)"/><rect x="-3" y="40" width="225.4" height="10" fill="url(#g162)" mask="url(#vm)"/><rect x="-3" y="45" width="225.4" height="10" fill="url(#g163)" mask="url(#vm)"/><rect x="-3" y="50" width="225.4" height="10" fill="url(#g164)" mask="url(#vm)"/><rect x="-3" y="55" width="225.4" height="10" fill="url(#g165)" mask="url(#vm)"/><rect x="-3" y="60" width="225.4" height="10" fill="url(#g166)" mask="url(#vm)"/><rect x="-3" y="65" width="225.4" height="10" fill="url(#g167)" mask="url(#vm)"/><rect x="-3" y="70" width="225.4" height="10" fill="url(#g168)" mask="url(#vm)"/><rect x="-3" y="75" width="225.4" height="10" fill="url(#g169)" mask="url(#vm)"/><rect x="-3" y="80" width="225.4" height="10" fill="url(#g170)" mask="url(#vm)"/><rect x="-3" y="85" width="225.4" height="10" fill="url(#g171)" mask="url(#vm)"/><rect x="-3" y="90" width="225.4" height="10" fill="url(#g172)" mask="url(#vm)"/><rect x="-3" y="95" width="225.4" height="10" fill="url(#g173)" mask="url(#vm)"/><rect x="-3" y="100" width="225.4" height="10" fill="url(#g174)" mask="url(#vm)"/><rect x="-3" y="105" width="225.4" height="10" fill="url(#g175)" mask="url(#vm)"/><rect x="-3" y="110" width="225.4" height="10" fill="url(#g176)" mask="url(#vm)"/><rect x="-3" y="115" width="225.4" height="10" fill="url(#g177)" mask="url(#vm)"/><rect x="-3" y="120" width="225.4" height="10" fill="url(#g178)" mask="url(#vm)"/><rect x="-3" y="125" width="225.4" height="10" fill="url(#g179)" mask="url(#vm)"/><rect x="-3" y="130" width="225.4" height="10" fill="url(#g180)" mask="url(#vm)"/><rect x="-3" y="135" width="225.4" height="10" fill="url(#g181)" mask="url(#vm)"/><rect x="-3" y="140" width="225.4" height="10" fill="url(#g182)" mask="url(#vm)"/><rect x="-3" y="145" width="225.4" height="10" fill="url(#g183)" mask="url(#vm)"/><rect x="-3" y="150" width="225.4" height="10" fill="url(#g184)" mask="url(#vm)"/><rect x="-3" y="155" width="225.4" height="10" fill="url(#g185)" mask="url(#vm)"/><rect x="-3" y="160" width="225.4" height="10" fill="url(#g186)" mask="url(#vm)"/><rect x="-3" y="165" width="225.4" height="10" fill="url(#g187)" mask="url(#vm)"/><rect x="-3" y="170" width="225.4" height="10" fill="url(#g188)" mask="url(#vm)"/><rect x="-3" y="175" width="225.4" height="10" fill="url(#g189)" mask="url(#vm)"/><rect x="-3" y="180" width="225.4" height="10" fill="url(#g190)" mask="url(#vm)"/><rect x="-3" y="185" width="225.4" height="10" fill="url(#g191)" mask="url(#vm)"/><rect x="-3" y="190" width="225.4" height="10" fill="url(#g192)" mask="url(#vm)"/><rect x="-3" y="195" width="225.4" height="10" fill="url(#g193)" mask="url(#vm)"/><rect x="-3" y="200" width="225.4" height="10" fill="url(#g194)" mask="url(#vm)"/><rect x="-3" y="205" width="225.4" height="10" fill="url(#g195)" mask="url(#vm)"/><rect x="-3" y="210" width="225.4" height="10" fill="url(#g196)" mask="url(#vm)"/><rect x="-3" y="215" width="225.4" height="10" fill="url(#g197)" mask="url(#vm)"/><rect x="-3" y="220" width="225.4" height="10" fill="url(#g198)" mask="url(#vm)"/><rect x="-3" y="225" width="225.4" height="10" fill="url(#g199)" mask="url(#vm)"/><rect x="-3" y="230" width="225.4" height="10" fill="url(#g200)" mask="url(#vm)"/><rect x="-3" y="235" width="225.4" height="10" fill="url(#g201)" mask="url(#vm)"/><rect x="-3" y="240" width="225.4" height="10" fill="url(#g202)" mask="url(#vm)"/><rect x="-3" y="245" width="225.4" height="10" fill="url(#g203)" mask="url(#vm)"/><rect x="-3" y="250" width="225.4" height="10" fill="url(#g204)" mask="url(#vm)"/><rect x="-3" y="255" width="225.4" height="10" fill="url(#g205)" mask="url(#vm)"/><rect x="-3" y="260" width="225.4" height="10" fill="url(#g206)" mask="url(#vm)"/><rect x="-3" y="265" width="225.4" height="10" fill="url(#g207)" mask="url(#vm)"/><rect x="-3" y="270" width="225.4" height="10" fill="url(#g208)" mask="url(#vm)"/><rect x="-3" y="275" width="225.4" height="10" fill="url(#g209)" mask="url(#vm)"/><rect x="-3" y="280" width="225.4" height="10" fill="url(#g210)" mask="url(#vm)"/><rect x="-3" y="285" width="225.4" height="10" fill="url(#g211)" mask="url(#vm)"/><rect x="-3" y="290" width="225.4" height="10" fill="url(#g212)" mask="url(#vm)"/><rect x="-3" y="295" width="225.4" height="10" fill="url(#g213)" mask="url(#vm)"/><rect x="-3" y="300" width="225.4" height="10" fill="url(#g214)" mask="url(#vm)"/><rect x="-3" y="305" width="225.4" height="10" fill="url(#g215)" mask="url(#vm)"/><rect x="-3" y="310" width="225.4" height="10" fill="url(#g216)" mask="url(#vm)"/><rect x="-3" y="315" width="225.4" height="10" fill="url(#g217)" mask="url(#vm)"/><rect x="-3" y="320" width="225.4" height="10" fill="url(#g218)" mask="url(#vm)"/><rect x="-3" y="325" width="225.4" height="10" fill="url(#g219)" mask="url(#vm)"/><rect x="-3" y="330" width="225.4" height="10" fill="url(#g220)" mask="url(#vm)"/><rect x="-3" y="335" width="225.4" height="10" fill="url(#g221)" mask="url(#vm)"/><rect x="-3" y="340" width="225.4" height="10" fill="url(#g222)" mask="url(#vm)"/><rect x="-3" y="345" width="225.4" height="10" fill="url(#g223)" mask="url(#vm)"/><rect x="-3" y="350" width="225.4" height="10" fill="url(#g224)" mask="url(#vm)"/><rect x="-3" y="355" width="225.4" height="10" fill="url(#g225)" mask="url(#vm)"/><rect x="-3" y="360" width="225.4" height="10" fill="url(#g226)" mask="url(#vm)"/><rect x="-3" y="365" width="225.4" height="10" fill="url(#g227)" mask="url(#vm)"/><rect x="-3" y="370" width="225.4" height="10" fill="url(#g228)" mask="url(#vm)"/><rect x="-3" y="375" width="225.4" height="10" fill="url(#g229)" mask="url(#vm)"/><rect x="-3" y="380" width="225.4" height="10" fill="url(#g230)" mask="url(#vm)"/><rect x="-3" y="385" width="225.4" height="10" fill="url(#g231)" mask="url(#vm)"/><rect x="-3" y="390" width="225.4" height="10" fill="url(#g232)" mask="url(#vm)"/><rect x="-3" y="395" width="225.4" height="10" fill="url(#g233)" mask="url(#vm)"/><rect x="-3" y="400" width="225.4" height="10" fill="url(#g234)" mask="url(#vm)"/><rect x="-3" y="405" width="225.4" height="10" fill="url(#g235)" mask="url(#vm)"/><rect x="-3" y="410" width="225.4" height="10" fill="url(#g236)" mask="url(#vm)"/><rect x="-3" y="415" width="225.4" height="10" fill="url(#g237)" mask="url(#vm)"/><rect x="-3" y="420" width="225.4" height="10" fill="url(#g238)" mask="url(#vm)"/><rect x="-3" width="48.8" y="235.75" height="15" fill="url(#g239)"/><rect x="-3" width="48.8" y="235.75" height="15" fill="url(#g240)" mask="url(#vm2)"/><rect x="-3" width="48.8" y="250.75" height="8.8" fill="url(#g241)"/><rect x="-3" width="48.8" y="250.75" height="8.8" fill="url(#g242)" mask="url(#vm2)"/><rect x="-3" width="48.8" y="259.55" height="11.9" fill="url(#g243)"/><rect x="-3" width="48.8" y="259.55" height="11.9" fill="url(#g244)" mask="url(#vm2)"/><rect x="-3" width="48.8" y="271.45" height="10.95" fill="url(#g245)"/><rect x="-3" width="48.8" y="271.45" height="21.9" fill="url(#g246)" mask="url(#vm)"/><rect x="-3" width="48.8" y="282.4" height="10.95" fill="url(#g247)" mask="url(#vm2)"/><rect x="-3" width="48.8" y="293.35" height="21.9" fill="url(#g248)"/><rect x="-3" width="48.8" y="293.35" height="21.9" fill="url(#g249)" mask="url(#vm2)"/><g clip-path="url(#cs)"><g transform="matrix(1 -1.2886 0 1 0 55.154)"><rect x="39.8" width="182" y="235.75" height="15" fill="url(#g239)"/><rect x="39.8" width="182" y="235.75" height="15" fill="url(#g240)" mask="url(#vm2)"/><rect x="39.8" width="182" y="250.75" height="8.8" fill="url(#g241)"/><rect x="39.8" width="182" y="250.75" height="8.8" fill="url(#g242)" mask="url(#vm2)"/><rect x="39.8" width="182" y="259.55" height="11.9" fill="url(#g243)"/><rect x="39.8" width="182" y="259.55" height="11.9" fill="url(#g244)" mask="url(#vm2)"/><rect x="39.8" width="182" y="271.45" height="10.95" fill="url(#g245)"/><rect x="39.8" width="182" y="271.45" height="21.9" fill="url(#g246)" mask="url(#vm)"/><rect x="39.8" width="182" y="282.4" height="10.95" fill="url(#g247)" mask="url(#vm2)"/><rect x="39.8" width="182" y="293.35" height="21.9" fill="url(#g248)"/><rect x="39.8" width="182" y="293.35" height="21.9" fill="url(#g249)" mask="url(#vm2)"/></g></g></g><use href="#fc" transform="translate(437.6 0) scale(-1 1)"/></g><use href="#ax"/><use href="#wl"/><rect x="459.9" y=".3" width="34.8" height="420.3" fill="url(#cbjet)" stroke="#000" stroke-width="1.3"/><use href="#ct"/><text x="511.4" y="427.1" font-size="18.6">0.0</text><text x="511.4" y="357.18" font-size="18.6">0.5</text><text x="511.4" y="287.27" font-size="18.6">1.0</text><text x="511.4" y="217.35" font-size="18.6">1.5</text><text x="511.4" y="147.43" font-size="18.6">2.0</text><text x="511.4" y="77.52" font-size="18.6">2.5</text><text x="511.4" y="7.6" font-size="18.6">3.0</text><text x="477.4" y="-15.5" font-size="26.8" text-anchor="middle">E</text><use href="#tl"/></g><text x="1366.5" y="32.8" font-size="39.5">(c)</text><g transform="translate(101.26 597.6)"><g filter="url(#jet)"><rect width="437.6" height="420.8" fill="#000"/><g id="fd" clip-path="url(#cld)"><rect x="-3" y="-3" width="225.4" height="8" fill="url(#g250)"/><rect x="-3" y="0" width="225.4" height="10" fill="url(#g251)" mask="url(#vm)"/><rect x="-3" y="5" width="225.4" height="10" fill="url(#g252)" mask="url(#vm)"/><rect x="-3" y="10" width="225.4" height="10" fill="url(#g253)" mask="url(#vm)"/><rect x="-3" y="15" width="225.4" height="10" fill="url(#g254)" mask="url(#vm)"/><rect x="-3" y="20" width="225.4" height="10" fill="url(#g255)" mask="url(#vm)"/><rect x="-3" y="25" width="225.4" height="10" fill="url(#g256)" mask="url(#vm)"/><rect x="-3" y="30" width="225.4" height="10" fill="url(#g257)" mask="url(#vm)"/><rect x="-3" y="35" width="225.4" height="10" fill="url(#g258)" mask="url(#vm)"/><rect x="-3" y="40" width="225.4" height="10" fill="url(#g259)" mask="url(#vm)"/><rect x="-3" y="45" width="225.4" height="10" fill="url(#g260)" mask="url(#vm)"/><rect x="-3" y="50" width="225.4" height="10" fill="url(#g261)" mask="url(#vm)"/><rect x="-3" y="55" width="225.4" height="10" fill="url(#g262)" mask="url(#vm)"/><rect x="-3" y="60" width="225.4" height="10" fill="url(#g263)" mask="url(#vm)"/><rect x="-3" y="65" width="225.4" height="10" fill="url(#g264)" mask="url(#vm)"/><rect x="-3" y="70" width="225.4" height="10" fill="url(#g265)" mask="url(#vm)"/><rect x="-3" y="75" width="225.4" height="10" fill="url(#g266)" mask="url(#vm)"/><rect x="-3" y="80" width="225.4" height="10" fill="url(#g267)" mask="url(#vm)"/><rect x="-3" y="85" width="225.4" height="10" fill="url(#g268)" mask="url(#vm)"/><rect x="-3" y="90" width="225.4" height="10" fill="url(#g269)" mask="url(#vm)"/><rect x="-3" y="95" width="225.4" height="10" fill="url(#g270)" mask="url(#vm)"/><rect x="-3" y="100" width="225.4" height="10" fill="url(#g271)" mask="url(#vm)"/><rect x="-3" y="105" width="225.4" height="10" fill="url(#g272)" mask="url(#vm)"/><rect x="-3" y="110" width="225.4" height="10" fill="url(#g273)" mask="url(#vm)"/><rect x="-3" y="115" width="225.4" height="10" fill="url(#g274)" mask="url(#vm)"/><rect x="-3" y="120" width="225.4" height="10" fill="url(#g275)" mask="url(#vm)"/><rect x="-3" y="125" width="225.4" height="10" fill="url(#g276)" mask="url(#vm)"/><rect x="-3" y="130" width="225.4" height="10" fill="url(#g277)" mask="url(#vm)"/><rect x="-3" y="135" width="225.4" height="10" fill="url(#g278)" mask="url(#vm)"/><rect x="-3" y="140" width="225.4" height="10" fill="url(#g279)" mask="url(#vm)"/><rect x="-3" y="145" width="225.4" height="10" fill="url(#g280)" mask="url(#vm)"/><rect x="-3" y="150" width="225.4" height="10" fill="url(#g281)" mask="url(#vm)"/><rect x="-3" y="155" width="225.4" height="10" fill="url(#g282)" mask="url(#vm)"/><rect x="-3" y="160" width="225.4" height="10" fill="url(#g283)" mask="url(#vm)"/><rect x="-3" y="165" width="225.4" height="10" fill="url(#g284)" mask="url(#vm)"/><rect x="-3" y="170" width="225.4" height="10" fill="url(#g285)" mask="url(#vm)"/><rect x="-3" y="175" width="225.4" height="10" fill="url(#g286)" mask="url(#vm)"/><rect x="-3" y="180" width="225.4" height="10" fill="url(#g287)" mask="url(#vm)"/><rect x="-3" y="185" width="225.4" height="10" fill="url(#g288)" mask="url(#vm)"/><rect x="-3" y="190" width="225.4" height="10" fill="url(#g289)" mask="url(#vm)"/><rect x="-3" y="195" width="225.4" height="10" fill="url(#g290)" mask="url(#vm)"/><rect x="-3" y="200" width="225.4" height="10" fill="url(#g291)" mask="url(#vm)"/><rect x="-3" y="205" width="225.4" height="10" fill="url(#g292)" mask="url(#vm)"/><rect x="-3" y="210" width="225.4" height="10" fill="url(#g293)" mask="url(#vm)"/><rect x="-3" y="215" width="225.4" height="10" fill="url(#g294)" mask="url(#vm)"/><rect x="-3" y="220" width="225.4" height="10" fill="url(#g295)" mask="url(#vm)"/><rect x="-3" y="225" width="225.4" height="10" fill="url(#g296)" mask="url(#vm)"/><rect x="-3" y="230" width="225.4" height="10" fill="url(#g297)" mask="url(#vm)"/><rect x="-3" y="235" width="225.4" height="10" fill="url(#g298)" mask="url(#vm)"/><rect x="-3" y="240" width="225.4" height="10" fill="url(#g299)" mask="url(#vm)"/><rect x="-3" y="245" width="225.4" height="10" fill="url(#g300)" mask="url(#vm)"/><rect x="-3" y="250" width="225.4" height="10" fill="url(#g301)" mask="url(#vm)"/><rect x="-3" y="255" width="225.4" height="10" fill="url(#g302)" mask="url(#vm)"/><rect x="-3" y="260" width="225.4" height="10" fill="url(#g303)" mask="url(#vm)"/><rect x="-3" y="265" width="225.4" height="10" fill="url(#g304)" mask="url(#vm)"/><rect x="-3" y="270" width="225.4" height="10" fill="url(#g305)" mask="url(#vm)"/><rect x="-3" y="275" width="225.4" height="10" fill="#000000" mask="url(#vm)"/><rect x="-3" y="280" width="225.4" height="10" fill="#000000" mask="url(#vm)"/><rect x="-3" y="285" width="225.4" height="10" fill="#000000" mask="url(#vm)"/><rect x="-3" y="290" width="225.4" height="10" fill="#000000" mask="url(#vm)"/><rect x="-3" y="295" width="225.4" height="10" fill="#000000" mask="url(#vm)"/><rect x="-3" y="300" width="225.4" height="10" fill="#000000" mask="url(#vm)"/><rect x="-3" y="305" width="225.4" height="10" fill="#000000" mask="url(#vm)"/><rect x="-3" y="310" width="225.4" height="10" fill="#000000" mask="url(#vm)"/><rect x="-3" y="315" width="225.4" height="10" fill="#000000" mask="url(#vm)"/><rect x="-3" y="320" width="225.4" height="10" fill="#000000" mask="url(#vm)"/><rect x="-3" y="325" width="225.4" height="10" fill="#000000" mask="url(#vm)"/><rect x="-3" y="330" width="225.4" height="10" fill="#000000" mask="url(#vm)"/><rect x="-3" y="335" width="225.4" height="10" fill="#000000" mask="url(#vm)"/><rect x="-3" y="340" width="225.4" height="10" fill="#000000" mask="url(#vm)"/><rect x="-3" y="345" width="225.4" height="10" fill="#000000" mask="url(#vm)"/><rect x="-3" y="350" width="225.4" height="10" fill="#000000" mask="url(#vm)"/><rect x="-3" y="355" width="225.4" height="10" fill="#000000" mask="url(#vm)"/><rect x="-3" y="360" width="225.4" height="10" fill="#000000" mask="url(#vm)"/><rect x="-3" y="365" width="225.4" height="10" fill="#000000" mask="url(#vm)"/><rect x="-3" y="370" width="225.4" height="10" fill="#000000" mask="url(#vm)"/><rect x="-3" y="375" width="225.4" height="10" fill="#000000" mask="url(#vm)"/><rect x="-3" y="380" width="225.4" height="10" fill="#000000" mask="url(#vm)"/><rect x="-3" y="385" width="225.4" height="10" fill="#000000" mask="url(#vm)"/><rect x="-3" y="390" width="225.4" height="10" fill="#000000" mask="url(#vm)"/><rect x="-3" y="395" width="225.4" height="10" fill="#000000" mask="url(#vm)"/><rect x="-3" y="400" width="225.4" height="10" fill="#000000" mask="url(#vm)"/><rect x="-3" y="405" width="225.4" height="10" fill="#000000" mask="url(#vm)"/><rect x="-3" y="410" width="225.4" height="10" fill="#000000" mask="url(#vm)"/><rect x="-3" y="415" width="225.4" height="10" fill="#000000" mask="url(#vm)"/><rect x="-3" y="420" width="225.4" height="10" fill="#000000" mask="url(#vm)"/><rect x="-3" width="48.8" y="235.75" height="15" fill="url(#g306)"/><rect x="-3" width="48.8" y="235.75" height="15" fill="url(#g307)" mask="url(#vm2)"/><rect x="-3" width="48.8" y="250.75" height="8.8" fill="url(#g308)"/><rect x="-3" width="48.8" y="250.75" height="8.8" fill="url(#g309)" mask="url(#vm2)"/><rect x="-3" width="48.8" y="259.55" height="11.9" fill="url(#g310)"/><rect x="-3" width="48.8" y="259.55" height="11.9" fill="url(#g311)" mask="url(#vm2)"/><rect x="-3" width="48.8" y="271.45" height="10.95" fill="url(#g312)"/><rect x="-3" width="48.8" y="271.45" height="21.9" fill="url(#g313)" mask="url(#vm)"/><rect x="-3" width="48.8" y="282.4" height="10.95" fill="url(#g314)" mask="url(#vm2)"/><rect x="-3" width="48.8" y="293.35" height="21.9" fill="url(#g315)"/><rect x="-3" width="48.8" y="293.35" height="21.9" fill="url(#g316)" mask="url(#vm2)"/><g clip-path="url(#cs)"><g transform="matrix(1 -1.2886 0 1 0 55.154)"><rect x="39.8" width="182" y="235.75" height="15" fill="url(#g306)"/><rect x="39.8" width="182" y="235.75" height="15" fill="url(#g307)" mask="url(#vm2)"/><rect x="39.8" width="182" y="250.75" height="8.8" fill="url(#g308)"/><rect x="39.8" width="182" y="250.75" height="8.8" fill="url(#g309)" mask="url(#vm2)"/><rect x="39.8" width="182" y="259.55" height="11.9" fill="url(#g310)"/><rect x="39.8" width="182" y="259.55" height="11.9" fill="url(#g311)" mask="url(#vm2)"/><rect x="39.8" width="182" y="271.45" height="10.95" fill="url(#g312)"/><rect x="39.8" width="182" y="271.45" height="21.9" fill="url(#g313)" mask="url(#vm)"/><rect x="39.8" width="182" y="282.4" height="10.95" fill="url(#g314)" mask="url(#vm2)"/><rect x="39.8" width="182" y="293.35" height="21.9" fill="url(#g315)"/><rect x="39.8" width="182" y="293.35" height="21.9" fill="url(#g316)" mask="url(#vm2)"/></g></g></g><use href="#fd" transform="translate(437.6 0) scale(-1 1)"/></g><use href="#ax"/><use href="#wl"/><rect x="459.9" y=".3" width="34.8" height="420.3" fill="url(#cbjet)" stroke="#000" stroke-width="1.3"/><use href="#ct"/><text x="511.4" y="427.1" font-size="18.6">0.0</text><text x="511.4" y="357.18" font-size="18.6">1.5</text><text x="511.4" y="287.27" font-size="18.6">3.0</text><text x="511.4" y="217.35" font-size="18.6">4.5</text><text x="511.4" y="147.43" font-size="18.6">6.0</text><text x="511.4" y="77.52" font-size="18.6">7.5</text><text x="511.4" y="7.6" font-size="18.6">9.0</text><text x="455.7" y="-13.6" font-size="27.4">H<tspan font-size="19.2">×10</tspan><tspan font-size="13.8" dy="-9.6">-3</tspan></text><use href="#tl"/></g><text x="5.5" y="574.3" font-size="39.5">(d)</text><g transform="translate(778.97 597.6)"><g filter="url(#jet)"><rect width="437.6" height="420.8" fill="#000"/><g id="fe" clip-path="url(#cle)"><rect x="-3" y="-3" width="225.4" height="8" fill="url(#g317)"/><rect x="-3" y="0" width="225.4" height="10" fill="url(#g318)" mask="url(#vm)"/><rect x="-3" y="5" width="225.4" height="10" fill="url(#g319)" mask="url(#vm)"/><rect x="-3" y="10" width="225.4" height="10" fill="url(#g320)" mask="url(#vm)"/><rect x="-3" y="15" width="225.4" height="10" fill="url(#g321)" mask="url(#vm)"/><rect x="-3" y="20" width="225.4" height="10" fill="url(#g322)" mask="url(#vm)"/><rect x="-3" y="25" width="225.4" height="10" fill="url(#g323)" mask="url(#vm)"/><rect x="-3" y="30" width="225.4" height="10" fill="url(#g324)" mask="url(#vm)"/><rect x="-3" y="35" width="225.4" height="10" fill="url(#g325)" mask="url(#vm)"/><rect x="-3" y="40" width="225.4" height="10" fill="url(#g326)" mask="url(#vm)"/><rect x="-3" y="45" width="225.4" height="10" fill="url(#g327)" mask="url(#vm)"/><rect x="-3" y="50" width="225.4" height="10" fill="url(#g328)" mask="url(#vm)"/><rect x="-3" y="55" width="225.4" height="10" fill="url(#g329)" mask="url(#vm)"/><rect x="-3" y="60" width="225.4" height="10" fill="url(#g330)" mask="url(#vm)"/><rect x="-3" y="65" width="225.4" height="10" fill="url(#g331)" mask="url(#vm)"/><rect x="-3" y="70" width="225.4" height="10" fill="url(#g332)" mask="url(#vm)"/><rect x="-3" y="75" width="225.4" height="10" fill="url(#g333)" mask="url(#vm)"/><rect x="-3" y="80" width="225.4" height="10" fill="url(#g334)" mask="url(#vm)"/><rect x="-3" y="85" width="225.4" height="10" fill="url(#g335)" mask="url(#vm)"/><rect x="-3" y="90" width="225.4" height="10" fill="url(#g336)" mask="url(#vm)"/><rect x="-3" y="95" width="225.4" height="10" fill="url(#g337)" mask="url(#vm)"/><rect x="-3" y="100" width="225.4" height="10" fill="url(#g338)" mask="url(#vm)"/><rect x="-3" y="105" width="225.4" height="10" fill="url(#g339)" mask="url(#vm)"/><rect x="-3" y="110" width="225.4" height="10" fill="url(#g340)" mask="url(#vm)"/><rect x="-3" y="115" width="225.4" height="10" fill="url(#g341)" mask="url(#vm)"/><rect x="-3" y="120" width="225.4" height="10" fill="url(#g342)" mask="url(#vm)"/><rect x="-3" y="125" width="225.4" height="10" fill="url(#g343)" mask="url(#vm)"/><rect x="-3" y="130" width="225.4" height="10" fill="url(#g344)" mask="url(#vm)"/><rect x="-3" y="135" width="225.4" height="10" fill="url(#g345)" mask="url(#vm)"/><rect x="-3" y="140" width="225.4" height="10" fill="url(#g346)" mask="url(#vm)"/><rect x="-3" y="145" width="225.4" height="10" fill="url(#g347)" mask="url(#vm)"/><rect x="-3" y="150" width="225.4" height="10" fill="url(#g348)" mask="url(#vm)"/><rect x="-3" y="155" width="225.4" height="10" fill="url(#g349)" mask="url(#vm)"/><rect x="-3" y="160" width="225.4" height="10" fill="url(#g350)" mask="url(#vm)"/><rect x="-3" y="165" width="225.4" height="10" fill="url(#g351)" mask="url(#vm)"/><rect x="-3" y="170" width="225.4" height="10" fill="url(#g352)" mask="url(#vm)"/><rect x="-3" y="175" width="225.4" height="10" fill="url(#g353)" mask="url(#vm)"/><rect x="-3" y="180" width="225.4" height="10" fill="url(#g354)" mask="url(#vm)"/><rect x="-3" y="185" width="225.4" height="10" fill="url(#g355)" mask="url(#vm)"/><rect x="-3" y="190" width="225.4" height="10" fill="url(#g356)" mask="url(#vm)"/><rect x="-3" y="195" width="225.4" height="10" fill="url(#g357)" mask="url(#vm)"/><rect x="-3" y="200" width="225.4" height="10" fill="url(#g358)" mask="url(#vm)"/><rect x="-3" y="205" width="225.4" height="10" fill="url(#g359)" mask="url(#vm)"/><rect x="-3" y="210" width="225.4" height="10" fill="url(#g360)" mask="url(#vm)"/><rect x="-3" y="215" width="225.4" height="10" fill="url(#g361)" mask="url(#vm)"/><rect x="-3" y="220" width="225.4" height="10" fill="url(#g362)" mask="url(#vm)"/><rect x="-3" y="225" width="225.4" height="10" fill="url(#g363)" mask="url(#vm)"/><rect x="-3" y="230" width="225.4" height="10" fill="url(#g364)" mask="url(#vm)"/><rect x="-3" y="235" width="225.4" height="10" fill="url(#g365)" mask="url(#vm)"/><rect x="-3" y="240" width="225.4" height="10" fill="url(#g366)" mask="url(#vm)"/><rect x="-3" y="245" width="225.4" height="10" fill="url(#g367)" mask="url(#vm)"/><rect x="-3" y="250" width="225.4" height="10" fill="url(#g368)" mask="url(#vm)"/><rect x="-3" y="255" width="225.4" height="10" fill="url(#g369)" mask="url(#vm)"/><rect x="-3" y="260" width="225.4" height="10" fill="url(#g370)" mask="url(#vm)"/><rect x="-3" y="265" width="225.4" height="10" fill="url(#g371)" mask="url(#vm)"/><rect x="-3" y="270" width="225.4" height="10" fill="url(#g372)" mask="url(#vm)"/><rect x="-3" y="275" width="225.4" height="10" fill="url(#g373)" mask="url(#vm)"/><rect x="-3" y="280" width="225.4" height="10" fill="url(#g374)" mask="url(#vm)"/><rect x="-3" y="285" width="225.4" height="10" fill="url(#g375)" mask="url(#vm)"/><rect x="-3" y="290" width="225.4" height="10" fill="url(#g376)" mask="url(#vm)"/><rect x="-3" y="295" width="225.4" height="10" fill="url(#g377)" mask="url(#vm)"/><rect x="-3" y="300" width="225.4" height="10" fill="url(#g378)" mask="url(#vm)"/><rect x="-3" y="305" width="225.4" height="10" fill="url(#g379)" mask="url(#vm)"/><rect x="-3" y="310" width="225.4" height="10" fill="url(#g380)" mask="url(#vm)"/><rect x="-3" y="315" width="225.4" height="10" fill="url(#g381)" mask="url(#vm)"/><rect x="-3" y="320" width="225.4" height="10" fill="url(#g382)" mask="url(#vm)"/><rect x="-3" y="325" width="225.4" height="10" fill="url(#g383)" mask="url(#vm)"/><rect x="-3" y="330" width="225.4" height="10" fill="url(#g384)" mask="url(#vm)"/><rect x="-3" y="335" width="225.4" height="10" fill="url(#g385)" mask="url(#vm)"/><rect x="-3" y="340" width="225.4" height="10" fill="url(#g386)" mask="url(#vm)"/><rect x="-3" y="345" width="225.4" height="10" fill="url(#g387)" mask="url(#vm)"/><rect x="-3" y="350" width="225.4" height="10" fill="url(#g388)" mask="url(#vm)"/><rect x="-3" y="355" width="225.4" height="10" fill="url(#g389)" mask="url(#vm)"/><rect x="-3" y="360" width="225.4" height="10" fill="url(#g390)" mask="url(#vm)"/><rect x="-3" y="365" width="225.4" height="10" fill="url(#g391)" mask="url(#vm)"/><rect x="-3" y="370" width="225.4" height="10" fill="url(#g392)" mask="url(#vm)"/><rect x="-3" y="375" width="225.4" height="10" fill="url(#g393)" mask="url(#vm)"/><rect x="-3" y="380" width="225.4" height="10" fill="url(#g394)" mask="url(#vm)"/><rect x="-3" y="385" width="225.4" height="10" fill="url(#g395)" mask="url(#vm)"/><rect x="-3" y="390" width="225.4" height="10" fill="url(#g396)" mask="url(#vm)"/><rect x="-3" y="395" width="225.4" height="10" fill="url(#g397)" mask="url(#vm)"/><rect x="-3" y="400" width="225.4" height="10" fill="url(#g398)" mask="url(#vm)"/><rect x="-3" y="405" width="225.4" height="10" fill="url(#g399)" mask="url(#vm)"/><rect x="-3" y="410" width="225.4" height="10" fill="url(#g400)" mask="url(#vm)"/><rect x="-3" y="415" width="225.4" height="10" fill="url(#g401)" mask="url(#vm)"/><rect x="-3" y="420" width="225.4" height="10" fill="url(#g402)" mask="url(#vm)"/><rect x="-3" width="48.8" y="235.75" height="15" fill="url(#g403)"/><rect x="-3" width="48.8" y="235.75" height="15" fill="url(#g404)" mask="url(#vm2)"/><rect x="-3" width="48.8" y="250.75" height="8.8" fill="url(#g405)"/><rect x="-3" width="48.8" y="250.75" height="8.8" fill="url(#g406)" mask="url(#vm2)"/><rect x="-3" width="48.8" y="259.55" height="11.9" fill="url(#g407)"/><rect x="-3" width="48.8" y="259.55" height="11.9" fill="url(#g408)" mask="url(#vm2)"/><rect x="-3" width="48.8" y="271.45" height="5.48" fill="url(#g409)"/><rect x="-3" width="48.8" y="271.45" height="10.95" fill="url(#g410)" mask="url(#vm)"/><rect x="-3" width="48.8" y="276.92" height="10.95" fill="url(#g411)" mask="url(#vm)"/><rect x="-3" width="48.8" y="282.4" height="10.95" fill="url(#g412)" mask="url(#vm)"/><rect x="-3" width="48.8" y="287.88" height="5.48" fill="url(#g413)" mask="url(#vm2)"/><rect x="-3" width="48.8" y="293.35" height="5.47" fill="url(#g414)"/><rect x="-3" width="48.8" y="293.35" height="10.95" fill="url(#g415)" mask="url(#vm)"/><rect x="-3" width="48.8" y="298.83" height="10.95" fill="url(#g416)" mask="url(#vm)"/><rect x="-3" width="48.8" y="304.3" height="10.95" fill="url(#g417)" mask="url(#vm)"/><rect x="-3" width="48.8" y="309.77" height="5.47" fill="url(#g418)" mask="url(#vm2)"/><g clip-path="url(#cs)"><g transform="matrix(1 -1.2886 0 1 0 55.154)"><rect x="39.8" width="182" y="235.75" height="15" fill="url(#g403)"/><rect x="39.8" width="182" y="235.75" height="15" fill="url(#g404)" mask="url(#vm2)"/><rect x="39.8" width="182" y="250.75" height="8.8" fill="url(#g405)"/><rect x="39.8" width="182" y="250.75" height="8.8" fill="url(#g406)" mask="url(#vm2)"/><rect x="39.8" width="182" y="259.55" height="11.9" fill="url(#g407)"/><rect x="39.8" width="182" y="259.55" height="11.9" fill="url(#g408)" mask="url(#vm2)"/><rect x="39.8" width="182" y="271.45" height="5.48" fill="url(#g409)"/><rect x="39.8" width="182" y="271.45" height="10.95" fill="url(#g410)" mask="url(#vm)"/><rect x="39.8" width="182" y="276.92" height="10.95" fill="url(#g411)" mask="url(#vm)"/><rect x="39.8" width="182" y="282.4" height="10.95" fill="url(#g412)" mask="url(#vm)"/><rect x="39.8" width="182" y="287.88" height="5.48" fill="url(#g413)" mask="url(#vm2)"/><rect x="39.8" width="182" y="293.35" height="5.47" fill="url(#g414)"/><rect x="39.8" width="182" y="293.35" height="10.95" fill="url(#g415)" mask="url(#vm)"/><rect x="39.8" width="182" y="298.83" height="10.95" fill="url(#g416)" mask="url(#vm)"/><rect x="39.8" width="182" y="304.3" height="10.95" fill="url(#g417)" mask="url(#vm)"/><rect x="39.8" width="182" y="309.77" height="5.47" fill="url(#g418)" mask="url(#vm2)"/></g></g></g><use href="#fe" transform="translate(437.6 0) scale(-1 1)"/></g><use href="#ax"/><use href="#wl"/><rect x="459.9" y=".3" width="34.8" height="420.3" fill="url(#cbjet)" stroke="#000" stroke-width="1.3"/><use href="#ct"/><text x="511.4" y="427.1" font-size="18.6">0.0</text><text x="511.4" y="357.18" font-size="18.6">1.5</text><text x="511.4" y="287.27" font-size="18.6">3.0</text><text x="511.4" y="217.35" font-size="18.6">4.5</text><text x="511.4" y="147.43" font-size="18.6">6.0</text><text x="511.4" y="77.52" font-size="18.6">7.5</text><text x="511.4" y="7.6" font-size="18.6">9.0</text><text x="455.7" y="-13.6" font-size="27.4">H<tspan font-size="19.2">×10</tspan><tspan font-size="13.8" dy="-9.6">-3</tspan></text><use href="#tl"/></g><text x="655.5" y="574.3" font-size="39.5">(e)</text><g transform="translate(1458.2 597.54)"><g filter="url(#jet)"><rect width="437.6" height="420.8" fill="#000"/><g id="ff" clip-path="url(#clf)"><rect x="-3" y="-3" width="225.4" height="8" fill="url(#g419)"/><rect x="-3" y="0" width="225.4" height="10" fill="url(#g420)" mask="url(#vm)"/><rect x="-3" y="5" width="225.4" height="10" fill="url(#g421)" mask="url(#vm)"/><rect x="-3" y="10" width="225.4" height="10" fill="url(#g422)" mask="url(#vm)"/><rect x="-3" y="15" width="225.4" height="10" fill="url(#g423)" mask="url(#vm)"/><rect x="-3" y="20" width="225.4" height="10" fill="url(#g424)" mask="url(#vm)"/><rect x="-3" y="25" width="225.4" height="10" fill="url(#g425)" mask="url(#vm)"/><rect x="-3" y="30" width="225.4" height="10" fill="url(#g426)" mask="url(#vm)"/><rect x="-3" y="35" width="225.4" height="10" fill="url(#g427)" mask="url(#vm)"/><rect x="-3" y="40" width="225.4" height="10" fill="url(#g428)" mask="url(#vm)"/><rect x="-3" y="45" width="225.4" height="10" fill="url(#g429)" mask="url(#vm)"/><rect x="-3" y="50" width="225.4" height="10" fill="url(#g430)" mask="url(#vm)"/><rect x="-3" y="55" width="225.4" height="10" fill="url(#g431)" mask="url(#vm)"/><rect x="-3" y="60" width="225.4" height="10" fill="url(#g432)" mask="url(#vm)"/><rect x="-3" y="65" width="225.4" height="10" fill="url(#g433)" mask="url(#vm)"/><rect x="-3" y="70" width="225.4" height="10" fill="url(#g434)" mask="url(#vm)"/><rect x="-3" y="75" width="225.4" height="10" fill="url(#g435)" mask="url(#vm)"/><rect x="-3" y="80" width="225.4" height="10" fill="url(#g436)" mask="url(#vm)"/><rect x="-3" y="85" width="225.4" height="10" fill="url(#g437)" mask="url(#vm)"/><rect x="-3" y="90" width="225.4" height="10" fill="url(#g438)" mask="url(#vm)"/><rect x="-3" y="95" width="225.4" height="10" fill="url(#g439)" mask="url(#vm)"/><rect x="-3" y="100" width="225.4" height="10" fill="url(#g440)" mask="url(#vm)"/><rect x="-3" y="105" width="225.4" height="10" fill="url(#g441)" mask="url(#vm)"/><rect x="-3" y="110" width="225.4" height="10" fill="url(#g442)" mask="url(#vm)"/><rect x="-3" y="115" width="225.4" height="10" fill="url(#g443)" mask="url(#vm)"/><rect x="-3" y="120" width="225.4" height="10" fill="url(#g444)" mask="url(#vm)"/><rect x="-3" y="125" width="225.4" height="10" fill="url(#g445)" mask="url(#vm)"/><rect x="-3" y="130" width="225.4" height="10" fill="url(#g446)" mask="url(#vm)"/><rect x="-3" y="135" width="225.4" height="10" fill="url(#g447)" mask="url(#vm)"/><rect x="-3" y="140" width="225.4" height="10" fill="url(#g448)" mask="url(#vm)"/><rect x="-3" y="145" width="225.4" height="10" fill="url(#g449)" mask="url(#vm)"/><rect x="-3" y="150" width="225.4" height="10" fill="url(#g450)" mask="url(#vm)"/><rect x="-3" y="155" width="225.4" height="10" fill="url(#g451)" mask="url(#vm)"/><rect x="-3" y="160" width="225.4" height="10" fill="url(#g452)" mask="url(#vm)"/><rect x="-3" y="165" width="225.4" height="10" fill="url(#g453)" mask="url(#vm)"/><rect x="-3" y="170" width="225.4" height="10" fill="url(#g454)" mask="url(#vm)"/><rect x="-3" y="175" width="225.4" height="10" fill="url(#g455)" mask="url(#vm)"/><rect x="-3" y="180" width="225.4" height="10" fill="url(#g456)" mask="url(#vm)"/><rect x="-3" y="185" width="225.4" height="10" fill="url(#g457)" mask="url(#vm)"/><rect x="-3" y="190" width="225.4" height="10" fill="url(#g458)" mask="url(#vm)"/><rect x="-3" y="195" width="225.4" height="10" fill="url(#g459)" mask="url(#vm)"/><rect x="-3" y="200" width="225.4" height="10" fill="url(#g460)" mask="url(#vm)"/><rect x="-3" y="205" width="225.4" height="10" fill="url(#g461)" mask="url(#vm)"/><rect x="-3" y="210" width="225.4" height="10" fill="url(#g462)" mask="url(#vm)"/><rect x="-3" y="215" width="225.4" height="10" fill="url(#g463)" mask="url(#vm)"/><rect x="-3" y="220" width="225.4" height="10" fill="url(#g464)" mask="url(#vm)"/><rect x="-3" y="225" width="225.4" height="10" fill="url(#g465)" mask="url(#vm)"/><rect x="-3" y="230" width="225.4" height="10" fill="url(#g466)" mask="url(#vm)"/><rect x="-3" y="235" width="225.4" height="10" fill="url(#g467)" mask="url(#vm)"/><rect x="-3" y="240" width="225.4" height="10" fill="url(#g468)" mask="url(#vm)"/><rect x="-3" y="245" width="225.4" height="10" fill="url(#g469)" mask="url(#vm)"/><rect x="-3" y="250" width="225.4" height="10" fill="url(#g470)" mask="url(#vm)"/><rect x="-3" y="255" width="225.4" height="10" fill="url(#g471)" mask="url(#vm)"/><rect x="-3" y="260" width="225.4" height="10" fill="url(#g472)" mask="url(#vm)"/><rect x="-3" y="265" width="225.4" height="10" fill="url(#g473)" mask="url(#vm)"/><rect x="-3" y="270" width="225.4" height="10" fill="url(#g474)" mask="url(#vm)"/><rect x="-3" y="275" width="225.4" height="10" fill="url(#g475)" mask="url(#vm)"/><rect x="-3" y="280" width="225.4" height="10" fill="url(#g476)" mask="url(#vm)"/><rect x="-3" y="285" width="225.4" height="10" fill="url(#g477)" mask="url(#vm)"/><rect x="-3" y="290" width="225.4" height="10" fill="url(#g478)" mask="url(#vm)"/><rect x="-3" y="295" width="225.4" height="10" fill="url(#g479)" mask="url(#vm)"/><rect x="-3" y="300" width="225.4" height="10" fill="url(#g480)" mask="url(#vm)"/><rect x="-3" y="305" width="225.4" height="10" fill="url(#g481)" mask="url(#vm)"/><rect x="-3" y="310" width="225.4" height="10" fill="url(#g482)" mask="url(#vm)"/><rect x="-3" y="315" width="225.4" height="10" fill="url(#g483)" mask="url(#vm)"/><rect x="-3" y="320" width="225.4" height="10" fill="url(#g484)" mask="url(#vm)"/><rect x="-3" y="325" width="225.4" height="10" fill="url(#g485)" mask="url(#vm)"/><rect x="-3" y="330" width="225.4" height="10" fill="url(#g486)" mask="url(#vm)"/><rect x="-3" y="335" width="225.4" height="10" fill="url(#g487)" mask="url(#vm)"/><rect x="-3" y="340" width="225.4" height="10" fill="url(#g488)" mask="url(#vm)"/><rect x="-3" y="345" width="225.4" height="10" fill="url(#g489)" mask="url(#vm)"/><rect x="-3" y="350" width="225.4" height="10" fill="url(#g490)" mask="url(#vm)"/><rect x="-3" y="355" width="225.4" height="10" fill="url(#g491)" mask="url(#vm)"/><rect x="-3" y="360" width="225.4" height="10" fill="url(#g492)" mask="url(#vm)"/><rect x="-3" y="365" width="225.4" height="10" fill="url(#g493)" mask="url(#vm)"/><rect x="-3" y="370" width="225.4" height="10" fill="url(#g494)" mask="url(#vm)"/><rect x="-3" y="375" width="225.4" height="10" fill="url(#g495)" mask="url(#vm)"/><rect x="-3" y="380" width="225.4" height="10" fill="url(#g496)" mask="url(#vm)"/><rect x="-3" y="385" width="225.4" height="10" fill="url(#g497)" mask="url(#vm)"/><rect x="-3" y="390" width="225.4" height="10" fill="url(#g498)" mask="url(#vm)"/><rect x="-3" y="395" width="225.4" height="10" fill="url(#g499)" mask="url(#vm)"/><rect x="-3" y="400" width="225.4" height="10" fill="url(#g500)" mask="url(#vm)"/><rect x="-3" y="405" width="225.4" height="10" fill="url(#g501)" mask="url(#vm)"/><rect x="-3" y="410" width="225.4" height="10" fill="url(#g502)" mask="url(#vm)"/><rect x="-3" y="415" width="225.4" height="10" fill="url(#g503)" mask="url(#vm)"/><rect x="-3" y="420" width="225.4" height="10" fill="url(#g504)" mask="url(#vm)"/><rect x="-3" width="48.8" y="235.75" height="15" fill="url(#g505)"/><rect x="-3" width="48.8" y="235.75" height="15" fill="url(#g506)" mask="url(#vm2)"/><rect x="-3" width="48.8" y="250.75" height="8.8" fill="url(#g507)"/><rect x="-3" width="48.8" y="250.75" height="8.8" fill="url(#g508)" mask="url(#vm2)"/><rect x="-3" width="48.8" y="259.55" height="11.9" fill="url(#g509)"/><rect x="-3" width="48.8" y="259.55" height="11.9" fill="url(#g510)" mask="url(#vm2)"/><rect x="-3" width="48.8" y="271.45" height="5.48" fill="url(#g511)"/><rect x="-3" width="48.8" y="271.45" height="10.95" fill="url(#g512)" mask="url(#vm)"/><rect x="-3" width="48.8" y="276.92" height="10.95" fill="url(#g513)" mask="url(#vm)"/><rect x="-3" width="48.8" y="282.4" height="10.95" fill="url(#g514)" mask="url(#vm)"/><rect x="-3" width="48.8" y="287.88" height="5.48" fill="url(#g515)" mask="url(#vm2)"/><rect x="-3" width="48.8" y="293.35" height="5.47" fill="url(#g516)"/><rect x="-3" width="48.8" y="293.35" height="10.95" fill="url(#g517)" mask="url(#vm)"/><rect x="-3" width="48.8" y="298.83" height="10.95" fill="url(#g518)" mask="url(#vm)"/><rect x="-3" width="48.8" y="304.3" height="10.95" fill="url(#g519)" mask="url(#vm)"/><rect x="-3" width="48.8" y="309.77" height="5.47" fill="url(#g520)" mask="url(#vm2)"/><g clip-path="url(#cs)"><g transform="matrix(1 -1.2886 0 1 0 55.154)"><rect x="39.8" width="182" y="235.75" height="15" fill="url(#g505)"/><rect x="39.8" width="182" y="235.75" height="15" fill="url(#g506)" mask="url(#vm2)"/><rect x="39.8" width="182" y="250.75" height="8.8" fill="url(#g507)"/><rect x="39.8" width="182" y="250.75" height="8.8" fill="url(#g508)" mask="url(#vm2)"/><rect x="39.8" width="182" y="259.55" height="11.9" fill="url(#g509)"/><rect x="39.8" width="182" y="259.55" height="11.9" fill="url(#g510)" mask="url(#vm2)"/><rect x="39.8" width="182" y="271.45" height="5.48" fill="url(#g511)"/><rect x="39.8" width="182" y="271.45" height="10.95" fill="url(#g512)" mask="url(#vm)"/><rect x="39.8" width="182" y="276.92" height="10.95" fill="url(#g513)" mask="url(#vm)"/><rect x="39.8" width="182" y="282.4" height="10.95" fill="url(#g514)" mask="url(#vm)"/><rect x="39.8" width="182" y="287.88" height="5.48" fill="url(#g515)" mask="url(#vm2)"/><rect x="39.8" width="182" y="293.35" height="5.47" fill="url(#g516)"/><rect x="39.8" width="182" y="293.35" height="10.95" fill="url(#g517)" mask="url(#vm)"/><rect x="39.8" width="182" y="298.83" height="10.95" fill="url(#g518)" mask="url(#vm)"/><rect x="39.8" width="182" y="304.3" height="10.95" fill="url(#g519)" mask="url(#vm)"/><rect x="39.8" width="182" y="309.77" height="5.47" fill="url(#g520)" mask="url(#vm2)"/></g></g></g><use href="#ff" transform="translate(437.6 0) scale(-1 1)"/></g><use href="#ax"/><use href="#wl"/><rect x="459.9" y=".3" width="34.8" height="420.3" fill="url(#cbjet)" stroke="#000" stroke-width="1.3"/><use href="#ct"/><text x="511.4" y="427.1" font-size="18.6">0.0</text><text x="511.4" y="357.18" font-size="18.6">1.5</text><text x="511.4" y="287.27" font-size="18.6">3.0</text><text x="511.4" y="217.35" font-size="18.6">4.5</text><text x="511.4" y="147.43" font-size="18.6">6.0</text><text x="511.4" y="77.52" font-size="18.6">7.5</text><text x="511.4" y="7.6" font-size="18.6">9.0</text><text x="455.7" y="-13.6" font-size="27.4">H<tspan font-size="19.2">×10</tspan><tspan font-size="13.8" dy="-9.6">-3</tspan></text><use href="#tl"/></g><text x="1366.5" y="574.3" font-size="39.5">(f)</text><g transform="translate(101.1 1139.6)"><g filter="url(#hot)"><rect width="437.6" height="420.8" fill="#000"/><g id="fg" clip-path="url(#clg)"><rect x="-3" width="48.8" y="235.75" height="7.5" fill="#000000"/><rect x="-3" width="48.8" y="235.75" height="15" fill="#000000" mask="url(#vm)"/><rect x="-3" width="48.8" y="243.25" height="7.5" fill="url(#g521)" mask="url(#vm2)"/><rect x="-3" width="48.8" y="250.75" height="8.8" fill="url(#g522)"/><rect x="-3" width="48.8" y="250.75" height="8.8" fill="url(#g523)" mask="url(#vm2)"/><rect x="-3" width="48.8" y="259.55" height="11.9" fill="url(#g524)"/><rect x="-3" width="48.8" y="259.55" height="11.9" fill="url(#g525)" mask="url(#vm2)"/><rect x="-3" width="48.8" y="271.45" height="10.95" fill="url(#g526)"/><rect x="-3" width="48.8" y="271.45" height="21.9" fill="url(#g527)" mask="url(#vm)"/><rect x="-3" width="48.8" y="282.4" height="10.95" fill="url(#g528)" mask="url(#vm2)"/><rect x="-3" width="48.8" y="293.35" height="21.9" fill="url(#g529)"/><rect x="-3" width="48.8" y="293.35" height="21.9" fill="url(#g530)" mask="url(#vm2)"/><g clip-path="url(#cs)"><g transform="matrix(1 -1.2886 0 1 0 55.154)"><rect x="39.8" width="182" y="235.75" height="7.5" fill="#000000"/><rect x="39.8" width="182" y="235.75" height="15" fill="#000000" mask="url(#vm)"/><rect x="39.8" width="182" y="243.25" height="7.5" fill="url(#g521)" mask="url(#vm2)"/><rect x="39.8" width="182" y="250.75" height="8.8" fill="url(#g522)"/><rect x="39.8" width="182" y="250.75" height="8.8" fill="url(#g523)" mask="url(#vm2)"/><rect x="39.8" width="182" y="259.55" height="11.9" fill="url(#g524)"/><rect x="39.8" width="182" y="259.55" height="11.9" fill="url(#g525)" mask="url(#vm2)"/><rect x="39.8" width="182" y="271.45" height="10.95" fill="url(#g526)"/><rect x="39.8" width="182" y="271.45" height="21.9" fill="url(#g527)" mask="url(#vm)"/><rect x="39.8" width="182" y="282.4" height="10.95" fill="url(#g528)" mask="url(#vm2)"/><rect x="39.8" width="182" y="293.35" height="21.9" fill="url(#g529)"/><rect x="39.8" width="182" y="293.35" height="21.9" fill="url(#g530)" mask="url(#vm2)"/></g></g></g><use href="#fg" transform="translate(437.6 0) scale(-1 1)"/></g><use href="#ax"/><use href="#wl"/><rect x="459.9" y=".3" width="34.8" height="420.3" fill="url(#cbhot)" stroke="#000" stroke-width="1.3"/><use href="#ct"/><text x="511.4" y="427.1" font-size="18.6">0.0</text><text x="511.4" y="357.18" font-size="18.6">0.5</text><text x="511.4" y="287.27" font-size="18.6">1.0</text><text x="511.4" y="217.35" font-size="18.6">1.5</text><text x="511.4" y="147.43" font-size="18.6">2.0</text><text x="511.4" y="77.52" font-size="18.6">2.5</text><text x="511.4" y="7.6" font-size="18.6">3.0</text><text x="453.2" y="-13.6" font-size="27.4">Q<tspan font-size="19.2">×10</tspan><tspan font-size="13.8" dy="-9.6">19</tspan></text><use href="#tl"/></g><text x="5.5" y="1105.5" font-size="39.5">(g)</text><g transform="translate(778.97 1139.45)"><g filter="url(#hot)"><rect width="437.6" height="420.8" fill="#000"/><g id="fh" clip-path="url(#clh)"><rect x="-3" width="48.8" y="235.75" height="7.5" fill="#000000"/><rect x="-3" width="48.8" y="235.75" height="15" fill="url(#g531)" mask="url(#vm)"/><rect x="-3" width="48.8" y="243.25" height="7.5" fill="url(#g532)" mask="url(#vm2)"/><rect x="-3" width="48.8" y="250.75" height="8.8" fill="url(#g533)"/><rect x="-3" width="48.8" y="250.75" height="8.8" fill="url(#g534)" mask="url(#vm2)"/><rect x="-3" width="48.8" y="259.55" height="5.95" fill="url(#g535)"/><rect x="-3" width="48.8" y="259.55" height="11.9" fill="url(#g536)" mask="url(#vm)"/><rect x="-3" width="48.8" y="265.5" height="5.95" fill="url(#g537)" mask="url(#vm2)"/><rect x="-3" width="48.8" y="271.45" height="10.95" fill="url(#g538)"/><rect x="-3" width="48.8" y="271.45" height="21.9" fill="url(#g539)" mask="url(#vm)"/><rect x="-3" width="48.8" y="282.4" height="10.95" fill="url(#g540)" mask="url(#vm2)"/><rect x="-3" width="48.8" y="293.35" height="21.9" fill="url(#g541)"/><rect x="-3" width="48.8" y="293.35" height="21.9" fill="#000000" mask="url(#vm2)"/><g clip-path="url(#cs)"><g transform="matrix(1 -1.2886 0 1 0 55.154)"><rect x="39.8" width="182" y="235.75" height="7.5" fill="#000000"/><rect x="39.8" width="182" y="235.75" height="15" fill="url(#g531)" mask="url(#vm)"/><rect x="39.8" width="182" y="243.25" height="7.5" fill="url(#g532)" mask="url(#vm2)"/><rect x="39.8" width="182" y="250.75" height="8.8" fill="url(#g533)"/><rect x="39.8" width="182" y="250.75" height="8.8" fill="url(#g534)" mask="url(#vm2)"/><rect x="39.8" width="182" y="259.55" height="5.95" fill="url(#g535)"/><rect x="39.8" width="182" y="259.55" height="11.9" fill="url(#g536)" mask="url(#vm)"/><rect x="39.8" width="182" y="265.5" height="5.95" fill="url(#g537)" mask="url(#vm2)"/><rect x="39.8" width="182" y="271.45" height="10.95" fill="url(#g538)"/><rect x="39.8" width="182" y="271.45" height="21.9" fill="url(#g539)" mask="url(#vm)"/><rect x="39.8" width="182" y="282.4" height="10.95" fill="url(#g540)" mask="url(#vm2)"/><rect x="39.8" width="182" y="293.35" height="21.9" fill="url(#g541)"/><rect x="39.8" width="182" y="293.35" height="21.9" fill="#000000" mask="url(#vm2)"/></g></g></g><use href="#fh" transform="translate(437.6 0) scale(-1 1)"/></g><use href="#ax"/><use href="#wl"/><rect x="459.9" y=".3" width="34.8" height="420.3" fill="url(#cbhot)" stroke="#000" stroke-width="1.3"/><use href="#ct"/><text x="511.4" y="427.1" font-size="18.6">0.0</text><text x="511.4" y="357.18" font-size="18.6">0.4</text><text x="511.4" y="287.27" font-size="18.6">0.8</text><text x="511.4" y="217.35" font-size="18.6">1.2</text><text x="511.4" y="147.43" font-size="18.6">1.6</text><text x="511.4" y="77.52" font-size="18.6">2.0</text><text x="511.4" y="7.6" font-size="18.6">2.4</text><text x="453.2" y="-13.6" font-size="27.4">Q<tspan font-size="19.2">×10</tspan><tspan font-size="13.8" dy="-9.6">19</tspan></text><use href="#tl"/></g><text x="655.5" y="1105.5" font-size="39.5">(h)</text><g transform="translate(1456.96 1139.5)"><g filter="url(#hot)"><rect width="437.6" height="420.8" fill="#000"/><g id="fi" clip-path="url(#cli)"><rect x="-3" width="48.8" y="235.75" height="7.5" fill="#000000"/><rect x="-3" width="48.8" y="235.75" height="15" fill="url(#g542)" mask="url(#vm)"/><rect x="-3" width="48.8" y="243.25" height="7.5" fill="url(#g543)" mask="url(#vm2)"/><rect x="-3" width="48.8" y="250.75" height="8.8" fill="url(#g544)"/><rect x="-3" width="48.8" y="250.75" height="8.8" fill="url(#g545)" mask="url(#vm2)"/><rect x="-3" width="48.8" y="259.55" height="5.95" fill="url(#g546)"/><rect x="-3" width="48.8" y="259.55" height="11.9" fill="url(#g547)" mask="url(#vm)"/><rect x="-3" width="48.8" y="265.5" height="5.95" fill="url(#g548)" mask="url(#vm2)"/><rect x="-3" width="48.8" y="271.45" height="5.48" fill="url(#g549)"/><rect x="-3" width="48.8" y="271.45" height="10.95" fill="url(#g550)" mask="url(#vm)"/><rect x="-3" width="48.8" y="276.92" height="10.95" fill="url(#g551)" mask="url(#vm)"/><rect x="-3" width="48.8" y="282.4" height="10.95" fill="url(#g552)" mask="url(#vm)"/><rect x="-3" width="48.8" y="287.88" height="5.48" fill="url(#g553)" mask="url(#vm2)"/><rect x="-3" width="48.8" y="293.35" height="21.9" fill="#000000"/><rect x="-3" width="48.8" y="293.35" height="21.9" fill="#000000" mask="url(#vm2)"/><g clip-path="url(#cs)"><g transform="matrix(1 -1.2886 0 1 0 55.154)"><rect x="39.8" width="182" y="235.75" height="7.5" fill="#000000"/><rect x="39.8" width="182" y="235.75" height="15" fill="url(#g542)" mask="url(#vm)"/><rect x="39.8" width="182" y="243.25" height="7.5" fill="url(#g543)" mask="url(#vm2)"/><rect x="39.8" width="182" y="250.75" height="8.8" fill="url(#g544)"/><rect x="39.8" width="182" y="250.75" height="8.8" fill="url(#g545)" mask="url(#vm2)"/><rect x="39.8" width="182" y="259.55" height="5.95" fill="url(#g546)"/><rect x="39.8" width="182" y="259.55" height="11.9" fill="url(#g547)" mask="url(#vm)"/><rect x="39.8" width="182" y="265.5" height="5.95" fill="url(#g548)" mask="url(#vm2)"/><rect x="39.8" width="182" y="271.45" height="5.48" fill="url(#g549)"/><rect x="39.8" width="182" y="271.45" height="10.95" fill="url(#g550)" mask="url(#vm)"/><rect x="39.8" width="182" y="276.92" height="10.95" fill="url(#g551)" mask="url(#vm)"/><rect x="39.8" width="182" y="282.4" height="10.95" fill="url(#g552)" mask="url(#vm)"/><rect x="39.8" width="182" y="287.88" height="5.48" fill="url(#g553)" mask="url(#vm2)"/><rect x="39.8" width="182" y="293.35" height="21.9" fill="#000000"/><rect x="39.8" width="182" y="293.35" height="21.9" fill="#000000" mask="url(#vm2)"/></g></g></g><use href="#fi" transform="translate(437.6 0) scale(-1 1)"/></g><use href="#ax"/><use href="#wl"/><rect x="459.9" y=".3" width="34.8" height="420.3" fill="url(#cbhot)" stroke="#000" stroke-width="1.3"/><use href="#ct"/><text x="511.4" y="427.1" font-size="18.6">0.0</text><text x="511.4" y="357.18" font-size="18.6">0.5</text><text x="511.4" y="287.27" font-size="18.6">1.0</text><text x="511.4" y="217.35" font-size="18.6">1.5</text><text x="511.4" y="147.43" font-size="18.6">2.0</text><text x="511.4" y="77.52" font-size="18.6">2.5</text><text x="511.4" y="7.6" font-size="18.6">3.0</text><text x="453.2" y="-13.6" font-size="27.4">Q<tspan font-size="19.2">×10</tspan><tspan font-size="13.8" dy="-9.6">19</tspan></text><use href="#tl"/></g><text x="1366.5" y="1105.5" font-size="39.5">(i)</text><text x="335" y="1674.2" font-family='"Liberation Serif", "DejaVu Serif", serif' font-size="37.5" text-anchor="middle"><tspan font-style="italic">λ</tspan> = 500<tspan font-style="italic">nm</tspan></text><text x="1027" y="1674.2" font-family='"Liberation Serif", "DejaVu Serif", serif' font-size="37.5" text-anchor="middle"><tspan font-style="italic">λ</tspan> = 1500<tspan font-style="italic">nm</tspan></text><text x="1705" y="1674.2" font-family='"Liberation Serif", "DejaVu Serif", serif' font-size="37.5" text-anchor="middle"><tspan font-style="italic">λ</tspan> = 2500<tspan font-style="italic">nm</tspan></text></svg></body></html>
